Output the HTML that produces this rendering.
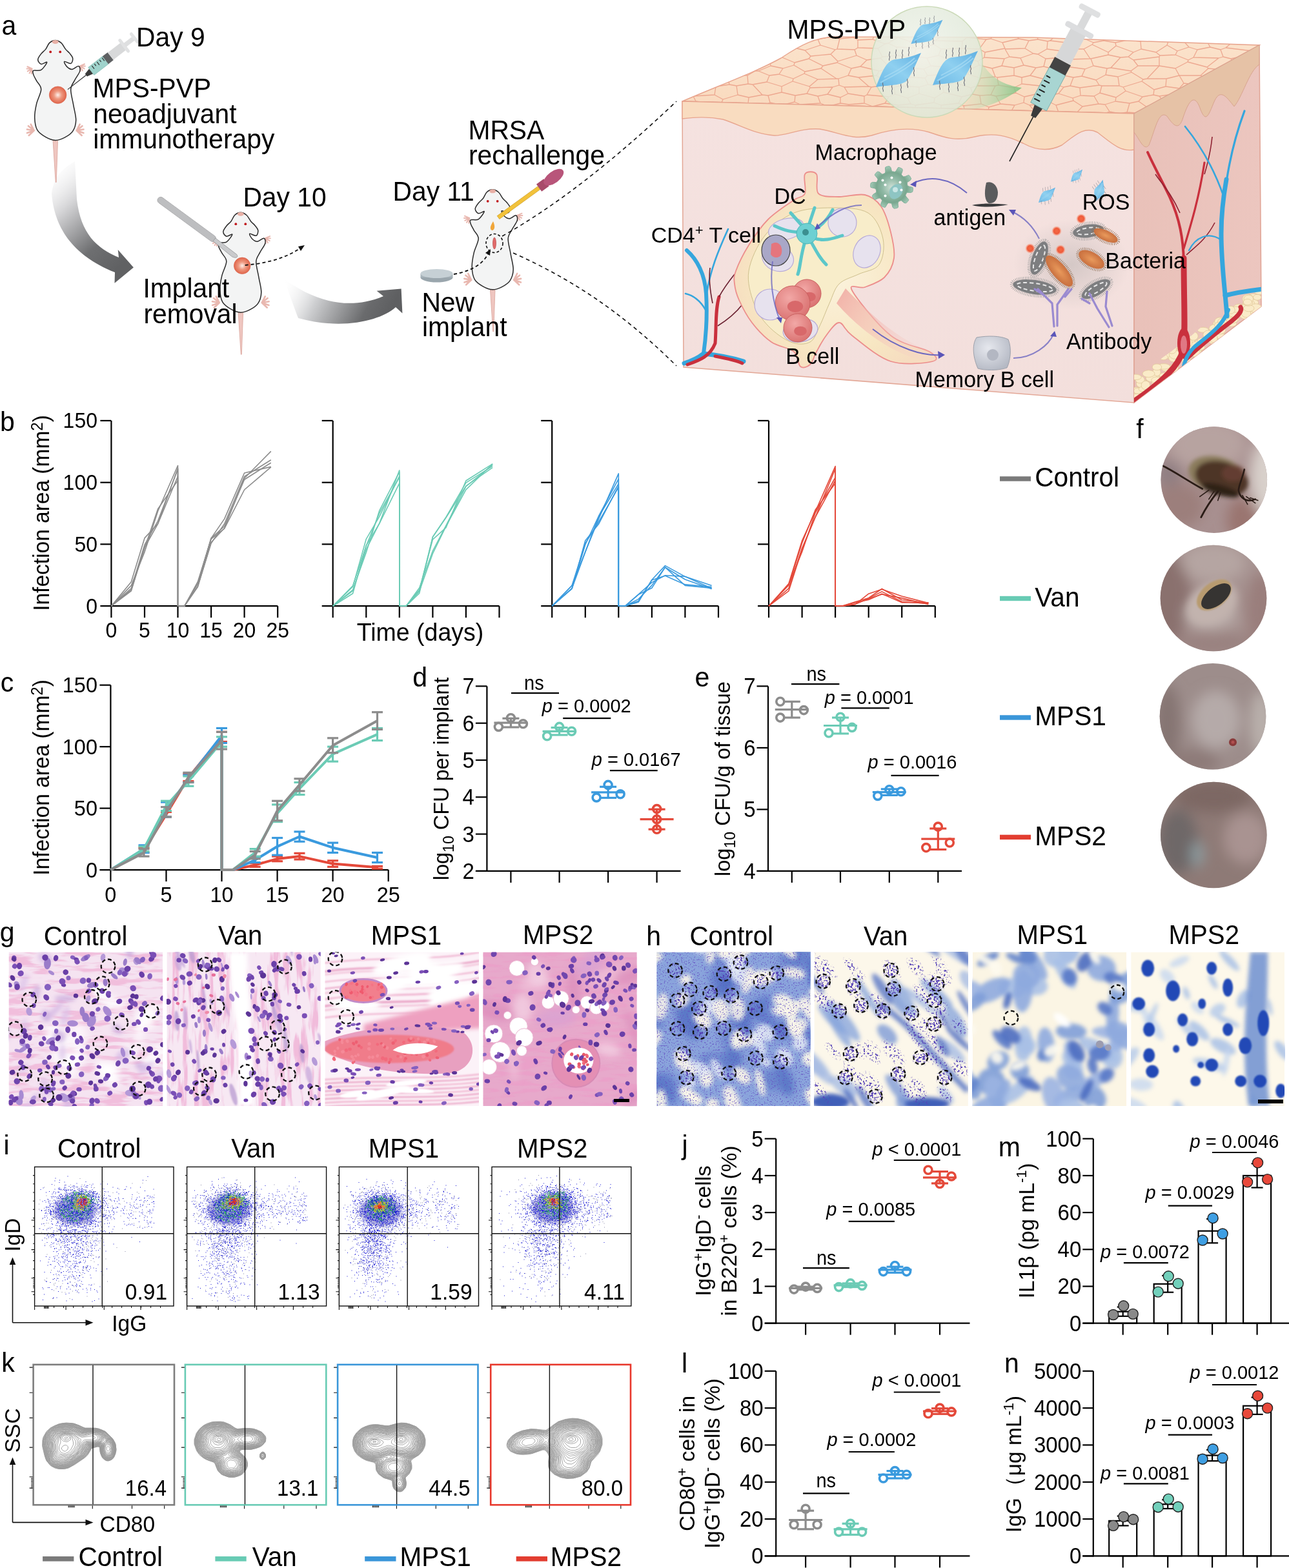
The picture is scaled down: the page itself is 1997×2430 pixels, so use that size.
<!DOCTYPE html>
<html><head><meta charset="utf-8"><title>Figure</title>
<style>html,body{margin:0;padding:0;background:#fff}svg{display:block}text{font-family:"Liberation Sans",Arial,sans-serif;fill:#000}</style>
</head><body>
<svg xmlns="http://www.w3.org/2000/svg" width="1997" height="2430" viewBox="0 0 1997 2430">
<defs><radialGradient id="implant" cx="0.5" cy="0.5" r="0.5"><stop offset="0" stop-color="#fdf0ea"/><stop offset="0.45" stop-color="#ee9a82"/><stop offset="1" stop-color="#e0654a"/></radialGradient>
<linearGradient id="arr1" x1="0" y1="0" x2="0.6" y2="1"><stop offset="0" stop-color="#fff" stop-opacity="0"/><stop offset="0.35" stop-color="#d6d6d8"/><stop offset="0.75" stop-color="#6e6f71"/><stop offset="1" stop-color="#606163"/></linearGradient>
<linearGradient id="arr2" x1="0" y1="0" x2="1" y2="0.2"><stop offset="0" stop-color="#fff" stop-opacity="0"/><stop offset="0.35" stop-color="#cfd0d2"/><stop offset="0.8" stop-color="#6a6b6d"/><stop offset="1" stop-color="#5e5f61"/></linearGradient>
<linearGradient id="skinTop" x1="0" y1="0" x2="0" y2="1"><stop offset="0" stop-color="#fbe3cc"/><stop offset="1" stop-color="#f9d9bd"/></linearGradient>
<linearGradient id="front" x1="0" y1="0" x2="0" y2="1"><stop offset="0" stop-color="#f5e2e0"/><stop offset="1" stop-color="#f3dfdc"/></linearGradient>
<linearGradient id="side" x1="0" y1="0" x2="1" y2="0"><stop offset="0" stop-color="#e9c1b9"/><stop offset="1" stop-color="#ecc6bf"/></linearGradient>
<radialGradient id="bubble" cx="0.45" cy="0.4" r="0.6"><stop offset="0" stop-color="#f1f4ec" stop-opacity="0.9"/><stop offset="1" stop-color="#dfe8d8" stop-opacity="0.85"/></radialGradient>
<linearGradient id="cone" x1="0" y1="0" x2="1" y2="0"><stop offset="0" stop-color="#d8ecd3" stop-opacity="0.2"/><stop offset="1" stop-color="#7dc27f" stop-opacity="0.9"/></linearGradient>
<radialGradient id="node" cx="0.5" cy="0.55" r="0.55"><stop offset="0" stop-color="#fbf2dc"/><stop offset="0.7" stop-color="#f7e6c2"/><stop offset="1" stop-color="#f6dcc0"/></radialGradient>
<radialGradient id="bcell" cx="0.4" cy="0.35" r="0.7"><stop offset="0" stop-color="#f2a8a6"/><stop offset="1" stop-color="#d9706f"/></radialGradient>
<radialGradient id="macro" cx="0.5" cy="0.5" r="0.5"><stop offset="0" stop-color="#cfe0d6"/><stop offset="0.45" stop-color="#8fb8a4"/><stop offset="0.72" stop-color="#79a78f"/><stop offset="1" stop-color="#a2c9b6"/></radialGradient>
<radialGradient id="mem" cx="0.4" cy="0.35" r="0.7"><stop offset="0" stop-color="#e6e8ee"/><stop offset="1" stop-color="#b5b9c4"/></radialGradient>
<radialGradient id="ros" cx="0.5" cy="0.5" r="0.5"><stop offset="0" stop-color="#f46a45"/><stop offset="0.6" stop-color="#ef5a3a"/><stop offset="1" stop-color="#f9b7a2" stop-opacity="0.4"/></radialGradient>
<radialGradient id="bact" cx="0.5" cy="0.5" r="0.5"><stop offset="0" stop-color="#e99a5c"/><stop offset="1" stop-color="#c86f3e"/></radialGradient>
<radialGradient id="haze" cx="0.5" cy="0.5" r="0.5"><stop offset="0" stop-color="#9a9a9a" stop-opacity="0.35"/><stop offset="1" stop-color="#9a9a9a" stop-opacity="0"/></radialGradient>
<linearGradient id="outflow" x1="0" y1="0" x2="1" y2="0.5"><stop offset="0" stop-color="#f0a8a0"/><stop offset="1" stop-color="#f6cfc8" stop-opacity="0.2"/></linearGradient>
<filter id="blur2" x="-20%" y="-20%" width="140%" height="140%"><feGaussianBlur stdDeviation="2"/></filter>
<filter id="blur4" x="-30%" y="-30%" width="160%" height="160%"><feGaussianBlur stdDeviation="4"/></filter>
<clipPath id="topclip"><path d="M1057,157 C1120,130 1170,112 1210,90 C1240,70 1265,56 1300,57 L1600,58 L1951,70 L1757,176 Z"/></clipPath>
<clipPath id="sideclip"><path d="M1757,624 L1757,580 C1800,560 1850,520 1900,470 C1925,448 1945,430 1954,420 L1954,475 Z"/></clipPath>
<clipPath id="sidefull"><path d="M1757,176 L1951,70 L1954,475 L1757,624 Z"/></clipPath>
<linearGradient id="sheetg" x1="0" y1="1" x2="1" y2="0"><stop offset="0" stop-color="#6ab8e6"/><stop offset="0.5" stop-color="#8fd0f0"/><stop offset="1" stop-color="#5fb0e2"/></linearGradient><filter id="b1" x="-10%" y="-10%" width="120%" height="120%"><feGaussianBlur stdDeviation="1"/></filter>
<filter id="b3" x="-30%" y="-30%" width="160%" height="160%"><feGaussianBlur stdDeviation="3"/></filter>
<filter id="b6" x="-30%" y="-30%" width="160%" height="160%"><feGaussianBlur stdDeviation="6"/></filter>
<filter id="b10" x="-50%" y="-50%" width="200%" height="200%"><feGaussianBlur stdDeviation="10"/></filter>
<clipPath id="ph0"><circle cx="1880.8" cy="743.6" r="82.3"/></clipPath>
<clipPath id="ph1"><circle cx="1880" cy="927" r="82.3"/></clipPath>
<clipPath id="ph2"><circle cx="1879" cy="1110.3" r="82.3"/></clipPath>
<clipPath id="ph3"><circle cx="1880.3" cy="1294" r="82.3"/></clipPath><filter id="spk1" x="0" y="0" width="100%" height="100%" color-interpolation-filters="sRGB"><feTurbulence type="fractalNoise" baseFrequency="0.32" numOctaves="2" seed="3" result="n"/><feColorMatrix in="n" type="matrix" values="0 0 0 0 0.34  0 0 0 0 0.26  0 0 0 0 0.72  16 0 0 0 -9.4" result="d"/><feComposite in="d" in2="SourceGraphic" operator="in"/></filter>
<filter id="spk2" x="0" y="0" width="100%" height="100%" color-interpolation-filters="sRGB"><feTurbulence type="fractalNoise" baseFrequency="0.3" numOctaves="2" seed="8" result="n"/><feColorMatrix in="n" type="matrix" values="0 0 0 0 0.32  0 0 0 0 0.24  0 0 0 0 0.7  18 0 0 0 -10.2" result="d"/><feComposite in="d" in2="SourceGraphic" operator="in"/></filter>
<filter id="fib" x="0" y="0" width="100%" height="100%" color-interpolation-filters="sRGB"><feTurbulence type="fractalNoise" baseFrequency="0.02 0.12" numOctaves="3" seed="4" result="n"/><feColorMatrix in="n" type="matrix" values="0 0 0 0 0.93  0 0 0 0 0.6  0 0 0 0 0.78  6 0 0 0 -2.9" result="d"/><feComposite in="d" in2="SourceGraphic" operator="in"/></filter>
<filter id="fibv" x="0" y="0" width="100%" height="100%" color-interpolation-filters="sRGB"><feTurbulence type="fractalNoise" baseFrequency="0.12 0.015" numOctaves="3" seed="6" result="n"/><feColorMatrix in="n" type="matrix" values="0 0 0 0 0.93  0 0 0 0 0.62  0 0 0 0 0.8  6 0 0 0 -2.9" result="d"/><feComposite in="d" in2="SourceGraphic" operator="in"/></filter>
<filter id="spk3" x="0" y="0" width="100%" height="100%" color-interpolation-filters="sRGB"><feTurbulence type="fractalNoise" baseFrequency="0.45" numOctaves="2" seed="11" result="n"/><feColorMatrix in="n" type="matrix" values="0 0 0 0 0.4  0 0 0 0 0.32  0 0 0 0 0.76  16 0 0 0 -9.8" result="d"/><feComposite in="d" in2="SourceGraphic" operator="in"/></filter>
<radialGradient id="clu"><stop offset="0" stop-color="#000"/><stop offset="0.55" stop-color="#000" stop-opacity="0.9"/><stop offset="1" stop-color="#000" stop-opacity="0"/></radialGradient>
<clipPath id="hc0"><rect x="13.5" y="1475.5" width="238.8" height="238.6"/></clipPath>
<clipPath id="hc1"><rect x="258.4" y="1475.5" width="238.4" height="238.6"/></clipPath>
<clipPath id="hc2"><rect x="503.5" y="1475.5" width="238.5" height="238.6"/></clipPath>
<clipPath id="hc3"><rect x="748.3" y="1475.5" width="238.5" height="238.6"/></clipPath>
<clipPath id="hc4"><rect x="1017.2" y="1475.5" width="238.4" height="238.5"/></clipPath>
<clipPath id="hc5"><rect x="1261.4" y="1475.5" width="238.5" height="238.5"/></clipPath>
<clipPath id="hc6"><rect x="1506.8" y="1475.5" width="238.5" height="238.5"/></clipPath>
<clipPath id="hc7"><rect x="1752.2" y="1475.5" width="237.9" height="238.5"/></clipPath></defs>
<rect width="1997" height="2430" fill="#fff"/>
<path d="M80,300 C84,350 110,395 178,422 L177.5,438.7 L206.9,414.5 L182.7,386.9 L184,399 C150,385 125,362 119,309 L116,250 C100,260 84,270 80,300 Z" fill="url(#arr1)"/>
<path d="M440,432 C480,462 535,484 594,459 L583.6,450.8 L621.6,447.4 L623.4,485.4 L613,476 C590,497 530,512 462,493 C455,475 448,455 440,432 Z" fill="url(#arr2)"/>
<g transform="translate(85.7 62.4) scale(1)"><path d="M-4,150 L4,150 L1.5,220 L0.5,220 Z" fill="#efc6c0" stroke="#d9a39a" stroke-width="0.8"/><g transform="translate(-33 140) rotate(10) scale(1.1)" stroke="#e9b8b0" stroke-width="2.4" stroke-linecap="round" fill="none"><path d="M0,0 L-10,0 M0,0 L-9,-5 M0,0 L-9,5 M0,0 L-6,-8 M0,0 L-6,8"/></g><g transform="translate(33 140) rotate(170) scale(1.1)" stroke="#e9b8b0" stroke-width="2.4" stroke-linecap="round" fill="none"><path d="M0,0 L-10,0 M0,0 L-9,-5 M0,0 L-9,5 M0,0 L-6,-8 M0,0 L-6,8"/></g><g transform="translate(-36 44) rotate(-30) scale(0.8)" stroke="#e9b8b0" stroke-width="2.4" stroke-linecap="round" fill="none"><path d="M0,0 L-10,0 M0,0 L-9,-5 M0,0 L-9,5 M0,0 L-6,-8 M0,0 L-6,8"/></g><g transform="translate(38 40) rotate(210) scale(0.8)" stroke="#e9b8b0" stroke-width="2.4" stroke-linecap="round" fill="none"><path d="M0,0 L-10,0 M0,0 L-9,-5 M0,0 L-9,5 M0,0 L-6,-8 M0,0 L-6,8"/></g><path d="M0,0 C3,0 6.3,1.7 9,4 C11.7,6.3 13.8,11.3 16,14 C18.2,16.7 20.2,17.7 22,20 C23.8,22.3 26.7,25.3 27,28 C27.3,30.7 26.2,35.2 24,36 C21.8,36.8 15,32.2 14,33 C13,33.8 16,39 18,41 C20,43 23,45.2 26,45 C29,44.8 34,39.5 36,40 C38,40.5 39,44.3 38,48 C37,51.7 32.3,57.3 30,62 C27.7,66.7 24.3,69.7 24,76 C23.7,82.3 26.7,92 28,100 C29.3,108 32.2,117.2 32,124 C31.8,130.8 30,136.5 27,141 C24,145.5 18.5,148.7 14,151 C9.5,153.3 4.8,155.2 0,155 C-4.8,154.8 -10.3,152.7 -15,150 C-19.7,147.3 -25.2,144 -28,139 C-30.8,134 -31.8,126.8 -32,120 C-32.2,113.2 -30.7,105.3 -29,98 C-27.3,90.7 -22,81.8 -22,76 C-22,70.2 -27,66.8 -29,63 C-31,59.2 -33.2,55.7 -34,53 C-34.8,50.3 -36,48.2 -34,47 C-32,45.8 -25.5,48.2 -22,46 C-18.5,43.8 -13,35.5 -13,34 C-13,32.5 -19.7,37.7 -22,37 C-24.3,36.3 -27,32.7 -27,30 C-27,27.3 -24,23.7 -22,21 C-20,18.3 -17.2,16.8 -15,14 C-12.8,11.2 -11.5,6.3 -9,4 C-6.5,1.7 -3,0 0,0Z" fill="#f3f4f4" stroke="#2a2a2a" stroke-width="1.5"/><ellipse cx="0" cy="2.5" rx="5" ry="3" fill="#e8b0a6"/><circle cx="-7.5" cy="18" r="1.9" fill="#c0171b"/><circle cx="7.5" cy="18" r="1.9" fill="#c0171b"/></g>
<g transform="translate(372.8 329.2) scale(1)"><path d="M-4,150 L4,150 L1.5,220 L0.5,220 Z" fill="#efc6c0" stroke="#d9a39a" stroke-width="0.8"/><g transform="translate(-33 140) rotate(10) scale(1.1)" stroke="#e9b8b0" stroke-width="2.4" stroke-linecap="round" fill="none"><path d="M0,0 L-10,0 M0,0 L-9,-5 M0,0 L-9,5 M0,0 L-6,-8 M0,0 L-6,8"/></g><g transform="translate(33 140) rotate(170) scale(1.1)" stroke="#e9b8b0" stroke-width="2.4" stroke-linecap="round" fill="none"><path d="M0,0 L-10,0 M0,0 L-9,-5 M0,0 L-9,5 M0,0 L-6,-8 M0,0 L-6,8"/></g><g transform="translate(-36 44) rotate(-30) scale(0.8)" stroke="#e9b8b0" stroke-width="2.4" stroke-linecap="round" fill="none"><path d="M0,0 L-10,0 M0,0 L-9,-5 M0,0 L-9,5 M0,0 L-6,-8 M0,0 L-6,8"/></g><g transform="translate(38 40) rotate(210) scale(0.8)" stroke="#e9b8b0" stroke-width="2.4" stroke-linecap="round" fill="none"><path d="M0,0 L-10,0 M0,0 L-9,-5 M0,0 L-9,5 M0,0 L-6,-8 M0,0 L-6,8"/></g><path d="M0,0 C3,0 6.3,1.7 9,4 C11.7,6.3 13.8,11.3 16,14 C18.2,16.7 20.2,17.7 22,20 C23.8,22.3 26.7,25.3 27,28 C27.3,30.7 26.2,35.2 24,36 C21.8,36.8 15,32.2 14,33 C13,33.8 16,39 18,41 C20,43 23,45.2 26,45 C29,44.8 34,39.5 36,40 C38,40.5 39,44.3 38,48 C37,51.7 32.3,57.3 30,62 C27.7,66.7 24.3,69.7 24,76 C23.7,82.3 26.7,92 28,100 C29.3,108 32.2,117.2 32,124 C31.8,130.8 30,136.5 27,141 C24,145.5 18.5,148.7 14,151 C9.5,153.3 4.8,155.2 0,155 C-4.8,154.8 -10.3,152.7 -15,150 C-19.7,147.3 -25.2,144 -28,139 C-30.8,134 -31.8,126.8 -32,120 C-32.2,113.2 -30.7,105.3 -29,98 C-27.3,90.7 -22,81.8 -22,76 C-22,70.2 -27,66.8 -29,63 C-31,59.2 -33.2,55.7 -34,53 C-34.8,50.3 -36,48.2 -34,47 C-32,45.8 -25.5,48.2 -22,46 C-18.5,43.8 -13,35.5 -13,34 C-13,32.5 -19.7,37.7 -22,37 C-24.3,36.3 -27,32.7 -27,30 C-27,27.3 -24,23.7 -22,21 C-20,18.3 -17.2,16.8 -15,14 C-12.8,11.2 -11.5,6.3 -9,4 C-6.5,1.7 -3,0 0,0Z" fill="#f3f4f4" stroke="#2a2a2a" stroke-width="1.5"/><ellipse cx="0" cy="2.5" rx="5" ry="3" fill="#e8b0a6"/><circle cx="-7.5" cy="18" r="1.9" fill="#c0171b"/><circle cx="7.5" cy="18" r="1.9" fill="#c0171b"/></g>
<g transform="translate(763.2 293.8) scale(1)"><path d="M-4,150 L4,150 L1.5,220 L0.5,220 Z" fill="#efc6c0" stroke="#d9a39a" stroke-width="0.8"/><g transform="translate(-33 140) rotate(10) scale(1.1)" stroke="#e9b8b0" stroke-width="2.4" stroke-linecap="round" fill="none"><path d="M0,0 L-10,0 M0,0 L-9,-5 M0,0 L-9,5 M0,0 L-6,-8 M0,0 L-6,8"/></g><g transform="translate(33 140) rotate(170) scale(1.1)" stroke="#e9b8b0" stroke-width="2.4" stroke-linecap="round" fill="none"><path d="M0,0 L-10,0 M0,0 L-9,-5 M0,0 L-9,5 M0,0 L-6,-8 M0,0 L-6,8"/></g><g transform="translate(-36 44) rotate(-30) scale(0.8)" stroke="#e9b8b0" stroke-width="2.4" stroke-linecap="round" fill="none"><path d="M0,0 L-10,0 M0,0 L-9,-5 M0,0 L-9,5 M0,0 L-6,-8 M0,0 L-6,8"/></g><g transform="translate(38 40) rotate(210) scale(0.8)" stroke="#e9b8b0" stroke-width="2.4" stroke-linecap="round" fill="none"><path d="M0,0 L-10,0 M0,0 L-9,-5 M0,0 L-9,5 M0,0 L-6,-8 M0,0 L-6,8"/></g><path d="M0,0 C3,0 6.3,1.7 9,4 C11.7,6.3 13.8,11.3 16,14 C18.2,16.7 20.2,17.7 22,20 C23.8,22.3 26.7,25.3 27,28 C27.3,30.7 26.2,35.2 24,36 C21.8,36.8 15,32.2 14,33 C13,33.8 16,39 18,41 C20,43 23,45.2 26,45 C29,44.8 34,39.5 36,40 C38,40.5 39,44.3 38,48 C37,51.7 32.3,57.3 30,62 C27.7,66.7 24.3,69.7 24,76 C23.7,82.3 26.7,92 28,100 C29.3,108 32.2,117.2 32,124 C31.8,130.8 30,136.5 27,141 C24,145.5 18.5,148.7 14,151 C9.5,153.3 4.8,155.2 0,155 C-4.8,154.8 -10.3,152.7 -15,150 C-19.7,147.3 -25.2,144 -28,139 C-30.8,134 -31.8,126.8 -32,120 C-32.2,113.2 -30.7,105.3 -29,98 C-27.3,90.7 -22,81.8 -22,76 C-22,70.2 -27,66.8 -29,63 C-31,59.2 -33.2,55.7 -34,53 C-34.8,50.3 -36,48.2 -34,47 C-32,45.8 -25.5,48.2 -22,46 C-18.5,43.8 -13,35.5 -13,34 C-13,32.5 -19.7,37.7 -22,37 C-24.3,36.3 -27,32.7 -27,30 C-27,27.3 -24,23.7 -22,21 C-20,18.3 -17.2,16.8 -15,14 C-12.8,11.2 -11.5,6.3 -9,4 C-6.5,1.7 -3,0 0,0Z" fill="#f3f4f4" stroke="#2a2a2a" stroke-width="1.5"/><ellipse cx="0" cy="2.5" rx="5" ry="3" fill="#e8b0a6"/><circle cx="-7.5" cy="18" r="1.9" fill="#c0171b"/><circle cx="7.5" cy="18" r="1.9" fill="#c0171b"/></g>
<circle cx="89.6" cy="147.2" r="13.3" fill="url(#implant)" stroke="#d8604a" stroke-width="0.6"/>
<circle cx="375.2" cy="411.8" r="12.8" fill="url(#implant)" stroke="#d8604a" stroke-width="0.6"/>
<g transform="translate(104.9 138.6) rotate(-37.8)"><line x1="0" y1="0" x2="38" y2="0" stroke="#333" stroke-width="1.2"/><path d="M36,-2.5 L46,-5 L46,5 L36,2.5 Z" fill="#3a3a3a"/><rect x="46" y="-7.5" width="28" height="15" fill="#9fd3cc" stroke="#7ab8b0" stroke-width="0.6"/><rect x="74" y="-7.5" width="10" height="15" fill="#5f6163"/><rect x="84" y="-7" width="26" height="14" fill="#d8d9da"/><rect x="108" y="-13" width="5" height="26" rx="2.5" fill="#e1e2e3"/><rect x="112" y="-3.5" width="18" height="7" fill="#dedfe0"/><rect x="128" y="-10" width="5" height="20" rx="2.5" fill="#e3e4e5"/><path d="M52,-6 v6 M57,-6 v4 M62,-6 v6 M67,-6 v4 M72,-6 v6" stroke="#333" stroke-width="1.2"/></g>
<g transform="translate(244.9 307.4) rotate(36.3)"><rect x="0" y="-5" width="110" height="10" rx="5" fill="#bdbec0" stroke="#a8a9ab" stroke-width="0.8"/><path d="M108,-3 L150,-2 C155,0 152,4 146,5 L108,3 Z" fill="#c9cacc" stroke="#9a9b9d" stroke-width="0.8"/></g>
<path d="M379.7,411 C410,408 440,402 466,384" fill="none" stroke="#111" stroke-width="1.8" stroke-dasharray="5 4"/>
<path d="M472,380 L462,382 L466,389 Z" fill="#111"/>
<ellipse cx="676.5" cy="430" rx="25" ry="7.5" fill="#9aa6ad"/><rect x="651.5" y="424" width="50" height="6" fill="#a7b3ba"/><ellipse cx="676.5" cy="424" rx="25" ry="7" fill="#c6d0d5"/>
<path d="M703,425 C730,420 748,410 757,392" fill="none" stroke="#111" stroke-width="1.8" stroke-dasharray="5 4"/>
<path d="M760,386 L752,392 L759,396 Z" fill="#111"/>
<ellipse cx="766" cy="377" rx="13" ry="14.5" fill="none" stroke="#111" stroke-width="1.6" stroke-dasharray="4 3"/>
<ellipse cx="766" cy="377" rx="2.5" ry="9" fill="#e06a6a" stroke="#b04040" stroke-width="0.6"/>
<g transform="translate(772 337) rotate(-36)"><rect x="0" y="-3" width="78" height="6" fill="#f2c23a" stroke="#c9961a" stroke-width="0.6"/><path d="M78,-7 L92,-7 L92,7 L78,7 Z" fill="#a84a6a"/><ellipse cx="106" cy="0" rx="18" ry="9" fill="#b8557a"/></g>
<path d="M764,343 C760,350 758,354 762,357 C766,357 768,352 764,343 Z" fill="#f0a63a"/>
<path d="M778,366 C860,320 950,250 1048,157" fill="none" stroke="#111" stroke-width="1.6" stroke-dasharray="6 5"/>
<path d="M795,392 C880,430 960,480 1048,567" fill="none" stroke="#111" stroke-width="1.6" stroke-dasharray="6 5"/>
<text transform="matrix(1 0 0 1.05 211 72)" font-size="40.8">Day 9</text>
<text transform="matrix(1 0 0 1.05 143.6 150.9)" font-size="40.8">MPS-PVP</text>
<text transform="matrix(1 0 0 1.05 144.2 190.5)" font-size="40.8">neoadjuvant</text>
<text transform="matrix(1 0 0 1.05 144.2 230.4)" font-size="40.8">immunotherapy</text>
<text transform="matrix(1 0 0 1.05 376.4 319.5)" font-size="40.8">Day 10</text>
<text transform="matrix(1 0 0 1.05 221.4 461.2)" font-size="40.8">Implant</text>
<text transform="matrix(1 0 0 1.05 222.5 501)" font-size="40.8">removal</text>
<text transform="matrix(1 0 0 1.05 725.4 216)" font-size="40.8">MRSA</text>
<text transform="matrix(1 0 0 1.05 726 255.2)" font-size="40.8">rechallenge</text>
<text transform="matrix(1 0 0 1.05 608.5 311)" font-size="40.8">Day 11</text>
<text transform="matrix(1 0 0 1.05 653.4 482.7)" font-size="40.8">New</text>
<text transform="matrix(1 0 0 1.05 654 521.3)" font-size="40.8">implant</text>
<path d="M1057,157 C1120,130 1170,112 1210,90 C1240,70 1265,56 1300,57 L1600,58 L1951,70 L1757,176 Z" fill="url(#skinTop)" stroke="#e8a58e" stroke-width="1.5"/>
<g clip-path="url(#topclip)"><path d="M1982 101L1954 109M1987 116L1958 113M1958 113L1954 109M1979 128L1987 116M1982 101L1981 95M1385 135L1370 132M1385 135L1387 146M1377 150L1387 146M1377 150L1343 147M1343 147L1350 135M1370 132L1350 135M1431 202L1403 204M1361 203L1363 202M1363 202L1396 201M1396 201L1403 204M1189 208L1202 197M1202 197L1234 203M1289 204L1259 209M1289 204L1292 205M1337 207L1320 200M1320 200L1292 205M1243 202L1234 203M1243 202L1259 209M1361 203L1337 207M1353 169L1331 180M1353 169L1374 178M1360 189L1375 182M1360 189L1332 186M1332 186L1331 180M1375 182L1374 178M1363 202L1360 189M1396 201L1396 189M1396 189L1375 182M1320 200L1320 195M1320 195L1332 186M1018 167L1037 173M1037 173L1048 187M1048 187L1013 196M1056 92L1048 104M1056 92L1022 84M1051 121L1065 111M1048 104L1065 110M1065 110L1065 111M1897 54L1871 44M1897 54L1912 45M1871 44L1860 48M1860 48L1840 48M1461 134L1462 143M1461 134L1438 131M1462 143L1448 152M1438 131L1424 135M1424 135L1424 145M1424 145L1448 152M1385 135L1395 133M1387 146L1406 152M1395 133L1424 135M1424 145L1406 152M1796 102L1777 122M1796 102L1796 102M1796 102L1821 106M1821 106L1827 117M1777 122L1807 122M1827 117L1807 122M1246 114L1267 123M1246 114L1247 111M1296 122L1267 123M1296 122L1272 106M1272 106L1247 111M1246 114L1229 122M1267 123L1254 134M1254 134L1228 126M1228 126L1229 122M1300 132L1299 122M1300 132L1308 135M1299 122L1314 117M1308 135L1346 134M1346 134L1330 120M1314 117L1330 120M1978 203L1966 202M1966 202L1958 203M1470 189L1459 199M1470 189L1454 185M1454 185L1430 192M1459 199L1431 202M1431 202L1430 192M1445 178L1454 185M1445 178L1421 177M1416 183L1421 177M1416 183L1430 192M1478 212L1459 199M1431 202L1431 202M1396 189L1416 183M1392 163L1386 174M1392 163L1411 161M1386 174L1419 175M1419 175L1418 163M1418 163L1411 161M1371 160L1392 163M1371 160L1352 165M1352 165L1353 169M1374 178L1386 174M1377 150L1371 160M1406 152L1411 161M1421 177L1419 175M1458 163L1458 170M1458 163L1447 159M1458 170L1445 178M1447 159L1418 163M1447 159L1448 152M1196 189L1202 197M1196 189L1226 183M1243 202L1249 191M1249 191L1226 183M1190 187L1188 176M1190 187L1196 189M1211 171L1188 176M1211 171L1228 177M1228 177L1226 183M1302 151L1302 160M1302 151L1314 145M1314 145L1339 149M1315 162L1302 160M1315 162L1339 160M1339 160L1339 149M1308 135L1314 145M1343 147L1339 149M1346 134L1350 135M1352 165L1339 160M1331 180L1316 176M1316 176L1315 162M1267 149L1282 146M1267 149L1250 145M1255 136L1290 135M1255 136L1250 145M1290 135L1282 146M1271 160L1267 149M1271 160L1283 165M1283 165L1302 160M1302 151L1282 146M1300 132L1290 135M1299 122L1296 122M1254 134L1255 136M1150 205L1166 204M1150 205L1149 204M1149 204L1143 189M1166 204L1183 188M1183 188L1155 187M1155 187L1143 189M1189 208L1166 204M1116 188L1123 185M1116 188L1109 200M1124 209L1109 200M1124 209L1149 204M1123 185L1143 189M1190 187L1183 188M1188 176L1181 172M1181 172L1159 174M1159 174L1155 187M1140 168L1159 174M1140 168L1123 185M1123 185L1123 185M1081 203L1069 196M1069 196L1040 205M1109 200L1081 203M1075 187L1116 188M1075 187L1068 190M1068 190L1069 196M1068 190L1048 187M1013 196L1040 205M1180 165L1181 172M1180 165L1159 160M1140 168L1140 167M1140 167L1159 160M1102 104L1091 103M1102 104L1108 114M1091 103L1065 110M1065 111L1091 123M1108 114L1091 123M1840 48L1821 56M1806 43L1821 56M1796 102L1763 102M1796 102L1796 88M1763 102L1756 93M1756 93L1796 88M1808 70L1791 81M1808 70L1824 79M1824 79L1821 85M1821 85L1797 86M1797 86L1791 81M1821 106L1840 96M1841 93L1840 96M1841 93L1821 85M1796 88L1797 86M1806 43L1775 50M1811 61L1778 60M1811 61L1819 59M1819 59L1821 56M1775 50L1778 60M1952 94L1966 93M1952 94L1936 85M1966 93L1965 75M1936 85L1940 79M1940 79L1952 73M1952 73L1965 75M1981 95L1966 93M1984 75L1965 75M1979 128L1962 132M1958 113L1946 128M1962 132L1946 128M1946 128L1946 128M1954 109L1944 106M1952 94L1942 103M1942 103L1944 106M1946 128L1921 116M1944 106L1921 116M1962 132L1970 143M1929 143L1945 129M1929 143L1951 152M1945 129L1946 128M1951 152L1970 143M1986 145L1970 143M1842 73L1855 77M1842 73L1833 63M1833 63L1864 61M1855 77L1875 73M1875 73L1869 63M1869 63L1864 61M1849 89L1841 93M1849 89L1855 77M1824 79L1842 73M1811 61L1808 70M1819 59L1833 63M1860 48L1864 61M1891 77L1899 74M1891 77L1875 73M1899 74L1912 63M1912 63L1897 55M1897 55L1869 63M1897 55L1897 54M1951 152L1950 157M1950 157L1962 162M1763 102L1752 110M1736 89L1748 88M1736 89L1721 105M1756 93L1748 88M1721 105L1752 110M1771 123L1777 122M1771 123L1753 112M1753 112L1752 110M1771 123L1769 126M1769 126L1740 135M1732 119L1753 112M1732 119L1734 133M1740 135L1734 133M1434 44L1469 48M1472 47L1469 48M1517 42L1495 55M1495 55L1472 47M1395 133L1402 119M1438 131L1433 121M1402 119L1433 121M1458 76L1454 86M1458 76L1447 69M1419 76L1447 69M1419 76L1416 87M1416 87L1436 90M1454 86L1436 90M1272 106L1275 102M1247 111L1230 101M1231 97L1230 101M1231 97L1253 91M1275 102L1253 91M1314 117L1319 106M1319 106L1297 97M1275 102L1297 97M1134 116L1137 105M1134 116L1127 118M1102 104L1120 100M1127 118L1108 114M1137 105L1120 100M1054 43L1076 48M1054 43L1024 58M1024 58L1048 63M1048 63L1072 62M1073 62L1072 62M1073 62L1076 48M1076 48L1076 48M1022 84L1047 77M1047 77L1048 63M1073 62L1108 64M1076 48L1109 50M1108 64L1109 50M1137 105L1160 104M1120 100L1125 93M1160 104L1163 91M1163 91L1142 87M1125 93L1142 87M1063 90L1086 96M1063 90L1068 81M1086 96L1099 84M1068 81L1076 78M1076 78L1098 81M1099 84L1098 81M1056 92L1063 90M1091 103L1086 96M1047 77L1068 81M1125 93L1099 84M1072 62L1076 78M1118 68L1108 64M1118 68L1120 71M1120 71L1098 81M1142 87L1136 75M1136 75L1120 71M1419 76L1416 74M1416 87L1410 88M1416 74L1389 73M1410 88L1390 86M1389 73L1390 86M1297 97L1298 95M1256 87L1287 84M1256 87L1253 91M1298 95L1287 84M1319 106L1333 103M1333 103L1343 93M1343 93L1327 86M1298 95L1327 86M1343 93L1364 90M1329 74L1324 77M1329 74L1360 75M1364 90L1367 88M1360 75L1367 88M1327 86L1324 77M1212 163L1193 159M1212 163L1231 158M1232 148L1231 158M1232 148L1211 143M1193 159L1190 148M1211 143L1190 148M1211 171L1212 163M1180 165L1193 159M1240 162L1231 158M1240 162L1243 171M1243 171L1228 177M1240 162L1271 160M1250 145L1232 148M1211 134L1228 126M1211 134L1211 143M1958 203L1930 199M1930 199L1913 212M1620 207L1640 204M1660 212L1640 204M1620 207L1604 198M1604 198L1606 192M1638 194L1640 204M1638 194L1609 191M1609 191L1606 192M1458 170L1486 178M1470 189L1478 188M1478 188L1486 178M1462 143L1490 150M1458 163L1485 160M1490 150L1485 160M1585 206L1571 200M1571 200L1543 206M1604 198L1585 206M1293 179L1279 173M1293 179L1294 186M1294 186L1279 192M1267 176L1254 190M1267 176L1279 173M1279 192L1254 190M1316 176L1293 179M1283 165L1279 173M1320 195L1294 186M1289 204L1279 192M1243 171L1267 176M1249 191L1254 190M1018 167L1039 160M1039 160L1050 150M1050 150L1029 138M1051 121L1054 131M1029 138L1054 131M1091 123L1091 130M1091 130L1074 134M1054 131L1074 134M1050 150L1074 149M1074 134L1074 149M1074 149L1074 149M1159 160L1160 151M1190 148L1181 147M1181 147L1160 151M1166 91L1163 91M1166 91L1172 78M1136 75L1154 72M1154 72L1172 78M1207 87L1192 91M1207 87L1209 81M1209 81L1187 75M1192 91L1166 91M1172 78L1187 75M1207 87L1231 97M1209 81L1226 73M1256 87L1247 78M1247 78L1226 73M1775 50L1766 44M1791 81L1768 76M1778 60L1767 64M1767 64L1768 76M1748 88L1756 81M1756 81L1768 76M1664 47L1644 48M1644 48L1621 40M1583 44L1604 46M1604 46L1621 40M1689 91L1656 92M1689 91L1679 76M1649 89L1656 92M1649 89L1651 80M1679 76L1659 76M1651 80L1659 76M1940 79L1899 74M1912 63L1931 62M1952 73L1948 68M1931 62L1948 68M1912 45L1938 49M1931 62L1938 49M1938 49L1944 47M1899 120L1910 130M1899 120L1874 124M1871 130L1874 124M1871 130L1901 140M1901 140L1910 130M1945 129L1910 130M1921 116L1905 115M1905 115L1899 120M1904 145L1929 143M1904 145L1901 140M1912 98L1900 109M1912 98L1907 91M1907 91L1895 88M1900 109L1872 106M1888 90L1870 104M1888 90L1895 88M1870 104L1872 106M1942 103L1912 98M1905 115L1900 109M1936 85L1907 91M1891 77L1895 88M1860 117L1874 124M1860 117L1872 106M1849 89L1888 90M1840 96L1870 104M1827 117L1827 117M1860 117L1827 117M1804 209L1818 196M1818 196L1844 204M1713 116L1715 106M1713 116L1698 124M1698 124L1676 118M1676 118L1681 107M1681 107L1694 102M1694 102L1715 106M1721 105L1715 106M1732 119L1713 116M1690 91L1694 102M1690 91L1689 91M1656 92L1651 103M1651 103L1681 107M1717 85L1736 89M1717 85L1690 91M1827 117L1834 129M1871 130L1865 133M1865 133L1834 129M1807 122L1806 134M1834 129L1827 137M1806 134L1827 137M1769 126L1788 139M1806 134L1788 139M1661 178L1640 174M1661 178L1659 187M1659 187L1638 194M1609 191L1619 177M1640 174L1619 177M1666 177L1677 165M1666 177L1699 180M1677 165L1702 161M1699 180L1719 173M1719 173L1712 162M1702 161L1712 162M1750 160L1728 157M1750 160L1746 174M1746 174L1734 176M1734 176L1719 173M1712 162L1728 157M1449 63L1491 64M1449 63L1448 63M1458 76L1490 75M1448 63L1447 69M1490 75L1491 64M1449 63L1469 48M1495 55L1498 58M1491 64L1498 58M1517 42L1540 51M1528 61L1498 58M1528 61L1535 60M1535 60L1540 51M1540 51L1556 46M1583 44L1572 47M1556 46L1572 47M1448 63L1439 60M1416 74L1409 64M1409 64L1439 60M1434 44L1421 47M1439 60L1421 47M1407 45L1421 47M1397 114L1396 107M1397 114L1366 123M1396 107L1379 105M1379 105L1362 110M1362 110L1358 117M1366 123L1358 117M1370 132L1366 123M1402 119L1397 114M1410 88L1402 105M1364 90L1379 105M1402 105L1396 107M1390 86L1367 88M1333 103L1362 110M1330 120L1358 117M1468 115L1465 104M1468 115L1437 117M1465 104L1442 102M1437 117L1431 107M1431 107L1442 102M1481 120L1468 115M1481 120L1499 115M1470 101L1465 104M1470 101L1506 106M1499 115L1506 106M1478 128L1461 134M1478 128L1481 120M1433 121L1437 117M1454 86L1473 93M1436 90L1442 102M1473 93L1470 101M1402 105L1431 107M1134 116L1158 117M1160 104L1170 110M1170 110L1158 117M1211 134L1188 127M1181 147L1166 131M1188 127L1166 131M1213 106L1194 102M1213 106L1207 115M1194 102L1175 110M1207 115L1192 117M1192 117L1175 110M1230 101L1213 106M1192 91L1194 102M1229 122L1207 115M1170 110L1175 110M1188 127L1192 117M1158 117L1159 130M1166 131L1159 130M1352 61L1356 52M1352 61L1371 68M1371 68L1376 67M1376 67L1391 58M1356 52L1382 49M1391 58L1391 51M1382 49L1391 51M1341 48L1325 52M1341 48L1356 52M1325 52L1322 58M1322 58L1329 62M1329 62L1352 61M1329 74L1329 62M1360 75L1371 68M1389 73L1376 67M1409 64L1391 58M1349 26L1341 48M1349 26L1382 49M1407 45L1391 51M1606 192L1600 191M1571 200L1571 193M1571 193L1600 191M1478 212L1499 202M1478 188L1487 191M1499 202L1487 191M1499 202L1528 203M1543 206L1530 202M1528 203L1530 202M1486 178L1495 174M1485 160L1493 164M1495 174L1493 164M1775 186L1791 192M1775 186L1749 193M1791 192L1773 206M1749 193L1753 202M1753 202L1770 206M1770 206L1773 206M1775 176L1775 186M1775 176L1784 172M1809 193L1791 192M1809 193L1806 176M1784 172L1806 176M1775 176L1746 174M1736 189L1749 193M1736 189L1734 176M1804 209L1773 206M1809 193L1817 195M1817 195L1818 196M1737 207L1753 202M1107 147L1120 154M1107 147L1109 134M1120 154L1143 147M1143 147L1141 133M1109 134L1130 131M1130 131L1141 133M1091 130L1109 134M1074 149L1107 147M1140 167L1118 159M1118 159L1120 154M1160 151L1143 147M1159 130L1141 133M1127 118L1130 131M1098 171L1077 174M1098 171L1106 163M1106 163L1078 157M1071 172L1077 174M1071 172L1069 163M1069 163L1078 157M1075 187L1077 174M1123 185L1098 171M1118 159L1106 163M1074 149L1078 157M1037 173L1071 172M1039 160L1069 163M1267 61L1271 70M1267 61L1288 57M1301 60L1297 76M1301 60L1288 57M1271 70L1294 77M1294 77L1297 76M1249 56L1267 61M1249 56L1225 64M1225 64L1226 73M1247 78L1271 70M1322 58L1301 60M1324 77L1297 76M1287 84L1294 77M1664 47L1670 48M1697 42L1670 48M1644 48L1627 63M1651 66L1627 63M1651 66L1673 57M1670 48L1673 57M1979 43L1964 48M1964 48L1966 58M1944 47L1964 48M1948 68L1966 58M1902 191L1891 203M1902 191L1873 183M1873 183L1863 190M1863 190L1862 200M1891 203L1875 204M1875 204L1862 200M1930 199L1926 193M1913 212L1891 203M1926 193L1916 189M1916 189L1902 191M1831 188L1863 190M1831 188L1817 195M1844 204L1862 200M1873 182L1900 172M1873 182L1873 183M1916 189L1920 177M1900 172L1920 177M1943 176L1957 187M1943 176L1964 168M1979 173L1964 168M1979 173L1977 184M1977 184L1961 188M1961 188L1957 187M1926 193L1957 187M1920 177L1929 176M1929 176L1943 176M1950 157L1931 160M1962 162L1964 168M1929 176L1931 160M1966 202L1961 188M1744 141L1729 151M1744 141L1740 135M1734 133L1707 133M1729 151L1704 144M1707 133L1704 144M1698 124L1703 132M1707 133L1703 132M1702 161L1695 149M1728 157L1729 151M1704 144L1695 149M1651 103L1635 108M1635 108L1639 115M1676 118L1663 120M1639 115L1663 120M1784 171L1804 159M1784 171L1764 157M1804 159L1796 149M1764 157L1770 150M1770 150L1787 147M1787 147L1796 149M1750 160L1764 157M1784 172L1784 171M1744 141L1770 150M1788 139L1787 147M1827 137L1831 144M1831 144L1796 149M1865 133L1857 144M1831 144L1838 146M1857 144L1838 146M1714 202L1701 207M1714 202L1714 193M1705 191L1714 193M1705 191L1677 196M1701 207L1677 202M1677 196L1677 202M1737 207L1714 202M1736 189L1714 193M1699 180L1705 191M1661 178L1666 177M1659 187L1677 196M1660 212L1677 202M1571 117L1571 105M1571 117L1545 120M1545 120L1542 119M1542 119L1537 106M1571 105L1552 102M1537 106L1552 102M1583 120L1571 117M1583 120L1583 130M1547 132L1571 136M1547 132L1545 120M1583 130L1571 136M1519 121L1542 119M1519 121L1499 115M1506 106L1517 101M1517 101L1537 106M1526 81L1525 89M1526 81L1517 76M1517 76L1490 75M1515 95L1525 89M1515 95L1489 89M1489 89L1490 75M1528 61L1517 76M1490 75L1490 75M1517 101L1515 95M1556 91L1552 102M1556 91L1525 89M1473 93L1489 89M1535 60L1553 66M1526 81L1557 75M1557 75L1553 66M1572 47L1578 60M1553 66L1578 60M1109 50L1113 48M1118 68L1143 56M1154 72L1167 61M1167 61L1143 56M1113 48L1139 51M1153 39L1139 51M1143 56L1139 51M1207 47L1195 44M1207 47L1210 59M1195 44L1176 47M1176 47L1174 60M1210 59L1183 62M1183 62L1174 60M1222 42L1207 47M1249 56L1250 50M1225 64L1210 59M1250 50L1222 42M1153 39L1176 47M1167 61L1174 60M1187 75L1183 62M1261 43L1290 48M1306 42L1290 48M1250 50L1261 43M1288 57L1290 48M1325 52L1306 42M1571 193L1557 187M1530 202L1534 192M1557 187L1534 192M1487 191L1523 187M1495 174L1519 177M1519 177L1523 187M1534 192L1523 187M1493 164L1520 161M1531 171L1519 177M1531 171L1532 166M1532 166L1520 161M1507 146L1518 148M1507 146L1504 136M1542 133L1535 147M1542 133L1514 133M1518 148L1535 147M1504 136L1514 133M1490 150L1507 146M1520 161L1518 148M1478 128L1504 136M1519 121L1514 133M1547 132L1542 133M1766 44L1741 51M1723 47L1741 51M1697 42L1714 47M1723 47L1714 47M1767 64L1747 62M1741 51L1747 62M1619 177L1602 171M1600 191L1583 180M1602 171L1583 180M1557 187L1563 179M1583 180L1563 179M1531 171L1563 179M1563 179L1563 179M1703 132L1673 136M1695 149L1674 148M1673 136L1674 148M1663 120L1658 133M1673 136L1658 133M1831 163L1829 173M1831 163L1836 161M1836 161L1865 163M1835 177L1863 178M1835 177L1829 173M1863 178L1865 163M1806 176L1829 173M1804 159L1831 163M1838 146L1836 161M1831 188L1835 177M1873 182L1863 178M1897 167L1921 159M1897 167L1879 159M1879 159L1881 152M1881 152L1903 145M1903 145L1921 159M1900 172L1897 167M1931 160L1921 159M1865 163L1879 159M1857 144L1881 152M1904 145L1903 145M1649 89L1620 91M1635 108L1617 103M1620 91L1617 103M1583 120L1596 117M1596 117L1605 105M1571 105L1586 101M1586 101L1605 105M1596 117L1623 124M1639 115L1623 124M1617 103L1605 105M1556 91L1564 88M1586 101L1581 90M1564 88L1581 90M1557 75L1557 76M1564 88L1557 76M1608 61L1594 63M1608 61L1623 64M1594 63L1588 75M1623 64L1622 76M1588 75L1601 83M1622 76L1608 84M1608 84L1601 83M1604 46L1608 61M1578 60L1594 63M1627 63L1623 64M1557 76L1588 75M1651 80L1622 76M1659 76L1651 66M1581 90L1601 83M1620 91L1608 84M1532 166L1550 161M1535 147L1543 149M1550 161L1543 149M1563 179L1572 163M1550 161L1572 163M1571 136L1574 144M1543 149L1574 144M1729 71L1728 66M1729 71L1717 81M1728 66L1710 63M1717 81L1692 69M1710 63L1694 66M1692 69L1694 66M1756 81L1729 71M1747 62L1728 66M1717 85L1717 81M1714 47L1710 63M1679 76L1692 69M1673 57L1694 66M1623 124L1623 127M1658 133L1648 135M1648 135L1623 127M1583 130L1611 133M1611 133L1623 127M1574 144L1587 150M1611 133L1613 144M1613 144L1587 150M1572 163L1586 159M1587 150L1586 159M1602 171L1595 163M1595 163L1586 159M1640 145L1630 147M1640 145L1662 152M1630 147L1628 159M1663 156L1636 163M1663 156L1662 152M1636 163L1628 159M1648 135L1640 145M1613 144L1630 147M1674 148L1662 152M1595 163L1628 159M1677 165L1663 156M1640 174L1636 163" fill="none" stroke="#eca48d" stroke-width="1.3" opacity="0.95"/></g>
<path d="M1057,157 L1757,176 L1757,624 L1059,569 Z" fill="url(#front)" stroke="#e3a796" stroke-width="1.5"/>
<path d="M1057,157 L1757,176 L1757,232 C1735,236 1720,220 1700,205 C1680,195 1665,210 1645,225 C1625,235 1605,233 1585,222 C1560,210 1540,205 1510,212 C1480,220 1460,212 1440,205 C1410,196 1380,200 1350,210 C1320,218 1300,205 1270,200 C1240,198 1220,210 1200,210 C1170,208 1150,195 1120,185 C1095,180 1075,182 1057,184 Z" fill="#f9dcc0" stroke="#e8a58e" stroke-width="1.4"/>
<path d="M1757,176 L1951,70 L1954,475 L1757,624 Z" fill="url(#side)" stroke="#e0a394" stroke-width="1.5"/>
<path d="M1757,176 L1951,70 L1951,100 C1935,110 1925,150 1912,165 C1900,150 1890,135 1880,160 C1872,180 1868,190 1860,170 C1850,140 1840,160 1832,185 C1825,205 1815,190 1808,180 C1795,170 1790,200 1780,225 C1772,235 1765,215 1757,205 Z" fill="#e6c2a6" stroke="#d9a58f" stroke-width="1"/>
<g clip-path="url(#sideclip)"><ellipse cx="1803.5" cy="582.2" rx="7.6" ry="4.5" fill="#faebc8" stroke="#e2c99a" stroke-width="0.8"/><ellipse cx="1770.1" cy="594.8" rx="9.7" ry="6.4" fill="#faebc8" stroke="#e2c99a" stroke-width="0.8"/><ellipse cx="1907.7" cy="501.4" rx="8.1" ry="4.8" fill="#faebc8" stroke="#e2c99a" stroke-width="0.8"/><ellipse cx="1791" cy="591.3" rx="6.9" ry="6.8" fill="#faebc8" stroke="#e2c99a" stroke-width="0.8"/><ellipse cx="1920.3" cy="475.8" rx="9.2" ry="4.6" fill="#faebc8" stroke="#e2c99a" stroke-width="0.8"/><ellipse cx="1818" cy="552.1" rx="8.9" ry="6.6" fill="#faebc8" stroke="#e2c99a" stroke-width="0.8"/><ellipse cx="1930.4" cy="488.6" rx="8.4" ry="6" fill="#faebc8" stroke="#e2c99a" stroke-width="0.8"/><ellipse cx="1856.7" cy="540.3" rx="7.9" ry="4.3" fill="#faebc8" stroke="#e2c99a" stroke-width="0.8"/><ellipse cx="1941.1" cy="460.1" rx="8.2" ry="4.9" fill="#faebc8" stroke="#e2c99a" stroke-width="0.8"/><ellipse cx="1936" cy="471.4" rx="9.5" ry="6.5" fill="#faebc8" stroke="#e2c99a" stroke-width="0.8"/><ellipse cx="1857.1" cy="532" rx="8.4" ry="5.3" fill="#faebc8" stroke="#e2c99a" stroke-width="0.8"/><ellipse cx="1788.8" cy="585.2" rx="9.3" ry="4.1" fill="#faebc8" stroke="#e2c99a" stroke-width="0.8"/><ellipse cx="1766.1" cy="588.3" rx="7.1" ry="5.6" fill="#faebc8" stroke="#e2c99a" stroke-width="0.8"/><ellipse cx="1849.8" cy="539.7" rx="10" ry="4.6" fill="#faebc8" stroke="#e2c99a" stroke-width="0.8"/><ellipse cx="1838.3" cy="552.9" rx="8.5" ry="4.8" fill="#faebc8" stroke="#e2c99a" stroke-width="0.8"/><ellipse cx="1827.1" cy="541.5" rx="7.3" ry="5.7" fill="#faebc8" stroke="#e2c99a" stroke-width="0.8"/><ellipse cx="1935.2" cy="484.6" rx="6.2" ry="4.7" fill="#faebc8" stroke="#e2c99a" stroke-width="0.8"/><ellipse cx="1907.7" cy="490" rx="6.9" ry="5" fill="#faebc8" stroke="#e2c99a" stroke-width="0.8"/><ellipse cx="1792" cy="576.8" rx="6.2" ry="6.1" fill="#faebc8" stroke="#e2c99a" stroke-width="0.8"/><ellipse cx="1933.5" cy="462.9" rx="8.9" ry="6.9" fill="#faebc8" stroke="#e2c99a" stroke-width="0.8"/><ellipse cx="1760.6" cy="606.3" rx="9.9" ry="6.3" fill="#faebc8" stroke="#e2c99a" stroke-width="0.8"/><ellipse cx="1837.9" cy="527.2" rx="8.5" ry="6.5" fill="#faebc8" stroke="#e2c99a" stroke-width="0.8"/><ellipse cx="1814.8" cy="570.5" rx="7.8" ry="4.4" fill="#faebc8" stroke="#e2c99a" stroke-width="0.8"/><ellipse cx="1832.2" cy="530.4" rx="7.3" ry="4" fill="#faebc8" stroke="#e2c99a" stroke-width="0.8"/><ellipse cx="1765.8" cy="607.4" rx="9.1" ry="5.1" fill="#faebc8" stroke="#e2c99a" stroke-width="0.8"/><ellipse cx="1814.2" cy="574.5" rx="9.9" ry="5.3" fill="#faebc8" stroke="#e2c99a" stroke-width="0.8"/><ellipse cx="1798" cy="588" rx="6.2" ry="4.5" fill="#faebc8" stroke="#e2c99a" stroke-width="0.8"/><ellipse cx="1890.3" cy="516.4" rx="6.2" ry="5.5" fill="#faebc8" stroke="#e2c99a" stroke-width="0.8"/><ellipse cx="1806.1" cy="546.5" rx="6.5" ry="5.6" fill="#faebc8" stroke="#e2c99a" stroke-width="0.8"/><ellipse cx="1909.4" cy="494.8" rx="10" ry="5.4" fill="#faebc8" stroke="#e2c99a" stroke-width="0.8"/><ellipse cx="1804.6" cy="569.7" rx="6.1" ry="5.3" fill="#faebc8" stroke="#e2c99a" stroke-width="0.8"/><ellipse cx="1806" cy="550.6" rx="9.3" ry="5.5" fill="#faebc8" stroke="#e2c99a" stroke-width="0.8"/><ellipse cx="1763.2" cy="605.8" rx="7" ry="4.6" fill="#faebc8" stroke="#e2c99a" stroke-width="0.8"/><ellipse cx="1802.6" cy="553.6" rx="6.6" ry="4.2" fill="#faebc8" stroke="#e2c99a" stroke-width="0.8"/><ellipse cx="1939.8" cy="468.9" rx="10" ry="5.2" fill="#faebc8" stroke="#e2c99a" stroke-width="0.8"/><ellipse cx="1934.5" cy="470.3" rx="9.2" ry="6.2" fill="#faebc8" stroke="#e2c99a" stroke-width="0.8"/><ellipse cx="1854.4" cy="544.8" rx="6.8" ry="6.6" fill="#faebc8" stroke="#e2c99a" stroke-width="0.8"/><ellipse cx="1934.3" cy="463.2" rx="7.3" ry="6" fill="#faebc8" stroke="#e2c99a" stroke-width="0.8"/><ellipse cx="1914.5" cy="484.5" rx="9.3" ry="5.6" fill="#faebc8" stroke="#e2c99a" stroke-width="0.8"/><ellipse cx="1886" cy="503" rx="7.1" ry="6.8" fill="#faebc8" stroke="#e2c99a" stroke-width="0.8"/><ellipse cx="1945.4" cy="477.7" rx="9.9" ry="6.9" fill="#faebc8" stroke="#e2c99a" stroke-width="0.8"/><ellipse cx="1888.7" cy="520.8" rx="9.6" ry="4.4" fill="#faebc8" stroke="#e2c99a" stroke-width="0.8"/><ellipse cx="1947.8" cy="460.7" rx="6.2" ry="4.5" fill="#faebc8" stroke="#e2c99a" stroke-width="0.8"/><ellipse cx="1882.1" cy="509.3" rx="9" ry="6.8" fill="#faebc8" stroke="#e2c99a" stroke-width="0.8"/><ellipse cx="1800.1" cy="588.6" rx="9.7" ry="4" fill="#faebc8" stroke="#e2c99a" stroke-width="0.8"/><ellipse cx="1929.7" cy="488.3" rx="9.2" ry="6.3" fill="#faebc8" stroke="#e2c99a" stroke-width="0.8"/><ellipse cx="1929.9" cy="476.2" rx="9.5" ry="4.6" fill="#faebc8" stroke="#e2c99a" stroke-width="0.8"/><ellipse cx="1889.3" cy="511.6" rx="9.6" ry="6.3" fill="#faebc8" stroke="#e2c99a" stroke-width="0.8"/><ellipse cx="1849.9" cy="533.4" rx="6.1" ry="4.1" fill="#faebc8" stroke="#e2c99a" stroke-width="0.8"/><ellipse cx="1874.1" cy="517.5" rx="9.5" ry="5.8" fill="#faebc8" stroke="#e2c99a" stroke-width="0.8"/><ellipse cx="1784.3" cy="586.1" rx="9.1" ry="5.6" fill="#faebc8" stroke="#e2c99a" stroke-width="0.8"/><ellipse cx="1759.1" cy="584.4" rx="9.3" ry="4.3" fill="#faebc8" stroke="#e2c99a" stroke-width="0.8"/><ellipse cx="1864" cy="528.2" rx="9.1" ry="4.9" fill="#faebc8" stroke="#e2c99a" stroke-width="0.8"/><ellipse cx="1803" cy="567.9" rx="9.9" ry="4.3" fill="#faebc8" stroke="#e2c99a" stroke-width="0.8"/><ellipse cx="1779.5" cy="579.2" rx="9.5" ry="5.5" fill="#faebc8" stroke="#e2c99a" stroke-width="0.8"/><ellipse cx="1842.5" cy="527.1" rx="9.1" ry="4.2" fill="#faebc8" stroke="#e2c99a" stroke-width="0.8"/><ellipse cx="1930.6" cy="485.4" rx="7.2" ry="6.5" fill="#faebc8" stroke="#e2c99a" stroke-width="0.8"/><ellipse cx="1840.2" cy="530.7" rx="6.7" ry="6.6" fill="#faebc8" stroke="#e2c99a" stroke-width="0.8"/><ellipse cx="1791.7" cy="589.1" rx="8" ry="5" fill="#faebc8" stroke="#e2c99a" stroke-width="0.8"/><ellipse cx="1863.7" cy="511.2" rx="8.8" ry="4" fill="#faebc8" stroke="#e2c99a" stroke-width="0.8"/><ellipse cx="1818.4" cy="554.9" rx="7.9" ry="6.1" fill="#faebc8" stroke="#e2c99a" stroke-width="0.8"/><ellipse cx="1852.4" cy="546.9" rx="7" ry="6.5" fill="#faebc8" stroke="#e2c99a" stroke-width="0.8"/><ellipse cx="1827.3" cy="540.7" rx="9.9" ry="5.9" fill="#faebc8" stroke="#e2c99a" stroke-width="0.8"/><ellipse cx="1890.3" cy="502.3" rx="7.3" ry="6.7" fill="#faebc8" stroke="#e2c99a" stroke-width="0.8"/><ellipse cx="1849" cy="520.8" rx="7.2" ry="6.6" fill="#faebc8" stroke="#e2c99a" stroke-width="0.8"/><ellipse cx="1912" cy="487.1" rx="7.8" ry="4.4" fill="#faebc8" stroke="#e2c99a" stroke-width="0.8"/><ellipse cx="1908.9" cy="496.5" rx="8.6" ry="4.4" fill="#faebc8" stroke="#e2c99a" stroke-width="0.8"/><ellipse cx="1773.3" cy="603" rx="9.2" ry="4.5" fill="#faebc8" stroke="#e2c99a" stroke-width="0.8"/><ellipse cx="1934.7" cy="477.7" rx="8.3" ry="5.1" fill="#faebc8" stroke="#e2c99a" stroke-width="0.8"/><ellipse cx="1879.3" cy="526.3" rx="7.6" ry="6.8" fill="#faebc8" stroke="#e2c99a" stroke-width="0.8"/><ellipse cx="1792.4" cy="568.9" rx="7.3" ry="4.9" fill="#faebc8" stroke="#e2c99a" stroke-width="0.8"/><ellipse cx="1761.6" cy="616.7" rx="9.8" ry="6.5" fill="#faebc8" stroke="#e2c99a" stroke-width="0.8"/><ellipse cx="1914.8" cy="479.6" rx="9.8" ry="4.5" fill="#faebc8" stroke="#e2c99a" stroke-width="0.8"/><ellipse cx="1872.1" cy="518.7" rx="8.3" ry="6.8" fill="#faebc8" stroke="#e2c99a" stroke-width="0.8"/><ellipse cx="1906.8" cy="480.3" rx="6.5" ry="6" fill="#faebc8" stroke="#e2c99a" stroke-width="0.8"/><ellipse cx="1890.1" cy="498.3" rx="8.5" ry="6.5" fill="#faebc8" stroke="#e2c99a" stroke-width="0.8"/><ellipse cx="1816.7" cy="542" rx="7.6" ry="5.8" fill="#faebc8" stroke="#e2c99a" stroke-width="0.8"/><ellipse cx="1933.7" cy="469.5" rx="7.2" ry="4.7" fill="#faebc8" stroke="#e2c99a" stroke-width="0.8"/><ellipse cx="1821.3" cy="549.8" rx="10" ry="6.7" fill="#faebc8" stroke="#e2c99a" stroke-width="0.8"/><ellipse cx="1835.8" cy="547.7" rx="9.3" ry="4.9" fill="#faebc8" stroke="#e2c99a" stroke-width="0.8"/><ellipse cx="1838.1" cy="559.7" rx="6.7" ry="5.6" fill="#faebc8" stroke="#e2c99a" stroke-width="0.8"/><ellipse cx="1893.6" cy="499.9" rx="7.5" ry="6.9" fill="#faebc8" stroke="#e2c99a" stroke-width="0.8"/><ellipse cx="1879.8" cy="524" rx="6.3" ry="6.9" fill="#faebc8" stroke="#e2c99a" stroke-width="0.8"/><ellipse cx="1951.6" cy="451.6" rx="8.4" ry="4.9" fill="#faebc8" stroke="#e2c99a" stroke-width="0.8"/><ellipse cx="1775" cy="597.1" rx="6.9" ry="6.8" fill="#faebc8" stroke="#e2c99a" stroke-width="0.8"/><ellipse cx="1932.8" cy="468.1" rx="6.6" ry="4.7" fill="#faebc8" stroke="#e2c99a" stroke-width="0.8"/><ellipse cx="1815.9" cy="541.7" rx="6.7" ry="6.4" fill="#faebc8" stroke="#e2c99a" stroke-width="0.8"/><ellipse cx="1891.1" cy="503.7" rx="9.8" ry="4.8" fill="#faebc8" stroke="#e2c99a" stroke-width="0.8"/><ellipse cx="1860.3" cy="538.3" rx="6.4" ry="4.1" fill="#faebc8" stroke="#e2c99a" stroke-width="0.8"/><ellipse cx="1819.4" cy="569.8" rx="6.2" ry="7" fill="#faebc8" stroke="#e2c99a" stroke-width="0.8"/></g>
<g clip-path="url(#sidefull)">
<path d="M1834,400 C1834,470 1837,515 1833,542 C1826,568 1800,592 1760,620" fill="none" stroke="#c9303d" stroke-linecap="round" stroke-width="9"/>
<ellipse cx="1834" cy="532" rx="10" ry="24" fill="#c9303d"/><ellipse cx="1834" cy="534" rx="5" ry="14" fill="#e07884"/>
<path d="M1834,405 C1833,370 1828,340 1812,305 C1800,280 1790,262 1778,236" fill="none" stroke="#c9303d" stroke-linecap="round" stroke-width="4"/>
<path d="M1834,385 C1846,345 1858,305 1866,252" fill="none" stroke="#c9303d" stroke-linecap="round" stroke-width="3.2"/>
<path d="M1838,395 C1852,382 1868,372 1882,345 M1828,330 C1815,300 1800,285 1790,270 M1866,270 C1872,250 1876,232 1878,212" fill="none" stroke="#8e2232" stroke-width="1.6"/>
<path d="M1838,556 C1860,535 1885,515 1905,500 C1918,490 1925,482 1922,476" fill="none" stroke="#c9303d" stroke-linecap="round" stroke-width="7"/>
<path d="M1901,490 C1898,450 1892,410 1892,362 C1892,325 1897,295 1900,278" fill="none" stroke="#35a6dd" stroke-linecap="round" stroke-width="7"/>
<path d="M1900,282 C1906,242 1916,204 1928,172" fill="none" stroke="#35a6dd" stroke-linecap="round" stroke-width="3.2"/>
<path d="M1896,305 C1882,265 1862,228 1836,196" fill="none" stroke="#35a6dd" stroke-linecap="round" stroke-width="2.6"/>
<path d="M1898,458 C1920,452 1940,450 1956,448" fill="none" stroke="#35a6dd" stroke-linecap="round" stroke-width="7"/>
<path d="M1903,480 C1895,505 1872,520 1850,538 C1838,550 1834,562 1832,580" fill="none" stroke="#35a6dd" stroke-linecap="round" stroke-width="6"/>
<path d="M1892,372 C1872,358 1852,368 1842,388" fill="none" stroke="#35a6dd" stroke-linecap="round" stroke-width="2.4"/>
</g>
<path d="M1064,388 C1080,402 1092,425 1094,455 C1096,490 1094,520 1090,548" fill="none" stroke="#35a6dd" stroke-linecap="round" stroke-width="6"/>
<path d="M1090,548 C1080,556 1070,560 1060,563 M1090,548 C1110,550 1135,555 1152,560" fill="none" stroke="#35a6dd" stroke-linecap="round" stroke-width="7"/>
<path d="M1095,455 C1100,420 1112,390 1128,355 M1062,455 C1075,458 1086,468 1093,480" fill="none" stroke="#35a6dd" stroke-linecap="round" stroke-width="2.6"/>
<path d="M1065,565 C1085,558 1100,552 1108,532 C1110,505 1108,480 1114,460 M1108,552 C1124,555 1140,558 1150,563" fill="none" stroke="#c9303d" stroke-linecap="round" stroke-width="5"/>
<path d="M1114,460 C1122,445 1130,435 1138,425 M1112,505 C1128,495 1140,485 1150,472 M1104,470 C1100,450 1098,430 1100,415" fill="none" stroke="#6a2030" stroke-width="1.6"/>
<path d="M1140,420 C1143.7,410 1151.7,393.3 1160,380 C1168.3,366.7 1178.3,351.7 1190,340 C1201.7,328.3 1220.5,316.7 1230,310 C1239.5,303.3 1244.2,306.7 1247,300 C1249.8,293.3 1244,275 1247,270 C1250,265 1261.5,265 1265,270 C1268.5,275 1262.2,294.2 1268,300 C1273.8,305.8 1288,304.7 1300,305 C1312,305.3 1329.2,299.5 1340,302 C1350.8,304.5 1358.3,310.3 1365,320 C1371.7,329.7 1376.7,346.7 1380,360 C1383.3,373.3 1386.7,388.3 1385,400 C1383.3,411.7 1377.5,422.5 1370,430 C1362.5,437.5 1348.3,441.7 1340,445 C1331.7,448.3 1313.3,437.5 1320,450 C1326.7,462.5 1360,504.2 1380,520 C1400,535.8 1429.2,538.3 1440,545 C1450.8,551.7 1455,557.5 1445,560 C1435,562.5 1400.8,566.7 1380,560 C1359.2,553.3 1333.3,530 1320,520 C1306.7,510 1306.7,500 1300,500 C1293.3,500 1285.8,512.5 1280,520 C1274.2,527.5 1269.2,537.5 1265,545 C1260.8,552.5 1259.2,561.2 1255,565 C1250.8,568.8 1244.2,571.3 1240,568 C1235.8,564.7 1237.5,551.3 1230,545 C1222.5,538.7 1205.8,537.5 1195,530 C1184.2,522.5 1173.3,510.8 1165,500 C1156.7,489.2 1149.5,475 1145,465 C1140.5,455 1138.8,447.5 1138,440 C1137.2,432.5 1136.3,430 1140,420Z" fill="url(#node)" stroke="#ec8e8c" stroke-width="1.8"/>
<path d="M1310,447 C1360,500 1410,540 1460,548 L1450,560 C1400,560 1340,520 1296,470 Z" fill="url(#outflow)" opacity="0.9"/>
<path d="M1160,420 C1162.8,402.5 1173.3,380 1185,365 C1196.7,350 1212.5,337.2 1230,330 C1247.5,322.8 1270.8,322 1290,322 C1309.2,322 1332,322 1345,330 C1358,338 1365.2,356.7 1368,370 C1370.8,383.3 1368.3,400.8 1362,410 C1355.7,419.2 1340.3,420 1330,425 C1319.7,430 1307.5,432.5 1300,440 C1292.5,447.5 1290,459.2 1285,470 C1280,480.8 1275,495 1270,505 C1265,515 1262.5,525.8 1255,530 C1247.5,534.2 1235.8,534.2 1225,530 C1214.2,525.8 1199.5,515 1190,505 C1180.5,495 1173,484.2 1168,470 C1163,455.8 1157.2,437.5 1160,420Z" fill="#f8edca" stroke="#cfc08e" stroke-width="1"/>
<ellipse cx="1205" cy="400" rx="25" ry="20" transform="rotate(20 1205 400)" fill="#e7e2ee" stroke="#b8abd8" stroke-width="1.2"/>
<ellipse cx="1218" cy="355" rx="28" ry="16" transform="rotate(-15 1218 355)" fill="#e7e2ee" stroke="#b8abd8" stroke-width="1.2"/>
<ellipse cx="1305" cy="345" rx="22" ry="22" transform="rotate(10 1305 345)" fill="#e7e2ee" stroke="#b8abd8" stroke-width="1.2"/>
<ellipse cx="1343" cy="390" rx="20" ry="26" transform="rotate(25 1343 390)" fill="#e7e2ee" stroke="#b8abd8" stroke-width="1.2"/>
<ellipse cx="1193" cy="472" rx="24" ry="24" transform="rotate(0 1193 472)" fill="#e7e2ee" stroke="#b8abd8" stroke-width="1.2"/>
<ellipse cx="1240" cy="512" rx="27" ry="18" transform="rotate(-10 1240 512)" fill="#e7e2ee" stroke="#b8abd8" stroke-width="1.2"/>
<ellipse cx="1202" cy="388" rx="22" ry="24" fill="#a9a7c7" stroke="#444" stroke-width="1.2"/>
<path d="M1195,378 C1205,372 1213,380 1211,392 C1209,402 1197,400 1194,394 Z" fill="#e5757d"/>
<g fill="none" stroke="#5cc7c9" stroke-width="5" stroke-linecap="round"><path d="M1250,358 L1225,330 M1250,358 L1262,322 M1255,360 C1275,350 1285,335 1290,325 M1258,368 C1275,375 1290,370 1305,365 M1248,372 C1240,395 1240,415 1236,425 M1255,372 C1265,390 1270,400 1280,410 M1245,360 C1225,360 1215,357 1200,350"/></g>
<circle cx="1250" cy="362" r="16" fill="#6dd0d2" stroke="#4db6b8" stroke-width="1"/><circle cx="1248" cy="360" r="5" fill="#3b8f90"/>
<circle cx="1250" cy="455" r="22" fill="url(#bcell)" stroke="#c9605f" stroke-width="1"/>
<ellipse cx="1254" cy="460" rx="9.9" ry="7.3" fill="#d8686a"/>
<circle cx="1228" cy="470" r="27" fill="url(#bcell)" stroke="#c9605f" stroke-width="1"/>
<ellipse cx="1232" cy="475" rx="12.2" ry="8.9" fill="#d8686a"/>
<circle cx="1236" cy="508" r="22" fill="url(#bcell)" stroke="#c9605f" stroke-width="1"/>
<ellipse cx="1240" cy="513" rx="9.9" ry="7.3" fill="#d8686a"/>
<path d="M1413.9,290.4 L1414.4,292.1 L1414.3,293.8 L1414.1,295.6 L1413.7,297.2 L1411.3,298.4 L1405.4,298.2 L1404.4,299.2 L1403.9,300.4 L1403.3,301.5 L1402.8,302.7 L1403.9,304.9 L1407.7,309.4 L1407.1,311.1 L1406,312.5 L1404.8,313.7 L1403.5,314.8 L1400.9,314.4 L1396.3,310.7 L1394.9,311 L1393.8,311.6 L1392.6,312.2 L1391.5,312.9 L1391.1,315.3 L1391.5,321.2 L1390,322.2 L1388.4,322.7 L1386.7,323 L1384.9,323.1 L1383.1,321.2 L1381.5,315.5 L1380.2,314.9 L1378.9,314.8 L1377.7,314.6 L1376.4,314.5 L1374.6,316.2 L1371.5,321.2 L1369.7,321.2 L1368.1,320.5 L1366.5,319.8 L1365.1,318.9 L1364.7,316.2 L1366.7,310.7 L1366.1,309.5 L1365.1,308.6 L1364.2,307.7 L1363.2,306.9 L1360.8,307.2 L1355.3,309.4 L1353.9,308.4 L1352.9,306.9 L1352.1,305.4 L1351.4,303.8 L1352.7,301.4 L1357.6,298.2 L1357.8,296.8 L1357.5,295.5 L1357.3,294.2 L1357,293 L1354.9,291.8 L1349.1,290.4 L1348.6,288.7 L1348.7,287 L1348.9,285.2 L1349.3,283.6 L1351.7,282.4 L1357.6,282.6 L1358.6,281.6 L1359.1,280.4 L1359.7,279.3 L1360.2,278.1 L1359.1,275.9 L1355.3,271.4 L1355.9,269.7 L1357,268.3 L1358.2,267.1 L1359.5,266 L1362.1,266.4 L1366.7,270.1 L1368.1,269.8 L1369.2,269.2 L1370.4,268.6 L1371.5,267.9 L1371.9,265.5 L1371.5,259.6 L1373,258.6 L1374.6,258.1 L1376.3,257.8 L1378.1,257.7 L1379.9,259.6 L1381.5,265.3 L1382.8,265.9 L1384.1,266 L1385.3,266.2 L1386.6,266.3 L1388.4,264.6 L1391.5,259.6 L1393.3,259.6 L1394.9,260.3 L1396.5,261 L1397.9,261.9 L1398.3,264.6 L1396.3,270.1 L1396.9,271.3 L1397.9,272.2 L1398.8,273.1 L1399.8,273.9 L1402.2,273.6 L1407.7,271.4 L1409.1,272.4 L1410.1,273.9 L1410.9,275.4 L1411.6,277 L1410.3,279.4 L1405.4,282.6 L1405.2,284 L1405.5,285.3 L1405.7,286.6 L1406,287.8 L1408.1,289 Z" fill="url(#macro)" stroke="#7fb09a" stroke-width="1"/>
<path d="M1378,300 C1376,290 1388,283 1395,286 C1402,292 1398,305 1388,308 C1382,310 1378,306 1378,300 Z" fill="#8ec5c3"/>
<circle cx="1387" cy="294" r="4" fill="#d8eeee" opacity="0.8"/>
<circle cx="1367.5" cy="279.4" r="2" fill="#fff"/>
<circle cx="1381.5" cy="275.4" r="2" fill="#fff"/>
<circle cx="1394.5" cy="282.4" r="2" fill="#fff"/>
<circle cx="1396.5" cy="294.4" r="2" fill="#fff"/>
<circle cx="1371.5" cy="286.4" r="2" fill="#fff"/>
<circle cx="1371.5" cy="303.4" r="2" fill="#fff"/>
<path d="M1513,523 C1530,520 1550,520 1562,526 C1568,540 1565,560 1560,570 C1545,575 1525,574 1515,571 C1508,555 1505,535 1513,523 Z" fill="url(#mem)" stroke="#9ca0aa" stroke-width="1"/>
<circle cx="1538" cy="550" r="9" fill="#b3b7c2"/>
<path d="M1528,283 C1535,280 1545,285 1546,298 C1546,310 1540,316 1532,315 C1526,312 1524,300 1528,283 Z" fill="#5a5b5d"/>
<path d="M1506,318 C1520,314 1545,316 1562,317 C1545,321 1520,322 1506,318 Z" fill="#3a3b3d"/>
<path d="M1498,299 C1470,275 1440,272 1415,284" fill="none" stroke="#6d68c0" stroke-width="2"/>
<path d="M1410,286 L1420,280 L1419,290 Z" fill="#5a55b8"/>
<path d="M1335,318 C1310,318 1290,330 1266,352" fill="none" stroke="#6d68c0" stroke-width="2" opacity="0.8"/>
<path d="M1262,356 L1266,346 L1271,354 Z" fill="#5a55b8"/>
<path d="M1197,405 C1192,440 1198,470 1208,496" fill="none" stroke="#6d68c0" stroke-width="2" opacity="0.8"/>
<path d="M1210,501 L1203,492 L1212,492 Z" fill="#5a55b8"/>
<path d="M1352,510 C1390,540 1430,552 1458,550" fill="none" stroke="#6d68c0" stroke-width="2"/>
<path d="M1464,550 L1453,544 L1454,556 Z" fill="#5a55b8"/>
<path d="M1570,555 C1600,555 1625,535 1632,518" fill="none" stroke="#6d68c0" stroke-width="2" opacity="0.8"/>
<path d="M1634,513 L1627,521 L1637,522 Z" fill="#5a55b8"/>
<path d="M1610,370 C1600,350 1585,336 1568,328" fill="none" stroke="#6d68c0" stroke-width="2" opacity="0.8"/>
<path d="M1563,325 L1574,325 L1570,334 Z" fill="#5a55b8"/>
<ellipse cx="1660" cy="410" rx="90" ry="70" fill="url(#haze)"/>
<ellipse cx="1686" cy="358" rx="26" ry="12" transform="rotate(-8 1686 358)" fill="none" stroke="#9a9a9a" stroke-width="5" stroke-dasharray="0.7 1.8"/>
<ellipse cx="1686" cy="358" rx="24" ry="10" transform="rotate(-8 1686 358)" fill="#7d7e80"/>
<ellipse cx="1686" cy="358" rx="18" ry="5" transform="rotate(-8 1686 358)" fill="none" stroke="#e8e8e8" stroke-width="2" stroke-dasharray="6 4"/>
<ellipse cx="1610" cy="400" rx="29" ry="13" transform="rotate(-70 1610 400)" fill="none" stroke="#9a9a9a" stroke-width="5" stroke-dasharray="0.7 1.8"/>
<ellipse cx="1610" cy="400" rx="27" ry="11" transform="rotate(-70 1610 400)" fill="#7d7e80"/>
<ellipse cx="1610" cy="400" rx="21" ry="6" transform="rotate(-70 1610 400)" fill="none" stroke="#e8e8e8" stroke-width="2" stroke-dasharray="6 4"/>
<ellipse cx="1603" cy="445" rx="36" ry="13" transform="rotate(8 1603 445)" fill="none" stroke="#9a9a9a" stroke-width="5" stroke-dasharray="0.7 1.8"/>
<ellipse cx="1603" cy="445" rx="34" ry="11" transform="rotate(8 1603 445)" fill="#7d7e80"/>
<ellipse cx="1603" cy="445" rx="28" ry="6" transform="rotate(8 1603 445)" fill="none" stroke="#e8e8e8" stroke-width="2" stroke-dasharray="6 4"/>
<ellipse cx="1698" cy="448" rx="27" ry="12" transform="rotate(-30 1698 448)" fill="none" stroke="#9a9a9a" stroke-width="5" stroke-dasharray="0.7 1.8"/>
<ellipse cx="1698" cy="448" rx="25" ry="10" transform="rotate(-30 1698 448)" fill="#7d7e80"/>
<ellipse cx="1698" cy="448" rx="19" ry="5" transform="rotate(-30 1698 448)" fill="none" stroke="#e8e8e8" stroke-width="2" stroke-dasharray="6 4"/>
<ellipse cx="1713" cy="365" rx="22" ry="10" transform="rotate(25 1713 365)" fill="none" stroke="#8a6a50" stroke-width="4" stroke-dasharray="0.7 1.8"/>
<ellipse cx="1713" cy="365" rx="20" ry="8" transform="rotate(25 1713 365)" fill="url(#bact)"/>
<ellipse cx="1641" cy="420" rx="32" ry="13" transform="rotate(50 1641 420)" fill="none" stroke="#8a6a50" stroke-width="4" stroke-dasharray="0.7 1.8"/>
<ellipse cx="1641" cy="420" rx="30" ry="11" transform="rotate(50 1641 420)" fill="url(#bact)"/>
<ellipse cx="1691" cy="402" rx="24" ry="13" transform="rotate(30 1691 402)" fill="none" stroke="#8a6a50" stroke-width="4" stroke-dasharray="0.7 1.8"/>
<ellipse cx="1691" cy="402" rx="22" ry="11" transform="rotate(30 1691 402)" fill="url(#bact)"/>
<circle cx="1675" cy="339" r="7.5" fill="url(#ros)"/>
<circle cx="1637" cy="358" r="7.5" fill="url(#ros)"/>
<circle cx="1596" cy="385" r="7.5" fill="url(#ros)"/>
<circle cx="1643" cy="387" r="7.5" fill="url(#ros)"/>
<path d="M1633,506 L1630,470 L1608,448 M1638,505 L1638,472 L1655,448 M1618,458 L1603,448 M1650,460 L1660,448" fill="none" stroke="#9a8ad0" stroke-width="3.2" stroke-linecap="round"/>
<path d="M1718,507 L1700,478 L1688,455 M1723,505 L1713,475 L1715,452 M1688,470 L1676,463" fill="none" stroke="#9a8ad0" stroke-width="3.2" stroke-linecap="round"/>
<g transform="translate(1622 302) rotate(-5) scale(0.4)"><path d="M-35,27 C-28,10 -20,-15 -5,-16 C8,-17 20,-20 35,-26 C28,-12 22,5 12,18 C2,25 -20,24 -35,27 Z" fill="url(#sheetg)"/><path d="M-28,20 C-15,12 5,5 28,-15 M-22,12 C-10,5 8,-2 25,-18" fill="none" stroke="#a8dcf4" stroke-width="2" opacity="0.7"/><path d="M-14,-14 c-2,-3 2,-5 0,-7 c-2,-3 2,-5 0,-7 M-4,-17 c-2,-3 2,-5 0,-7 c-2,-3 2,-5 0,-7 M6,-17 c-2,-3 2,-5 0,-7 c-2,-3 2,-5 0,-7 M16,-21 c-2,-3 2,-5 0,-7 c-2,-3 2,-5 0,-7 M-24,20 c-2,3 2,5 0,7 c-2,3 2,5 0,7 M-10,24 c-2,3 2,5 0,7 c-2,3 2,5 0,7 M4,22 c-2,3 2,5 0,7 c-2,3 2,5 0,7 M14,14 c-2,3 2,5 0,7 c-2,3 2,5 0,7 M24,-4 c-2,3 2,5 0,7 c-2,3 2,5 0,7 " fill="none" stroke="#6d6f7a" stroke-width="1.1"/></g>
<g transform="translate(1668 272) rotate(-10) scale(0.3)"><path d="M-35,27 C-28,10 -20,-15 -5,-16 C8,-17 20,-20 35,-26 C28,-12 22,5 12,18 C2,25 -20,24 -35,27 Z" fill="url(#sheetg)"/><path d="M-28,20 C-15,12 5,5 28,-15 M-22,12 C-10,5 8,-2 25,-18" fill="none" stroke="#a8dcf4" stroke-width="2" opacity="0.7"/><path d="M-14,-14 c-2,-3 2,-5 0,-7 c-2,-3 2,-5 0,-7 M-4,-17 c-2,-3 2,-5 0,-7 c-2,-3 2,-5 0,-7 M6,-17 c-2,-3 2,-5 0,-7 c-2,-3 2,-5 0,-7 M16,-21 c-2,-3 2,-5 0,-7 c-2,-3 2,-5 0,-7 M-24,20 c-2,3 2,5 0,7 c-2,3 2,5 0,7 M-10,24 c-2,3 2,5 0,7 c-2,3 2,5 0,7 M4,22 c-2,3 2,5 0,7 c-2,3 2,5 0,7 M14,14 c-2,3 2,5 0,7 c-2,3 2,5 0,7 M24,-4 c-2,3 2,5 0,7 c-2,3 2,5 0,7 " fill="none" stroke="#6d6f7a" stroke-width="1.1"/></g>
<g transform="translate(1703 295) rotate(-35) scale(0.4)"><path d="M-35,27 C-28,10 -20,-15 -5,-16 C8,-17 20,-20 35,-26 C28,-12 22,5 12,18 C2,25 -20,24 -35,27 Z" fill="url(#sheetg)"/><path d="M-28,20 C-15,12 5,5 28,-15 M-22,12 C-10,5 8,-2 25,-18" fill="none" stroke="#a8dcf4" stroke-width="2" opacity="0.7"/><path d="M-14,-14 c-2,-3 2,-5 0,-7 c-2,-3 2,-5 0,-7 M-4,-17 c-2,-3 2,-5 0,-7 c-2,-3 2,-5 0,-7 M6,-17 c-2,-3 2,-5 0,-7 c-2,-3 2,-5 0,-7 M16,-21 c-2,-3 2,-5 0,-7 c-2,-3 2,-5 0,-7 M-24,20 c-2,3 2,5 0,7 c-2,3 2,5 0,7 M-10,24 c-2,3 2,5 0,7 c-2,3 2,5 0,7 M4,22 c-2,3 2,5 0,7 c-2,3 2,5 0,7 M14,14 c-2,3 2,5 0,7 c-2,3 2,5 0,7 M24,-4 c-2,3 2,5 0,7 c-2,3 2,5 0,7 " fill="none" stroke="#6d6f7a" stroke-width="1.1"/></g>
<path d="M1518,92 C1532,118 1552,132 1583,136 C1562,152 1532,168 1488,172 C1508,150 1518,122 1518,92 Z" fill="url(#cone)"/>
<circle cx="1436" cy="96" r="86" fill="url(#bubble)" stroke="#cbdab8" stroke-width="1.5"/>
<g transform="translate(1436 49) rotate(0) scale(0.7)"><path d="M-35,27 C-28,10 -20,-15 -5,-16 C8,-17 20,-20 35,-26 C28,-12 22,5 12,18 C2,25 -20,24 -35,27 Z" fill="url(#sheetg)"/><path d="M-28,20 C-15,12 5,5 28,-15 M-22,12 C-10,5 8,-2 25,-18" fill="none" stroke="#a8dcf4" stroke-width="2" opacity="0.7"/><path d="M-14,-14 c-2,-3 2,-5 0,-7 c-2,-3 2,-5 0,-7 M-4,-17 c-2,-3 2,-5 0,-7 c-2,-3 2,-5 0,-7 M6,-17 c-2,-3 2,-5 0,-7 c-2,-3 2,-5 0,-7 M16,-21 c-2,-3 2,-5 0,-7 c-2,-3 2,-5 0,-7 M-24,20 c-2,3 2,5 0,7 c-2,3 2,5 0,7 M-10,24 c-2,3 2,5 0,7 c-2,3 2,5 0,7 M4,22 c-2,3 2,5 0,7 c-2,3 2,5 0,7 M14,14 c-2,3 2,5 0,7 c-2,3 2,5 0,7 M24,-4 c-2,3 2,5 0,7 c-2,3 2,5 0,7 " fill="none" stroke="#6d6f7a" stroke-width="1.1"/></g>
<g transform="translate(1392 108) rotate(0) scale(1)"><path d="M-35,27 C-28,10 -20,-15 -5,-16 C8,-17 20,-20 35,-26 C28,-12 22,5 12,18 C2,25 -20,24 -35,27 Z" fill="url(#sheetg)"/><path d="M-28,20 C-15,12 5,5 28,-15 M-22,12 C-10,5 8,-2 25,-18" fill="none" stroke="#a8dcf4" stroke-width="2" opacity="0.7"/><path d="M-14,-14 c-2,-3 2,-5 0,-7 c-2,-3 2,-5 0,-7 M-4,-17 c-2,-3 2,-5 0,-7 c-2,-3 2,-5 0,-7 M6,-17 c-2,-3 2,-5 0,-7 c-2,-3 2,-5 0,-7 M16,-21 c-2,-3 2,-5 0,-7 c-2,-3 2,-5 0,-7 M-24,20 c-2,3 2,5 0,7 c-2,3 2,5 0,7 M-10,24 c-2,3 2,5 0,7 c-2,3 2,5 0,7 M4,22 c-2,3 2,5 0,7 c-2,3 2,5 0,7 M14,14 c-2,3 2,5 0,7 c-2,3 2,5 0,7 M24,-4 c-2,3 2,5 0,7 c-2,3 2,5 0,7 " fill="none" stroke="#6d6f7a" stroke-width="1.1"/></g>
<g transform="translate(1480 105) rotate(0) scale(1)"><path d="M-35,27 C-28,10 -20,-15 -5,-16 C8,-17 20,-20 35,-26 C28,-12 22,5 12,18 C2,25 -20,24 -35,27 Z" fill="url(#sheetg)"/><path d="M-28,20 C-15,12 5,5 28,-15 M-22,12 C-10,5 8,-2 25,-18" fill="none" stroke="#a8dcf4" stroke-width="2" opacity="0.7"/><path d="M-14,-14 c-2,-3 2,-5 0,-7 c-2,-3 2,-5 0,-7 M-4,-17 c-2,-3 2,-5 0,-7 c-2,-3 2,-5 0,-7 M6,-17 c-2,-3 2,-5 0,-7 c-2,-3 2,-5 0,-7 M16,-21 c-2,-3 2,-5 0,-7 c-2,-3 2,-5 0,-7 M-24,20 c-2,3 2,5 0,7 c-2,3 2,5 0,7 M-10,24 c-2,3 2,5 0,7 c-2,3 2,5 0,7 M4,22 c-2,3 2,5 0,7 c-2,3 2,5 0,7 M14,14 c-2,3 2,5 0,7 c-2,3 2,5 0,7 M24,-4 c-2,3 2,5 0,7 c-2,3 2,5 0,7 " fill="none" stroke="#6d6f7a" stroke-width="1.1"/></g>
<g transform="translate(1564 250) rotate(-62)"><line x1="0" y1="0" x2="80" y2="0" stroke="#222" stroke-width="1.6"/><path d="M78,-4 L96,-7 L96,7 L78,4 Z" fill="#3a3a3a"/><rect x="96" y="-14" width="62" height="28" fill="#a8d5d2" stroke="#6fa9a6" stroke-width="0.8"/><rect x="158" y="-14" width="18" height="28" fill="#444"/><rect x="176" y="-13" width="52" height="26" fill="#d6d7d8"/><rect x="226" y="-24" width="9" height="48" rx="4" fill="#dcdddf"/><rect x="234" y="-6" width="28" height="12" fill="#d9dadb"/><rect x="260" y="-18" width="9" height="36" rx="4" fill="#dfe0e1"/><path d="M104,-12 v10 M112,-12 v7 M120,-12 v10 M128,-12 v7 M136,-12 v10 M144,-12 v7" stroke="#222" stroke-width="2"/></g>
<text transform="matrix(1 0 0 1.05 1219.6 60.3)" font-size="40.8">MPS-PVP</text>
<text transform="matrix(1 0 0 1.05 1262.6 248.1)" font-size="34">Macrophage</text>
<text transform="matrix(1 0 0 1.05 1199.4 315.9)" font-size="34">DC</text>
<text x="1008.7" y="376.2" font-size="34">CD4<tspan dy="-12" font-size="22">+</tspan><tspan dy="12"> T cell</tspan></text>
<text transform="matrix(1 0 0 1.05 1446.6 349.2)" font-size="34">antigen</text>
<text transform="matrix(1 0 0 1.05 1676.7 324.5)" font-size="34">ROS</text>
<text transform="matrix(1 0 0 1.05 1712.3 416.4)" font-size="34">Bacteria</text>
<text transform="matrix(1 0 0 1.05 1651.9 541)" font-size="34">Antibody</text>
<text transform="matrix(1 0 0 1.05 1217.2 564)" font-size="34">B cell</text>
<text transform="matrix(1 0 0 1.05 1417.6 600.2)" font-size="34">Memory B cell</text>
<g clip-path="url(#ph0)">
<rect x="1795.8" y="658.6" width="170" height="170" fill="#a89090"/>
<g filter="url(#b10)">
<ellipse cx="1870.8" cy="688.6" rx="60" ry="40" fill="#b7a3a0"/>
<ellipse cx="1965.8" cy="738.6" rx="30" ry="60" fill="#d8d0cb"/>
<ellipse cx="1825.8" cy="783.6" rx="40" ry="35" fill="#9c7f7c"/>
<ellipse cx="1925.8" cy="805.6" rx="25" ry="35" fill="#9a7470"/>
<ellipse cx="1810.8" cy="733.6" rx="20" ry="20" fill="#8f7e82"/>
</g>
<g filter="url(#b3)">
<ellipse cx="1884.8" cy="735.6" rx="44" ry="28" transform="rotate(14 1884.8 735.6)" fill="#8a7c5c"/>
<ellipse cx="1892.8" cy="741.6" rx="42" ry="26" transform="rotate(16 1892.8 741.6)" fill="#4e3628"/>
<ellipse cx="1910.8" cy="733.6" rx="18" ry="13" fill="#6a4032" opacity="0.8"/>
<ellipse cx="1890.8" cy="759.6" rx="30" ry="8" transform="rotate(16 1890.8 759.6)" fill="#2e2019"/>
</g>
<path d="M1800.8,721.6 C1820.8,731.6 1840.8,745.6 1862.8,757.6" fill="none" stroke="#2a1c16" stroke-linecap="round" stroke-width="2.8"/>
<path d="M1860.8,801.6 C1868.8,785.6 1878.8,771.6 1886.8,761.6" fill="none" stroke="#2a1c16" stroke-linecap="round" stroke-width="2.8"/>
<path d="M1927.8,727.6 C1924.8,741.6 1918.8,753.6 1918.8,759.6 C1920.8,771.6 1930.8,779.6 1944.8,773.6" fill="none" stroke="#2a1c16" stroke-linecap="round" stroke-width="2.6"/>
<path d="M1872.8,759.6 l-14,10 M1880.8,761.6 l-8,12 M1890.8,763.6 l-4,12 M1924.8,767.6 l8,14 M1930.8,769.6 l14,10 M1936.8,771.6 l12,4" fill="none" stroke="#2a1c16" stroke-linecap="round" stroke-width="1.6"/>
</g>
<g clip-path="url(#ph1)">
<rect x="1795" y="842" width="170" height="170" fill="#a69290"/>
<g filter="url(#b10)">
<ellipse cx="1805" cy="927" rx="40" ry="70" fill="#8a716e"/>
<ellipse cx="1880" cy="872" rx="50" ry="30" fill="#b5a5a2"/>
<ellipse cx="1875" cy="952" rx="40" ry="25" fill="#b9aca9"/>
<ellipse cx="1955" cy="947" rx="25" ry="60" fill="#9a7e7c"/>
<ellipse cx="1880" cy="997" rx="60" ry="20" fill="#9a8280"/>
</g>
<ellipse cx="1878" cy="935" rx="42" ry="30" transform="rotate(-30 1878 935)" fill="#c2b3ae" filter="url(#b6)"/>
<ellipse cx="1881" cy="922" rx="31" ry="19" transform="rotate(-38 1881 922)" fill="#b89b70" filter="url(#b1)"/>
<ellipse cx="1884" cy="924" rx="27" ry="14" transform="rotate(-38 1884 924)" fill="#363432"/>
</g>
<g clip-path="url(#ph2)">
<rect x="1794" y="1025.3" width="170" height="170" fill="#9d8d8b"/>
<g filter="url(#b10)">
<ellipse cx="1884" cy="1115.3" rx="38" ry="45" fill="#b5aaa9"/>
<ellipse cx="1809" cy="1120.3" rx="20" ry="60" fill="#857472"/>
<ellipse cx="1954" cy="1120.3" rx="18" ry="50" fill="#b9b0ac"/>
<ellipse cx="1849" cy="1180.3" rx="40" ry="20" fill="#8d7a78"/>
</g>
<circle cx="1910" cy="1150.3" r="6" fill="#8a3a3a"/><circle cx="1910" cy="1150.3" r="2.5" fill="#b05050"/>
</g>
<g clip-path="url(#ph3)">
<rect x="1795.3" y="1209" width="170" height="170" fill="#8e7a76"/>
<g filter="url(#b10)">
<ellipse cx="1825.3" cy="1304" rx="30" ry="50" fill="#6e6868"/>
<ellipse cx="1930.3" cy="1299" rx="35" ry="40" fill="#a99391"/>
<ellipse cx="1855.3" cy="1324" rx="10" ry="20" fill="#8c9ca0"/>
<ellipse cx="1880.3" cy="1234" rx="60" ry="25" fill="#7d6864"/>
</g>
</g>
<ellipse cx="116.1" cy="1875.2" rx="32.3" ry="23.4" fill="#2a2ab4" opacity="0.42" filter="url(#b3)"/>
<g transform="scale(0.5)"><path d="M247 3653h2m203 6h2m-135 3h2m120 5h2m-34 1h2m-134 3h2m-79 1h2m16 0h2m33 0h2m-87 2h2m56 1h2m40 0h2m-13 2h2m-123 3h2m101 0h2m51 1h2m-5 1h2m-46 1h2m71 1h2m-66 1h2m-47 1h2m6 0h2m149 0h2m-146 1h2m15 0h2m16 0h2m5 0h2m-75 2h2m8 2h2m38 0h2m7 1h2m34 0h2m-1 1h2m0 0h2m-74 1h2m61 0h2m26 0h2m-25 1h2m135 0h2m-145 2h2m66 0h2m-51 1h2m-103 1h2m85 0h2m141 0h2m-212 1h2m101 0h2m-36 1h2m10 0h2m-6 1h2m-95 1h2m17 0h2m58 0h2m193 1h2m-298 1h2m10 0h2m-52 1h2m18 1h2m145 0h2m-128 1h2m118 0h2m-116 1h2m-6 1h2m220 0h2m-213 3h2m91 0h2m11 1h2m-122 1h2m134 0h2m60 0h2m87 1h2m-2 0h2m-324 1h2m187 0h2m-216 2h2m41 1h2m150 0h2m21 0h2m-160 1h2m-2 1h2m146 0h2m-172 1h2m182 0h2m37 0h2m-237 1h2m301 0h2m-281 2h2m18 0h2m207 2h2m41 0h2m-145 1h2m-137 1h2m167 0h2m-163 1h2m13 0h2m165 0h2m-239 1h2m71 0h2m177 0h2m-183 1h2m264 0h2m-266 1h2m219 0h2m-250 1h2m156 4h2m-31 2h2m132 0h2m4 0h2m-96 1h2m-162 1h2m118 0h2m46 0h2m-199 1h2m256 0h2m-276 1h2m161 1h2m0 0h2m13 1h2m-198 1h2m58 0h2m-20 1h2m136 0h2m-140 1h2m237 0h2m-11 1h2m-227 1h2m167 0h2m-200 1h2m3 1h2m5 0h2m305 0h2m-297 1h2m0 0h2m293 0h2m-153 1h2m3 0h2m99 0h2m4 0h2m-258 1h2m162 1h2m22 0h2m-200 1h2m18 0h2m139 0h2m137 0h2m-159 1h2m6 1h2m-143 1h2m11 0h2m211 0h2m-94 1h2m19 0h2m3 0h2m-169 1h2m284 0h2m-273 3h2m9 0h2m125 0h2m12 1h2m-166 1h2m5 0h2m204 0h2m-91 1h2m38 0h2m15 0h2m108 0h2m-290 1h2m6 1h2m121 0h2m-124 1h2m11 0h2m146 1h2m-166 1h2m-1 1h2m156 0h2m-156 1h2m-46 1h2m42 0h2m126 0h2m-140 1h2m7 0h2m80 0h2m2 0h2m3 0h2m-114 1h2m8 0h2m101 0h2m78 0h2m-170 1h2m81 0h2m-71 1h2m78 0h2m127 0h2m-211 1h2m2 0h2m56 0h2m2 0h2m-58 1h2m56 0h2m16 2h2m-85 1h2m58 1h2m5 0h2m6 0h2m19 0h2m-91 1h2m58 0h2m-19 1h2m0 0h2m7 0h2m19 0h2m29 0h2m-166 1h2m4 0h2m43 0h2m0 0h2m-2 0h2m65 0h2m-80 1h2m212 0h2m13 0h2m-283 1h2m58 0h2m23 0h2m30 0h2m27 0h2m-14 1h2m-36 1h2m223 0h2m-201 1h2m13 0h2m-68 1h2m100 0h2m-52 1h2m13 0h2m-140 1h2m138 1h2m9 0h2m143 0h2m-225 2h2m20 0h2m14 0h2m25 0h2m-59 1h2m-66 1h2m67 0h2m22 0h2m206 0h2m-32 1h2m-253 1h2m7 0h2m102 0h2m-166 2h2m20 0h2m231 0h2m-203 1h2m129 0h2m-119 1h2m44 1h2m41 0h2m-73 1h2m46 0h2m-29 1h2m22 0h2m15 0h2m-91 1h2m-1 0h2m21 0h2m-12 1h2m14 0h2m100 0h2m-138 1h2m81 0h2m-33 1h2m-1 1h2m-39 1h2m-68 1h2m88 1h2m47 0h2m-79 1h2m58 0h2m-70 1h2m28 0h2m9 1h2m16 1h2m27 0h2m-74 2h2m-21 1h2m65 0h2m-94 2h2m133 0h2m-16 1h2m-38 1h2m-50 1h2m33 0h2m1 0h2m86 0h2m-118 2h2m42 0h2m24 0h2m13 0h2m-96 2h2m61 0h2m40 0h2m-63 1h2m44 0h2m-141 1h2m93 0h2m-96 1h2m109 0h2m15 0h2m-60 1h2m22 0h2m25 1h2m-54 1h2m21 0h2m47 0h2m33 0h2m-140 1h2m29 0h2m-41 1h2m103 0h2m-52 1h2m65 0h2m0 0h2m-115 1h2m8 1h2m60 0h2m-80 1h2m88 1h2m-49 2h2m50 0h2m30 0h2m-115 1h2m43 0h2m9 1h2m-70 1h2m70 0h2m27 0h2m-146 1h2m68 1h2m33 0h2m23 0h2m-86 2h2m15 0h2m37 0h2m59 0h2m-111 1h2m-41 1h2m116 0h2m-16 1h2m15 2h2m-35 1h2m23 0h2m-2 0h2m-8 1h2m-54 1h2m22 0h2m127 0h2m-115 3h2m-34 1h2m19 0h2m-22 3h2m6 0h2m41 0h2m14 0h2m-75 1h2m66 3h2m-45 1h2m149 0h2m-195 1h2m0 0h2m57 1h2m-47 4h2m25 1h2m-94 2h2m63 1h2m47 1h2m25 0h2m1 1h2m-121 2h2m110 0h2m-87 1h2m21 1h2m37 0h2m44 0h2m-35 3h2m53 4h2m-85 1h2m18 3h2m15 1h2m-114 2h2m47 1h2m28 0h2m41 1h2m-112 6h2m50 5h2m33 2h2m-28 2h2m-42 1h2m60 0h2m-3 1h2m1 1h2m-47 5h2m-12 1h2m53 0h2m-14 1h2m-98 1h2m98 1h2m-79 4h2m41 1h2m22 3h2m3 5h2m64 1h2m-74 1h2m-74 1h2m6 0h2m31 1h2m-3 1h2m-3 5h2m16 0h2m-90 1h2m17 4h2m-28 1h2m0 3h2m40 1h2m149 1h2m-118 1h2m13 2h2m-63 2h2m21 1h2m55 1h2m-86 1h2m123 0h2m-71 3h2m-57 1h2m57 1h2m-40 1h2m38 2h2m19 0h2m-78 6h2m67 3h2m-78 3h2m56 2h2m-35 3h2m45 0h2m-39 1h2m66 12h2m-109 7h2m51 0h2" stroke="#8888a8" stroke-width="2.2"/><path d="M209 3646h2m246 1h2m-288 5h2m11 6h2m256 0h2m-275 2h2m94 3h2m-68 1h2m-18 1h2m52 3h2m48 2h2m22 0h2m19 0h2m-174 1h2m41 2h2m56 0h2m20 1h2m-17 1h2m1 0h2m-73 1h2m25 0h2m1 0h2m-19 1h2m36 0h2m-2 0h2m-30 1h2m166 0h2m-158 1h2m2 0h2m22 0h2m2 0h2m-41 1h2m52 0h2m65 0h2m83 0h2m-236 1h2m16 0h2m49 0h2m-138 1h2m49 0h2m17 0h2m-2 0h2m46 0h2m151 0h2m-226 1h2m16 0h2m164 0h2m-183 1h2m44 0h2m13 0h2m8 0h2m65 1h2m-154 1h2m17 0h2m50 0h2m9 0h2m135 0h2m85 0h2m-352 1h2m54 0h2m1 0h2m10 0h2m5 0h2m18 0h2m60 0h2m98 0h2m-199 1h2m8 0h2m12 0h2m32 0h2m3 0h2m3 0h2m3 0h2m-63 1h2m3 0h2m-1 0h2m2 0h2m5 0h2m-1 0h2m1 0h2m41 0h2m-61 1h2m23 0h2m12 0h2m7 0h2m22 0h2m-50 1h2m2 0h2m31 0h2m-2 0h2m10 0h2m168 0h2m-247 1h2m21 0h2m-2 0h2m3 0h2m19 0h2m2 0h2m25 0h2m-133 1h2m12 0h2m78 0h2m-1 0h2m0 0h2m1 0h2m0 0h2m18 0h2m5 0h2m12 0h2m26 0h2m-146 1h2m77 0h2m-1 0h2m6 0h2m0 0h2m-2 0h2m17 0h2m3 0h2m32 0h2m5 0h2m-154 1h2m20 0h2m-2 0h2m70 0h2m11 0h2m70 0h2m-221 1h2m28 0h2m5 0h2m42 0h2m15 0h2m0 0h2m5 0h2m14 0h2m9 0h2m1 0h2m-117 1h2m71 0h2m5 0h2m8 0h2m23 0h2m4 0h2m0 0h2m-83 1h2m8 0h2m2 0h2m2 0h2m0 0h2m5 0h2m8 0h2m0 0h2m-1 0h2m2 0h2m8 0h2m10 0h2m16 0h2m9 0h2m-93 1h2m17 0h2m6 0h2m4 0h2m7 0h2m2 0h2m14 0h2m12 0h2m5 0h2m-124 1h2m30 0h2m32 0h2m12 0h2m5 0h2m3 0h2m7 0h2m0 0h2m13 0h2m8 0h2m66 0h2m-208 1h2m24 0h2m25 0h2m0 0h2m15 0h2m2 0h2m-1 0h2m2 0h2m1 0h2m0 0h2m0 0h2m8 0h2m13 0h2m0 0h2m19 0h2m1 0h2m-114 1h2m0 0h2m35 0h2m0 0h2m1 0h2m8 0h2m-2 0h2m-1 0h2m0 0h2m5 0h2m2 0h2m17 0h2m2 0h2m9 0h2m14 0h2m-100 1h2m21 0h2m4 0h2m2 0h2m-1 0h2m6 0h2m3 0h2m5 0h2m2 0h2m0 0h2m-1 0h2m-1 0h2m13 0h2m122 0h2m-227 1h2m17 0h2m1 0h2m14 0h2m2 0h2m-1 0h2m5 0h2m5 0h2m7 0h2m8 0h2m24 0h2m8 0h2m-96 1h2m6 0h2m9 0h2m2 0h2m-1 0h2m5 0h2m16 0h2m-1 0h2m6 0h2m3 0h2m4 0h2m5 0h2m42 0h2m-100 1h2m6 0h2m7 0h2m1 0h2m20 0h2m-1 0h2m3 0h2m3 0h2m5 0h2m3 0h2m45 0h2m120 0h2m-276 1h2m7 0h2m10 0h2m12 0h2m32 0h2m15 0h2m6 0h2m1 0h2m5 0h2m-1 0h2m0 0h2m4 0h2m156 0h2m-265 1h2m11 0h2m9 0h2m9 0h2m7 0h2m2 0h2m-1 0h2m7 0h2m0 0h2m16 0h2m2 0h2m5 0h2m4 0h2m0 0h2m13 0h2m11 0h2m21 0h2m122 0h2m-308 1h2m3 0h2m6 0h2m6 0h2m19 0h2m8 0h2m3 0h2m6 0h2m11 0h2m-1 0h2m11 0h2m3 0h2m1 0h2m-1 0h2m25 0h2m-1 0h2m-1 0h2m5 0h2m-130 1h2m18 0h2m26 0h2m2 0h2m1 0h2m6 0h2m18 0h2m-1 0h2m3 0h2m3 0h2m11 0h2m-2 0h2m-1 0h2m7 0h2m8 0h2m-1 0h2m9 0h2m123 0h2m39 0h2m-299 1h2m9 0h2m17 0h2m14 0h2m2 0h2m6 0h2m11 0h2m1 0h2m2 0h2m3 0h2m1 0h2m20 0h2m13 0h2m3 0h2m162 0h2m-266 1h2m-2 0h2m16 0h2m0 0h2m10 0h2m23 0h2m18 0h2m0 0h2m23 0h2m57 0h2m56 0h2m50 0h2m-318 1h2m18 0h2m21 0h2m3 0h2m16 0h2m8 0h2m0 0h2m8 0h2m-2 0h2m1 0h2m-1 0h2m-1 0h2m-1 0h2m0 0h2m1 0h2m0 0h2m4 0h2m0 0h2m18 0h2m4 0h2m18 0h2m4 0h2m6 0h2m116 0h2m-262 1h2m3 0h2m1 0h2m10 0h2m17 0h2m1 0h2m5 0h2m29 0h2m13 0h2m36 0h2m124 0h2m13 0h2m-287 1h2m3 0h2m9 0h2m2 0h2m1 0h2m20 0h2m4 0h2m1 0h2m24 0h2m5 0h2m0 0h2m15 0h2m43 0h2m28 0h2m-2 0h2m21 0h2m-192 1h2m11 0h2m16 0h2m-1 0h2m-1 0h2m34 0h2m4 0h2m-2 0h2m2 0h2m-2 0h2m5 0h2m5 0h2m9 0h2m20 0h2m49 0h2m38 0h2m-262 1h2m44 0h2m6 0h2m-1 0h2m-1 0h2m1 0h2m11 0h2m-1 0h2m4 0h2m3 0h2m2 0h2m2 0h2m10 0h2m8 0h2m6 0h2m3 0h2m29 0h2m34 0h2m79 0h2m-208 1h2m-2 0h2m7 0h2m6 0h2m-1 0h2m0 0h2m-2 0h2m1 0h2m7 0h2m9 0h2m-2 0h2m1 0h2m10 0h2m1 0h2m2 0h2m0 0h2m2 0h2m-2 0h2m1 0h2m11 0h2m-1 0h2m-101 1h2m5 0h2m8 0h2m15 0h2m1 0h2m-1 0h2m-2 0h2m13 0h2m1 0h2m2 0h2m5 0h2m7 0h2m2 0h2m18 0h2m-158 1h2m16 0h2m23 0h2m26 0h2m0 0h2m21 0h2m7 0h2m2 0h2m3 0h2m0 0h2m13 0h2m11 0h2m24 0h2m1 0h2m19 0h2m23 0h2m50 0h2m14 0h2m-300 1h2m31 0h2m29 0h2m5 0h2m1 0h2m1 0h2m-1 0h2m16 0h2m1 0h2m-1 0h2m6 0h2m5 0h2m7 0h2m1 0h2m-1 0h2m3 0h2m-2 0h2m6 0h2m0 0h2m70 0h2m77 0h2m14 0h2m6 0h2m-304 1h2m22 0h2m33 0h2m6 0h2m-1 0h2m-2 0h2m4 0h2m10 0h2m1 0h2m4 0h2m6 0h2m23 0h2m0 0h2m4 0h2m17 0h2m12 0h2m-144 1h2m24 0h2m19 0h2m20 0h2m5 0h2m49 0h2m-179 1h2m57 0h2m12 0h2m2 0h2m4 0h2m-1 0h2m1 0h2m-1 0h2m0 0h2m-1 0h2m4 0h2m14 0h2m10 0h2m0 0h2m4 0h2m-2 0h2m2 0h2m11 0h2m15 0h2m3 0h2m5 0h2m-1 0h2m41 0h2m6 0h2m110 0h2m-326 1h2m19 0h2m15 0h2m-2 0h2m2 0h2m2 0h2m1 0h2m17 0h2m4 0h2m11 0h2m4 0h2m7 0h2m16 0h2m-1 0h2m-2 0h2m2 0h2m3 0h2m1 0h2m4 0h2m-2 0h2m35 0h2m117 0h2m29 0h2m-337 1h2m30 0h2m34 0h2m32 0h2m0 0h2m0 0h2m1 0h2m4 0h2m11 0h2m0 0h2m12 0h2m15 0h2m111 0h2m-240 1h2m14 0h2m13 0h2m11 0h2m17 0h2m14 0h2m10 0h2m15 0h2m-1 0h2m31 0h2m149 0h2m-300 1h2m14 0h2m18 0h2m-2 0h2m7 0h2m2 0h2m-2 0h2m2 0h2m-2 0h2m3 0h2m4 0h2m1 0h2m-1 0h2m-2 0h2m-1 0h2m4 0h2m-2 0h2m-1 0h2m0 0h2m4 0h2m4 0h2m1 0h2m1 0h2m8 0h2m6 0h2m2 0h2m19 0h2m4 0h2m73 0h2m-243 1h2m13 0h2m3 0h2m11 0h2m12 0h2m6 0h2m12 0h2m0 0h2m0 0h2m2 0h2m-1 0h2m12 0h2m7 0h2m7 0h2m3 0h2m0 0h2m6 0h2m1 0h2m5 0h2m40 0h2m-175 1h2m3 0h2m15 0h2m4 0h2m30 0h2m0 0h2m6 0h2m4 0h2m2 0h2m6 0h2m12 0h2m5 0h2m13 0h2m1 0h2m4 0h2m3 0h2m0 0h2m24 0h2m-151 1h2m43 0h2m5 0h2m1 0h2m22 0h2m5 0h2m1 0h2m14 0h2m3 0h2m8 0h2m-1 0h2m5 0h2m66 0h2m106 0h2m-301 1h2m6 0h2m7 0h2m-1 0h2m-2 0h2m13 0h2m4 0h2m2 0h2m-1 0h2m2 0h2m-1 0h2m10 0h2m4 0h2m3 0h2m24 0h2m2 0h2m7 0h2m40 0h2m91 0h2m-270 1h2m36 0h2m12 0h2m9 0h2m28 0h2m1 0h2m2 0h2m22 0h2m23 0h2m1 0h2m93 0h2m30 0h2m26 0h2m-290 1h2m17 0h2m1 0h2m-1 0h2m12 0h2m6 0h2m6 0h2m0 0h2m2 0h2m1 0h2m4 0h2m5 0h2m-1 0h2m0 0h2m6 0h2m1 0h2m30 0h2m0 0h2m143 0h2m-290 1h2m37 0h2m4 0h2m2 0h2m8 0h2m10 0h2m-1 0h2m25 0h2m5 0h2m-1 0h2m8 0h2m0 0h2m9 0h2m-1 0h2m14 0h2m0 0h2m-128 1h2m2 0h2m2 0h2m6 0h2m2 0h2m0 0h2m9 0h2m4 0h2m2 0h2m2 0h2m-1 0h2m5 0h2m6 0h2m10 0h2m2 0h2m1 0h2m7 0h2m6 0h2m-1 0h2m12 0h2m25 0h2m6 0h2m5 0h2m-157 1h2m12 0h2m4 0h2m-1 0h2m4 0h2m1 0h2m-1 0h2m11 0h2m2 0h2m18 0h2m4 0h2m0 0h2m9 0h2m24 0h2m10 0h2m100 0h2m34 0h2m-290 1h2m-1 0h2m31 0h2m2 0h2m11 0h2m5 0h2m1 0h2m11 0h2m6 0h2m0 0h2m-1 0h2m4 0h2m6 0h2m7 0h2m3 0h2m4 0h2m-2 0h2m4 0h2m6 0h2m-1 0h2m21 0h2m0 0h2m0 0h2m31 0h2m63 0h2m20 0h2m-276 1h2m1 0h2m-1 0h2m17 0h2m15 0h2m0 0h2m29 0h2m5 0h2m-1 0h2m-1 0h2m1 0h2m0 0h2m13 0h2m8 0h2m-1 0h2m-1 0h2m7 0h2m2 0h2m0 0h2m10 0h2m8 0h2m1 0h2m70 0h2m-243 1h2m9 0h2m22 0h2m19 0h2m1 0h2m0 0h2m10 0h2m4 0h2m24 0h2m-2 0h2m0 0h2m6 0h2m-2 0h2m9 0h2m0 0h2m0 0h2m3 0h2m7 0h2m18 0h2m8 0h2m155 0h2m-336 1h2m20 0h2m14 0h2m7 0h2m0 0h2m6 0h2m1 0h2m2 0h2m4 0h2m-1 0h2m5 0h2m7 0h2m8 0h2m1 0h2m0 0h2m3 0h2m1 0h2m9 0h2m1 0h2m3 0h2m11 0h2m23 0h2m51 0h2m52 0h2m35 0h2m-305 1h2m45 0h2m1 0h2m8 0h2m1 0h2m14 0h2m10 0h2m3 0h2m1 0h2m3 0h2m-1 0h2m26 0h2m-2 0h2m12 0h2m7 0h2m24 0h2m-1 0h2m68 0h2m-258 1h2m23 0h2m14 0h2m22 0h2m6 0h2m1 0h2m7 0h2m-1 0h2m6 0h2m5 0h2m3 0h2m6 0h2m18 0h2m26 0h2m0 0h2m21 0h2m28 0h2m-223 1h2m27 0h2m8 0h2m1 0h2m11 0h2m3 0h2m1 0h2m8 0h2m4 0h2m-1 0h2m1 0h2m4 0h2m4 0h2m1 0h2m4 0h2m0 0h2m-2 0h2m-1 0h2m9 0h2m1 0h2m16 0h2m9 0h2m23 0h2m65 0h2m35 0h2m-231 1h2m2 0h2m21 0h2m-1 0h2m24 0h2m3 0h2m-1 0h2m0 0h2m4 0h2m12 0h2m16 0h2m-2 0h2m12 0h2m3 0h2m35 0h2m1 0h2m4 0h2m59 0h2m5 0h2m-268 1h2m9 0h2m3 0h2m31 0h2m2 0h2m3 0h2m3 0h2m-1 0h2m9 0h2m21 0h2m5 0h2m11 0h2m-2 0h2m0 0h2m9 0h2m1 0h2m7 0h2m12 0h2m3 0h2m54 0h2m-199 1h2m1 0h2m14 0h2m12 0h2m3 0h2m8 0h2m9 0h2m10 0h2m6 0h2m1 0h2m9 0h2m4 0h2m13 0h2m9 0h2m-131 1h2m0 0h2m1 0h2m20 0h2m-1 0h2m-1 0h2m5 0h2m47 0h2m4 0h2m4 0h2m2 0h2m0 0h2m5 0h2m9 0h2m173 0h2m-325 1h2m35 0h2m13 0h2m3 0h2m1 0h2m-2 0h2m3 0h2m34 0h2m0 0h2m23 0h2m1 0h2m33 0h2m-175 1h2m4 0h2m3 0h2m17 0h2m11 0h2m10 0h2m29 0h2m0 0h2m6 0h2m16 0h2m2 0h2m11 0h2m-1 0h2m2 0h2m-2 0h2m1 0h2m-1 0h2m25 0h2m36 0h2m32 0h2m56 0h2m21 0h2m-337 1h2m9 0h2m24 0h2m11 0h2m3 0h2m4 0h2m-1 0h2m1 0h2m4 0h2m8 0h2m31 0h2m13 0h2m0 0h2m0 0h2m21 0h2m-1 0h2m8 0h2m19 0h2m5 0h2m-169 1h2m33 0h2m5 0h2m8 0h2m2 0h2m1 0h2m19 0h2m3 0h2m0 0h2m15 0h2m1 0h2m11 0h2m0 0h2m19 0h2m10 0h2m16 0h2m50 0h2m-2 0h2m24 0h2m55 0h2m7 0h2m-347 1h2m61 0h2m-1 0h2m4 0h2m-2 0h2m20 0h2m8 0h2m14 0h2m7 0h2m6 0h2m2 0h2m-1 0h2m-1 0h2m1 0h2m14 0h2m56 0h2m26 0h2m-221 1h2m-1 0h2m6 0h2m15 0h2m3 0h2m14 0h2m13 0h2m17 0h2m2 0h2m0 0h2m21 0h2m6 0h2m-1 0h2m4 0h2m-2 0h2m3 0h2m12 0h2m36 0h2m-189 1h2m6 0h2m11 0h2m20 0h2m8 0h2m10 0h2m-2 0h2m3 0h2m-1 0h2m2 0h2m2 0h2m23 0h2m9 0h2m194 0h2m-307 1h2m7 0h2m-1 0h2m12 0h2m27 0h2m20 0h2m2 0h2m-1 0h2m0 0h2m10 0h2m4 0h2m3 0h2m7 0h2m5 0h2m14 0h2m10 0h2m3 0h2m39 0h2m78 0h2m-2 0h2m-275 1h2m12 0h2m0 0h2m2 0h2m18 0h2m0 0h2m1 0h2m-1 0h2m14 0h2m2 0h2m0 0h2m-2 0h2m2 0h2m-2 0h2m4 0h2m2 0h2m0 0h2m4 0h2m4 0h2m2 0h2m6 0h2m9 0h2m15 0h2m56 0h2m7 0h2m78 0h2m21 0h2m-325 1h2m28 0h2m6 0h2m8 0h2m2 0h2m9 0h2m-1 0h2m4 0h2m-1 0h2m9 0h2m-2 0h2m-2 0h2m14 0h2m-1 0h2m3 0h2m9 0h2m0 0h2m9 0h2m1 0h2m-1 0h2m10 0h2m16 0h2m33 0h2m-185 1h2m33 0h2m0 0h2m26 0h2m0 0h2m2 0h2m8 0h2m3 0h2m7 0h2m7 0h2m0 0h2m7 0h2m-1 0h2m10 0h2m152 0h2m-297 1h2m9 0h2m12 0h2m4 0h2m9 0h2m11 0h2m5 0h2m8 0h2m2 0h2m3 0h2m7 0h2m0 0h2m15 0h2m4 0h2m3 0h2m16 0h2m5 0h2m20 0h2m4 0h2m64 0h2m23 0h2m61 0h2m-332 1h2m14 0h2m26 0h2m7 0h2m-1 0h2m0 0h2m12 0h2m6 0h2m3 0h2m-1 0h2m-1 0h2m11 0h2m0 0h2m6 0h2m7 0h2m8 0h2m2 0h2m3 0h2m0 0h2m125 0h2m-259 1h2m9 0h2m55 0h2m-1 0h2m-1 0h2m6 0h2m0 0h2m8 0h2m1 0h2m7 0h2m0 0h2m1 0h2m-1 0h2m10 0h2m1 0h2m81 0h2m29 0h2m12 0h2m40 0h2m21 0h2m-294 1h2m15 0h2m7 0h2m10 0h2m22 0h2m1 0h2m6 0h2m-1 0h2m-2 0h2m0 0h2m-2 0h2m6 0h2m14 0h2m0 0h2m6 0h2m9 0h2m-139 1h2m0 0h2m30 0h2m8 0h2m2 0h2m11 0h2m9 0h2m3 0h2m-1 0h2m8 0h2m1 0h2m-1 0h2m0 0h2m5 0h2m14 0h2m1 0h2m26 0h2m10 0h2m2 0h2m-164 1h2m4 0h2m14 0h2m-1 0h2m11 0h2m-1 0h2m16 0h2m17 0h2m18 0h2m3 0h2m4 0h2m10 0h2m43 0h2m20 0h2m7 0h2m-196 1h2m21 0h2m4 0h2m0 0h2m3 0h2m2 0h2m19 0h2m8 0h2m1 0h2m7 0h2m-1 0h2m-1 0h2m7 0h2m0 0h2m3 0h2m28 0h2m36 0h2m2 0h2m69 0h2m9 0h2m-227 1h2m3 0h2m19 0h2m-1 0h2m0 0h2m4 0h2m1 0h2m5 0h2m3 0h2m1 0h2m2 0h2m0 0h2m3 0h2m2 0h2m5 0h2m5 0h2m-1 0h2m1 0h2m10 0h2m7 0h2m-157 1h2m66 0h2m11 0h2m-1 0h2m11 0h2m5 0h2m-1 0h2m1 0h2m35 0h2m37 0h2m4 0h2m7 0h2m111 0h2m-306 1h2m28 0h2m8 0h2m14 0h2m3 0h2m3 0h2m13 0h2m-1 0h2m11 0h2m27 0h2m6 0h2m33 0h2m3 0h2m19 0h2m93 0h2m-231 1h2m-2 0h2m2 0h2m8 0h2m-1 0h2m1 0h2m3 0h2m6 0h2m49 0h2m-2 0h2m21 0h2m9 0h2m-149 1h2m14 0h2m13 0h2m6 0h2m2 0h2m-2 0h2m19 0h2m0 0h2m18 0h2m4 0h2m56 0h2m19 0h2m60 0h2m-174 1h2m15 0h2m16 0h2m9 0h2m6 0h2m0 0h2m27 0h2m136 0h2m-320 1h2m24 0h2m1 0h2m7 0h2m5 0h2m35 0h2m14 0h2m7 0h2m0 0h2m34 0h2m3 0h2m8 0h2m-119 1h2m-2 0h2m3 0h2m11 0h2m6 0h2m6 0h2m9 0h2m1 0h2m12 0h2m4 0h2m3 0h2m-2 0h2m20 0h2m-1 0h2m49 0h2m2 0h2m60 0h2m50 0h2m21 0h2m-325 1h2m75 0h2m-1 0h2m-1 0h2m18 0h2m7 0h2m9 0h2m0 0h2m3 0h2m68 0h2m7 0h2m-221 1h2m56 0h2m22 0h2m6 0h2m-1 0h2m0 0h2m7 0h2m18 0h2m0 0h2m1 0h2m5 0h2m17 0h2m17 0h2m92 0h2m19 0h2m-261 1h2m18 0h2m14 0h2m7 0h2m1 0h2m-1 0h2m4 0h2m29 0h2m-1 0h2m1 0h2m0 0h2m2 0h2m15 0h2m4 0h2m1 0h2m18 0h2m27 0h2m78 0h2m7 0h2m-263 1h2m13 0h2m8 0h2m3 0h2m3 0h2m0 0h2m7 0h2m-2 0h2m-1 0h2m15 0h2m5 0h2m17 0h2m1 0h2m41 0h2m57 0h2m-165 1h2m37 0h2m2 0h2m10 0h2m11 0h2m2 0h2m4 0h2m-1 0h2m53 0h2m-136 1h2m22 0h2m3 0h2m31 0h2m1 0h2m-47 1h2m-2 0h2m9 0h2m-1 0h2m6 0h2m1 0h2m16 0h2m17 0h2m6 0h2m0 0h2m-139 1h2m41 0h2m17 0h2m9 0h2m10 0h2m8 0h2m2 0h2m3 0h2m3 0h2m29 0h2m4 0h2m1 0h2m38 0h2m111 0h2m-260 1h2m22 0h2m37 0h2m18 0h2m182 0h2m-261 1h2m10 0h2m8 0h2m0 0h2m-1 0h2m2 0h2m19 0h2m29 0h2m7 0h2m-1 0h2m3 0h2m-136 1h2m33 0h2m12 0h2m8 0h2m4 0h2m0 0h2m3 0h2m37 0h2m4 0h2m4 0h2m2 0h2m9 0h2m-121 1h2m13 0h2m15 0h2m28 0h2m8 0h2m37 0h2m5 0h2m1 0h2m9 0h2m72 0h2m82 0h2m-290 1h2m20 0h2m51 0h2m7 0h2m15 0h2m30 0h2m116 0h2m-207 1h2m18 0h2m24 0h2m8 0h2m20 0h2m0 0h2m148 0h2m6 0h2m-287 1h2m34 0h2m3 0h2m8 0h2m6 0h2m42 0h2m0 0h2m-76 1h2m15 0h2m-1 0h2m12 0h2m4 0h2m17 0h2m11 0h2m185 0h2m-289 1h2m26 0h2m0 0h2m6 0h2m6 0h2m-1 0h2m6 0h2m3 0h2m29 0h2m11 0h2m-1 0h2m52 0h2m136 0h2m-304 1h2m18 0h2m43 0h2m19 0h2m70 0h2m124 0h2m-325 1h2m23 0h2m31 0h2m42 0h2m0 0h2m5 0h2m20 0h2m13 0h2m3 0h2m4 0h2m-2 0h2m27 0h2m-197 1h2m65 0h2m4 0h2m13 0h2m11 0h2m8 0h2m8 0h2m-1 0h2m-1 0h2m22 0h2m108 0h2m21 0h2m-248 1h2m38 0h2m15 0h2m29 0h2m-2 0h2m-1 0h2m22 0h2m1 0h2m0 0h2m12 0h2m101 0h2m-210 1h2m3 0h2m29 0h2m43 0h2m9 0h2m19 0h2m99 0h2m-214 1h2m46 0h2m-69 1h2m55 0h2m9 0h2m150 0h2m20 0h2m-240 1h2m25 0h2m6 0h2m-1 0h2m29 0h2m16 0h2m-1 0h2m2 0h2m35 0h2m-122 1h2m0 0h2m11 0h2m1 0h2m2 0h2m-1 0h2m2 0h2m16 0h2m15 0h2m48 0h2m-106 1h2m39 0h2m28 0h2m14 0h2m5 0h2m9 0h2m5 0h2m155 0h2m-258 1h2m61 0h2m67 0h2m15 0h2m-168 1h2m33 0h2m30 0h2m2 0h2m34 0h2m18 0h2m-76 1h2m0 0h2m8 0h2m2 0h2m174 0h2m14 0h2m19 0h2m-311 1h2m24 0h2m61 0h2m-46 1h2m7 0h2m3 0h2m43 0h2m1 0h2m-120 1h2m113 0h2m175 0h2m-322 1h2m32 0h2m49 0h2m51 0h2m-76 1h2m1 0h2m82 0h2m13 0h2m-104 1h2m79 0h2m12 0h2m67 0h2m-218 1h2m46 0h2m-1 0h2m20 0h2m19 0h2m2 0h2m1 0h2m41 0h2m-133 1h2m53 0h2m2 0h2m-1 0h2m16 0h2m2 0h2m6 0h2m-2 0h2m0 0h2m-52 1h2m-1 0h2m7 0h2m33 0h2m21 0h2m3 0h2m-72 1h2m4 0h2m2 0h2m14 0h2m-51 1h2m19 0h2m29 0h2m33 0h2m2 0h2m3 0h2m47 0h2m9 0h2m-149 1h2m42 0h2m10 0h2m0 0h2m30 0h2m2 0h2m1 0h2m27 0h2m-95 1h2m1 0h2m11 0h2m15 0h2m4 0h2m15 0h2m20 0h2m9 0h2m19 0h2m-130 1h2m52 0h2m-2 0h2m43 0h2m2 0h2m31 0h2m18 0h2m-159 1h2m23 0h2m33 0h2m18 0h2m18 0h2m-127 1h2m21 0h2m0 0h2m19 0h2m6 0h2m-7 1h2m6 0h2m10 0h2m6 0h2m26 0h2m27 0h2m6 0h2m30 0h2m-191 1h2m40 0h2m37 0h2m22 0h2m-2 0h2m-75 1h2m6 0h2m14 0h2m-1 0h2m4 0h2m20 0h2m11 0h2m7 0h2m-78 1h2m15 0h2m49 0h2m-113 1h2m47 0h2m41 0h2m13 0h2m-87 1h2m51 0h2m12 0h2m-82 1h2m13 0h2m1 0h2m0 0h2m33 0h2m1 0h2m11 0h2m8 0h2m-56 1h2m57 0h2m30 0h2m34 0h2m-135 1h2m19 0h2m50 0h2m14 0h2m-113 1h2m9 0h2m8 0h2m28 0h2m7 0h2m23 0h2m35 0h2m8 0h2m7 0h2m-97 1h2m15 0h2m21 0h2m20 0h2m9 0h2m5 0h2m-123 1h2m38 0h2m-2 0h2m15 0h2m12 0h2m-1 0h2m26 0h2m8 0h2m-1 0h2m1 0h2m9 0h2m-116 1h2m24 0h2m16 0h2m10 0h2m32 0h2m-88 1h2m35 0h2m28 0h2m1 0h2m7 0h2m-52 1h2m-2 0h2m211 0h2m-259 1h2m6 0h2m57 0h2m0 0h2m45 0h2m-130 1h2m79 0h2m20 0h2m0 0h2m22 0h2m-70 1h2m9 0h2m101 0h2m-143 1h2m30 0h2m45 0h2m-70 1h2m10 0h2m70 0h2m32 0h2m-95 1h2m41 0h2m-79 1h2m20 0h2m23 0h2m24 0h2m-63 1h2m12 0h2m7 0h2m29 0h2m-112 1h2m39 0h2m0 0h2m31 0h2m11 0h2m19 0h2m8 0h2m-2 0h2m44 0h2m-111 1h2m42 0h2m9 0h2m47 0h2m-43 1h2m57 0h2m-132 1h2m18 0h2m102 0h2m-112 1h2m3 0h2m5 0h2m5 0h2m-1 0h2m-1 0h2m40 0h2m12 0h2m-93 1h2m77 0h2m-1 0h2m29 0h2m140 0h2m-244 1h2m35 0h2m2 0h2m34 0h2m10 0h2m39 0h2m-177 1h2m12 0h2m40 0h2m-2 0h2m5 0h2m19 0h2m-65 1h2m20 0h2m31 0h2m0 0h2m0 0h2m25 0h2m10 0h2m-25 1h2m37 0h2m-84 1h2m35 0h2m58 0h2m-134 1h2m60 0h2m11 0h2m-2 0h2m-65 1h2m59 0h2m27 0h2m0 0h2m82 0h2m-196 2h2m50 0h2m3 0h2m39 0h2m29 1h2m9 0h2m-95 1h2m2 0h2m26 0h2m18 0h2m26 0h2m35 0h2m-185 1h2m58 1h2m1 0h2m78 0h2m10 0h2m-130 1h2m75 0h2m-12 1h2m13 0h2m-92 1h2m29 0h2m15 0h2m-20 1h2m31 0h2m59 0h2m-84 1h2m-1 0h2m8 0h2m10 0h2m24 0h2m-1 0h2m-19 1h2m-65 1h2m3 0h2m108 0h2m6 0h2m-81 1h2m39 0h2m53 0h2m-143 1h2m70 0h2m27 0h2m-83 1h2m24 0h2m11 0h2m25 0h2m3 0h2m-79 2h2m18 0h2m5 0h2m62 0h2m-65 1h2m33 0h2m9 0h2m46 0h2m-62 1h2m51 0h2m-70 1h2m3 0h2m4 0h2m26 0h2m3 0h2m10 0h2m40 1h2m-164 1h2m10 0h2m-2 0h2m31 0h2m30 0h2m38 0h2m-110 1h2m55 0h2m5 0h2m-25 2h2m0 0h2m27 0h2m7 0h2m-57 1h2m15 0h2m17 0h2m12 0h2m1 0h2m-60 2h2m45 0h2m-64 1h2m92 0h2m6 0h2m-90 1h2m4 0h2m15 0h2m7 0h2m6 0h2m22 0h2m-17 1h2m-38 1h2m17 0h2m-4 1h2m22 0h2m-45 1h2m41 0h2m24 0h2m4 0h2m-106 1h2m59 0h2m-1 1h2m-49 1h2m3 0h2m4 0h2m4 0h2m10 0h2m20 0h2m1 0h2m-105 1h2m22 0h2m65 0h2m-44 1h2m77 0h2m25 0h2m9 0h2m-157 1h2m72 0h2m26 0h2m4 0h2m2 0h2m3 0h2m-91 1h2m9 0h2m11 0h2m1 0h2m53 0h2m39 0h2m-137 1h2m62 0h2m-2 0h2m-40 1h2m52 0h2m-16 1h2m51 0h2m-122 1h2m-19 1h2m22 1h2m30 0h2m-9 1h2m-1 0h2m55 1h2m-53 1h2m-85 1h2m55 0h2m44 0h2m-66 1h2m3 0h2m43 0h2m20 0h2m-37 1h2m15 0h2m12 0h2m31 0h2m-71 1h2m15 0h2m33 0h2m-100 1h2m35 0h2m60 0h2m-73 1h2m65 0h2m3 0h2m-53 1h2m36 0h2m23 0h2m-18 1h2m-18 1h2m-51 1h2m27 0h2m23 0h2m2 0h2m-16 1h2m-71 1h2m0 1h2m144 0h2m-122 1h2m18 0h2m-58 1h2m70 1h2m-2 0h2m12 0h2m36 0h2m-66 1h2m20 0h2m-61 1h2m21 0h2m38 0h2m4 0h2m38 0h2m-93 1h2m67 0h2m-1 0h2m9 0h2m-1 0h2m-2 0h2m-79 1h2m35 0h2m-19 1h2m1 0h2m39 0h2m-31 1h2m38 0h2m-103 1h2m111 0h2m7 0h2m-34 1h2m7 0h2m-36 1h2m63 0h2m-112 1h2m29 0h2m110 0h2m-56 2h2m-37 1h2m-34 1h2m45 0h2m11 1h2m-2 0h2m26 1h2m-121 1h2m4 0h2m10 1h2m7 0h2m25 0h2m39 0h2m38 0h2m-99 1h2m5 0h2m-88 1h2m73 0h2m31 0h2m-91 1h2m32 0h2m45 0h2m17 0h2m-70 1h2m71 2h2m-90 2h2m48 1h2m-60 1h2m14 0h2m96 1h2m-84 1h2m4 0h2m20 1h2m9 0h2m6 0h2m0 0h2m-2 1h2m-21 1h2m-17 2h2m7 0h2m5 0h2m-31 1h2m55 0h2m-17 2h2m38 0h2m-107 1h2m31 0h2m-43 1h2m9 0h2m48 0h2m-67 2h2m42 0h2m23 0h2m-34 2h2m-29 1h2m70 0h2m-55 2h2m46 0h2m-100 1h2m107 1h2m-111 1h2m72 1h2m-64 1h2m51 3h2m0 0h2m24 2h2m-1 1h2m16 0h2m18 1h2m6 0h2m-61 2h2m55 0h2m-50 1h2m2 0h2m7 0h2m-1 2h2m-73 1h2m58 0h2m71 0h2m-125 1h2m24 0h2m-83 2h2m15 0h2m2 0h2m113 2h2m11 0h2m-96 1h2m-55 1h2m71 0h2m9 1h2m37 0h2m-98 1h2m130 0h2m-25 1h2m9 0h2m-48 1h2m63 2h2m-62 1h2m-61 1h2m119 2h2m-34 1h2m-28 1h2m-32 1h2m-12 3h2m-69 1h2m27 10h2m8 0h2m-13 2h2m139 2h2m-84 2h2m-93 1h2m158 2h2m-89 1h2m78 2h2" stroke="#1414d4" stroke-width="2.2"/><path d="M229 3694h2m5 0h2m26 0h2m-40 1h2m6 0h2m-2 0h2m16 0h2m10 0h2m3 0h2m-33 1h2m1 0h2m-15 1h2m3 0h2m7 0h2m2 0h2m12 0h2m-32 1h2m1 0h2m25 0h2m3 0h2m-16 1h2m-22 1h2m5 0h2m31 0h2m-20 1h2m-23 1h2m-2 0h2m18 0h2m20 0h2m-47 1h2m0 0h2m14 0h2m3 0h2m6 0h2m4 0h2m-48 1h2m52 0h2m3 0h2m5 0h2m-62 2h2m4 0h2m1 0h2m-29 1h2m11 0h2m49 0h2m-52 1h2m-17 1h2m0 1h2m25 0h2m37 0h2m1 0h2m6 0h2m-77 1h2m2 0h2m11 0h2m2 0h2m-6 1h2m53 0h2m-78 1h2m17 0h2m-17 1h2m-11 1h2m1 0h2m2 0h2m1 0h2m75 0h2m-71 1h2m75 0h2m-105 1h2m1 0h2m85 0h2m0 0h2m0 0h2m-87 2h2m1 0h2m5 0h2m77 0h2m4 0h2m-105 1h2m0 1h2m18 0h2m62 0h2m-80 1h2m7 0h2m85 0h2m-93 1h2m71 0h2m0 0h2m-1 0h2m-89 1h2m12 0h2m6 0h2m-2 0h2m-10 1h2m4 1h2m3 0h2m-6 1h2m68 0h2m11 0h2m-106 1h2m8 0h2m10 0h2m-1 0h2m3 0h2m53 0h2m-1 1h2m0 0h2m10 0h2m-2 0h2m-98 4h2m12 0h2m2 0h2m-10 2h2m14 0h2m-43 1h2m88 0h2m-67 1h2m-2 0h2m-2 0h2m12 0h2m-41 1h2m7 0h2m74 0h2m9 0h2m3 0h2m-78 1h2m12 0h2m45 0h2m-70 1h2m19 0h2m46 0h2m1 0h2m-2 0h2m1 0h2m0 1h2m-63 1h2m-1 0h2m-31 1h2m-7 1h2m16 0h2m4 1h2m76 0h2m-31 1h2m-50 1h2m17 0h2m33 0h2m3 0h2m2 0h2m-80 1h2m0 0h2m7 0h2m24 0h2m-44 1h2m31 0h2m50 0h2m0 0h2m-1 0h2m10 0h2m-98 1h2m-1 0h2m-2 0h2m3 0h2m4 0h2m27 0h2m-53 1h2m75 0h2m0 0h2m3 0h2m-84 1h2m8 0h2m10 0h2m21 0h2m34 0h2m4 0h2m1 0h2m-91 1h2m20 0h2m14 0h2m4 0h2m31 0h2m-80 1h2m4 0h2m9 0h2m4 0h2m-1 0h2m71 0h2m-82 1h2m10 0h2m5 0h2m10 0h2m30 0h2m4 0h2m10 0h2m-66 1h2m-1 0h2m1 0h2m-2 0h2m54 0h2m-88 1h2m2 0h2m13 0h2m28 0h2m7 1h2m20 0h2m-59 1h2m25 0h2m24 0h2m-73 1h2m20 0h2m26 0h2m6 0h2m3 0h2m-75 1h2m26 0h2m-33 1h2m20 0h2m25 0h2m11 0h2m3 0h2m-65 1h2m16 0h2m12 0h2m43 0h2m-53 1h2m27 0h2m8 0h2m11 0h2m-77 1h2m36 0h2m0 0h2m20 0h2m3 0h2m-73 1h2m6 0h2m0 0h2m15 0h2m7 0h2m13 0h2m-51 1h2m15 0h2m28 0h2m4 0h2m-49 1h2m10 0h2m12 0h2m29 0h2m12 0h2m5 0h2m-81 1h2m12 0h2m0 0h2m-1 0h2m6 0h2m29 0h2m9 0h2m12 0h2m-65 1h2m-20 1h2m2 0h2m7 0h2m3 0h2m14 0h2m17 0h2m-56 1h2m0 0h2m3 0h2m32 0h2m19 0h2m8 0h2m-65 1h2m13 0h2m8 0h2m20 0h2m-43 1h2m31 0h2m29 0h2m-75 1h2m15 0h2m49 0h2m-2 0h2m-75 1h2m40 0h2m39 0h2m-62 1h2m1 0h2m1 0h2m39 1h2m-43 1h2m10 0h2m3 1h2m-20 2h2m8 0h2m8 0h2m-36 1h2m3 0h2m0 0h2m5 0h2m4 1h2m2 0h2m0 0h2m0 0h2m-12 1h2m0 0h2m4 0h2m-22 3h2m6 0h2m16 1h2" stroke="#20b040" stroke-width="2.2"/><path d="M240 3704h2m25 0h2m-24 1h2m5 0h2m-13 1h2m-5 1h2m2 0h2m4 0h2m8 0h2m6 0h2m-19 1h2m-1 0h2m11 0h2m3 0h2m-28 1h2m5 0h2m1 0h2m-2 0h2m9 0h2m-1 0h2m0 0h2m-14 1h2m1 0h2m2 0h2m1 0h2m-28 1h2m5 0h2m2 0h2m0 0h2m1 0h2m0 0h2m-1 0h2m4 0h2m-1 0h2m-1 0h2m0 0h2m-1 0h2m-33 1h2m9 0h2m-7 1h2m7 0h2m3 0h2m1 0h2m-1 0h2m-1 0h2m-1 0h2m-2 0h2m1 0h2m0 0h2m-38 2h2m-1 0h2m35 0h2m0 0h2m-2 0h2m0 0h2m-43 1h2m0 0h2m-3 1h2m34 0h2m0 0h2m-39 1h2m36 0h2m4 0h2m-2 0h2m-50 1h2m3 0h2m-2 1h2m35 0h2m-1 0h2m3 0h2m-9 1h2m5 0h2m-47 1h2m42 0h2m-49 1h2m1 0h2m42 0h2m-51 1h2m44 0h2m0 0h2m-1 0h2m-6 1h2m-45 1h2m0 0h2m39 0h2m-50 1h2m7 0h2m-1 0h2m-12 1h2m-1 0h2m-1 0h2m6 0h2m31 0h2m-1 0h2m1 0h2m-2 0h2m-43 1h2m39 0h2m0 0h2m0 0h2m0 0h2m-49 2h2m35 2h2m7 0h2m-51 1h2m4 0h2m-2 0h2m-8 1h2m-5 1h2m-2 0h2m0 0h2m-1 0h2m37 0h2m-1 0h2m-41 1h2m32 0h2m-1 0h2m-1 0h2m-2 0h2m-34 1h2m30 0h2m-26 1h2m0 0h2m1 0h2m14 0h2m-39 1h2m0 0h2m-2 1h2m2 0h2m4 0h2m2 0h2m21 0h2m-31 1h2m23 0h2m-2 0h2m3 0h2m-42 1h2m31 0h2m-30 1h2m0 0h2m8 0h2m20 0h2m-32 1h2m-6 1h2m0 0h2m-2 0h2m20 0h2m-19 1h2m2 0h2m3 0h2m4 0h2m-16 1h2m8 0h2m2 0h2m-11 1h2m11 0h2m-2 2h2m-17 1h2m-1 1h2m1 0h2m10 0h2m-18 1h2m3 0h2m-1 0h2m-12 1h2m2 1h2" stroke="#40c030" stroke-width="2.2"/><path d="M237 3704h2m0 0h2m9 0h2m1 0h2m3 0h2m1 1h2m-20 1h2m15 0h2m-22 1h2m6 0h2m-2 0h2m11 0h2m-13 1h2m-15 1h2m10 0h2m1 0h2m13 0h2m-32 1h2m17 1h2m-8 1h2m-1 0h2m3 0h2m10 0h2m-25 1h2m13 0h2m6 0h2m-41 3h2m42 0h2m1 2h2m-4 1h2m3 0h2m-53 1h2m43 1h2m-48 1h2m45 0h2m-2 1h2m-5 1h2m0 3h2m-1 0h2m0 0h2m-6 1h2m2 0h2m0 0h2m-49 1h2m40 1h2m-44 1h2m-1 0h2m45 0h2m-8 2h2m-42 1h2m0 0h2m36 1h2m-38 1h2m-1 0h2m20 0h2m-28 1h2m29 0h2m-29 1h2m1 0h2m25 0h2m-35 1h2m8 0h2m-8 1h2m3 0h2m-7 2h2m-12 1h2m7 0h2m-12 1h2m0 0h2m4 0h2m31 0h2m-37 1h2m3 2h2m11 0h2m-15 1h2m8 0h2m0 1h2m-15 1h2m9 0h2m5 0h2m-2 0h2m0 1h2m-5 2h2m-7 4h2" stroke="#e8d020" stroke-width="2.2"/><path d="M244 3716h2m-5 1h2m1 0h2m-7 1h2m-1 0h2m0 0h2m1 0h2m-5 1h2m0 1h2m-8 1h2m0 0h2m-1 0h2m-1 1h2m-6 1h2m0 0h2m-2 0h2m-2 1h2m4 0h2m-10 1h2m-2 0h2m2 0h2m1 1h2m-10 1h2m7 0h2m-3 2h2m0 0h2m-10 1h2m-4 1h2m-2 0h2m3 0h2m-1 0h2m1 0h2m-10 1h2m0 0h2m0 0h2m-7 1h2m4 0h2m-8 1h2m-2 1h2m1 0h2m6 1h2m1 1h2m-2 1h2m-1 0h2m-1 0h2m1 0h2m-6 2h2m-1 0h2m-1 0h2m2 0h2m-11 1h2m0 0h2m-6 1h2m7 0h2m0 0h2m-12 1h2m8 0h2m-8 1h2m-1 1h2m3 1h2" stroke="#f08a18" stroke-width="2.2"/><path d="M255 3714h2m4 0h2m-14 1h2m8 0h2m-2 0h2m0 0h2m-1 0h2m2 0h2m-2 0h2m-18 1h2m-2 0h2m-1 0h2m11 0h2m-16 1h2m5 0h2m6 0h2m-11 1h2m-10 1h2m1 0h2m3 0h2m9 0h2m-20 1h2m2 0h2m5 0h2m-9 1h2m5 0h2m0 0h2m1 0h2m-1 0h2m-6 1h2m3 0h2m-17 1h2m-2 0h2m6 0h2m-12 1h2m-1 0h2m-1 0h2m4 0h2m3 0h2m-1 0h2m-2 0h2m-16 1h2m8 0h2m6 0h2m-21 1h2m-1 0h2m-1 0h2m2 0h2m-6 1h2m-1 0h2m6 0h2m2 0h2m0 0h2m-19 1h2m7 0h2m2 1h2m-1 0h2m3 0h2m-11 1h2m-13 1h2m0 0h2m5 0h2m-1 0h2m7 0h2m-20 1h2m-1 0h2m7 0h2m0 0h2m-2 0h2m-10 1h2m4 0h2m-1 0h2m3 0h2m-17 1h2m1 0h2m10 0h2m-16 1h2m-1 0h2m0 0h2m3 0h2m-1 0h2m1 0h2m-1 0h2m0 0h2" stroke="#e02818" stroke-width="2.2"/></g>
<rect x="53.6" y="1808.4" width="215.4" height="215.6" fill="none" stroke="#111" stroke-width="1.4"/>
<line x1="158.3" y1="1808.4" x2="158.3" y2="2024" stroke="#111" stroke-width="1.4"/>
<line x1="53.6" y1="1911.8" x2="269" y2="1911.8" stroke="#111" stroke-width="1.4"/>
<path d="M53.6 1891h-5M53.6 1936.6h-5M53.6 1980.8h-5M53.6 2001.8h-5M53.6 1821.6h-2.5M53.6 1834.8h-2.5M53.6 1848h-2.5M53.6 1861.2h-2.5M53.6 1874.4h-2.5M53.6 1887.6h-2.5M53.6 1900.8h-2.5M53.6 1914h-2.5M53.6 1927.2h-2.5M53.6 1940.4h-2.5M53.6 1953.6h-2.5M53.6 1966.8h-2.5M53.6 1980h-2.5M53.6 1993.2h-2.5M53.6 2006.4h-2.5M53.6 1983.8h-2.5M53.6 1986.8h-2.5M53.6 1989.8h-2.5M53.6 1992.8h-2.5M53.6 1995.8h-2.5M53.6 2024v6M102.1 2024v6M161.3 2024v6M218 2024v6M68.6 2024v3M83.6 2024v3M98.6 2024v3M113.6 2024v3M128.6 2024v3M143.6 2024v3M158.6 2024v3M173.6 2024v3M188.6 2024v3M203.6 2024v3M218.6 2024v3M233.6 2024v3M248.6 2024v3M68.7 2024v4M70.3 2024v4M71.9 2024v4M73.5 2024v4M75.1 2024v4" stroke="#111" stroke-width="1.1" fill="none"/>
<text transform="matrix(1 0 0 1.05 259 2013.5)" font-size="33.5" text-anchor="end">0.91</text>
<ellipse cx="354.4" cy="1875.2" rx="32.4" ry="23.4" fill="#2a2ab4" opacity="0.42" filter="url(#b3)"/>
<g transform="scale(0.5)"><path d="M687 3651h2m45 6h2m8 9h2m-13 6h2m0 0h2m112 0h2m-229 1h2m121 2h2m169 1h2m-184 1h2m-20 1h2m0 1h2m-44 1h2m19 0h2m30 0h2m14 1h2m-84 1h2m22 0h2m19 0h2m0 1h2m-20 2h2m11 0h2m31 0h2m149 0h2m-140 1h2m44 0h2m-57 1h2m-6 1h2m-21 1h2m5 0h2m23 0h2m-53 1h2m37 0h2m-88 1h2m56 0h2m82 0h2m-26 1h2m-91 2h2m-18 1h2m89 0h2m-128 1h2m130 0h2m152 0h2m-288 1h2m49 1h2m-19 1h2m-25 1h2m30 1h2m16 0h2m66 0h2m-66 1h2m45 0h2m2 0h2m-91 1h2m34 0h2m102 0h2m-33 2h2m-137 1h2m11 0h2m22 0h2m2 0h2m266 0h2m-306 1h2m141 0h2m129 0h2m2 2h2m13 0h2m-256 1h2m238 1h2m-311 1h2m53 0h2m110 0h2m-141 1h2m10 1h2m25 0h2m137 1h2m-185 1h2m9 0h2m31 0h2m90 1h2m26 0h2m54 0h2m-210 1h2m0 0h2m29 0h2m90 0h2m-130 1h2m30 0h2m-22 1h2m14 0h2m165 0h2m-238 2h2m43 0h2m16 0h2m103 0h2m102 1h2m-204 1h2m0 0h2m175 0h2m-54 1h2m53 0h2m-243 1h2m39 0h2m-25 3h2m164 0h2m18 1h2m-209 1h2m214 0h2m114 0h2m-53 2h2m-226 1h2m140 0h2m-30 1h2m19 0h2m-186 1h2m26 0h2m20 0h2m112 0h2m103 0h2m-228 1h2m2 0h2m208 0h2m72 0h2m-307 1h2m125 0h2m51 0h2m-2 0h2m112 0h2m-161 1h2m4 0h2m-136 1h2m-2 0h2m-42 1h2m37 0h2m13 0h2m131 0h2m35 0h2m10 0h2m-182 1h2m109 0h2m97 0h2m-220 1h2m5 1h2m104 0h2m-131 2h2m20 0h2m100 0h2m7 0h2m1 0h2m23 0h2m24 0h2m45 0h2m17 0h2m-60 1h2m-69 3h2m22 0h2m129 1h2m-135 1h2m0 0h2m154 0h2m-304 1h2m1 0h2m5 0h2m7 1h2m102 0h2m125 0h2m-274 1h2m252 2h2m-11 1h2m57 0h2m-299 1h2m27 0h2m97 0h2m7 0h2m9 0h2m13 0h2m48 0h2m41 0h2m52 0h2m-333 1h2m148 0h2m41 1h2m-202 1h2m165 0h2m-160 1h2m34 0h2m5 0h2m2 0h2m103 0h2m105 0h2m-73 1h2m-153 1h2m-1 0h2m122 0h2m14 0h2m153 0h2m-191 1h2m28 0h2m-169 1h2m42 0h2m91 0h2m-132 1h2m119 0h2m9 0h2m6 0h2m103 0h2m-210 1h2m81 0h2m-1 1h2m1 1h2m153 0h2m-305 1h2m11 0h2m7 0h2m130 0h2m29 0h2m-45 1h2m30 1h2m-30 1h2m-110 1h2m24 0h2m280 0h2m-292 1h2m93 0h2m17 0h2m-124 1h2m136 0h2m97 0h2m-168 1h2m-90 1h2m8 0h2m3 0h2m105 0h2m-102 1h2m-1 0h2m9 0h2m71 0h2m76 0h2m-28 1h2m-180 1h2m55 0h2m65 0h2m7 0h2m27 0h2m-6 1h2m12 0h2m2 0h2m-139 1h2m15 0h2m6 0h2m7 0h2m42 0h2m18 0h2m3 0h2m170 0h2m-248 1h2m-15 1h2m127 1h2m69 0h2m-190 2h2m15 0h2m48 0h2m90 0h2m-135 1h2m8 0h2m13 0h2m-120 1h2m32 0h2m55 0h2m76 0h2m-103 1h2m26 0h2m0 0h2m-55 1h2m65 0h2m34 0h2m9 0h2m115 0h2m-207 1h2m-13 1h2m32 0h2m4 0h2m-22 2h2m-38 1h2m102 0h2m9 0h2m-55 1h2m-2 0h2m21 0h2m3 0h2m-2 0h2m-59 1h2m24 1h2m36 0h2m20 0h2m64 0h2m-118 1h2m-2 0h2m-74 1h2m54 0h2m72 0h2m-92 1h2m-44 2h2m18 0h2m59 0h2m-87 1h2m66 0h2m1 1h2m-40 1h2m8 0h2m-1 0h2m8 0h2m18 0h2m123 0h2m-195 1h2m56 0h2m23 0h2m-100 2h2m51 1h2m1 0h2m-74 1h2m33 0h2m28 0h2m8 0h2m73 0h2m-68 1h2m-82 1h2m48 2h2m10 0h2m-42 1h2m36 0h2m33 0h2m-49 1h2m23 0h2m-49 1h2m62 0h2m12 1h2m-61 1h2m23 0h2m53 0h2m-116 1h2m13 0h2m17 0h2m104 0h2m-108 1h2m78 0h2m-72 1h2m-28 1h2m90 0h2m-80 1h2m11 0h2m3 0h2m36 0h2m-45 6h2m20 1h2m32 0h2m33 0h2m42 0h2m-196 2h2m56 0h2m18 0h2m15 0h2m-10 1h2m4 0h2m8 0h2m-102 1h2m49 0h2m30 0h2m-1 0h2m-59 2h2m25 0h2m58 0h2m-142 1h2m74 0h2m93 1h2m-89 2h2m6 0h2m32 0h2m15 1h2m13 0h2m-85 1h2m21 0h2m4 0h2m77 0h2m-81 1h2m-10 1h2m30 0h2m25 0h2m-75 1h2m0 0h2m29 0h2m-14 1h2m63 0h2m-151 1h2m19 0h2m19 0h2m19 0h2m-13 1h2m119 0h2m-98 1h2m32 0h2m-104 1h2m30 0h2m-31 1h2m40 1h2m81 0h2m-50 1h2m-54 1h2m28 0h2m-5 2h2m-15 1h2m31 1h2m51 0h2m-33 4h2m-30 1h2m-29 2h2m4 0h2m12 1h2m7 0h2m-14 1h2m5 0h2m-35 1h2m71 0h2m-74 1h2m21 1h2m-83 1h2m93 1h2m40 0h2m-77 1h2m-18 1h2m-2 0h2m11 0h2m42 3h2m27 0h2m32 0h2m14 1h2m-97 1h2m7 0h2m16 0h2m3 0h2m-50 1h2m33 0h2m-102 3h2m67 2h2m6 1h2m11 3h2m63 1h2m18 0h2m-101 1h2m-17 2h2m-5 1h2m64 0h2m-58 1h2m47 0h2m-67 1h2m8 0h2m-3 1h2m0 1h2m67 0h2m-67 2h2m48 3h2m51 0h2m-113 1h2m-24 2h2m56 0h2m54 0h2m26 0h2m-71 4h2m35 0h2m-35 1h2m24 3h2m-102 3h2m23 0h2m32 3h2m-59 3h2m20 2h2m32 1h2m71 0h2m-100 2h2m75 1h2m-121 1h2m-23 4h2m80 0h2m5 2h2m13 0h2m-35 1h2m36 0h2m54 1h2m-34 4h2m-58 5h2m-4 4h2m-17 2h2m16 0h2m-10 1h2m59 2h2m-86 2h2m31 1h2m-49 1h2m124 0h2m-132 6h2m71 2h2m3 6h2m-12 8h2m-17 6h2m-69 5h2m62 2h2m-11 1h2m-22 5h2m-1 0h2m29 2h2m17 0h2m-71 4h2m18 7h2m31 1h2m32 1h2m0 8h2m-87 1h2m64 1h2" stroke="#8888a8" stroke-width="2.2"/><path d="M693 3650h2m219 0h2m-240 5h2m53 3h2m-77 4h2m135 0h2m131 1h2m-201 5h2m-1 1h2m-73 1h2m36 0h2m6 0h2m10 2h2m16 1h2m-79 1h2m18 0h2m14 1h2m6 0h2m73 0h2m44 0h2m72 1h2m-202 1h2m28 0h2m45 1h2m-114 1h2m70 0h2m10 0h2m-84 1h2m129 0h2m114 0h2m-208 1h2m15 0h2m10 0h2m-82 1h2m47 0h2m9 0h2m-29 1h2m-8 1h2m24 0h2m8 0h2m14 1h2m4 0h2m170 0h2m9 0h2m-218 1h2m-1 0h2m102 0h2m-153 1h2m36 0h2m15 0h2m19 0h2m23 0h2m-38 1h2m7 0h2m9 0h2m9 0h2m103 0h2m-229 1h2m36 0h2m-1 0h2m36 0h2m17 0h2m-1 0h2m23 0h2m-154 1h2m79 0h2m10 0h2m24 0h2m-85 1h2m69 0h2m2 0h2m19 0h2m-35 1h2m-1 0h2m-1 0h2m23 0h2m-93 1h2m52 0h2m2 0h2m13 0h2m14 0h2m42 0h2m92 0h2m-198 1h2m27 0h2m14 0h2m7 0h2m3 0h2m1 0h2m20 0h2m104 0h2m34 0h2m24 0h2m-289 1h2m39 0h2m18 0h2m10 0h2m48 0h2m4 0h2m4 0h2m24 0h2m-129 1h2m6 0h2m4 0h2m1 0h2m-1 0h2m11 0h2m15 0h2m3 0h2m-1 0h2m0 0h2m12 0h2m8 0h2m-48 1h2m51 0h2m5 0h2m-1 0h2m0 0h2m17 0h2m-81 1h2m7 0h2m1 0h2m26 0h2m16 0h2m176 0h2m-236 1h2m0 0h2m14 0h2m3 0h2m4 0h2m4 0h2m15 0h2m73 0h2m-179 1h2m35 0h2m12 0h2m0 0h2m3 0h2m5 0h2m20 0h2m6 0h2m13 0h2m75 0h2m-148 1h2m13 0h2m21 0h2m4 0h2m13 0h2m0 0h2m32 0h2m110 0h2m-230 1h2m1 0h2m5 0h2m-1 0h2m17 0h2m7 0h2m2 0h2m6 0h2m30 0h2m44 0h2m74 0h2m52 0h2m-326 1h2m60 0h2m8 0h2m17 0h2m2 0h2m0 0h2m1 0h2m20 0h2m5 0h2m-2 0h2m-1 0h2m-1 0h2m6 0h2m1 0h2m10 0h2m11 0h2m0 0h2m15 0h2m-154 1h2m34 0h2m21 0h2m2 0h2m1 0h2m8 0h2m-1 0h2m21 0h2m7 0h2m21 0h2m66 0h2m26 0h2m-255 1h2m3 0h2m38 0h2m17 0h2m7 0h2m2 0h2m0 0h2m6 0h2m1 0h2m12 0h2m5 0h2m12 0h2m2 0h2m-2 0h2m2 0h2m3 0h2m2 0h2m22 0h2m66 0h2m-227 1h2m1 0h2m32 0h2m26 0h2m9 0h2m1 0h2m3 0h2m16 0h2m-1 0h2m2 0h2m0 0h2m1 0h2m89 0h2m27 0h2m-257 1h2m66 0h2m10 0h2m-2 0h2m-2 0h2m2 0h2m2 0h2m10 0h2m25 0h2m3 0h2m144 0h2m63 0h2m-258 1h2m12 0h2m1 0h2m0 0h2m7 0h2m6 0h2m-1 0h2m7 0h2m1 0h2m57 0h2m1 0h2m138 0h2m-308 1h2m-1 0h2m11 0h2m37 0h2m13 0h2m4 0h2m0 0h2m14 0h2m-1 0h2m42 0h2m135 0h2m-219 1h2m-2 0h2m4 0h2m-2 0h2m27 0h2m-1 0h2m8 0h2m13 0h2m21 0h2m14 0h2m48 0h2m18 0h2m-214 1h2m29 0h2m2 0h2m-2 0h2m1 0h2m2 0h2m6 0h2m0 0h2m0 0h2m2 0h2m7 0h2m1 0h2m-1 0h2m5 0h2m8 0h2m13 0h2m-111 1h2m23 0h2m11 0h2m4 0h2m2 0h2m5 0h2m6 0h2m2 0h2m-1 0h2m2 0h2m3 0h2m0 0h2m18 0h2m-1 0h2m8 0h2m-162 1h2m5 0h2m14 0h2m14 0h2m44 0h2m0 0h2m2 0h2m5 0h2m-1 0h2m1 0h2m-1 0h2m1 0h2m1 0h2m0 0h2m1 0h2m-1 0h2m-1 0h2m19 0h2m-1 0h2m1 0h2m-2 0h2m-1 0h2m-1 0h2m2 0h2m-1 0h2m21 0h2m15 0h2m31 0h2m55 0h2m-215 1h2m1 0h2m19 0h2m12 0h2m-2 0h2m-1 0h2m5 0h2m8 0h2m9 0h2m-2 0h2m0 0h2m8 0h2m2 0h2m153 0h2m-251 1h2m37 0h2m-2 0h2m15 0h2m6 0h2m1 0h2m5 0h2m6 0h2m6 0h2m-2 0h2m10 0h2m3 0h2m3 0h2m11 0h2m17 0h2m148 0h2m-304 1h2m8 0h2m-2 0h2m6 0h2m14 0h2m1 0h2m-1 0h2m11 0h2m27 0h2m-1 0h2m-1 0h2m0 0h2m3 0h2m18 0h2m-1 0h2m2 0h2m3 0h2m10 0h2m23 0h2m30 0h2m0 0h2m17 0h2m79 0h2m6 0h2m-309 1h2m25 0h2m30 0h2m18 0h2m6 0h2m4 0h2m4 0h2m17 0h2m7 0h2m-119 1h2m10 0h2m19 0h2m4 0h2m1 0h2m1 0h2m-1 0h2m7 0h2m11 0h2m5 0h2m6 0h2m5 0h2m-1 0h2m6 0h2m-1 0h2m11 0h2m0 0h2m49 0h2m31 0h2m84 0h2m-249 1h2m2 0h2m3 0h2m0 0h2m12 0h2m1 0h2m0 0h2m2 0h2m-1 0h2m7 0h2m5 0h2m1 0h2m-1 0h2m-1 0h2m8 0h2m9 0h2m-114 1h2m19 0h2m9 0h2m1 0h2m5 0h2m-1 0h2m4 0h2m-2 0h2m-1 0h2m-2 0h2m4 0h2m-1 0h2m-1 0h2m5 0h2m0 0h2m-2 0h2m2 0h2m10 0h2m7 0h2m1 0h2m26 0h2m104 0h2m35 0h2m8 0h2m-284 1h2m28 0h2m-1 0h2m3 0h2m3 0h2m16 0h2m4 0h2m7 0h2m6 0h2m2 0h2m1 0h2m2 0h2m1 0h2m0 0h2m4 0h2m25 0h2m55 0h2m101 0h2m-303 1h2m25 0h2m17 0h2m13 0h2m21 0h2m-1 0h2m-2 0h2m2 0h2m-2 0h2m0 0h2m6 0h2m8 0h2m15 0h2m3 0h2m5 0h2m10 0h2m69 0h2m13 0h2m-266 1h2m35 0h2m23 0h2m10 0h2m11 0h2m1 0h2m-2 0h2m5 0h2m3 0h2m-2 0h2m10 0h2m0 0h2m-1 0h2m9 0h2m12 0h2m7 0h2m-1 0h2m6 0h2m-1 0h2m21 0h2m24 0h2m66 0h2m-289 1h2m60 0h2m13 0h2m3 0h2m1 0h2m22 0h2m9 0h2m-2 0h2m17 0h2m-1 0h2m2 0h2m0 0h2m5 0h2m1 0h2m9 0h2m4 0h2m5 0h2m49 0h2m-182 1h2m10 0h2m3 0h2m28 0h2m10 0h2m-2 0h2m1 0h2m4 0h2m5 0h2m-2 0h2m0 0h2m5 0h2m16 0h2m1 0h2m2 0h2m1 0h2m1 0h2m2 0h2m1 0h2m0 0h2m44 0h2m80 0h2m42 0h2m-322 1h2m23 0h2m3 0h2m4 0h2m1 0h2m14 0h2m0 0h2m0 0h2m0 0h2m12 0h2m-1 0h2m3 0h2m5 0h2m13 0h2m7 0h2m4 0h2m2 0h2m9 0h2m13 0h2m0 0h2m-125 1h2m11 0h2m8 0h2m4 0h2m1 0h2m19 0h2m9 0h2m18 0h2m-2 0h2m2 0h2m0 0h2m6 0h2m6 0h2m36 0h2m24 0h2m44 0h2m34 0h2m41 0h2m-277 1h2m0 0h2m13 0h2m1 0h2m1 0h2m5 0h2m18 0h2m8 0h2m7 0h2m2 0h2m-1 0h2m1 0h2m18 0h2m16 0h2m6 0h2m0 0h2m2 0h2m128 0h2m-308 1h2m3 0h2m40 0h2m7 0h2m0 0h2m2 0h2m22 0h2m-1 0h2m5 0h2m0 0h2m2 0h2m-1 0h2m-2 0h2m4 0h2m1 0h2m14 0h2m21 0h2m3 0h2m4 0h2m2 0h2m101 0h2m-223 1h2m8 0h2m10 0h2m2 0h2m11 0h2m6 0h2m2 0h2m0 0h2m-2 0h2m34 0h2m0 0h2m0 0h2m-2 0h2m-2 0h2m28 0h2m17 0h2m6 0h2m42 0h2m34 0h2m10 0h2m-274 1h2m26 0h2m35 0h2m4 0h2m6 0h2m8 0h2m0 0h2m5 0h2m-2 0h2m2 0h2m0 0h2m3 0h2m10 0h2m5 0h2m-2 0h2m0 0h2m26 0h2m51 0h2m-252 1h2m-1 0h2m15 0h2m31 0h2m11 0h2m10 0h2m-2 0h2m5 0h2m15 0h2m-1 0h2m8 0h2m1 0h2m12 0h2m1 0h2m0 0h2m0 0h2m3 0h2m2 0h2m-1 0h2m-2 0h2m4 0h2m9 0h2m0 0h2m-1 0h2m11 0h2m-176 1h2m62 0h2m4 0h2m14 0h2m1 0h2m3 0h2m13 0h2m-2 0h2m-1 0h2m1 0h2m43 0h2m7 0h2m8 0h2m106 0h2m-272 1h2m36 0h2m8 0h2m1 0h2m6 0h2m11 0h2m1 0h2m-1 0h2m5 0h2m3 0h2m1 0h2m13 0h2m4 0h2m7 0h2m11 0h2m56 0h2m117 0h2m12 0h2m-281 1h2m-1 0h2m9 0h2m1 0h2m-1 0h2m3 0h2m1 0h2m3 0h2m0 0h2m7 0h2m1 0h2m18 0h2m20 0h2m4 0h2m21 0h2m27 0h2m2 0h2m125 0h2m-279 1h2m-1 0h2m-2 0h2m-1 0h2m0 0h2m11 0h2m2 0h2m-1 0h2m6 0h2m1 0h2m-1 0h2m10 0h2m5 0h2m13 0h2m-1 0h2m15 0h2m8 0h2m-1 0h2m1 0h2m13 0h2m18 0h2m-1 0h2m17 0h2m6 0h2m-196 1h2m16 0h2m14 0h2m1 0h2m13 0h2m17 0h2m0 0h2m1 0h2m12 0h2m-1 0h2m0 0h2m0 0h2m19 0h2m19 0h2m1 0h2m6 0h2m28 0h2m15 0h2m85 0h2m3 0h2m14 0h2m13 0h2m-341 1h2m-2 0h2m67 0h2m-1 0h2m31 0h2m-2 0h2m3 0h2m9 0h2m14 0h2m1 0h2m30 0h2m2 0h2m-2 0h2m18 0h2m36 0h2m26 0h2m78 0h2m-332 1h2m0 0h2m23 0h2m16 0h2m11 0h2m21 0h2m11 0h2m6 0h2m7 0h2m4 0h2m7 0h2m14 0h2m-1 0h2m5 0h2m37 0h2m1 0h2m18 0h2m0 0h2m48 0h2m15 0h2m-284 1h2m26 0h2m29 0h2m5 0h2m8 0h2m-1 0h2m0 0h2m1 0h2m1 0h2m4 0h2m2 0h2m19 0h2m10 0h2m0 0h2m0 0h2m-1 0h2m13 0h2m10 0h2m30 0h2m28 0h2m17 0h2m63 0h2m11 0h2m-334 1h2m36 0h2m42 0h2m-1 0h2m3 0h2m7 0h2m2 0h2m8 0h2m2 0h2m6 0h2m1 0h2m5 0h2m3 0h2m3 0h2m6 0h2m-1 0h2m5 0h2m7 0h2m4 0h2m11 0h2m100 0h2m-253 1h2m22 0h2m-2 0h2m4 0h2m22 0h2m1 0h2m9 0h2m-1 0h2m3 0h2m-1 0h2m4 0h2m0 0h2m5 0h2m5 0h2m1 0h2m4 0h2m4 0h2m7 0h2m1 0h2m1 0h2m11 0h2m3 0h2m27 0h2m53 0h2m6 0h2m-234 1h2m2 0h2m7 0h2m5 0h2m1 0h2m1 0h2m2 0h2m11 0h2m1 0h2m1 0h2m15 0h2m-1 0h2m28 0h2m-1 0h2m4 0h2m7 0h2m17 0h2m8 0h2m10 0h2m7 0h2m-138 1h2m5 0h2m-2 0h2m-2 0h2m22 0h2m12 0h2m6 0h2m0 0h2m4 0h2m5 0h2m6 0h2m0 0h2m-1 0h2m2 0h2m46 0h2m9 0h2m25 0h2m-235 1h2m13 0h2m4 0h2m14 0h2m23 0h2m13 0h2m8 0h2m9 0h2m15 0h2m3 0h2m9 0h2m16 0h2m2 0h2m5 0h2m14 0h2m4 0h2m88 0h2m-253 1h2m-1 0h2m11 0h2m7 0h2m-1 0h2m11 0h2m8 0h2m11 0h2m35 0h2m0 0h2m45 0h2m59 0h2m78 0h2m-288 1h2m2 0h2m47 0h2m1 0h2m3 0h2m6 0h2m6 0h2m-1 0h2m4 0h2m1 0h2m20 0h2m-2 0h2m-1 0h2m2 0h2m0 0h2m-1 0h2m19 0h2m17 0h2m-149 1h2m36 0h2m10 0h2m-2 0h2m-1 0h2m5 0h2m3 0h2m0 0h2m10 0h2m11 0h2m2 0h2m6 0h2m0 0h2m-1 0h2m7 0h2m3 0h2m28 0h2m0 0h2m18 0h2m7 0h2m13 0h2m105 0h2m-327 1h2m24 0h2m13 0h2m22 0h2m15 0h2m0 0h2m-1 0h2m1 0h2m4 0h2m-1 0h2m3 0h2m-2 0h2m-1 0h2m10 0h2m5 0h2m0 0h2m4 0h2m4 0h2m22 0h2m75 0h2m27 0h2m-259 1h2m2 0h2m46 0h2m5 0h2m5 0h2m1 0h2m-1 0h2m24 0h2m4 0h2m2 0h2m-1 0h2m7 0h2m99 0h2m59 0h2m-263 1h2m1 0h2m17 0h2m-1 0h2m3 0h2m9 0h2m0 0h2m2 0h2m3 0h2m5 0h2m1 0h2m0 0h2m-1 0h2m-1 0h2m5 0h2m24 0h2m1 0h2m6 0h2m0 0h2m-1 0h2m3 0h2m-1 0h2m32 0h2m12 0h2m51 0h2m68 0h2m-318 1h2m75 0h2m-2 0h2m2 0h2m-2 0h2m-1 0h2m2 0h2m8 0h2m1 0h2m53 0h2m62 0h2m85 0h2m-294 1h2m26 0h2m-1 0h2m0 0h2m12 0h2m1 0h2m5 0h2m3 0h2m-1 0h2m1 0h2m9 0h2m-1 0h2m6 0h2m12 0h2m3 0h2m2 0h2m-2 0h2m8 0h2m5 0h2m6 0h2m21 0h2m81 0h2m43 0h2m16 0h2m9 0h2m-305 1h2m2 0h2m7 0h2m9 0h2m0 0h2m19 0h2m8 0h2m2 0h2m0 0h2m11 0h2m13 0h2m21 0h2m3 0h2m13 0h2m5 0h2m96 0h2m6 0h2m9 0h2m27 0h2m-296 1h2m43 0h2m9 0h2m-2 0h2m9 0h2m-1 0h2m2 0h2m4 0h2m-2 0h2m-1 0h2m13 0h2m-2 0h2m6 0h2m6 0h2m21 0h2m4 0h2m9 0h2m57 0h2m-188 1h2m21 0h2m3 0h2m3 0h2m8 0h2m1 0h2m11 0h2m-1 0h2m-2 0h2m1 0h2m2 0h2m1 0h2m9 0h2m1 0h2m8 0h2m-1 0h2m48 0h2m73 0h2m29 0h2m-282 1h2m20 0h2m3 0h2m1 0h2m2 0h2m-1 0h2m16 0h2m5 0h2m42 0h2m-1 0h2m-2 0h2m5 0h2m1 0h2m2 0h2m-1 0h2m4 0h2m92 0h2m90 0h2m-310 1h2m6 0h2m13 0h2m0 0h2m0 0h2m1 0h2m6 0h2m1 0h2m-2 0h2m7 0h2m4 0h2m3 0h2m1 0h2m22 0h2m2 0h2m3 0h2m39 0h2m3 0h2m128 0h2m-272 1h2m13 0h2m18 0h2m2 0h2m7 0h2m2 0h2m5 0h2m8 0h2m0 0h2m24 0h2m5 0h2m1 0h2m5 0h2m3 0h2m13 0h2m60 0h2m35 0h2m47 0h2m-230 1h2m-2 0h2m10 0h2m1 0h2m4 0h2m2 0h2m43 0h2m1 0h2m3 0h2m4 0h2m1 0h2m118 0h2m-254 1h2m15 0h2m2 0h2m26 0h2m-1 0h2m-1 0h2m4 0h2m8 0h2m3 0h2m-1 0h2m10 0h2m1 0h2m9 0h2m-2 0h2m-1 0h2m4 0h2m1 0h2m-1 0h2m0 0h2m-1 0h2m14 0h2m0 0h2m83 0h2m13 0h2m-273 1h2m67 0h2m8 0h2m12 0h2m5 0h2m5 0h2m7 0h2m8 0h2m15 0h2m4 0h2m11 0h2m11 0h2m2 0h2m33 0h2m-1 0h2m30 0h2m58 0h2m-287 1h2m-2 0h2m36 0h2m1 0h2m6 0h2m-1 0h2m2 0h2m12 0h2m18 0h2m6 0h2m9 0h2m0 0h2m2 0h2m0 0h2m-2 0h2m0 0h2m15 0h2m-1 0h2m13 0h2m27 0h2m55 0h2m-1 0h2m8 0h2m16 0h2m32 0h2m-282 1h2m9 0h2m17 0h2m25 0h2m0 0h2m26 0h2m1 0h2m9 0h2m-1 0h2m22 0h2m4 0h2m-1 0h2m137 0h2m-269 1h2m5 0h2m29 0h2m16 0h2m8 0h2m0 0h2m-2 0h2m2 0h2m0 0h2m1 0h2m-1 0h2m24 0h2m16 0h2m26 0h2m34 0h2m9 0h2m44 0h2m17 0h2m21 0h2m-312 1h2m16 0h2m22 0h2m16 0h2m1 0h2m7 0h2m9 0h2m0 0h2m16 0h2m0 0h2m-1 0h2m5 0h2m4 0h2m20 0h2m15 0h2m27 0h2m3 0h2m16 0h2m-235 1h2m51 0h2m4 0h2m14 0h2m12 0h2m10 0h2m2 0h2m-2 0h2m2 0h2m0 0h2m3 0h2m3 0h2m0 0h2m2 0h2m5 0h2m2 0h2m1 0h2m37 0h2m28 0h2m7 0h2m-163 1h2m2 0h2m6 0h2m4 0h2m0 0h2m2 0h2m-1 0h2m2 0h2m9 0h2m15 0h2m-1 0h2m17 0h2m-1 0h2m4 0h2m5 0h2m15 0h2m6 0h2m78 0h2m-198 1h2m7 0h2m11 0h2m2 0h2m20 0h2m7 0h2m18 0h2m16 0h2m6 0h2m169 0h2m-316 1h2m29 0h2m5 0h2m15 0h2m11 0h2m3 0h2m1 0h2m4 0h2m2 0h2m-1 0h2m-1 0h2m1 0h2m8 0h2m2 0h2m0 0h2m0 0h2m6 0h2m3 0h2m55 0h2m51 0h2m67 0h2m-282 1h2m19 0h2m4 0h2m13 0h2m0 0h2m16 0h2m4 0h2m10 0h2m-1 0h2m0 0h2m5 0h2m1 0h2m-2 0h2m-2 0h2m11 0h2m25 0h2m1 0h2m27 0h2m0 0h2m4 0h2m114 0h2m-292 1h2m17 0h2m-2 0h2m12 0h2m0 0h2m17 0h2m3 0h2m0 0h2m-1 0h2m5 0h2m2 0h2m0 0h2m1 0h2m4 0h2m10 0h2m5 0h2m3 0h2m0 0h2m9 0h2m-1 0h2m3 0h2m186 0h2m-317 1h2m3 0h2m7 0h2m15 0h2m7 0h2m0 0h2m1 0h2m9 0h2m12 0h2m28 0h2m2 0h2m2 0h2m7 0h2m8 0h2m26 0h2m40 0h2m111 0h2m-306 1h2m-1 0h2m11 0h2m10 0h2m21 0h2m7 0h2m-1 0h2m2 0h2m2 0h2m3 0h2m6 0h2m-1 0h2m2 0h2m15 0h2m71 0h2m27 0h2m8 0h2m80 0h2m-308 1h2m18 0h2m12 0h2m0 0h2m11 0h2m1 0h2m2 0h2m-2 0h2m5 0h2m3 0h2m2 0h2m10 0h2m27 0h2m0 0h2m-1 0h2m44 0h2m89 0h2m53 0h2m-286 1h2m13 0h2m0 0h2m31 0h2m7 0h2m4 0h2m-1 0h2m15 0h2m61 0h2m127 0h2m-268 1h2m5 0h2m2 0h2m1 0h2m7 0h2m17 0h2m3 0h2m7 0h2m12 0h2m40 0h2m15 0h2m-159 1h2m17 0h2m3 0h2m10 0h2m8 0h2m-2 0h2m-1 0h2m42 0h2m-71 1h2m4 0h2m27 0h2m1 0h2m3 0h2m15 0h2m14 0h2m1 0h2m8 0h2m156 0h2m-301 1h2m44 0h2m28 0h2m20 0h2m12 0h2m2 0h2m8 0h2m28 0h2m0 0h2m127 0h2m-251 1h2m11 0h2m22 0h2m0 0h2m3 0h2m0 0h2m9 0h2m12 0h2m3 0h2m4 0h2m4 0h2m4 0h2m27 0h2m166 0h2m1 0h2m-274 1h2m8 0h2m6 0h2m11 0h2m0 0h2m7 0h2m-2 0h2m-2 0h2m34 0h2m1 0h2m60 0h2m138 0h2m-283 1h2m8 0h2m1 0h2m0 0h2m6 0h2m26 0h2m2 0h2m99 0h2m115 0h2m-322 1h2m30 0h2m29 0h2m13 0h2m33 0h2m11 0h2m177 0h2m9 0h2m5 0h2m-327 1h2m47 0h2m9 0h2m44 0h2m-124 1h2m29 0h2m47 0h2m3 0h2m7 0h2m2 0h2m6 0h2m23 0h2m2 0h2m71 0h2m-138 1h2m7 0h2m3 0h2m14 0h2m3 0h2m0 0h2m6 0h2m18 0h2m5 0h2m11 0h2m43 0h2m55 0h2m57 0h2m-292 1h2m19 0h2m8 0h2m10 0h2m19 0h2m19 0h2m4 0h2m4 0h2m0 0h2m1 0h2m16 0h2m15 0h2m125 0h2m25 0h2m-224 1h2m2 0h2m77 0h2m7 0h2m71 0h2m-204 1h2m25 0h2m2 0h2m21 0h2m-2 0h2m17 0h2m0 0h2m18 0h2m11 0h2m24 0h2m130 0h2m-307 1h2m33 0h2m10 0h2m15 0h2m8 0h2m18 0h2m6 0h2m15 0h2m2 0h2m8 0h2m167 0h2m-314 1h2m64 0h2m10 0h2m40 0h2m1 0h2m2 0h2m2 0h2m-2 0h2m35 0h2m20 0h2m-66 1h2m15 0h2m130 0h2m-261 1h2m74 0h2m13 0h2m2 0h2m8 0h2m1 0h2m15 0h2m-116 1h2m18 0h2m26 0h2m2 0h2m28 0h2m-2 0h2m33 0h2m101 0h2m-236 1h2m131 0h2m6 0h2m11 0h2m3 0h2m1 0h2m-129 1h2m45 0h2m48 0h2m28 0h2m-129 1h2m5 0h2m31 0h2m26 0h2m21 0h2m3 0h2m8 0h2m41 0h2m-92 1h2m16 0h2m4 0h2m-61 1h2m7 0h2m29 0h2m1 0h2m12 0h2m1 0h2m-105 1h2m44 0h2m7 0h2m41 0h2m14 0h2m60 0h2m-22 1h2m-140 1h2m7 0h2m18 0h2m2 0h2m0 0h2m26 0h2m10 0h2m41 0h2m9 0h2m-100 1h2m77 0h2m-141 1h2m61 0h2m6 0h2m10 0h2m15 0h2m37 0h2m-78 1h2m0 0h2m121 0h2m-146 1h2m30 0h2m8 0h2m25 0h2m6 0h2m11 0h2m7 0h2m58 0h2m-201 1h2m104 0h2m30 0h2m29 0h2m-120 1h2m-11 1h2m9 0h2m-2 0h2m23 0h2m14 0h2m-101 1h2m34 0h2m38 0h2m15 0h2m32 0h2m21 0h2m-121 1h2m5 0h2m5 0h2m22 0h2m25 0h2m188 0h2m-237 1h2m3 0h2m15 0h2m16 0h2m11 0h2m27 0h2m-93 1h2m12 0h2m0 0h2m1 0h2m0 0h2m23 0h2m18 0h2m11 0h2m-53 1h2m32 0h2m44 0h2m-105 1h2m8 0h2m0 0h2m12 0h2m-1 0h2m3 0h2m18 0h2m-1 0h2m8 0h2m14 0h2m2 0h2m-1 0h2m-114 1h2m27 0h2m3 0h2m13 0h2m8 0h2m8 0h2m-65 1h2m13 0h2m9 0h2m36 0h2m7 0h2m-113 1h2m72 0h2m14 0h2m29 0h2m3 0h2m-141 1h2m42 0h2m19 0h2m55 0h2m12 0h2m0 0h2m41 0h2m-154 1h2m18 0h2m32 0h2m14 0h2m71 0h2m-174 1h2m14 0h2m13 0h2m34 0h2m40 0h2m3 0h2m-85 1h2m56 0h2m5 0h2m4 0h2m24 0h2m69 0h2m-158 1h2m18 0h2m22 0h2m25 0h2m30 0h2m-94 1h2m1 0h2m35 0h2m1 0h2m3 0h2m-75 1h2m25 0h2m17 0h2m-2 0h2m37 0h2m11 0h2m-33 1h2m15 0h2m14 0h2m10 0h2m30 0h2m-145 1h2m8 0h2m33 0h2m2 0h2m10 0h2m21 0h2m75 0h2m-147 1h2m38 0h2m7 0h2m4 0h2m32 0h2m8 0h2m-129 1h2m54 0h2m6 0h2m-10 1h2m3 0h2m110 0h2m-87 1h2m10 0h2m44 0h2m-133 1h2m11 0h2m25 0h2m17 0h2m33 0h2m1 0h2m7 0h2m0 0h2m-154 1h2m78 0h2m-1 0h2m17 0h2m30 0h2m33 0h2m12 0h2m-132 1h2m55 0h2m22 0h2m10 0h2m-63 1h2m23 0h2m6 0h2m23 0h2m2 0h2m4 0h2m-97 1h2m14 0h2m34 0h2m20 1h2m2 0h2m1 0h2m20 0h2m-110 1h2m14 0h2m19 0h2m16 0h2m59 0h2m-112 1h2m60 0h2m7 1h2m3 0h2m47 0h2m-77 1h2m27 0h2m28 0h2m-110 1h2m38 0h2m14 0h2m1 0h2m-101 1h2m63 0h2m1 0h2m8 0h2m17 0h2m20 0h2m18 0h2m113 0h2m-142 1h2m1 0h2m-93 1h2m46 0h2m29 0h2m47 0h2m-148 1h2m42 0h2m29 0h2m0 0h2m97 0h2m-170 1h2m23 0h2m5 0h2m48 0h2m-36 1h2m13 0h2m18 0h2m-2 0h2m50 0h2m-155 1h2m81 0h2m7 0h2m22 0h2m4 0h2m2 0h2m-40 1h2m9 0h2m24 0h2m3 0h2m-123 1h2m66 0h2m6 0h2m-33 1h2m1 0h2m3 0h2m23 0h2m11 0h2m0 0h2m13 0h2m19 0h2m-61 1h2m25 0h2m30 0h2m166 0h2m-242 1h2m48 0h2m42 0h2m0 0h2m-166 1h2m9 0h2m36 0h2m4 0h2m11 0h2m0 0h2m99 0h2m-1 0h2m-138 1h2m8 0h2m78 0h2m-124 1h2m70 0h2m18 0h2m-1 0h2m28 0h2m9 0h2m15 0h2m-83 1h2m21 0h2m7 0h2m61 0h2m-160 1h2m43 0h2m39 0h2m-47 1h2m9 0h2m8 0h2m23 0h2m-2 0h2m11 0h2m11 0h2m-74 1h2m63 0h2m3 0h2m9 0h2m-1 0h2m5 0h2m-82 1h2m15 0h2m1 0h2m24 0h2m0 0h2m18 0h2m-65 1h2m108 0h2m-131 1h2m12 0h2m44 0h2m2 0h2m-62 1h2m4 0h2m2 0h2m98 0h2m-124 1h2m61 0h2m-64 1h2m43 0h2m8 0h2m19 0h2m-65 1h2m9 0h2m13 0h2m33 0h2m51 0h2m-133 1h2m11 0h2m29 0h2m51 0h2m-65 2h2m28 0h2m3 0h2m53 0h2m-95 1h2m5 0h2m29 0h2m-14 1h2m-13 1h2m36 0h2m2 0h2m-22 1h2m14 0h2m27 0h2m-144 1h2m23 0h2m43 0h2m28 0h2m-1 0h2m-45 1h2m17 0h2m-37 1h2m9 0h2m9 0h2m15 0h2m91 0h2m-94 1h2m5 0h2m12 0h2m1 0h2m9 0h2m-65 1h2m6 0h2m24 0h2m27 0h2m-98 1h2m47 0h2m-30 1h2m30 0h2m23 0h2m-17 1h2m-40 1h2m29 0h2m-19 1h2m19 0h2m17 0h2m-67 1h2m10 0h2m12 0h2m101 0h2m-54 1h2m64 0h2m-124 1h2m-20 1h2m3 0h2m10 0h2m23 0h2m15 0h2m-31 1h2m1 0h2m13 0h2m-48 1h2m28 0h2m2 0h2m11 0h2m31 0h2m-129 1h2m107 0h2m-83 1h2m26 0h2m5 0h2m-51 1h2m3 0h2m21 0h2m26 0h2m21 0h2m7 0h2m-1 0h2m-26 1h2m34 0h2m-1 0h2m-12 1h2m2 0h2m24 0h2m8 0h2m-89 2h2m38 0h2m-76 1h2m18 0h2m79 0h2m49 0h2m-111 1h2m11 0h2m34 0h2m-35 1h2m43 0h2m49 0h2m-161 2h2m92 0h2m29 1h2m-79 1h2m52 0h2m7 0h2m-129 1h2m59 0h2m70 0h2m12 0h2m-98 1h2m69 0h2m0 0h2m38 0h2m-121 1h2m33 1h2m9 0h2m-67 1h2m96 0h2m-83 1h2m57 0h2m-15 1h2m-56 2h2m103 0h2m20 0h2m-105 1h2m4 0h2m2 0h2m-30 1h2m-10 1h2m9 1h2m33 0h2m25 0h2m-83 1h2m78 0h2m-97 1h2m49 1h2m3 0h2m5 0h2m23 0h2m18 0h2m23 0h2m-77 1h2m6 0h2m64 0h2m-141 1h2m29 0h2m10 0h2m54 0h2m-46 1h2m-8 1h2m21 1h2m34 0h2m6 0h2m-33 1h2m67 0h2m-100 1h2m15 0h2m-22 1h2m75 0h2m34 0h2m-134 1h2m-5 1h2m19 0h2m51 0h2m24 0h2m-83 1h2m6 0h2m-47 1h2m61 0h2m18 0h2m-80 1h2m122 0h2m29 0h2m-151 2h2m41 0h2m37 0h2m46 1h2m-60 1h2m14 0h2m19 0h2m-49 1h2m23 2h2m-85 1h2m41 0h2m2 1h2m5 0h2m16 0h2m-79 1h2m72 0h2m-67 1h2m23 0h2m56 0h2m-112 1h2m78 0h2m2 0h2m-15 1h2m10 0h2m-74 1h2m29 0h2m28 0h2m13 2h2m14 0h2m-59 1h2m30 0h2m-74 1h2m48 1h2m35 0h2m4 0h2m42 0h2m-92 1h2m103 0h2m-73 2h2m12 1h2m-90 1h2m6 0h2m13 0h2m64 0h2m41 0h2m-42 1h2m13 0h2m-128 2h2m37 0h2m89 0h2m-56 2h2m0 0h2m20 1h2m-79 1h2m81 0h2m-52 2h2m21 0h2m32 1h2m-2 1h2m-22 2h2m22 0h2m-56 1h2m26 0h2m18 1h2m-56 2h2m80 0h2m-11 1h2m-62 1h2m-14 1h2m8 1h2m58 0h2m11 0h2m-106 1h2m102 0h2m-48 1h2m60 0h2m21 0h2m-161 3h2m93 1h2m-22 1h2m-101 2h2m113 0h2m-62 1h2m18 0h2m38 0h2m-73 1h2m57 1h2m18 0h2m-118 1h2m28 0h2m63 1h2m-62 1h2m28 1h2m29 2h2m-7 3h2m-24 1h2m17 0h2m-73 1h2m61 2h2m-36 2h2m42 0h2m-44 1h2m-15 1h2m28 0h2m19 1h2m-61 1h2m98 3h2m-85 1h2m89 0h2m-104 1h2m67 1h2m10 0h2m34 0h2m-108 1h2m45 0h2m53 1h2m-43 3h2m-8 1h2m-1 0h2m4 0h2m-133 2h2m171 0h2m-46 2h2m-13 2h2m22 1h2m-21 1h2m-47 1h2m53 2h2" stroke="#1414d4" stroke-width="2.2"/><path d="M729 3693h2m-32 1h2m0 1h2m3 0h2m17 1h2m-1 1h2m10 0h2m-38 2h2m21 0h2m-14 1h2m22 1h2m-2 0h2m2 0h2m-34 1h2m26 0h2m-40 1h2m5 0h2m-20 1h2m-11 1h2m64 0h2m12 0h2m-69 1h2m5 0h2m6 0h2m32 0h2m15 0h2m-23 1h2m-57 1h2m17 0h2m49 0h2m-1 0h2m-52 1h2m-1 0h2m0 0h2m26 0h2m3 0h2m4 0h2m-70 1h2m19 0h2m39 0h2m-1 1h2m0 0h2m-2 0h2m-1 0h2m7 0h2m-67 1h2m7 0h2m7 0h2m25 0h2m-1 0h2m20 0h2m-52 1h2m30 0h2m-1 0h2m6 0h2m1 0h2m0 0h2m-1 0h2m2 0h2m-62 1h2m55 1h2m3 0h2m-2 0h2m-75 1h2m4 0h2m-2 1h2m4 0h2m57 0h2m-80 2h2m7 0h2m5 0h2m-11 2h2m-4 1h2m70 0h2m-79 1h2m79 0h2m-71 1h2m66 0h2m-78 1h2m-17 1h2m94 0h2m4 0h2m-84 1h2m73 0h2m-98 1h2m-1 0h2m103 0h2m-99 1h2m-4 1h2m11 0h2m65 0h2m-74 1h2m-1 0h2m0 0h2m79 0h2m1 2h2m-2 0h2m1 0h2m-101 2h2m-1 0h2m82 0h2m7 0h2m-102 1h2m3 0h2m69 0h2m7 0h2m0 0h2m6 0h2m-85 1h2m2 0h2m59 0h2m17 0h2m-82 2h2m58 0h2m14 0h2m-75 1h2m66 0h2m7 0h2m-89 1h2m1 0h2m4 0h2m0 0h2m-17 1h2m78 0h2m-80 2h2m11 0h2m-10 1h2m-14 1h2m40 0h2m12 0h2m18 0h2m-1 0h2m17 0h2m-98 1h2m0 0h2m6 0h2m12 0h2m28 0h2m-52 1h2m4 0h2m31 0h2m-1 0h2m22 0h2m-2 0h2m-60 1h2m7 0h2m17 0h2m32 0h2m-38 1h2m4 0h2m0 0h2m-38 1h2m3 0h2m22 0h2m14 0h2m2 0h2m11 0h2m-47 1h2m55 0h2m-29 1h2m-51 1h2m10 0h2m5 0h2m18 0h2m1 0h2m3 0h2m22 0h2m0 0h2m-80 1h2m27 0h2m26 0h2m-1 0h2m-1 0h2m0 0h2m-44 1h2m11 0h2m-6 1h2m-1 0h2m-1 0h2m28 0h2m10 0h2m19 0h2m-87 1h2m3 0h2m47 0h2m13 0h2m0 0h2m-62 1h2m8 0h2m-1 0h2m1 0h2m4 0h2m35 0h2m-77 1h2m15 0h2m0 0h2m4 0h2m49 0h2m-50 1h2m8 0h2m11 0h2m-24 1h2m26 0h2m-28 1h2m30 0h2m-1 0h2m11 0h2m-58 1h2m-1 0h2m8 0h2m7 0h2m5 0h2m2 0h2m9 0h2m14 0h2m-2 0h2m-52 1h2m10 0h2m0 0h2m28 0h2m5 0h2m-57 1h2m9 0h2m18 0h2m13 0h2m-68 1h2m25 0h2m35 0h2m1 0h2m-1 0h2m-63 1h2m32 0h2m4 0h2m-33 1h2m4 0h2m4 0h2m9 0h2m2 0h2m7 0h2m-57 1h2m5 0h2m27 0h2m2 0h2m6 0h2m-2 0h2m3 0h2m-28 1h2m6 0h2m0 0h2m-2 0h2m18 0h2m-50 1h2m28 0h2m17 0h2m-55 1h2m0 0h2m45 0h2m-42 1h2m5 0h2m35 0h2m-61 1h2m-1 0h2m56 0h2m-55 1h2m5 0h2m25 0h2m3 0h2m16 0h2m6 0h2m-58 1h2m1 0h2m12 0h2m20 0h2m14 0h2m-50 1h2m11 1h2m-15 1h2m-3 1h2m0 1h2m1 0h2m7 0h2m3 0h2m-19 1h2m10 0h2m0 2h2m1 0h2m-12 2h2m6 1h2" stroke="#20b040" stroke-width="2.2"/><path d="M715 3703h2m5 0h2m2 0h2m-17 1h2m3 0h2m-2 0h2m3 0h2m7 1h2m-6 1h2m0 0h2m-20 1h2m1 0h2m-1 0h2m1 0h2m6 0h2m-1 0h2m-18 1h2m2 0h2m9 0h2m-10 1h2m-1 0h2m1 0h2m7 0h2m-20 1h2m-4 1h2m3 0h2m5 1h2m1 0h2m1 0h2m-20 1h2m16 0h2m-1 0h2m-3 1h2m13 0h2m-44 1h2m-1 0h2m3 0h2m33 1h2m4 0h2m-2 1h2m0 0h2m-2 0h2m-5 1h2m-48 1h2m39 0h2m3 0h2m-50 1h2m2 0h2m44 0h2m-3 1h2m2 0h2m-55 1h2m0 0h2m0 0h2m0 0h2m0 1h2m34 0h2m7 0h2m-9 1h2m0 0h2m-43 1h2m-20 1h2m3 0h2m0 0h2m3 0h2m39 0h2m6 0h2m-51 1h2m0 0h2m39 0h2m3 0h2m-62 1h2m0 0h2m8 0h2m5 0h2m33 0h2m0 0h2m-56 1h2m51 0h2m-52 1h2m8 0h2m37 0h2m7 0h2m-63 1h2m2 0h2m8 0h2m0 0h2m-1 0h2m-17 1h2m-3 1h2m10 0h2m-2 0h2m45 0h2m-65 1h2m0 0h2m51 0h2m3 0h2m-60 1h2m3 0h2m11 0h2m38 0h2m-50 1h2m-1 0h2m5 0h2m11 0h2m-1 0h2m1 0h2m12 0h2m1 0h2m-33 1h2m11 0h2m2 0h2m1 0h2m8 0h2m-50 1h2m2 0h2m22 0h2m0 0h2m9 0h2m4 0h2m-50 1h2m1 0h2m0 0h2m18 0h2m7 0h2m-1 0h2m-1 0h2m-36 1h2m7 0h2m4 0h2m10 0h2m6 0h2m10 0h2m-55 1h2m10 0h2m7 0h2m30 0h2m-21 1h2m-2 0h2m-1 0h2m0 0h2m-39 1h2m8 0h2m15 0h2m4 0h2m-1 0h2m7 0h2m4 0h2m1 0h2m-51 1h2m0 0h2m2 0h2m3 0h2m11 0h2m-2 0h2m13 0h2m2 0h2m-1 0h2m-46 1h2m0 0h2m4 0h2m2 0h2m5 0h2m7 0h2m1 0h2m-30 1h2m3 0h2m21 0h2m-2 0h2m13 0h2" stroke="#40c030" stroke-width="2.2"/><path d="M726 3706h2m-7 2h2m-12 1h2m-1 0h2m0 0h2m-4 1h2m3 0h2m-6 1h2m12 0h2m1 0h2m-5 1h2m1 1h2m12 1h2m1 0h2m-47 2h2m-3 2h2m39 0h2m7 0h2m-45 1h2m32 0h2m-2 1h2m-1 2h2m-37 1h2m35 0h2m1 0h2m1 0h2m-11 1h2m-43 1h2m0 0h2m1 0h2m-19 1h2m55 0h2m-49 1h2m41 1h2m1 0h2m-48 1h2m2 0h2m-2 1h2m39 0h2m5 0h2m-55 1h2m-12 1h2m9 0h2m-12 1h2m55 0h2m-44 1h2m36 0h2m-2 0h2m5 0h2m-57 1h2m3 0h2m1 0h2m19 1h2m4 0h2m-24 1h2m-1 0h2m15 0h2m3 0h2m0 0h2m-27 1h2m-2 0h2m3 0h2m23 0h2m-31 1h2m1 0h2m7 0h2m7 0h2m6 0h2m-45 1h2m16 0h2m4 0h2m-17 1h2m14 0h2m15 0h2m-45 1h2m1 0h2m20 0h2m-2 2h2m9 0h2m-41 1h2m16 0h2m10 0h2m-1 0h2m14 0h2m-45 1h2" stroke="#e8d020" stroke-width="2.2"/><path d="M713 3714h2m20 0h2m3 0h2m-31 1h2m-2 0h2m-2 0h2m2 0h2m16 0h2m5 0h2m-32 1h2m2 0h2m0 0h2m-2 0h2m22 0h2m-32 1h2m-1 0h2m-2 0h2m1 0h2m0 0h2m1 0h2m15 0h2m-24 1h2m-1 0h2m17 0h2m0 0h2m-29 1h2m22 0h2m-2 0h2m3 0h2m-31 1h2m1 0h2m18 0h2m-1 0h2m-1 0h2m-4 1h2m-1 0h2m-1 0h2m-2 0h2m-27 1h2m3 0h2m15 0h2m5 0h2m0 0h2m-33 1h2m19 0h2m3 0h2m1 0h2m-23 1h2m-2 0h2m0 0h2m9 0h2m0 0h2m7 0h2m-11 1h2m1 0h2m-2 1h2m-2 0h2m2 0h2m-6 1h2m-1 0h2m-3 2h2m0 0h2m-8 1h2m1 0h2m5 0h2m-12 1h2m1 0h2m3 1h2m-1 0h2m-8 1h2m-5 1h2m-1 0h2m3 0h2m1 1h2" stroke="#f08a18" stroke-width="2.2"/><path d="M725 3714h2m-1 1h2m0 0h2m0 0h2m-12 1h2m1 0h2m-5 1h2m0 0h2m2 0h2m-1 0h2m-5 1h2m3 0h2m-11 1h2m0 0h2m1 0h2m-5 1h2m-1 0h2m2 0h2m-4 2h2m1 0h2m-8 1h2m0 0h2m-2 0h2m0 0h2m-8 1h2m0 0h2m-1 0h2m3 0h2m0 0h2m-18 1h2m6 0h2m3 0h2m1 0h2m-22 1h2m4 0h2m2 0h2m1 0h2m0 0h2m-2 0h2m3 0h2m-15 1h2m1 0h2m-2 0h2m4 0h2m-1 0h2m-17 1h2m-1 0h2m2 0h2m-1 0h2m2 0h2m-1 0h2m-2 0h2m-15 1h2m0 0h2m10 0h2m-1 0h2m0 0h2m-19 1h2m1 0h2m-1 0h2m2 0h2m4 0h2m-17 1h2m1 0h2m0 0h2m8 0h2m0 0h2m-1 0h2m-2 0h2m-18 1h2m5 0h2m10 0h2m-22 1h2m-2 0h2m2 0h2m4 0h2m-9 1h2m0 0h2m7 0h2m-1 0h2m-16 1h2m6 0h2m1 0h2" stroke="#e02818" stroke-width="2.2"/></g>
<rect x="289.6" y="1808.4" width="216" height="215.6" fill="none" stroke="#111" stroke-width="1.4"/>
<line x1="394.7" y1="1808.4" x2="394.7" y2="2024" stroke="#111" stroke-width="1.4"/>
<line x1="289.6" y1="1911.8" x2="505.6" y2="1911.8" stroke="#111" stroke-width="1.4"/>
<path d="M289.6 1891h-5M289.6 1936.6h-5M289.6 1980.8h-5M289.6 2001.8h-5M289.6 1821.6h-2.5M289.6 1834.8h-2.5M289.6 1848h-2.5M289.6 1861.2h-2.5M289.6 1874.4h-2.5M289.6 1887.6h-2.5M289.6 1900.8h-2.5M289.6 1914h-2.5M289.6 1927.2h-2.5M289.6 1940.4h-2.5M289.6 1953.6h-2.5M289.6 1966.8h-2.5M289.6 1980h-2.5M289.6 1993.2h-2.5M289.6 2006.4h-2.5M289.6 1983.8h-2.5M289.6 1986.8h-2.5M289.6 1989.8h-2.5M289.6 1992.8h-2.5M289.6 1995.8h-2.5M289.6 2024v6M338.2 2024v6M397.6 2024v6M454.4 2024v6M304.6 2024v3M319.6 2024v3M334.6 2024v3M349.6 2024v3M364.6 2024v3M379.6 2024v3M394.6 2024v3M409.6 2024v3M424.6 2024v3M439.6 2024v3M454.6 2024v3M469.6 2024v3M484.6 2024v3M304.7 2024v4M306.3 2024v4M307.9 2024v4M309.5 2024v4M311.1 2024v4" stroke="#111" stroke-width="1.1" fill="none"/>
<text transform="matrix(1 0 0 1.05 495.6 2013.5)" font-size="33.5" text-anchor="end">1.13</text>
<ellipse cx="590.2" cy="1877.4" rx="32.4" ry="23.4" fill="#2a2ab4" opacity="0.42" filter="url(#b3)"/>
<g transform="scale(0.5)"><path d="M1165 3667h2m20 5h2m140 4h2m-183 3h2m36 2h2m28 0h2m106 0h2m-180 1h2m-18 1h2m61 0h2m-60 2h2m57 1h2m-46 2h2m46 0h2m178 1h2m-214 1h2m121 1h2m9 0h2m-132 1h2m-50 2h2m37 0h2m36 0h2m71 0h2m-154 1h2m46 1h2m-52 1h2m74 0h2m-25 1h2m84 0h2m-49 1h2m-19 1h2m-64 1h2m73 0h2m0 0h2m162 0h2m-284 2h2m56 0h2m196 0h2m10 0h2m-212 1h2m150 0h2m-188 1h2m5 0h2m17 0h2m73 0h2m-125 1h2m144 1h2m-139 1h2m51 0h2m250 0h2m-161 1h2m-35 1h2m1 0h2m86 0h2m-112 1h2m63 0h2m-59 1h2m43 0h2m-106 1h2m0 0h2m56 0h2m17 0h2m76 0h2m98 0h2m-209 1h2m48 0h2m134 0h2m-253 1h2m83 0h2m5 0h2m-119 1h2m29 0h2m113 0h2m50 0h2m44 1h2m-130 1h2m-94 1h2m139 1h2m-149 1h2m90 0h2m100 0h2m94 0h2m-102 1h2m46 0h2m-240 1h2m247 0h2m-241 1h2m1 0h2m203 0h2m0 0h2m35 0h2m-265 1h2m-2 0h2m245 0h2m-231 1h2m97 0h2m4 0h2m54 0h2m54 0h2m-124 1h2m130 0h2m-60 1h2m3 0h2m-54 1h2m-134 2h2m6 0h2m91 0h2m-98 1h2m233 0h2m-247 1h2m133 0h2m159 1h2m-349 1h2m41 0h2m18 0h2m-1 0h2m-11 1h2m118 0h2m62 0h2m-82 1h2m12 0h2m-127 1h2m123 1h2m20 1h2m24 1h2m-170 2h2m108 0h2m-134 1h2m136 0h2m2 0h2m0 0h2m-143 2h2m175 0h2m138 0h2m-140 1h2m112 0h2m-269 1h2m-1 0h2m120 0h2m22 0h2m42 0h2m-190 2h2m-1 0h2m200 0h2m-234 1h2m128 0h2m27 0h2m101 1h2m-236 1h2m94 0h2m162 0h2m-258 1h2m199 0h2m-229 1h2m117 0h2m3 0h2m2 0h2m-119 1h2m3 1h2m4 1h2m-25 1h2m164 0h2m63 0h2m28 1h2m-127 1h2m9 0h2m133 0h2m-144 1h2m162 0h2m0 0h2m-305 1h2m8 1h2m4 0h2m98 0h2m16 0h2m17 0h2m117 0h2m-140 2h2m36 0h2m47 0h2m-3 1h2m-213 1h2m258 0h2m-284 1h2m17 0h2m5 0h2m84 0h2m8 0h2m16 1h2m160 1h2m-318 1h2m19 0h2m13 0h2m108 0h2m-2 0h2m-94 1h2m103 0h2m6 0h2m2 0h2m148 0h2m-202 1h2m2 0h2m83 0h2m-158 1h2m139 0h2m-140 1h2m150 0h2m39 0h2m61 0h2m-284 1h2m0 0h2m29 0h2m57 0h2m2 0h2m34 0h2m58 0h2m10 1h2m36 0h2m-258 1h2m52 0h2m40 0h2m-100 1h2m103 0h2m42 0h2m-118 1h2m16 0h2m8 0h2m39 0h2m0 0h2m173 0h2m-299 1h2m31 0h2m35 0h2m-1 0h2m9 0h2m77 0h2m-98 1h2m7 0h2m9 0h2m31 0h2m-66 1h2m72 0h2m18 0h2m89 0h2m-171 1h2m8 0h2m61 0h2m-75 1h2m113 0h2m-144 1h2m14 1h2m-2 0h2m57 1h2m13 0h2m-71 1h2m11 0h2m148 1h2m-141 1h2m9 0h2m31 1h2m-18 1h2m16 0h2m17 0h2m1 0h2m-46 1h2m6 0h2m31 0h2m12 0h2m172 0h2m-292 1h2m31 0h2m22 0h2m57 0h2m-94 1h2m-1 0h2m36 0h2m42 0h2m19 0h2m-112 1h2m101 0h2m-48 1h2m42 0h2m-14 1h2m52 0h2m-159 1h2m48 0h2m-1 0h2m40 0h2m187 0h2m-236 1h2m-47 1h2m53 0h2m31 0h2m-65 1h2m22 0h2m59 0h2m-118 1h2m204 0h2m-101 1h2m80 0h2m-104 1h2m55 0h2m-81 1h2m3 0h2m94 0h2m-181 1h2m102 0h2m9 0h2m-23 1h2m-57 1h2m1 0h2m2 0h2m16 0h2m32 0h2m-73 2h2m66 0h2m-88 1h2m29 1h2m41 0h2m23 0h2m-45 1h2m-58 1h2m49 0h2m6 0h2m-103 1h2m95 0h2m26 0h2m-74 1h2m19 0h2m17 0h2m1 0h2m178 0h2m-220 1h2m57 0h2m-104 1h2m25 0h2m8 0h2m2 0h2m3 0h2m119 0h2m-139 1h2m93 0h2m104 0h2m-190 1h2m20 0h2m51 0h2m-77 1h2m86 0h2m-20 1h2m-86 2h2m63 0h2m8 0h2m-92 1h2m36 0h2m46 0h2m28 0h2m-138 1h2m29 0h2m67 0h2m-76 1h2m30 0h2m3 0h2m1 0h2m-33 1h2m-2 0h2m127 0h2m-112 1h2m19 0h2m-85 1h2m41 0h2m89 0h2m-27 1h2m-23 1h2m48 2h2m-65 1h2m19 0h2m-55 1h2m32 0h2m-19 1h2m11 1h2m37 0h2m-78 1h2m12 0h2m29 0h2m9 0h2m-11 1h2m37 0h2m-81 2h2m18 0h2m73 0h2m-80 1h2m18 0h2m-78 1h2m54 0h2m33 0h2m-44 1h2m43 1h2m-65 1h2m40 0h2m94 1h2m-136 1h2m-20 2h2m34 0h2m12 0h2m0 0h2m-21 1h2m-13 1h2m8 0h2m37 0h2m-6 2h2m12 2h2m16 1h2m-90 3h2m29 0h2m-24 1h2m20 1h2m13 0h2m-16 2h2m11 0h2m-6 2h2m-23 2h2m-16 2h2m10 0h2m5 0h2m1 0h2m-80 1h2m108 2h2m-32 1h2m20 0h2m-47 1h2m16 0h2m31 0h2m-30 1h2m6 0h2m-5 2h2m11 0h2m38 1h2m-54 1h2m47 0h2m-66 1h2m24 1h2m-2 3h2m26 0h2m-54 2h2m23 1h2m-12 2h2m7 0h2m15 0h2m-96 2h2m105 0h2m1 0h2m-49 1h2m16 0h2m4 1h2m-81 1h2m18 2h2m21 0h2m21 0h2m-33 1h2m12 1h2m-24 3h2m-11 2h2m124 0h2m-149 1h2m21 0h2m38 1h2m-9 2h2m-45 1h2m13 0h2m17 0h2m25 1h2m26 1h2m-99 2h2m5 0h2m21 1h2m28 0h2m40 1h2m-110 1h2m47 0h2m-28 5h2m36 3h2m21 0h2m-33 1h2m19 0h2m25 0h2m-63 1h2m49 0h2m53 0h2m-116 1h2m25 0h2m-26 1h2m13 2h2m97 0h2m-119 2h2m11 1h2m37 1h2m-26 1h2m-37 1h2m48 2h2m-42 8h2m39 0h2m-12 2h2m9 0h2m-33 1h2m65 0h2m-6 4h2m-28 1h2m-33 1h2m-58 2h2m102 7h2m46 0h2m-111 3h2m44 2h2m2 2h2m-7 1h2m-55 2h2m37 10h2m-44 6h2m69 3h2m8 2h2m-50 1h2m0 13h2m-7 2h2m-7 4h2m3 4h2" stroke="#8888a8" stroke-width="2.2"/><path d="M1135 3655h2m74 3h2m29 1h2m-77 4h2m48 0h2m126 0h2m-236 2h2m76 0h2m65 1h2m-43 3h2m-18 2h2m139 1h2m-158 1h2m-22 1h2m24 0h2m189 0h2m-127 1h2m154 0h2m-340 2h2m95 1h2m1 0h2m-53 2h2m31 0h2m35 0h2m7 1h2m82 1h2m46 1h2m-207 1h2m51 0h2m67 0h2m-126 1h2m225 0h2m22 0h2m-266 1h2m44 0h2m32 0h2m-44 2h2m43 0h2m101 0h2m-131 1h2m35 0h2m120 0h2m-192 1h2m40 0h2m40 0h2m-1 0h2m38 0h2m-118 1h2m41 1h2m7 0h2m170 0h2m-288 1h2m59 0h2m5 0h2m17 0h2m8 0h2m188 0h2m-167 1h2m11 0h2m0 0h2m47 0h2m-190 1h2m83 0h2m128 0h2m55 0h2m15 0h2m-275 1h2m33 0h2m4 0h2m0 0h2m7 0h2m17 0h2m211 0h2m-262 1h2m4 0h2m23 0h2m37 0h2m-33 1h2m1 0h2m32 0h2m98 0h2m22 0h2m26 0h2m-218 1h2m25 0h2m9 0h2m12 0h2m-1 0h2m12 0h2m10 0h2m175 0h2m-281 1h2m38 0h2m27 0h2m-1 0h2m9 0h2m1 0h2m28 0h2m5 0h2m35 0h2m119 0h2m-244 1h2m-23 1h2m2 0h2m28 0h2m19 0h2m1 0h2m0 0h2m22 0h2m-1 0h2m106 0h2m-192 1h2m0 0h2m14 0h2m8 0h2m34 0h2m21 0h2m1 0h2m18 0h2m3 0h2m-162 1h2m51 0h2m48 0h2m25 0h2m4 0h2m113 0h2m29 0h2m-278 1h2m67 0h2m8 0h2m-2 0h2m4 0h2m4 0h2m6 0h2m15 0h2m39 0h2m-160 1h2m32 0h2m36 0h2m0 0h2m31 0h2m4 0h2m34 0h2m-127 1h2m38 0h2m-1 0h2m6 0h2m0 0h2m23 0h2m-1 0h2m-2 0h2m12 0h2m0 0h2m0 0h2m6 0h2m34 0h2m7 0h2m111 0h2m-270 1h2m1 0h2m55 0h2m14 0h2m-1 0h2m17 0h2m1 0h2m3 0h2m6 0h2m132 0h2m49 0h2m-279 1h2m8 0h2m1 0h2m13 0h2m6 0h2m3 0h2m18 0h2m3 0h2m12 0h2m19 0h2m-139 1h2m44 0h2m11 0h2m1 0h2m1 0h2m-1 0h2m18 0h2m7 0h2m0 0h2m17 0h2m8 0h2m2 0h2m0 0h2m-122 1h2m31 0h2m7 0h2m15 0h2m-1 0h2m0 0h2m21 0h2m3 0h2m15 0h2m20 0h2m1 0h2m99 0h2m-227 1h2m43 0h2m0 0h2m12 0h2m11 0h2m2 0h2m19 0h2m-1 0h2m16 0h2m35 0h2m-122 1h2m6 0h2m4 0h2m0 0h2m10 0h2m-2 0h2m1 0h2m27 0h2m2 0h2m0 0h2m181 0h2m6 0h2m13 0h2m-290 1h2m14 0h2m1 0h2m13 0h2m0 0h2m6 0h2m5 0h2m10 0h2m-1 0h2m0 0h2m32 0h2m-90 1h2m10 0h2m8 0h2m3 0h2m25 0h2m13 0h2m0 0h2m10 0h2m189 0h2m-298 1h2m8 0h2m-1 0h2m24 0h2m4 0h2m11 0h2m-1 0h2m-1 0h2m12 0h2m-2 0h2m11 0h2m0 0h2m2 0h2m23 0h2m34 0h2m37 0h2m54 0h2m11 0h2m18 0h2m-287 1h2m34 0h2m-2 0h2m12 0h2m-1 0h2m4 0h2m7 0h2m4 0h2m19 0h2m54 0h2m3 0h2m44 0h2m-201 1h2m25 0h2m3 0h2m12 0h2m-1 0h2m0 0h2m-1 0h2m-2 0h2m8 0h2m0 0h2m3 0h2m1 0h2m11 0h2m3 0h2m5 0h2m18 0h2m15 0h2m67 0h2m30 0h2m16 0h2m-263 1h2m36 0h2m3 0h2m4 0h2m-1 0h2m1 0h2m7 0h2m4 0h2m-2 0h2m16 0h2m3 0h2m6 0h2m8 0h2m7 0h2m8 0h2m8 0h2m-150 1h2m0 0h2m36 0h2m0 0h2m7 0h2m2 0h2m2 0h2m-1 0h2m1 0h2m5 0h2m2 0h2m4 0h2m11 0h2m13 0h2m0 0h2m0 0h2m0 0h2m2 0h2m17 0h2m18 0h2m22 0h2m94 0h2m-267 1h2m-1 0h2m21 0h2m4 0h2m7 0h2m0 0h2m1 0h2m6 0h2m8 0h2m-1 0h2m11 0h2m2 0h2m0 0h2m-2 0h2m8 0h2m2 0h2m-1 0h2m11 0h2m4 0h2m-137 1h2m20 0h2m8 0h2m14 0h2m8 0h2m1 0h2m4 0h2m-1 0h2m2 0h2m0 0h2m-1 0h2m-1 0h2m3 0h2m5 0h2m0 0h2m4 0h2m3 0h2m-1 0h2m0 0h2m-1 0h2m-1 0h2m6 0h2m10 0h2m0 0h2m-2 0h2m27 0h2m-2 0h2m27 0h2m4 0h2m-188 1h2m0 0h2m33 0h2m5 0h2m7 0h2m-1 0h2m0 0h2m5 0h2m-1 0h2m2 0h2m0 0h2m-2 0h2m2 0h2m0 0h2m4 0h2m0 0h2m0 0h2m7 0h2m-1 0h2m2 0h2m6 0h2m-1 0h2m11 0h2m3 0h2m10 0h2m51 0h2m29 0h2m2 0h2m36 0h2m-233 1h2m8 0h2m3 0h2m4 0h2m1 0h2m-2 0h2m5 0h2m-2 0h2m-2 0h2m3 0h2m8 0h2m0 0h2m8 0h2m1 0h2m-1 0h2m2 0h2m10 0h2m0 0h2m-1 0h2m27 0h2m117 0h2m-269 1h2m23 0h2m2 0h2m25 0h2m12 0h2m-1 0h2m39 0h2m6 0h2m8 0h2m0 0h2m140 0h2m-272 1h2m35 0h2m9 0h2m0 0h2m0 0h2m1 0h2m9 0h2m0 0h2m7 0h2m5 0h2m0 0h2m-1 0h2m2 0h2m6 0h2m3 0h2m42 0h2m24 0h2m52 0h2m50 0h2m-266 1h2m26 0h2m0 0h2m-1 0h2m-2 0h2m3 0h2m0 0h2m10 0h2m6 0h2m0 0h2m2 0h2m4 0h2m23 0h2m3 0h2m101 0h2m24 0h2m-215 1h2m14 0h2m9 0h2m-1 0h2m6 0h2m11 0h2m3 0h2m0 0h2m7 0h2m0 0h2m-2 0h2m13 0h2m1 0h2m11 0h2m60 0h2m28 0h2m63 0h2m-275 1h2m3 0h2m32 0h2m0 0h2m0 0h2m-2 0h2m4 0h2m5 0h2m7 0h2m9 0h2m22 0h2m11 0h2m9 0h2m48 0h2m-182 1h2m27 0h2m3 0h2m15 0h2m10 0h2m9 0h2m2 0h2m-1 0h2m-1 0h2m0 0h2m-2 0h2m-1 0h2m4 0h2m0 0h2m3 0h2m2 0h2m12 0h2m35 0h2m-164 1h2m22 0h2m15 0h2m7 0h2m-1 0h2m10 0h2m2 0h2m-2 0h2m22 0h2m6 0h2m-1 0h2m6 0h2m2 0h2m-1 0h2m-2 0h2m2 0h2m6 0h2m2 0h2m10 0h2m0 0h2m5 0h2m109 0h2m-259 1h2m5 0h2m8 0h2m7 0h2m4 0h2m15 0h2m-1 0h2m-1 0h2m-2 0h2m0 0h2m0 0h2m-1 0h2m0 0h2m-1 0h2m7 0h2m0 0h2m1 0h2m19 0h2m0 0h2m8 0h2m23 0h2m61 0h2m-164 1h2m7 0h2m0 0h2m2 0h2m-1 0h2m7 0h2m0 0h2m7 0h2m9 0h2m-1 0h2m2 0h2m0 0h2m4 0h2m-1 0h2m3 0h2m14 0h2m34 0h2m22 0h2m1 0h2m3 0h2m31 0h2m57 0h2m25 0h2m-268 1h2m5 0h2m3 0h2m9 0h2m1 0h2m4 0h2m-2 0h2m6 0h2m24 0h2m7 0h2m0 0h2m0 0h2m6 0h2m0 0h2m63 0h2m0 0h2m69 0h2m6 0h2m-286 1h2m54 0h2m-1 0h2m6 0h2m17 0h2m10 0h2m-1 0h2m6 0h2m14 0h2m3 0h2m8 0h2m14 0h2m5 0h2m24 0h2m27 0h2m48 0h2m9 0h2m-262 1h2m2 0h2m25 0h2m6 0h2m0 0h2m8 0h2m1 0h2m0 0h2m23 0h2m-2 0h2m1 0h2m14 0h2m1 0h2m1 0h2m1 0h2m1 0h2m-1 0h2m0 0h2m2 0h2m26 0h2m11 0h2m35 0h2m7 0h2m-184 1h2m3 0h2m-1 0h2m3 0h2m18 0h2m2 0h2m19 0h2m0 0h2m-1 0h2m-1 0h2m8 0h2m6 0h2m0 0h2m16 0h2m15 0h2m22 0h2m12 0h2m70 0h2m40 0h2m15 0h2m-290 1h2m9 0h2m-1 0h2m7 0h2m-1 0h2m1 0h2m-1 0h2m8 0h2m-2 0h2m2 0h2m-2 0h2m2 0h2m2 0h2m3 0h2m10 0h2m0 0h2m4 0h2m0 0h2m0 0h2m-1 0h2m-1 0h2m-1 0h2m0 0h2m-1 0h2m-1 0h2m2 0h2m-2 0h2m10 0h2m2 0h2m6 0h2m-1 0h2m1 0h2m22 0h2m9 0h2m29 0h2m-184 1h2m14 0h2m5 0h2m11 0h2m11 0h2m6 0h2m-1 0h2m2 0h2m12 0h2m3 0h2m0 0h2m2 0h2m-2 0h2m29 0h2m3 0h2m27 0h2m38 0h2m106 0h2m-296 1h2m14 0h2m5 0h2m14 0h2m-2 0h2m5 0h2m4 0h2m-1 0h2m-1 0h2m1 0h2m1 0h2m2 0h2m7 0h2m1 0h2m-2 0h2m1 0h2m1 0h2m-1 0h2m8 0h2m1 0h2m0 0h2m-2 0h2m29 0h2m-1 0h2m147 0h2m-330 1h2m29 0h2m4 0h2m21 0h2m-1 0h2m1 0h2m3 0h2m5 0h2m10 0h2m-2 0h2m-1 0h2m-1 0h2m0 0h2m5 0h2m-1 0h2m-1 0h2m7 0h2m4 0h2m1 0h2m4 0h2m-1 0h2m3 0h2m0 0h2m31 0h2m2 0h2m104 0h2m-262 1h2m35 0h2m29 0h2m10 0h2m2 0h2m-1 0h2m2 0h2m4 0h2m3 0h2m3 0h2m2 0h2m-1 0h2m2 0h2m6 0h2m3 0h2m6 0h2m-1 0h2m3 0h2m-1 0h2m11 0h2m5 0h2m110 0h2m30 0h2m-271 1h2m8 0h2m5 0h2m9 0h2m-1 0h2m-2 0h2m1 0h2m-1 0h2m0 0h2m6 0h2m4 0h2m-1 0h2m-1 0h2m13 0h2m-1 0h2m0 0h2m0 0h2m19 0h2m4 0h2m-1 0h2m-2 0h2m9 0h2m4 0h2m32 0h2m116 0h2m-336 1h2m67 0h2m12 0h2m5 0h2m2 0h2m5 0h2m15 0h2m3 0h2m1 0h2m2 0h2m13 0h2m6 0h2m-1 0h2m4 0h2m4 0h2m43 0h2m72 0h2m49 0h2m6 0h2m-291 1h2m9 0h2m3 0h2m2 0h2m3 0h2m3 0h2m6 0h2m-2 0h2m1 0h2m3 0h2m0 0h2m-2 0h2m8 0h2m2 0h2m8 0h2m6 0h2m3 0h2m2 0h2m116 0h2m-2 0h2m25 0h2m53 0h2m-311 1h2m5 0h2m6 0h2m6 0h2m2 0h2m10 0h2m5 0h2m0 0h2m-2 0h2m3 0h2m1 0h2m0 0h2m0 0h2m2 0h2m15 0h2m5 0h2m17 0h2m4 0h2m-1 0h2m7 0h2m0 0h2m19 0h2m61 0h2m67 0h2m-262 1h2m2 0h2m8 0h2m7 0h2m4 0h2m2 0h2m-1 0h2m1 0h2m8 0h2m4 0h2m-2 0h2m1 0h2m0 0h2m-1 0h2m11 0h2m0 0h2m5 0h2m3 0h2m7 0h2m2 0h2m0 0h2m6 0h2m22 0h2m15 0h2m9 0h2m118 0h2m-246 1h2m0 0h2m8 0h2m-2 0h2m8 0h2m2 0h2m10 0h2m-2 0h2m0 0h2m-2 0h2m12 0h2m0 0h2m8 0h2m1 0h2m12 0h2m-166 1h2m45 0h2m1 0h2m4 0h2m18 0h2m5 0h2m2 0h2m1 0h2m9 0h2m0 0h2m3 0h2m-1 0h2m9 0h2m0 0h2m13 0h2m2 0h2m-2 0h2m2 0h2m3 0h2m-1 0h2m9 0h2m26 0h2m3 0h2m20 0h2m31 0h2m31 0h2m-255 1h2m9 0h2m23 0h2m13 0h2m1 0h2m1 0h2m-2 0h2m3 0h2m15 0h2m1 0h2m2 0h2m1 0h2m4 0h2m3 0h2m2 0h2m-2 0h2m7 0h2m48 0h2m-1 0h2m55 0h2m40 0h2m-274 1h2m45 0h2m0 0h2m6 0h2m2 0h2m1 0h2m3 0h2m27 0h2m9 0h2m10 0h2m1 0h2m-2 0h2m2 0h2m32 0h2m94 0h2m-217 1h2m0 0h2m6 0h2m5 0h2m-1 0h2m0 0h2m0 0h2m0 0h2m-1 0h2m-2 0h2m1 0h2m1 0h2m0 0h2m4 0h2m13 0h2m14 0h2m5 0h2m9 0h2m33 0h2m17 0h2m45 0h2m-235 1h2m11 0h2m-1 0h2m6 0h2m4 0h2m5 0h2m12 0h2m-1 0h2m-1 0h2m0 0h2m17 0h2m2 0h2m11 0h2m3 0h2m3 0h2m-2 0h2m-1 0h2m-2 0h2m3 0h2m4 0h2m4 0h2m18 0h2m9 0h2m56 0h2m-196 1h2m4 0h2m1 0h2m5 0h2m-2 0h2m-1 0h2m8 0h2m18 0h2m-1 0h2m14 0h2m11 0h2m1 0h2m1 0h2m5 0h2m4 0h2m0 0h2m8 0h2m1 0h2m1 0h2m0 0h2m2 0h2m1 0h2m0 0h2m0 0h2m3 0h2m2 0h2m9 0h2m11 0h2m41 0h2m-189 1h2m4 0h2m11 0h2m9 0h2m7 0h2m2 0h2m1 0h2m1 0h2m-1 0h2m-2 0h2m0 0h2m-2 0h2m4 0h2m6 0h2m7 0h2m3 0h2m13 0h2m4 0h2m2 0h2m6 0h2m37 0h2m14 0h2m0 0h2m94 0h2m6 0h2m-323 1h2m9 0h2m6 0h2m22 0h2m11 0h2m0 0h2m0 0h2m3 0h2m-1 0h2m6 0h2m8 0h2m7 0h2m8 0h2m6 0h2m1 0h2m3 0h2m-2 0h2m1 0h2m2 0h2m5 0h2m-2 0h2m5 0h2m1 0h2m4 0h2m0 0h2m-1 0h2m0 0h2m2 0h2m-1 0h2m13 0h2m5 0h2m33 0h2m3 0h2m-189 1h2m1 0h2m3 0h2m6 0h2m2 0h2m1 0h2m4 0h2m-2 0h2m-1 0h2m6 0h2m1 0h2m-1 0h2m4 0h2m-2 0h2m23 0h2m2 0h2m-1 0h2m1 0h2m29 0h2m-1 0h2m0 0h2m1 0h2m9 0h2m-136 1h2m25 0h2m19 0h2m11 0h2m2 0h2m4 0h2m1 0h2m5 0h2m9 0h2m-1 0h2m0 0h2m13 0h2m11 0h2m71 0h2m5 0h2m-215 1h2m0 0h2m7 0h2m10 0h2m15 0h2m9 0h2m11 0h2m-2 0h2m5 0h2m4 0h2m2 0h2m7 0h2m-1 0h2m-2 0h2m0 0h2m-1 0h2m-2 0h2m0 0h2m0 0h2m-1 0h2m2 0h2m1 0h2m0 0h2m-1 0h2m3 0h2m7 0h2m6 0h2m7 0h2m33 0h2m6 0h2m7 0h2m41 0h2m17 0h2m9 0h2m32 0h2m-249 1h2m2 0h2m-2 0h2m3 0h2m13 0h2m-2 0h2m0 0h2m9 0h2m-1 0h2m3 0h2m-2 0h2m3 0h2m8 0h2m3 0h2m5 0h2m9 0h2m0 0h2m-2 0h2m50 0h2m23 0h2m88 0h2m-278 1h2m-1 0h2m8 0h2m16 0h2m13 0h2m1 0h2m4 0h2m11 0h2m2 0h2m2 0h2m-1 0h2m3 0h2m15 0h2m0 0h2m5 0h2m4 0h2m3 0h2m32 0h2m0 0h2m116 0h2m-291 1h2m31 0h2m9 0h2m4 0h2m16 0h2m0 0h2m1 0h2m2 0h2m-2 0h2m15 0h2m-2 0h2m7 0h2m-92 1h2m8 0h2m1 0h2m17 0h2m13 0h2m-1 0h2m-1 0h2m0 0h2m6 0h2m-1 0h2m5 0h2m-1 0h2m0 0h2m3 0h2m13 0h2m22 0h2m4 0h2m-1 0h2m11 0h2m3 0h2m-138 1h2m11 0h2m11 0h2m2 0h2m1 0h2m1 0h2m5 0h2m1 0h2m9 0h2m2 0h2m12 0h2m2 0h2m3 0h2m0 0h2m0 0h2m14 0h2m-1 0h2m6 0h2m21 0h2m-1 0h2m5 0h2m-1 0h2m23 0h2m32 0h2m-217 1h2m20 0h2m13 0h2m14 0h2m-1 0h2m7 0h2m1 0h2m26 0h2m3 0h2m0 0h2m10 0h2m3 0h2m2 0h2m20 0h2m9 0h2m9 0h2m2 0h2m10 0h2m32 0h2m-238 1h2m30 0h2m16 0h2m15 0h2m3 0h2m1 0h2m0 0h2m0 0h2m8 0h2m3 0h2m13 0h2m-1 0h2m19 0h2m2 0h2m11 0h2m36 0h2m126 0h2m-288 1h2m32 0h2m7 0h2m17 0h2m1 0h2m7 0h2m0 0h2m3 0h2m6 0h2m16 0h2m-1 0h2m25 0h2m5 0h2m-1 0h2m15 0h2m137 0h2m-282 1h2m9 0h2m9 0h2m0 0h2m0 0h2m5 0h2m-1 0h2m-2 0h2m7 0h2m21 0h2m-1 0h2m0 0h2m12 0h2m-1 0h2m12 0h2m11 0h2m3 0h2m19 0h2m19 0h2m71 0h2m-258 1h2m5 0h2m15 0h2m0 0h2m5 0h2m-2 0h2m18 0h2m6 0h2m4 0h2m6 0h2m3 0h2m0 0h2m0 0h2m37 0h2m4 0h2m11 0h2m34 0h2m40 0h2m57 0h2m15 0h2m-331 1h2m27 0h2m29 0h2m9 0h2m3 0h2m10 0h2m24 0h2m0 0h2m0 0h2m10 0h2m1 0h2m3 0h2m89 0h2m10 0h2m-200 1h2m8 0h2m-1 0h2m17 0h2m16 0h2m-1 0h2m1 0h2m2 0h2m6 0h2m-2 0h2m5 0h2m1 0h2m10 0h2m8 0h2m28 0h2m-1 0h2m2 0h2m17 0h2m96 0h2m10 0h2m-242 1h2m6 0h2m7 0h2m21 0h2m7 0h2m12 0h2m-1 0h2m-1 0h2m1 0h2m3 0h2m2 0h2m1 0h2m22 0h2m4 0h2m31 0h2m7 0h2m90 0h2m-296 1h2m37 0h2m4 0h2m5 0h2m5 0h2m10 0h2m4 0h2m-1 0h2m0 0h2m2 0h2m0 0h2m4 0h2m10 0h2m8 0h2m16 0h2m134 0h2m-214 1h2m3 0h2m-1 0h2m5 0h2m2 0h2m7 0h2m21 0h2m7 0h2m4 0h2m11 0h2m20 0h2m6 0h2m153 0h2m-307 1h2m28 0h2m4 0h2m1 0h2m0 0h2m6 0h2m6 0h2m1 0h2m-2 0h2m3 0h2m-2 0h2m4 0h2m3 0h2m1 0h2m21 0h2m1 0h2m0 0h2m37 0h2m5 0h2m-119 1h2m-1 0h2m0 0h2m-1 0h2m3 0h2m5 0h2m16 0h2m8 0h2m-1 0h2m16 0h2m-1 0h2m15 0h2m-1 0h2m27 0h2m-158 1h2m15 0h2m29 0h2m4 0h2m6 0h2m9 0h2m-1 0h2m1 0h2m-2 0h2m-1 0h2m2 0h2m-1 0h2m12 0h2m36 0h2m12 0h2m165 0h2m-341 1h2m94 0h2m-2 0h2m2 0h2m11 0h2m4 0h2m20 0h2m-1 0h2m8 0h2m7 0h2m35 0h2m109 0h2m-256 1h2m14 0h2m-2 0h2m6 0h2m2 0h2m18 0h2m13 0h2m2 0h2m9 0h2m5 0h2m3 0h2m1 0h2m10 0h2m-84 1h2m3 0h2m10 0h2m16 0h2m4 0h2m-2 0h2m5 0h2m28 0h2m2 0h2m10 0h2m58 0h2m63 0h2m31 0h2m-257 1h2m8 0h2m-1 0h2m0 0h2m3 0h2m9 0h2m18 0h2m12 0h2m-2 0h2m4 0h2m5 0h2m80 0h2m-175 1h2m5 0h2m12 0h2m9 0h2m14 0h2m-2 0h2m0 0h2m1 0h2m1 0h2m0 0h2m-2 0h2m6 0h2m2 0h2m31 0h2m-2 0h2m21 0h2m19 0h2m-154 1h2m8 0h2m-2 0h2m0 0h2m6 0h2m11 0h2m3 0h2m3 0h2m0 0h2m7 0h2m18 0h2m-82 1h2m44 0h2m3 0h2m8 0h2m4 0h2m2 0h2m24 0h2m7 0h2m0 0h2m12 0h2m30 0h2m83 0h2m27 0h2m-291 1h2m9 0h2m15 0h2m46 0h2m-2 0h2m4 0h2m1 0h2m16 0h2m14 0h2m7 0h2m1 0h2m60 0h2m98 0h2m-246 1h2m2 0h2m40 0h2m19 0h2m1 0h2m23 0h2m24 0h2m-176 1h2m40 0h2m28 0h2m1 0h2m1 0h2m-2 0h2m8 0h2m-1 0h2m8 0h2m7 0h2m5 0h2m36 0h2m149 0h2m9 0h2m-283 1h2m11 0h2m34 0h2m4 0h2m3 0h2m-1 0h2m3 0h2m1 0h2m19 0h2m8 0h2m-134 1h2m45 0h2m32 0h2m7 0h2m-2 0h2m11 0h2m-2 0h2m13 0h2m19 0h2m8 0h2m40 0h2m99 0h2m-278 1h2m1 0h2m22 0h2m-2 0h2m1 0h2m24 0h2m20 0h2m17 0h2m25 0h2m-128 1h2m33 0h2m6 0h2m20 0h2m8 0h2m7 0h2m11 0h2m-1 0h2m1 0h2m3 0h2m1 0h2m25 0h2m30 0h2m15 0h2m-170 1h2m-2 0h2m16 0h2m-1 0h2m9 0h2m40 0h2m-2 0h2m-1 0h2m2 0h2m7 0h2m-2 0h2m13 0h2m23 0h2m138 0h2m-208 1h2m6 0h2m8 0h2m-68 1h2m19 0h2m17 0h2m1 0h2m-1 0h2m0 0h2m18 0h2m12 0h2m102 0h2m-216 1h2m13 0h2m20 0h2m-2 0h2m3 0h2m13 0h2m0 0h2m34 0h2m2 0h2m27 0h2m179 0h2m-341 1h2m47 0h2m18 0h2m0 0h2m21 0h2m13 0h2m9 0h2m36 0h2m-155 1h2m27 0h2m5 0h2m4 0h2m14 0h2m5 0h2m13 0h2m16 0h2m14 0h2m27 0h2m23 0h2m23 0h2m1 0h2m-137 1h2m1 0h2m-2 0h2m14 0h2m0 0h2m7 0h2m2 0h2m45 0h2m-2 0h2m-127 1h2m14 0h2m17 0h2m2 0h2m10 0h2m-1 0h2m8 0h2m17 0h2m3 0h2m9 0h2m9 0h2m5 0h2m98 0h2m65 0h2m-255 1h2m20 0h2m23 0h2m-2 0h2m47 0h2m-83 1h2m6 0h2m14 0h2m10 0h2m5 0h2m34 0h2m128 0h2m-232 1h2m80 0h2m13 0h2m7 0h2m110 0h2m-259 1h2m78 0h2m10 1h2m19 0h2m3 0h2m5 0h2m5 0h2m14 0h2m105 0h2m-246 1h2m15 0h2m20 0h2m12 0h2m6 0h2m5 0h2m12 0h2m74 0h2m-172 1h2m51 0h2m14 0h2m3 0h2m106 0h2m116 0h2m-254 1h2m15 0h2m-1 0h2m0 0h2m12 0h2m-76 1h2m31 0h2m6 0h2m23 0h2m55 0h2m194 0h2m-328 1h2m46 0h2m10 0h2m27 0h2m240 0h2m-271 1h2m36 0h2m4 0h2m22 0h2m26 0h2m-144 1h2m41 0h2m-1 0h2m48 0h2m6 0h2m155 0h2m-236 1h2m2 0h2m20 0h2m15 0h2m0 0h2m31 0h2m-62 1h2m13 0h2m-1 0h2m6 0h2m3 0h2m9 0h2m27 0h2m-91 1h2m21 0h2m21 0h2m36 0h2m28 0h2m148 0h2m-316 1h2m43 0h2m10 0h2m12 0h2m7 0h2m5 0h2m6 0h2m-1 0h2m3 0h2m0 0h2m7 0h2m-57 1h2m11 0h2m17 0h2m7 0h2m1 0h2m19 0h2m-2 0h2m-112 1h2m48 0h2m6 0h2m3 0h2m4 0h2m35 0h2m-40 1h2m2 0h2m1 0h2m-1 0h2m29 0h2m13 0h2m40 0h2m-128 1h2m23 0h2m0 0h2m-1 0h2m12 0h2m-1 0h2m15 0h2m14 0h2m-2 0h2m10 0h2m-71 1h2m0 0h2m5 0h2m7 0h2m60 0h2m-66 1h2m5 0h2m79 0h2m-155 1h2m30 0h2m9 0h2m12 0h2m20 0h2m-1 0h2m23 0h2m2 0h2m-101 1h2m31 0h2m3 0h2m25 0h2m1 0h2m45 0h2m20 0h2m-113 1h2m7 0h2m10 0h2m21 0h2m35 0h2m17 0h2m0 0h2m-7 1h2m30 0h2m-137 1h2m13 0h2m7 0h2m-2 0h2m22 0h2m1 0h2m3 0h2m-68 1h2m1 0h2m9 0h2m27 0h2m2 0h2m17 0h2m-1 0h2m7 0h2m50 0h2m-130 1h2m3 0h2m3 0h2m2 0h2m18 0h2m-1 0h2m42 0h2m133 0h2m-194 1h2m23 0h2m1 0h2m7 0h2m3 0h2m3 0h2m1 0h2m-23 1h2m14 0h2m2 0h2m77 0h2m-165 1h2m38 0h2m0 0h2m8 0h2m2 0h2m7 0h2m23 0h2m-33 1h2m9 0h2m10 0h2m4 0h2m-1 0h2m1 0h2m5 0h2m72 0h2m-149 1h2m11 0h2m18 0h2m28 0h2m82 0h2m-156 1h2m23 0h2m-1 0h2m26 0h2m12 0h2m5 0h2m-116 1h2m48 0h2m-1 0h2m14 0h2m0 0h2m11 0h2m4 0h2m6 0h2m-65 1h2m15 0h2m2 0h2m58 0h2m-2 0h2m-2 0h2m-91 1h2m2 0h2m19 0h2m14 0h2m6 0h2m3 0h2m31 0h2m-95 1h2m35 0h2m22 0h2m25 0h2m4 0h2m-22 1h2m-38 1h2m3 0h2m4 0h2m-1 0h2m8 0h2m11 0h2m-73 1h2m49 0h2m1 0h2m53 0h2m-117 1h2m2 0h2m31 0h2m4 0h2m0 0h2m10 0h2m14 0h2m15 0h2m15 0h2m-127 1h2m26 0h2m48 0h2m21 0h2m-28 1h2m6 0h2m-29 1h2m8 0h2m10 0h2m10 0h2m176 0h2m-205 1h2m21 0h2m2 0h2m2 0h2m46 0h2m-89 1h2m0 0h2m4 0h2m12 0h2m-1 0h2m8 0h2m-24 1h2m-1 0h2m14 0h2m3 0h2m-2 0h2m8 0h2m1 0h2m-57 1h2m5 0h2m11 0h2m6 0h2m5 0h2m4 0h2m7 0h2m1 0h2m-1 0h2m3 0h2m24 0h2m-92 1h2m-1 0h2m5 0h2m12 0h2m13 0h2m91 0h2m-121 1h2m5 0h2m-1 0h2m-1 0h2m47 0h2m-82 1h2m31 0h2m64 0h2m-94 1h2m51 0h2m12 0h2m33 0h2m-56 1h2m-2 0h2m0 0h2m1 0h2m-1 0h2m20 0h2m27 0h2m-53 1h2m8 0h2m74 0h2m-154 1h2m36 0h2m14 0h2m10 0h2m8 0h2m-19 1h2m12 0h2m64 0h2m-138 1h2m26 0h2m32 0h2m10 0h2m3 0h2m13 0h2m4 0h2m-76 1h2m28 0h2m6 0h2m5 0h2m27 0h2m-97 1h2m10 0h2m-2 0h2m30 0h2m28 0h2m-47 1h2m21 0h2m1 0h2m24 0h2m6 0h2m2 0h2m-61 1h2m0 0h2m3 0h2m7 0h2m13 0h2m17 0h2m-58 1h2m16 0h2m-1 0h2m-39 1h2m0 0h2m13 0h2m-1 0h2m54 0h2m18 0h2m-93 1h2m4 0h2m-40 1h2m38 0h2m1 0h2m23 0h2m6 0h2m12 0h2m201 0h2m-271 1h2m2 0h2m23 0h2m32 0h2m15 0h2m-70 1h2m24 0h2m21 0h2m15 0h2m-108 1h2m36 0h2m13 0h2m2 0h2m22 0h2m27 0h2m3 0h2m-68 1h2m9 0h2m24 0h2m2 0h2m1 0h2m75 0h2m-136 1h2m21 0h2m39 0h2m-106 1h2m61 0h2m19 0h2m25 0h2m-95 1h2m17 0h2m28 0h2m18 0h2m20 0h2m10 0h2m-88 1h2m0 0h2m16 0h2m1 0h2m18 0h2m0 0h2m0 0h2m-23 1h2m12 0h2m15 0h2m-3 1h2m3 0h2m17 0h2m-101 1h2m25 0h2m6 0h2m38 0h2m9 0h2m8 0h2m11 0h2m-72 1h2m8 0h2m4 0h2m2 0h2m18 0h2m11 0h2m15 0h2m-37 1h2m-71 1h2m30 0h2m105 0h2m-102 1h2m9 0h2m35 0h2m1 0h2m5 0h2m0 0h2m19 0h2m-104 1h2m2 0h2m19 0h2m8 0h2m5 0h2m-92 1h2m50 0h2m6 0h2m44 0h2m-54 1h2m1 0h2m7 0h2m9 0h2m1 0h2m-1 0h2m-1 0h2m9 0h2m-39 1h2m-1 0h2m16 0h2m18 0h2m-24 1h2m-51 1h2m18 0h2m33 0h2m49 1h2m3 0h2m-114 1h2m23 1h2m52 0h2m-70 1h2m18 0h2m6 0h2m-1 0h2m5 0h2m1 0h2m3 0h2m5 0h2m-4 1h2m10 0h2m1 0h2m0 0h2m-33 1h2m20 0h2m12 0h2m16 0h2m-27 1h2m37 0h2m-88 2h2m9 0h2m1 0h2m14 0h2m15 0h2m16 0h2m-69 1h2m3 1h2m44 1h2m21 0h2m1 0h2m-63 1h2m15 0h2m37 0h2m-13 1h2m-15 1h2m14 0h2m5 0h2m-102 1h2m4 0h2m13 0h2m16 0h2m12 0h2m-31 1h2m35 0h2m-34 2h2m9 0h2m32 0h2m-2 0h2m-49 1h2m2 0h2m28 0h2m21 0h2m15 0h2m-71 1h2m6 0h2m14 0h2m61 0h2m-66 1h2m10 0h2m10 0h2m29 0h2m-88 1h2m19 0h2m-1 0h2m1 0h2m60 0h2m8 0h2m-106 1h2m-1 0h2m33 0h2m17 0h2m-45 1h2m7 0h2m7 0h2m17 0h2m21 0h2m70 0h2m-174 1h2m68 0h2m17 0h2m-58 1h2m15 0h2m93 0h2m-146 1h2m26 0h2m23 0h2m-33 1h2m0 0h2m11 0h2m31 0h2m4 0h2m24 0h2m-60 1h2m39 0h2m0 0h2m4 0h2m-55 1h2m32 0h2m11 0h2m2 0h2m82 0h2m-76 1h2m-43 1h2m9 0h2m0 0h2m-1 0h2m54 0h2m-58 1h2m39 0h2m-68 1h2m6 0h2m-1 0h2m8 0h2m39 0h2m4 0h2m-61 1h2m22 0h2m5 0h2m10 0h2m-11 1h2m-66 1h2m5 0h2m22 0h2m9 0h2m-4 1h2m93 1h2m-111 1h2m5 0h2m14 0h2m18 0h2m-58 1h2m28 0h2m20 0h2m22 0h2m11 0h2m-89 1h2m10 0h2m62 0h2m-18 1h2m31 0h2m-112 1h2m29 0h2m24 0h2m7 0h2m-42 1h2m-10 1h2m42 0h2m-39 1h2m59 0h2m-58 1h2m7 0h2m13 0h2m16 0h2m-60 1h2m-37 1h2m38 0h2m80 0h2m-76 1h2m46 2h2m-76 1h2m18 0h2m-29 1h2m23 0h2m7 1h2m52 0h2m-50 1h2m5 0h2m44 0h2m1 0h2m-97 1h2m32 1h2m12 0h2m-17 1h2m27 0h2m40 0h2m-24 1h2m-91 3h2m10 0h2m10 1h2m8 0h2m19 1h2m-80 2h2m76 0h2m-2 0h2m22 0h2m-2 0h2m48 0h2m-42 3h2m-48 1h2m3 0h2m-42 2h2m75 1h2m-3 1h2m-19 1h2m7 0h2m-35 1h2m-10 1h2m33 0h2m1 0h2m-40 1h2m60 2h2m3 0h2m-104 1h2m66 1h2m25 0h2m-45 1h2m-17 1h2m20 0h2m15 0h2m-7 1h2m11 3h2m-55 1h2m85 0h2m-83 1h2m44 2h2m40 2h2m-94 2h2m15 2h2m4 0h2m0 7h2m-53 4h2m77 2h2m-16 1h2m-33 1h2m-15 1h2m67 0h2m35 0h2m-73 1h2m-47 1h2m73 0h2m-67 1h2m-11 2h2m-21 1h2m134 2h2m-74 2h2m-24 3h2m46 0h2m-76 2h2m-32 1h2m72 3h2m17 0h2m-8 7h2m20 4h2" stroke="#1414d4" stroke-width="2.2"/><path d="M1165 3705h2m23 0h2m-1 0h2m-3 1h2m-18 1h2m2 0h2m-20 1h2m20 0h2m-3 1h2m-3 1h2m0 1h2m-21 1h2m22 0h2m-15 1h2m-1 0h2m8 0h2m-22 1h2m8 0h2m1 0h2m6 0h2m-1 0h2m15 0h2m-38 1h2m14 0h2m17 0h2m6 0h2m-64 1h2m0 0h2m17 0h2m9 0h2m9 0h2m0 0h2m-45 1h2m2 0h2m15 0h2m2 0h2m1 0h2m0 0h2m4 0h2m-52 1h2m52 0h2m3 0h2m4 0h2m8 0h2m-64 1h2m13 0h2m4 0h2m0 0h2m16 0h2m19 0h2m-66 1h2m13 0h2m8 0h2m6 0h2m11 0h2m-2 0h2m13 0h2m-70 1h2m40 0h2m0 0h2m8 0h2m-56 1h2m10 0h2m3 0h2m20 0h2m0 0h2m-44 1h2m0 0h2m1 0h2m2 0h2m15 0h2m27 0h2m5 0h2m-46 1h2m12 0h2m4 0h2m-1 0h2m33 1h2m-71 1h2m61 0h2m9 0h2m2 0h2m-85 1h2m8 0h2m2 0h2m47 0h2m10 0h2m-77 1h2m8 0h2m-12 1h2m3 0h2m10 0h2m-5 2h2m1 0h2m-10 1h2m-1 0h2m56 0h2m0 0h2m-73 1h2m5 0h2m-1 0h2m-8 1h2m11 0h2m67 0h2m-87 1h2m12 0h2m49 0h2m12 0h2m-71 1h2m63 0h2m-76 1h2m2 1h2m68 0h2m-2 0h2m-80 1h2m85 1h2m-90 1h2m4 0h2m65 0h2m0 0h2m9 0h2m-80 1h2m60 0h2m6 0h2m-1 0h2m4 0h2m-88 1h2m-1 0h2m8 0h2m59 0h2m2 1h2m8 0h2m-74 1h2m63 0h2m5 0h2m-90 1h2m14 0h2m50 0h2m2 0h2m1 0h2m-54 1h2m57 0h2m-1 0h2m-66 1h2m44 0h2m1 0h2m-1 0h2m17 0h2m2 0h2m-33 1h2m-49 1h2m6 0h2m0 0h2m0 0h2m46 0h2m0 0h2m-65 1h2m10 0h2m53 0h2m-66 1h2m9 0h2m44 0h2m1 0h2m4 0h2m0 0h2m-23 1h2m8 0h2m3 0h2m1 0h2m8 0h2m-73 1h2m5 0h2m37 0h2m-5 1h2m6 0h2m17 0h2m-7 1h2m-49 1h2m21 0h2m11 0h2m10 0h2m-55 1h2m26 0h2m9 0h2m4 0h2m-28 1h2m8 0h2m1 0h2m2 0h2m17 0h2m-83 1h2m0 0h2m29 0h2m0 0h2m1 0h2m-1 0h2m1 0h2m27 0h2m-30 1h2m13 0h2m-1 0h2m10 0h2m-64 1h2m12 0h2m3 0h2m15 0h2m-27 1h2m6 0h2m27 0h2m6 0h2m7 0h2m-75 1h2m3 0h2m10 0h2m32 0h2m4 0h2m23 0h2m-70 1h2m3 0h2m22 0h2m-30 1h2m2 0h2m6 0h2m3 0h2m35 0h2m-1 0h2m-73 1h2m22 0h2m18 0h2m-6 2h2m0 0h2m-1 0h2m13 0h2m-47 1h2m3 1h2m0 0h2m19 0h2m1 0h2m-15 2h2m-1 0h2m15 0h2m-34 1h2m-1 1h2m4 1h2m8 0h2m3 0h2m12 0h2m-18 1h2m14 0h2m-19 1h2m2 0h2m-5 1h2m-1 0h2m-1 0h2m-2 0h2m-1 0h2m1 0h2m-12 1h2m10 0h2m-5 2h2m0 1h2m3 1h2m-13 1h2m-3 4h2" stroke="#20b040" stroke-width="2.2"/><path d="M1182 3725h2m2 0h2m-7 1h2m5 0h2m3 0h2m-25 1h2m10 0h2m3 0h2m9 0h2m1 0h2m-42 1h2m-1 0h2m-2 0h2m0 0h2m25 0h2m6 0h2m-36 1h2m2 0h2m15 0h2m4 0h2m-2 0h2m-2 0h2m-31 1h2m20 0h2m14 0h2m-35 1h2m13 0h2m4 0h2m-1 0h2m-33 1h2m5 0h2m19 0h2m-1 0h2m1 0h2m1 0h2m-1 0h2m-16 1h2m1 0h2m3 0h2m2 0h2m-1 0h2m-1 0h2m1 0h2m-32 1h2m11 0h2m-2 0h2m-1 0h2m5 0h2m-24 1h2m-2 0h2m0 0h2m10 0h2m-1 0h2m-2 0h2m2 0h2m12 0h2m-49 1h2m38 0h2m-1 0h2m2 0h2m-45 1h2m-1 0h2m41 0h2m-48 1h2m-2 0h2m-2 0h2m43 0h2m1 0h2m-54 1h2m-2 0h2m-1 0h2m-1 0h2m46 0h2m-7 1h2m-39 1h2m32 0h2m3 0h2m2 0h2m-47 3h2m40 0h2m0 0h2m-9 1h2m1 0h2m-44 1h2m0 0h2m9 0h2m6 0h2m-1 0h2m0 0h2m3 0h2m-20 1h2m17 0h2m5 0h2m-27 1h2m4 0h2m7 0h2m-23 1h2m8 0h2m4 0h2m-2 0h2m2 0h2m7 0h2m1 0h2m-31 1h2m3 0h2m15 0h2m-24 1h2m10 0h2m0 0h2m3 0h2m5 0h2m-31 1h2m9 0h2m17 0h2m-31 1h2m3 0h2m4 0h2m4 0h2m-2 0h2m1 0h2m2 0h2m2 0h2m0 0h2m-21 1h2m3 0h2m4 0h2m-20 1h2m-2 0h2m1 0h2m3 1h2m14 0h2m0 0h2m-29 1h2m6 0h2m-2 0h2" stroke="#40c030" stroke-width="2.2"/><path d="M1184 3725h2m-27 1h2m29 0h2m5 1h2m1 0h2m-14 1h2m2 0h2m-32 1h2m22 0h2m-1 0h2m-1 0h2m2 0h2m-5 1h2m-2 0h2m9 0h2m-10 1h2m6 0h2m-10 1h2m-1 0h2m-30 2h2m-1 0h2m15 0h2m13 0h2m-7 2h2m-2 0h2m-46 1h2m0 2h2m40 0h2m2 0h2m-44 1h2m-8 1h2m7 1h2m37 0h2m-45 2h2m37 0h2m-2 0h2m0 0h2m-4 1h2m-34 1h2m5 0h2m-1 0h2m29 0h2m-21 1h2m5 0h2m-26 1h2m-1 0h2m22 0h2m-30 1h2m15 0h2m-2 0h2m4 0h2m-20 1h2m20 0h2m-30 1h2m3 0h2m5 0h2m7 0h2m7 0h2m-33 2h2m21 0h2m2 0h2m-26 1h2m16 0h2m8 0h2m-33 1h2m13 0h2m5 0h2m-22 1h2m0 0h2m11 0h2" stroke="#e8d020" stroke-width="2.2"/><path d="M1171 3725h2m3 0h2m1 0h2m-1 0h2m-3 1h2m-2 0h2m-2 0h2m-11 1h2m6 0h2m-7 1h2m2 0h2m-2 0h2m1 0h2m-9 1h2m1 0h2m0 0h2m-3 1h2m-1 0h2m-8 1h2m-1 0h2m-1 0h2m-1 0h2m-2 0h2m3 0h2m-2 0h2m-10 2h2m-1 0h2m0 0h2m3 0h2m-11 1h2m-1 0h2m2 0h2m1 0h2m-2 0h2m-11 1h2m-1 0h2m0 0h2m-1 0h2m1 0h2m0 0h2m-19 1h2m1 0h2m0 0h2m18 0h2m1 0h2m-33 1h2m1 0h2m1 0h2m-1 0h2m1 0h2m11 0h2m-2 0h2m0 0h2m4 0h2m-32 1h2m1 0h2m-2 0h2m17 0h2m0 0h2m-2 0h2m1 0h2m-1 0h2m-1 0h2m-2 0h2m-31 1h2m1 0h2m1 0h2m0 0h2m-2 0h2m11 0h2m-2 0h2m2 0h2m-24 1h2m0 0h2m2 0h2m12 0h2m2 0h2m0 0h2m-1 0h2m-32 1h2m0 0h2m-2 0h2m3 0h2m-2 0h2m-1 0h2m14 0h2m-1 0h2m-2 0h2m1 0h2m-1 0h2m-1 0h2m-2 0h2m-1 0h2m-28 1h2m-1 0h2m-2 0h2m1 0h2m12 0h2m-2 0h2m1 0h2m-1 0h2m-28 1h2m2 0h2m-7 1h2m-1 0h2m-1 0h2m24 0h2m-1 0h2m-27 1h2m-1 0h2m0 0h2m0 0h2m12 0h2m3 0h2m-30 1h2m3 0h2m1 0h2m-2 0h2m11 0h2m3 0h2" stroke="#f08a18" stroke-width="2.2"/><path d="M1174 3736h2m0 0h2m-8 1h2m0 0h2m5 0h2m-11 1h2m4 0h2m2 0h2m-10 1h2m3 0h2m1 0h2m-8 1h2m-2 0h2m-1 0h2m0 0h2m-9 1h2m-1 0h2m-1 0h2m4 0h2m-1 0h2m-1 0h2m-7 1h2m-1 0h2m-2 0h2m0 0h2m-8 1h2m0 0h2m0 0h2m2 0h2m-11 1h2m3 0h2m-7 1h2m-2 0h2m0 0h2m3 0h2m0 0h2m-7 1h2m-1 0h2" stroke="#e02818" stroke-width="2.2"/></g>
<rect x="525.4" y="1808.4" width="216.1" height="215.6" fill="none" stroke="#111" stroke-width="1.4"/>
<line x1="631.2" y1="1808.4" x2="631.2" y2="2024" stroke="#111" stroke-width="1.4"/>
<line x1="525.4" y1="1911.8" x2="741.5" y2="1911.8" stroke="#111" stroke-width="1.4"/>
<path d="M525.4 1891h-5M525.4 1936.6h-5M525.4 1980.8h-5M525.4 2001.8h-5M525.4 1821.6h-2.5M525.4 1834.8h-2.5M525.4 1848h-2.5M525.4 1861.2h-2.5M525.4 1874.4h-2.5M525.4 1887.6h-2.5M525.4 1900.8h-2.5M525.4 1914h-2.5M525.4 1927.2h-2.5M525.4 1940.4h-2.5M525.4 1953.6h-2.5M525.4 1966.8h-2.5M525.4 1980h-2.5M525.4 1993.2h-2.5M525.4 2006.4h-2.5M525.4 1983.8h-2.5M525.4 1986.8h-2.5M525.4 1989.8h-2.5M525.4 1992.8h-2.5M525.4 1995.8h-2.5M525.4 2024v6M574 2024v6M633.5 2024v6M690.3 2024v6M540.4 2024v3M555.4 2024v3M570.4 2024v3M585.4 2024v3M600.4 2024v3M615.4 2024v3M630.4 2024v3M645.4 2024v3M660.4 2024v3M675.4 2024v3M690.4 2024v3M705.4 2024v3M720.4 2024v3M540.5 2024v4M542.1 2024v4M543.7 2024v4M545.3 2024v4M546.9 2024v4" stroke="#111" stroke-width="1.1" fill="none"/>
<text transform="matrix(1 0 0 1.05 731.5 2013.5)" font-size="33.5" text-anchor="end">1.59</text>
<ellipse cx="857" cy="1873.1" rx="32.4" ry="23.4" fill="#2a2ab4" opacity="0.42" filter="url(#b3)"/>
<g transform="scale(0.5)"><path d="M1668 3643h2m-64 14h2m161 1h2m26 6h2m-156 4h2m23 5h2m-22 1h2m89 0h2m-102 1h2m102 1h2m14 1h2m-26 1h2m-12 1h2m112 1h2m-150 1h2m10 0h2m4 0h2m-46 1h2m35 1h2m185 1h2m-270 1h2m99 0h2m4 0h2m7 0h2m-28 1h2m-118 1h2m160 1h2m-53 1h2m63 0h2m47 0h2m-122 1h2m4 0h2m-9 1h2m36 0h2m-46 1h2m6 0h2m3 0h2m48 0h2m-160 1h2m80 0h2m2 0h2m-10 2h2m178 0h2m12 0h2m-206 1h2m135 0h2m-131 2h2m85 0h2m18 2h2m-129 1h2m95 0h2m8 0h2m-100 1h2m102 0h2m21 1h2m74 0h2m-222 1h2m12 0h2m110 0h2m44 0h2m-148 2h2m123 1h2m35 0h2m49 0h2m-225 1h2m119 0h2m44 0h2m-33 1h2m24 0h2m-185 1h2m122 0h2m119 0h2m-234 1h2m121 0h2m-115 1h2m3 0h2m99 0h2m-149 1h2m49 0h2m105 1h2m54 0h2m53 0h2m0 0h2m-261 1h2m27 0h2m97 0h2m75 0h2m-235 1h2m20 0h2m4 0h2m127 0h2m22 0h2m50 0h2m4 0h2m-183 1h2m121 0h2m87 0h2m-70 1h2m-180 1h2m42 0h2m172 1h2m0 0h2m-50 1h2m83 0h2m-236 3h2m-30 2h2m27 0h2m143 0h2m-145 1h2m166 0h2m22 0h2m-218 2h2m15 0h2m11 0h2m107 0h2m-128 1h2m114 0h2m6 0h2m-122 1h2m3 0h2m3 1h2m123 0h2m-162 1h2m25 0h2m10 1h2m105 0h2m-114 1h2m123 0h2m71 0h2m4 0h2m-229 1h2m130 0h2m10 0h2m27 0h2m78 0h2m-20 1h2m-217 1h2m-3 1h2m7 0h2m99 0h2m93 0h2m-237 1h2m31 0h2m105 0h2m30 1h2m-171 1h2m133 1h2m15 0h2m-18 1h2m8 0h2m36 0h2m-173 1h2m20 0h2m124 0h2m65 0h2m-201 1h2m2 0h2m105 0h2m23 0h2m-27 1h2m0 0h2m31 0h2m-153 1h2m10 0h2m128 0h2m4 0h2m77 0h2m-102 1h2m17 0h2m66 0h2m-106 1h2m16 0h2m-164 1h2m40 0h2m-1 0h2m105 0h2m23 0h2m-138 1h2m175 0h2m-22 1h2m-173 1h2m132 0h2m64 0h2m-193 1h2m-11 1h2m181 1h2m-174 1h2m119 0h2m7 0h2m7 1h2m-219 1h2m93 1h2m196 0h2m-213 1h2m5 0h2m112 0h2m104 0h2m-225 1h2m157 0h2m0 0h2m-43 1h2m-134 1h2m0 0h2m0 0h2m150 0h2m48 0h2m-187 1h2m91 0h2m-87 2h2m-1 0h2m63 0h2m33 0h2m-145 1h2m41 0h2m97 0h2m114 0h2m-228 1h2m13 0h2m192 0h2m11 0h2m-203 2h2m-25 1h2m1 0h2m18 0h2m-83 1h2m178 0h2m-129 1h2m5 0h2m16 0h2m64 0h2m-78 1h2m73 0h2m-2 0h2m28 0h2m-108 1h2m4 0h2m12 0h2m85 0h2m-98 1h2m82 0h2m-146 1h2m81 0h2m29 0h2m1 0h2m10 0h2m40 0h2m-167 1h2m6 0h2m54 0h2m30 0h2m38 0h2m48 0h2m32 0h2m-190 1h2m19 0h2m9 0h2m7 0h2m3 0h2m9 0h2m-76 1h2m162 0h2m-133 1h2m34 0h2m-35 1h2m16 0h2m26 0h2m13 0h2m15 0h2m-41 1h2m43 0h2m72 0h2m-180 1h2m30 0h2m1 0h2m-4 1h2m2 0h2m38 0h2m124 0h2m-199 1h2m15 0h2m12 0h2m37 0h2m91 0h2m-146 2h2m65 0h2m-28 1h2m65 0h2m-39 1h2m109 0h2m-215 1h2m22 0h2m6 1h2m49 0h2m-117 1h2m47 0h2m96 0h2m-2 0h2m-187 1h2m153 0h2m1 0h2m2 0h2m60 0h2m41 0h2m-133 1h2m89 1h2m25 1h2m-156 2h2m-6 1h2m88 2h2m96 0h2m-107 4h2m-49 1h2m37 0h2m-20 1h2m82 0h2m-142 1h2m-26 1h2m37 0h2m8 0h2m-65 1h2m6 0h2m14 0h2m20 0h2m82 0h2m19 0h2m-133 1h2m182 0h2m-203 1h2m33 0h2m4 1h2m188 0h2m-189 2h2m10 0h2m-39 1h2m44 0h2m-41 1h2m55 0h2m-100 1h2m52 1h2m24 0h2m19 0h2m55 0h2m-124 1h2m10 0h2m23 0h2m6 0h2m-34 1h2m-58 1h2m21 0h2m43 0h2m-104 1h2m68 0h2m16 1h2m3 0h2m40 0h2m-120 1h2m42 0h2m18 0h2m-1 0h2m31 0h2m-73 1h2m23 1h2m48 0h2m-23 1h2m0 0h2m46 0h2m-76 1h2m80 0h2m52 0h2m-247 2h2m83 0h2m5 0h2m49 0h2m29 0h2m-99 1h2m23 2h2m10 0h2m2 1h2m-69 1h2m74 0h2m43 1h2m-92 1h2m31 0h2m3 0h2m12 1h2m-26 1h2m53 0h2m-34 1h2m-54 1h2m14 0h2m71 0h2m4 1h2m2 0h2m25 0h2m-163 2h2m104 0h2m38 0h2m-103 1h2m3 0h2m6 3h2m5 3h2m0 0h2m30 0h2m-45 2h2m100 1h2m-72 1h2m2 0h2m-2 1h2m-36 1h2m-7 4h2m2 0h2m-41 1h2m24 0h2m47 0h2m29 1h2m-37 1h2m33 0h2m1 0h2m-158 1h2m135 4h2m-107 2h2m59 0h2m22 1h2m-18 1h2m-17 1h2m11 0h2m79 1h2m-70 1h2m16 1h2m28 1h2m-79 1h2m7 1h2m24 0h2m33 0h2m-55 2h2m136 0h2m-142 2h2m13 1h2m-2 3h2m65 0h2m-127 1h2m31 0h2m-32 1h2m44 0h2m116 0h2m-174 2h2m77 0h2m-45 6h2m26 2h2m4 4h2m8 2h2m-13 1h2m-54 4h2m42 0h2m39 0h2m-42 3h2m-43 5h2m49 0h2m17 1h2m-76 7h2m23 2h2m3 0h2m-20 1h2m52 4h2m-23 1h2m11 0h2m-21 1h2m-86 2h2m108 1h2m-20 3h2m-65 1h2m19 3h2m29 3h2m-40 3h2m-3 1h2m31 0h2m75 2h2m-106 1h2m41 0h2m1 2h2m5 0h2m-38 2h2m30 1h2m-148 1h2m136 38h2m20 12h2m-23 1h2" stroke="#8888a8" stroke-width="2.2"/><path d="M1724 3645h2m-32 5h2m9 0h2m-81 2h2m48 0h2m86 3h2m29 0h2m-135 2h2m48 1h2m48 5h2m-55 1h2m-1 1h2m98 2h2m-128 1h2m163 1h2m-146 1h2m79 0h2m-54 1h2m12 0h2m141 0h2m-277 1h2m87 0h2m16 0h2m41 0h2m40 0h2m50 0h2m-15 1h2m-102 1h2m-69 1h2m38 0h2m0 0h2m-113 1h2m77 0h2m2 1h2m0 0h2m51 0h2m106 0h2m-183 1h2m-1 0h2m24 0h2m31 0h2m0 0h2m-44 1h2m-36 1h2m41 0h2m15 0h2m18 0h2m-74 1h2m20 0h2m17 0h2m3 0h2m4 0h2m17 0h2m34 0h2m111 0h2m-195 1h2m-20 1h2m65 0h2m38 0h2m-96 1h2m62 0h2m30 0h2m-126 1h2m5 0h2m48 0h2m-2 0h2m2 0h2m62 0h2m-99 1h2m51 0h2m11 0h2m-1 0h2m-48 1h2m1 0h2m10 0h2m5 0h2m10 0h2m3 0h2m25 0h2m-136 1h2m8 0h2m11 0h2m5 0h2m33 0h2m43 0h2m-71 1h2m5 0h2m8 0h2m29 0h2m5 0h2m4 0h2m49 0h2m-154 1h2m11 0h2m7 0h2m16 0h2m12 0h2m-2 0h2m5 0h2m5 0h2m47 0h2m113 0h2m-201 1h2m4 0h2m12 0h2m-2 0h2m20 0h2m2 0h2m35 0h2m34 0h2m1 0h2m-250 1h2m56 0h2m85 0h2m18 0h2m25 0h2m-2 0h2m29 0h2m-164 1h2m45 0h2m20 0h2m6 0h2m11 0h2m27 0h2m15 0h2m18 0h2m2 0h2m-198 1h2m84 0h2m28 0h2m3 0h2m14 0h2m0 0h2m7 0h2m0 0h2m15 0h2m9 0h2m-128 1h2m56 0h2m4 0h2m-2 0h2m-1 0h2m5 0h2m0 0h2m4 0h2m4 0h2m7 0h2m1 0h2m12 0h2m12 0h2m16 0h2m14 0h2m-194 1h2m63 0h2m8 0h2m15 0h2m2 0h2m41 0h2m2 0h2m-2 0h2m27 0h2m-147 1h2m59 0h2m15 0h2m1 0h2m0 0h2m6 0h2m1 0h2m6 0h2m16 0h2m3 0h2m7 0h2m5 0h2m4 0h2m15 0h2m-107 1h2m27 0h2m1 0h2m16 0h2m3 0h2m5 0h2m21 0h2m104 0h2m-231 1h2m30 0h2m30 0h2m3 0h2m6 0h2m4 0h2m6 0h2m3 0h2m9 0h2m9 0h2m-68 1h2m3 0h2m-1 0h2m36 0h2m5 0h2m11 0h2m1 0h2m10 0h2m82 0h2m4 0h2m-233 1h2m39 0h2m15 0h2m8 0h2m1 0h2m3 0h2m4 0h2m2 0h2m1 0h2m-2 0h2m1 0h2m13 0h2m-1 0h2m5 0h2m45 0h2m46 0h2m-199 1h2m32 0h2m26 0h2m-2 0h2m-2 0h2m1 0h2m1 0h2m-1 0h2m10 0h2m0 0h2m1 0h2m7 0h2m9 0h2m40 0h2m-229 1h2m99 0h2m9 0h2m23 0h2m13 0h2m11 0h2m-1 0h2m-1 0h2m-2 0h2m8 0h2m4 0h2m2 0h2m7 0h2m0 0h2m79 0h2m-194 1h2m17 0h2m3 0h2m-1 0h2m4 0h2m13 0h2m-2 0h2m13 0h2m6 0h2m7 0h2m12 0h2m3 0h2m0 0h2m11 0h2m97 0h2m-239 1h2m18 0h2m18 0h2m6 0h2m2 0h2m1 0h2m0 0h2m26 0h2m-1 0h2m10 0h2m31 0h2m25 0h2m-144 1h2m0 0h2m6 0h2m13 0h2m4 0h2m-1 0h2m20 0h2m4 0h2m1 0h2m1 0h2m-2 0h2m0 0h2m3 0h2m4 0h2m21 0h2m2 0h2m23 0h2m16 0h2m6 0h2m80 0h2m0 0h2m-229 1h2m22 0h2m4 0h2m12 0h2m1 0h2m2 0h2m0 0h2m13 0h2m2 0h2m-1 0h2m29 0h2m34 0h2m30 0h2m32 0h2m-320 1h2m70 0h2m11 0h2m1 0h2m-1 0h2m23 0h2m4 0h2m41 0h2m-1 0h2m1 0h2m4 0h2m-1 0h2m-1 0h2m4 0h2m4 0h2m0 0h2m1 0h2m-1 0h2m2 0h2m0 0h2m2 0h2m43 0h2m-123 1h2m7 0h2m9 0h2m9 0h2m8 0h2m7 0h2m3 0h2m8 0h2m0 0h2m9 0h2m-2 0h2m7 0h2m0 0h2m1 0h2m0 0h2m4 0h2m65 0h2m37 0h2m-213 1h2m1 0h2m3 0h2m11 0h2m18 0h2m-1 0h2m-1 0h2m16 0h2m16 0h2m-1 0h2m14 0h2m38 0h2m-150 1h2m10 0h2m3 0h2m4 0h2m16 0h2m7 0h2m20 0h2m1 0h2m9 0h2m6 0h2m2 0h2m-1 0h2m9 0h2m42 0h2m37 0h2m-212 1h2m-1 0h2m23 0h2m3 0h2m2 0h2m2 0h2m4 0h2m0 0h2m-2 0h2m10 0h2m2 0h2m17 0h2m5 0h2m-2 0h2m0 0h2m-2 0h2m-2 0h2m3 0h2m9 0h2m0 0h2m-1 0h2m-1 0h2m4 0h2m7 0h2m1 0h2m21 0h2m12 0h2m51 0h2m-205 1h2m20 0h2m4 0h2m-2 0h2m8 0h2m19 0h2m5 0h2m4 0h2m-1 0h2m0 0h2m0 0h2m4 0h2m-1 0h2m21 0h2m12 0h2m-158 1h2m0 0h2m15 0h2m25 0h2m5 0h2m5 0h2m0 0h2m16 0h2m13 0h2m7 0h2m3 0h2m-2 0h2m8 0h2m-1 0h2m3 0h2m3 0h2m6 0h2m0 0h2m8 0h2m6 0h2m-2 0h2m0 0h2m94 0h2m3 0h2m-199 1h2m8 0h2m4 0h2m18 0h2m8 0h2m6 0h2m-2 0h2m-1 0h2m4 0h2m14 0h2m15 0h2m24 0h2m-151 1h2m0 0h2m19 0h2m21 0h2m10 0h2m8 0h2m-1 0h2m0 0h2m-1 0h2m2 0h2m4 0h2m2 0h2m11 0h2m6 0h2m7 0h2m31 0h2m-165 1h2m10 0h2m2 0h2m8 0h2m-1 0h2m1 0h2m14 0h2m-1 0h2m26 0h2m1 0h2m-1 0h2m-1 0h2m-1 0h2m-1 0h2m4 0h2m1 0h2m6 0h2m-1 0h2m-1 0h2m4 0h2m3 0h2m16 0h2m-111 1h2m35 0h2m-2 0h2m12 0h2m-1 0h2m11 0h2m6 0h2m5 0h2m6 0h2m3 0h2m1 0h2m101 0h2m-246 1h2m33 0h2m17 0h2m4 0h2m3 0h2m14 0h2m-2 0h2m9 0h2m-1 0h2m0 0h2m-1 0h2m-1 0h2m-1 0h2m4 0h2m-1 0h2m3 0h2m10 0h2m0 0h2m1 0h2m6 0h2m3 0h2m0 0h2m5 0h2m0 0h2m6 0h2m43 0h2m47 0h2m-204 1h2m11 0h2m1 0h2m16 0h2m19 0h2m13 0h2m-2 0h2m0 0h2m3 0h2m1 0h2m70 0h2m53 0h2m-229 1h2m13 0h2m7 0h2m19 0h2m2 0h2m1 0h2m-1 0h2m-2 0h2m1 0h2m3 0h2m2 0h2m5 0h2m3 0h2m17 0h2m8 0h2m6 0h2m40 0h2m70 0h2m-286 1h2m18 0h2m28 0h2m0 0h2m9 0h2m24 0h2m-2 0h2m3 0h2m15 0h2m-1 0h2m-2 0h2m4 0h2m0 0h2m10 0h2m-2 0h2m8 0h2m-1 0h2m-1 0h2m3 0h2m8 0h2m26 0h2m1 0h2m1 0h2m91 0h2m6 0h2m-293 1h2m71 0h2m11 0h2m7 0h2m1 0h2m3 0h2m2 0h2m3 0h2m1 0h2m14 0h2m3 0h2m15 0h2m128 0h2m-234 1h2m3 0h2m2 0h2m2 0h2m18 0h2m3 0h2m19 0h2m6 0h2m-1 0h2m10 0h2m10 0h2m15 0h2m2 0h2m0 0h2m3 0h2m1 0h2m-2 0h2m7 0h2m16 0h2m-182 1h2m42 0h2m11 0h2m7 0h2m-2 0h2m3 0h2m-1 0h2m12 0h2m5 0h2m6 0h2m5 0h2m24 0h2m25 0h2m25 0h2m35 0h2m38 0h2m-263 1h2m44 0h2m0 0h2m1 0h2m4 0h2m12 0h2m3 0h2m-1 0h2m3 0h2m1 0h2m7 0h2m-1 0h2m0 0h2m15 0h2m0 0h2m5 0h2m21 0h2m-1 0h2m12 0h2m10 0h2m19 0h2m31 0h2m-205 1h2m4 0h2m23 0h2m1 0h2m9 0h2m4 0h2m4 0h2m-1 0h2m2 0h2m7 0h2m0 0h2m5 0h2m4 0h2m-1 0h2m0 0h2m1 0h2m2 0h2m2 0h2m-2 0h2m4 0h2m0 0h2m9 0h2m13 0h2m32 0h2m5 0h2m62 0h2m-240 1h2m21 0h2m7 0h2m7 0h2m-1 0h2m3 0h2m6 0h2m1 0h2m1 0h2m-1 0h2m-1 0h2m1 0h2m3 0h2m-2 0h2m-2 0h2m2 0h2m-1 0h2m4 0h2m34 0h2m16 0h2m21 0h2m-133 1h2m-1 0h2m-2 0h2m2 0h2m16 0h2m10 0h2m-1 0h2m10 0h2m2 0h2m5 0h2m5 0h2m-1 0h2m-1 0h2m-1 0h2m69 0h2m25 0h2m20 0h2m18 0h2m-238 1h2m1 0h2m25 0h2m3 0h2m1 0h2m-1 0h2m0 0h2m-1 0h2m8 0h2m12 0h2m8 0h2m1 0h2m1 0h2m5 0h2m1 0h2m3 0h2m21 0h2m12 0h2m2 0h2m19 0h2m24 0h2m-231 1h2m52 0h2m30 0h2m44 0h2m14 0h2m-2 0h2m20 0h2m-141 1h2m23 0h2m9 0h2m9 0h2m-1 0h2m1 0h2m-2 0h2m39 0h2m-1 0h2m2 0h2m8 0h2m-2 0h2m2 0h2m12 0h2m-1 0h2m14 0h2m3 0h2m7 0h2m3 0h2m2 0h2m18 0h2m-242 1h2m34 0h2m15 0h2m16 0h2m11 0h2m24 0h2m0 0h2m8 0h2m-2 0h2m-1 0h2m11 0h2m10 0h2m16 0h2m3 0h2m3 0h2m22 0h2m12 0h2m24 0h2m-195 1h2m3 0h2m41 0h2m15 0h2m2 0h2m10 0h2m4 0h2m3 0h2m2 0h2m-1 0h2m2 0h2m2 0h2m4 0h2m11 0h2m10 0h2m6 0h2m36 0h2m55 0h2m11 0h2m-240 1h2m-2 0h2m5 0h2m4 0h2m2 0h2m26 0h2m0 0h2m2 0h2m22 0h2m3 0h2m-1 0h2m12 0h2m-1 0h2m-2 0h2m2 0h2m11 0h2m1 0h2m0 0h2m10 0h2m18 0h2m18 0h2m-154 1h2m3 0h2m21 0h2m7 0h2m7 0h2m3 0h2m2 0h2m0 0h2m11 0h2m7 0h2m-2 0h2m-1 0h2m8 0h2m-2 0h2m-1 0h2m17 0h2m38 0h2m9 0h2m-246 1h2m55 0h2m10 0h2m16 0h2m5 0h2m6 0h2m-1 0h2m2 0h2m8 0h2m3 0h2m-2 0h2m24 0h2m3 0h2m-1 0h2m7 0h2m-1 0h2m10 0h2m17 0h2m-135 1h2m31 0h2m9 0h2m1 0h2m6 0h2m20 0h2m7 0h2m19 0h2m11 0h2m26 0h2m31 0h2m8 0h2m6 0h2m-179 1h2m16 0h2m3 0h2m10 0h2m0 0h2m25 0h2m9 0h2m-1 0h2m-104 1h2m7 0h2m17 0h2m4 0h2m8 0h2m5 0h2m2 0h2m16 0h2m7 0h2m1 0h2m12 0h2m-1 0h2m0 0h2m4 0h2m-2 0h2m1 0h2m1 0h2m4 0h2m10 0h2m3 0h2m24 0h2m9 0h2m-214 1h2m43 0h2m1 0h2m8 0h2m6 0h2m15 0h2m8 0h2m0 0h2m10 0h2m16 0h2m55 0h2m19 0h2m-184 1h2m34 0h2m2 0h2m12 0h2m5 0h2m20 0h2m5 0h2m-1 0h2m1 0h2m4 0h2m0 0h2m1 0h2m2 0h2m11 0h2m5 0h2m3 0h2m6 0h2m0 0h2m2 0h2m4 0h2m12 0h2m1 0h2m37 0h2m8 0h2m13 0h2m1 0h2m25 0h2m-246 1h2m4 0h2m5 0h2m0 0h2m9 0h2m16 0h2m10 0h2m0 0h2m22 0h2m3 0h2m9 0h2m6 0h2m4 0h2m9 0h2m0 0h2m8 0h2m4 0h2m6 0h2m42 0h2m-178 1h2m31 0h2m16 0h2m4 0h2m-2 0h2m11 0h2m8 0h2m9 0h2m-2 0h2m1 0h2m-1 0h2m15 0h2m1 0h2m58 0h2m-208 1h2m7 0h2m-1 0h2m14 0h2m8 0h2m9 0h2m1 0h2m4 0h2m2 0h2m5 0h2m11 0h2m12 0h2m2 0h2m30 0h2m3 0h2m48 0h2m35 0h2m41 0h2m-270 1h2m17 0h2m0 0h2m28 0h2m23 0h2m24 0h2m0 0h2m1 0h2m6 0h2m0 0h2m9 0h2m7 0h2m4 0h2m25 0h2m1 0h2m17 0h2m34 0h2m-232 1h2m4 0h2m18 0h2m-2 0h2m10 0h2m9 0h2m23 0h2m11 0h2m4 0h2m-1 0h2m0 0h2m0 0h2m13 0h2m0 0h2m4 0h2m7 0h2m110 0h2m28 0h2m-235 1h2m0 0h2m50 0h2m20 0h2m9 0h2m14 0h2m-1 0h2m23 0h2m8 0h2m-161 1h2m12 0h2m0 0h2m5 0h2m13 0h2m22 0h2m5 0h2m4 0h2m7 0h2m9 0h2m0 0h2m2 0h2m7 0h2m-1 0h2m11 0h2m12 0h2m52 0h2m38 0h2m-277 1h2m8 0h2m20 0h2m38 0h2m-1 0h2m-2 0h2m5 0h2m-2 0h2m8 0h2m8 0h2m9 0h2m1 0h2m-1 0h2m0 0h2m7 0h2m5 0h2m1 0h2m0 0h2m0 0h2m1 0h2m5 0h2m2 0h2m7 0h2m1 0h2m12 0h2m0 0h2m3 0h2m64 0h2m12 0h2m-219 1h2m0 0h2m0 0h2m0 0h2m4 0h2m8 0h2m4 0h2m1 0h2m0 0h2m0 0h2m-1 0h2m17 0h2m3 0h2m4 0h2m14 0h2m11 0h2m5 0h2m2 0h2m5 0h2m35 0h2m26 0h2m-1 0h2m-171 1h2m7 0h2m5 0h2m6 0h2m3 0h2m11 0h2m-2 0h2m-2 0h2m1 0h2m-1 0h2m3 0h2m7 0h2m1 0h2m0 0h2m2 0h2m2 0h2m15 0h2m0 0h2m17 0h2m-2 0h2m5 0h2m-108 1h2m9 0h2m3 0h2m3 0h2m-1 0h2m1 0h2m-1 0h2m3 0h2m13 0h2m5 0h2m8 0h2m4 0h2m-1 0h2m7 0h2m-2 0h2m5 0h2m34 0h2m32 0h2m-163 1h2m-2 0h2m5 0h2m2 0h2m4 0h2m-1 0h2m9 0h2m0 0h2m10 0h2m-2 0h2m-1 0h2m4 0h2m5 0h2m19 0h2m-1 0h2m1 0h2m10 0h2m6 0h2m-1 0h2m8 0h2m3 0h2m1 0h2m13 0h2m48 0h2m13 0h2m10 0h2m-246 1h2m26 0h2m3 0h2m20 0h2m0 0h2m-1 0h2m0 0h2m10 0h2m0 0h2m2 0h2m17 0h2m7 0h2m21 0h2m17 0h2m4 0h2m2 0h2m-143 1h2m2 0h2m0 0h2m-1 0h2m23 0h2m1 0h2m2 0h2m8 0h2m-2 0h2m2 0h2m8 0h2m0 0h2m3 0h2m4 0h2m3 0h2m1 0h2m1 0h2m3 0h2m2 0h2m4 0h2m5 0h2m4 0h2m15 0h2m34 0h2m7 0h2m-195 1h2m10 0h2m12 0h2m4 0h2m3 0h2m6 0h2m0 0h2m11 0h2m6 0h2m7 0h2m0 0h2m1 0h2m0 0h2m-1 0h2m4 0h2m5 0h2m0 0h2m2 0h2m38 0h2m5 0h2m3 0h2m3 0h2m7 0h2m14 0h2m14 0h2m24 0h2m-220 1h2m8 0h2m3 0h2m13 0h2m9 0h2m1 0h2m22 0h2m11 0h2m13 0h2m4 0h2m6 0h2m1 0h2m-1 0h2m5 0h2m2 0h2m7 0h2m-1 0h2m-140 1h2m69 0h2m2 0h2m-1 0h2m20 0h2m5 0h2m1 0h2m10 0h2m20 0h2m-180 1h2m22 0h2m3 0h2m11 0h2m11 0h2m36 0h2m29 0h2m-1 0h2m-2 0h2m13 0h2m9 0h2m3 0h2m7 0h2m15 0h2m0 0h2m34 0h2m1 0h2m20 0h2m31 0h2m-2 0h2m-338 1h2m55 0h2m28 0h2m22 0h2m-1 0h2m11 0h2m0 0h2m10 0h2m1 0h2m0 0h2m5 0h2m9 0h2m-2 0h2m9 0h2m0 0h2m2 0h2m7 0h2m9 0h2m7 0h2m3 0h2m9 0h2m8 0h2m5 0h2m-1 0h2m90 0h2m-285 1h2m12 0h2m16 0h2m26 0h2m2 0h2m13 0h2m1 0h2m-2 0h2m12 0h2m8 0h2m3 0h2m6 0h2m-1 0h2m0 0h2m-1 0h2m9 0h2m0 0h2m-1 0h2m-1 0h2m12 0h2m68 0h2m3 0h2m-212 1h2m16 0h2m-1 0h2m34 0h2m36 0h2m22 0h2m1 0h2m13 0h2m13 0h2m0 0h2m12 0h2m27 0h2m3 0h2m47 0h2m-237 1h2m20 0h2m21 0h2m8 0h2m31 0h2m22 0h2m8 0h2m6 0h2m6 0h2m-2 0h2m5 0h2m4 0h2m100 0h2m-228 1h2m12 0h2m19 0h2m4 0h2m1 0h2m23 0h2m4 0h2m3 0h2m-2 0h2m4 0h2m28 0h2m2 0h2m10 0h2m82 0h2m-189 1h2m14 0h2m10 0h2m4 0h2m7 0h2m2 0h2m2 0h2m8 0h2m0 0h2m1 0h2m2 0h2m-2 0h2m-83 1h2m7 0h2m10 0h2m8 0h2m9 0h2m15 0h2m10 0h2m64 0h2m23 0h2m7 0h2m37 0h2m6 0h2m-256 1h2m4 0h2m36 0h2m9 0h2m19 0h2m7 0h2m6 0h2m6 0h2m5 0h2m3 0h2m3 0h2m-2 0h2m2 0h2m7 0h2m101 0h2m-211 1h2m5 0h2m4 0h2m-1 0h2m11 0h2m4 0h2m2 0h2m11 0h2m-1 0h2m2 0h2m4 0h2m-1 0h2m-2 0h2m1 0h2m22 0h2m30 0h2m3 0h2m12 0h2m57 0h2m-210 1h2m39 0h2m5 0h2m1 0h2m1 0h2m7 0h2m-2 0h2m7 0h2m-1 0h2m2 0h2m7 0h2m4 0h2m2 0h2m54 0h2m-186 1h2m8 0h2m44 0h2m13 0h2m1 0h2m19 0h2m-1 0h2m-2 0h2m3 0h2m3 0h2m24 0h2m1 0h2m12 0h2m109 0h2m6 0h2m-307 1h2m23 0h2m53 0h2m8 0h2m19 0h2m10 0h2m4 0h2m-1 0h2m8 0h2m2 0h2m8 0h2m11 0h2m1 0h2m16 0h2m16 0h2m14 0h2m47 0h2m23 0h2m-254 1h2m40 0h2m6 0h2m2 0h2m17 0h2m27 0h2m28 0h2m2 0h2m1 0h2m12 0h2m3 0h2m91 0h2m-265 1h2m9 0h2m52 0h2m2 0h2m-2 0h2m3 0h2m11 0h2m12 0h2m-2 0h2m-2 0h2m1 0h2m11 0h2m17 0h2m3 0h2m26 0h2m2 0h2m43 0h2m21 0h2m-203 1h2m15 0h2m-1 0h2m5 0h2m4 0h2m0 0h2m6 0h2m9 0h2m8 0h2m4 0h2m2 0h2m1 0h2m4 0h2m2 0h2m-1 0h2m12 0h2m28 0h2m19 0h2m11 0h2m-161 1h2m6 0h2m-1 0h2m14 0h2m23 0h2m-1 0h2m2 0h2m10 0h2m34 0h2m5 0h2m59 0h2m37 0h2m-203 1h2m21 0h2m0 0h2m8 0h2m-1 0h2m9 0h2m2 0h2m2 0h2m1 0h2m7 0h2m7 0h2m1 0h2m-113 1h2m-1 0h2m15 0h2m2 0h2m8 0h2m4 0h2m8 0h2m21 0h2m-1 0h2m2 0h2m16 0h2m2 0h2m10 0h2m7 0h2m-87 1h2m26 0h2m2 0h2m79 0h2m2 0h2m61 0h2m-229 1h2m83 0h2m11 0h2m11 0h2m1 0h2m-1 0h2m0 0h2m3 0h2m4 0h2m42 0h2m36 0h2m28 0h2m-321 1h2m75 0h2m68 0h2m8 0h2m3 0h2m-1 0h2m9 0h2m16 0h2m116 0h2m-184 1h2m13 0h2m21 0h2m49 0h2m0 0h2m52 0h2m27 0h2m-213 1h2m37 0h2m19 0h2m2 0h2m8 0h2m6 0h2m5 0h2m0 0h2m-1 0h2m0 0h2m23 0h2m9 0h2m50 0h2m0 0h2m-268 1h2m88 0h2m5 0h2m1 0h2m8 0h2m28 0h2m8 0h2m104 0h2m-123 1h2m-2 0h2m6 0h2m61 0h2m35 0h2m17 0h2m-164 1h2m27 0h2m31 0h2m2 0h2m32 0h2m24 0h2m21 0h2m-156 1h2m26 0h2m63 0h2m-1 0h2m5 0h2m4 0h2m1 0h2m53 0h2m-200 1h2m11 0h2m16 0h2m4 0h2m5 0h2m5 0h2m0 0h2m2 0h2m71 0h2m1 0h2m16 0h2m87 0h2m-198 1h2m7 0h2m0 0h2m22 0h2m44 0h2m9 0h2m-88 1h2m36 0h2m3 0h2m-2 0h2m31 0h2m89 0h2m-174 1h2m23 0h2m15 0h2m4 0h2m8 0h2m10 0h2m29 0h2m13 0h2m-105 1h2m10 0h2m28 0h2m31 0h2m20 0h2m-1 0h2m-113 1h2m25 0h2m24 0h2m1 0h2m1 0h2m64 0h2m5 0h2m4 0h2m-251 1h2m103 0h2m71 0h2m-74 1h2m14 0h2m12 0h2m10 0h2m19 0h2m16 0h2m-2 0h2m30 0h2m-144 1h2m24 0h2m6 0h2m38 0h2m6 0h2m62 0h2m-88 1h2m11 0h2m8 0h2m13 0h2m75 0h2m-172 1h2m82 0h2m16 0h2m57 0h2m-136 1h2m8 0h2m1 0h2m-1 0h2m6 0h2m58 0h2m-76 1h2m12 0h2m-3 1h2m1 0h2m22 0h2m16 0h2m32 0h2m7 0h2m-152 1h2m55 0h2m4 0h2m121 0h2m-184 1h2m28 0h2m34 0h2m39 0h2m-1 0h2m-2 0h2m10 0h2m15 0h2m21 0h2m-164 1h2m48 0h2m14 0h2m20 0h2m32 0h2m93 0h2m-146 1h2m108 0h2m-221 1h2m84 0h2m3 0h2m31 0h2m3 0h2m45 0h2m-65 1h2m-75 1h2m110 0h2m-12 1h2m75 0h2m-162 1h2m60 0h2m10 0h2m28 0h2m1 0h2m26 0h2m-135 1h2m26 0h2m11 0h2m5 0h2m16 0h2m8 0h2m-1 0h2m39 0h2m-192 1h2m89 0h2m12 0h2m28 0h2m6 0h2m-104 1h2m23 0h2m28 0h2m0 0h2m29 0h2m3 0h2m-124 1h2m71 0h2m51 0h2m17 0h2m2 0h2m20 0h2m-144 1h2m19 0h2m18 0h2m11 0h2m33 0h2m3 0h2m15 0h2m130 0h2m-307 1h2m65 0h2m47 0h2m14 0h2m-1 0h2m16 0h2m2 0h2m50 0h2m8 0h2m-95 1h2m0 0h2m62 0h2m-104 1h2m9 0h2m3 0h2m30 0h2m44 0h2m-2 0h2m4 0h2m3 0h2m26 0h2m-129 1h2m35 0h2m141 0h2m-195 1h2m69 0h2m81 0h2m-144 1h2m11 0h2m19 0h2m53 0h2m-108 1h2m31 0h2m13 0h2m22 0h2m1 0h2m56 0h2m-184 1h2m134 0h2m0 0h2m-91 1h2m29 0h2m6 0h2m10 0h2m1 0h2m5 0h2m12 0h2m4 0h2m40 0h2m58 0h2m-143 1h2m11 0h2m5 0h2m39 0h2m14 0h2m-98 2h2m37 0h2m12 0h2m64 0h2m-130 1h2m2 0h2m21 0h2m3 0h2m9 0h2m26 0h2m-99 1h2m35 0h2m0 0h2m25 0h2m38 0h2m5 0h2m15 0h2m-1 0h2m22 0h2m-122 1h2m13 0h2m22 0h2m-1 0h2m28 0h2m-81 1h2m29 0h2m17 0h2m-2 0h2m26 0h2m-39 1h2m13 0h2m21 0h2m24 0h2m-124 1h2m104 0h2m13 0h2m-93 1h2m154 0h2m-183 1h2m30 0h2m5 0h2m31 0h2m0 0h2m-47 1h2m7 0h2m25 0h2m15 0h2m-137 1h2m60 0h2m21 0h2m70 0h2m-78 1h2m11 0h2m14 0h2m4 0h2m15 0h2m-87 1h2m48 0h2m12 0h2m11 0h2m6 0h2m-63 1h2m3 0h2m7 0h2m37 0h2m-76 1h2m17 0h2m35 0h2m29 0h2m-33 1h2m5 0h2m67 0h2m-111 1h2m40 0h2m22 0h2m18 0h2m-79 1h2m8 0h2m10 0h2m19 0h2m7 0h2m11 0h2m-70 1h2m3 0h2m15 0h2m-62 1h2m41 0h2m-2 0h2m34 0h2m-74 1h2m29 0h2m61 0h2m-56 1h2m14 0h2m-31 1h2m16 0h2m33 0h2m30 0h2m-111 1h2m106 0h2m-44 1h2m29 0h2m142 0h2m-259 1h2m-1 0h2m0 0h2m40 0h2m-2 0h2m-17 1h2m5 0h2m13 0h2m5 0h2m32 0h2m59 0h2m-180 1h2m42 0h2m9 0h2m1 0h2m25 0h2m12 0h2m-87 2h2m40 0h2m14 0h2m1 0h2m69 0h2m8 0h2m-65 1h2m-1 0h2m11 0h2m13 0h2m1 0h2m-63 1h2m16 0h2m6 0h2m0 0h2m3 0h2m28 0h2m-113 1h2m86 0h2m16 0h2m-50 1h2m20 0h2m-123 1h2m133 0h2m31 0h2m-54 1h2m11 0h2m4 0h2m2 0h2m4 0h2m-17 1h2m37 0h2m33 0h2m-154 2h2m16 0h2m18 0h2m-2 0h2m3 0h2m37 0h2m1 0h2m-143 1h2m128 0h2m51 0h2m-123 1h2m40 0h2m52 0h2m0 0h2m-56 1h2m0 0h2m71 0h2m-78 1h2m54 0h2m55 0h2m-194 1h2m50 0h2m30 0h2m18 0h2m-40 1h2m34 1h2m18 0h2m1 0h2m-1 0h2m-46 1h2m21 0h2m-99 1h2m35 0h2m1 0h2m33 0h2m10 0h2m92 0h2m-111 1h2m-1 0h2m3 0h2m21 0h2m-71 1h2m0 0h2m43 0h2m-49 1h2m25 0h2m9 0h2m9 0h2m2 0h2m8 0h2m5 0h2m58 0h2m-131 1h2m29 0h2m12 0h2m18 0h2m25 0h2m-91 1h2m39 0h2m2 0h2m12 0h2m0 1h2m5 0h2m14 1h2m7 0h2m-165 1h2m47 0h2m42 0h2m55 0h2m4 0h2m-80 1h2m27 1h2m9 0h2m34 0h2m-9 1h2m7 0h2m-1 0h2m-94 1h2m9 0h2m63 0h2m9 0h2m-28 1h2m3 0h2m5 0h2m0 0h2m-73 1h2m44 0h2m10 0h2m13 0h2m35 0h2m-47 1h2m20 0h2m8 0h2m-36 1h2m43 0h2m-100 1h2m12 0h2m11 0h2m2 2h2m16 0h2m-46 1h2m16 0h2m4 0h2m10 0h2m-59 1h2m52 0h2m1 0h2m95 0h2m-152 1h2m9 0h2m30 0h2m40 0h2m9 1h2m-65 1h2m69 0h2m-15 1h2m-1 0h2m-67 1h2m24 0h2m-29 2h2m82 0h2m-66 1h2m-53 1h2m103 0h2m-86 1h2m60 0h2m24 0h2m-77 1h2m13 0h2m15 0h2m69 0h2m-118 1h2m37 0h2m18 0h2m-23 1h2m-31 3h2m-50 2h2m54 1h2m12 0h2m-27 1h2m11 0h2m85 0h2m-83 1h2m20 0h2m44 0h2m-54 1h2m5 0h2m-39 1h2m1 0h2m21 0h2m32 0h2m-48 1h2m15 0h2m-51 1h2m15 0h2m49 0h2m15 0h2m-82 1h2m101 0h2m-100 1h2m59 1h2m8 0h2m-87 1h2m46 0h2m8 0h2m-54 1h2m38 0h2m-123 1h2m29 0h2m82 0h2m-21 1h2m70 1h2m35 0h2m-152 3h2m66 0h2m79 1h2m-67 1h2m-31 1h2m38 0h2m-68 1h2m-45 2h2m54 3h2m21 0h2m-98 3h2m107 0h2m11 0h2m-1 0h2m-96 1h2m85 2h2m1 0h2m-79 1h2m-17 1h2m-1 0h2m42 2h2m65 0h2m20 0h2m12 1h2m-102 2h2m18 0h2m-62 2h2m76 0h2m8 1h2m-21 1h2m-35 1h2m21 1h2m-51 1h2m16 2h2m-66 3h2m6 0h2m96 3h2m6 0h2m28 2h2m-59 1h2m2 0h2m9 1h2m0 1h2m17 1h2m-37 1h2m5 0h2m-52 4h2m45 0h2m47 0h2m-58 4h2m-108 3h2m152 0h2m-7 3h2m-102 2h2m64 1h2m3 0h2m-62 3h2m56 1h2m54 0h2m-101 1h2m63 0h2m-28 4h2m-90 1h2m25 9h2m120 0h2m-26 3h2m-151 2h2m97 1h2m-31 4h2m12 5h2m11 9h2" stroke="#1414d4" stroke-width="2.2"/><path d="M1700 3693h2m27 1h2m5 0h2m0 0h2m9 0h2m-53 1h2m2 0h2m25 0h2m14 0h2m-49 1h2m44 0h2m1 0h2m-25 1h2m6 0h2m9 0h2m-35 1h2m15 0h2m2 0h2m0 0h2m6 0h2m-53 1h2m3 0h2m4 0h2m8 0h2m7 0h2m-1 0h2m15 0h2m-16 1h2m6 0h2m-46 1h2m11 0h2m42 0h2m-1 0h2m-45 1h2m16 0h2m5 0h2m18 0h2m-19 1h2m1 0h2m-49 1h2m-1 0h2m43 1h2m-5 1h2m13 0h2m-12 1h2m9 0h2m-15 1h2m-58 1h2m8 0h2m1 0h2m65 0h2m2 0h2m-84 1h2m15 0h2m40 0h2m1 0h2m13 0h2m-81 2h2m1 0h2m11 0h2m-6 1h2m39 0h2m12 0h2m3 0h2m0 1h2m8 0h2m-22 1h2m14 1h2m-77 1h2m1 0h2m-7 1h2m0 0h2m70 0h2m-71 1h2m71 1h2m-19 1h2m4 0h2m0 0h2m1 0h2m6 0h2m-84 1h2m79 0h2m-19 1h2m12 1h2m-76 1h2m68 0h2m-10 1h2m8 0h2m-90 1h2m78 0h2m-80 2h2m6 0h2m62 0h2m7 0h2m-74 1h2m73 0h2m-86 1h2m86 0h2m-9 1h2m1 0h2m-86 1h2m14 1h2m64 0h2m-67 1h2m58 0h2m1 0h2m-7 1h2m5 0h2m-69 1h2m-2 0h2m69 1h2m-66 1h2m-1 0h2m56 0h2m4 0h2m-1 0h2m-79 1h2m1 0h2m60 0h2m10 0h2m-66 1h2m-24 1h2m-1 0h2m70 0h2m9 0h2m-13 1h2m-2 0h2m-51 1h2m45 0h2m-60 1h2m72 0h2m-27 1h2m0 0h2m5 0h2m6 0h2m5 0h2m-82 1h2m2 0h2m5 0h2m1 0h2m14 0h2m18 0h2m-1 0h2m6 0h2m-60 1h2m4 0h2m0 0h2m37 0h2m19 0h2m-80 1h2m-2 0h2m66 0h2m5 0h2m-52 1h2m19 0h2m3 0h2m40 0h2m-64 1h2m14 0h2m6 0h2m-53 1h2m17 0h2m29 0h2m7 0h2m7 0h2m2 0h2m-74 1h2m18 0h2m4 0h2m31 0h2m19 0h2m0 0h2m-59 1h2m0 0h2m-1 0h2m12 0h2m5 0h2m-48 1h2m-2 0h2m11 0h2m61 0h2m3 0h2m-74 1h2m8 0h2m1 0h2m11 0h2m-2 0h2m12 0h2m1 0h2m19 0h2m-68 1h2m1 0h2m10 0h2m1 0h2m1 0h2m8 0h2m11 0h2m1 0h2m-47 1h2m53 0h2m15 0h2m-79 1h2m11 0h2m34 0h2m-27 1h2m3 0h2m3 0h2m25 0h2m-48 1h2m2 0h2m3 0h2m-2 0h2m34 0h2m-41 1h2m4 0h2m5 0h2m-1 0h2m10 0h2m11 0h2m9 0h2m-25 1h2m5 0h2m5 0h2m-30 1h2m23 0h2m21 0h2m-77 1h2m10 0h2m34 0h2m20 0h2m-37 1h2m1 0h2m-47 1h2m24 0h2m3 0h2m4 0h2m20 0h2m-26 1h2m1 1h2m5 0h2m2 1h2m-18 2h2m15 0h2m9 0h2m-39 2h2m34 0h2m-13 1h2m-1 1h2m1 0h2m3 0h2m-27 1h2m10 0h2m5 0h2m-1 0h2m-17 1h2" stroke="#20b040" stroke-width="2.2"/><path d="M1721 3703h2m-26 1h2m0 0h2m16 0h2m-2 0h2m1 0h2m4 0h2m0 0h2m-17 1h2m4 0h2m8 0h2m-31 1h2m7 0h2m5 0h2m7 0h2m-1 0h2m-29 1h2m-1 0h2m7 0h2m2 0h2m4 0h2m0 0h2m-2 0h2m5 0h2m-32 1h2m-2 1h2m6 0h2m2 0h2m5 0h2m4 0h2m-28 1h2m0 0h2m0 0h2m15 0h2m5 0h2m-27 1h2m-2 0h2m3 0h2m20 0h2m-23 1h2m3 0h2m10 0h2m1 0h2m-1 0h2m-31 1h2m1 0h2m2 0h2m-1 0h2m12 0h2m3 0h2m0 0h2m-39 1h2m2 0h2m-1 0h2m4 0h2m27 0h2m1 1h2m-1 0h2m-6 1h2m-43 1h2m39 0h2m-1 0h2m2 0h2m-49 1h2m-1 0h2m4 0h2m-6 1h2m38 0h2m-3 1h2m-2 0h2m-1 0h2m5 1h2m-49 1h2m39 0h2m-41 1h2m1 0h2m36 0h2m-38 2h2m-8 1h2m9 0h2m2 0h2m21 0h2m5 0h2m-44 1h2m1 0h2m0 0h2m1 0h2m-1 0h2m-1 0h2m23 0h2m4 0h2m-44 1h2m-2 0h2m0 0h2m8 0h2m-1 0h2m-2 0h2m25 0h2m3 0h2m-42 1h2m-1 0h2m5 0h2m23 0h2m-31 1h2m-2 0h2m-5 1h2m31 0h2m4 0h2m-51 1h2m8 0h2m-1 0h2m-1 0h2m28 0h2m3 0h2m-47 1h2m2 0h2m2 0h2m5 0h2m21 0h2m-43 1h2m0 0h2m-5 1h2m4 0h2m0 0h2m33 0h2m-28 1h2m0 0h2m18 0h2m-14 1h2m15 0h2m2 0h2m-19 1h2m16 0h2m-41 1h2m3 0h2m8 0h2m-2 0h2m22 0h2m-2 0h2m-1 0h2m-36 1h2m27 0h2m-1 0h2m4 0h2m-41 1h2m7 0h2m25 0h2m-2 0h2m-41 1h2m11 0h2m3 0h2m8 0h2m-30 1h2m-1 0h2m12 0h2m3 0h2m1 0h2m0 0h2m5 0h2m-34 1h2m-1 0h2m6 0h2m5 0h2m12 0h2m9 0h2m-39 1h2m13 0h2m1 0h2m0 0h2m3 0h2m-5 1h2m7 0h2" stroke="#40c030" stroke-width="2.2"/><path d="M1704 3704h2m13 1h2m-14 1h2m11 0h2m-6 2h2m-1 0h2m-17 1h2m-2 1h2m7 1h2m2 0h2m7 0h2m-12 2h2m2 0h2m-27 1h2m34 1h2m-45 1h2m-1 0h2m4 0h2m1 0h2m-11 2h2m7 1h2m-2 0h2m34 0h2m-46 1h2m4 0h2m36 0h2m0 0h2m4 0h2m-11 1h2m-42 1h2m0 1h2m-8 2h2m46 1h2m-42 1h2m5 0h2m-2 0h2m34 1h2m-36 1h2m-6 1h2m0 0h2m26 0h2m-40 1h2m36 0h2m-41 1h2m8 0h2m30 0h2m-45 2h2m7 0h2m-2 1h2m3 1h2m5 0h2m21 0h2m-3 1h2m-18 1h2m0 0h2m2 0h2m10 0h2m-40 1h2m31 1h2m2 1h2m-2 0h2m1 0h2m-29 1h2m5 0h2m20 0h2m-39 1h2m-1 0h2m25 0h2m6 0h2m-43 1h2m14 0h2m-2 0h2m3 0h2m-2 0h2m11 0h2m-14 1h2m1 0h2m8 0h2m-24 1h2m5 0h2m7 0h2" stroke="#e8d020" stroke-width="2.2"/><path d="M1701 3714h2m4 0h2m19 0h2m-30 1h2m3 0h2m21 0h2m-33 1h2m-2 0h2m1 0h2m4 0h2m-1 0h2m15 0h2m-24 1h2m-2 0h2m2 0h2m-1 0h2m10 0h2m-1 0h2m0 0h2m2 0h2m-2 0h2m0 0h2m-23 1h2m-2 0h2m14 0h2m-1 0h2m-20 1h2m-1 0h2m10 0h2m3 0h2m-1 0h2m0 0h2m-1 0h2m-25 1h2m19 0h2m1 0h2m-29 1h2m-1 0h2m0 0h2m12 0h2m-1 0h2m-23 1h2m2 0h2m2 0h2m12 0h2m1 0h2m-26 1h2m3 0h2m18 0h2m-25 1h2m0 0h2m0 0h2m-1 0h2m11 0h2m1 0h2m1 0h2m-5 1h2m4 0h2m-10 1h2m-1 0h2m2 0h2m-4 1h2m0 0h2m-6 1h2m0 0h2m-1 0h2m0 0h2m-9 1h2m0 0h2m1 0h2m0 0h2m-1 0h2m-11 1h2m3 0h2m1 0h2m-1 0h2m-3 1h2m0 0h2m-4 1h2m-6 1h2m-1 0h2m-2 2h2" stroke="#f08a18" stroke-width="2.2"/><path d="M1709 3715h2m-2 0h2m1 0h2m0 0h2m-7 1h2m0 0h2m-1 0h2m-5 1h2m-1 0h2m6 0h2m-11 1h2m-1 0h2m0 0h2m-2 0h2m-6 1h2m-2 0h2m-1 0h2m-1 0h2m1 0h2m2 0h2m-4 1h2m-6 1h2m2 0h2m1 0h2m-2 0h2m-5 1h2m0 0h2m-6 1h2m1 0h2m-8 1h2m2 0h2m0 0h2m-4 1h2m-6 1h2m6 0h2m-11 1h2m6 0h2m-12 1h2m3 0h2m3 0h2m-1 0h2m-9 1h2m-1 0h2m-3 2h2m5 0h2m-10 1h2m0 0h2m-7 1h2m0 0h2m4 1h2m-8 1h2m2 0h2m3 0h2" stroke="#e02818" stroke-width="2.2"/></g>
<rect x="762" y="1808.4" width="215.8" height="215.6" fill="none" stroke="#111" stroke-width="1.4"/>
<line x1="866.9" y1="1808.4" x2="866.9" y2="2024" stroke="#111" stroke-width="1.4"/>
<line x1="762" y1="1911.8" x2="977.8" y2="1911.8" stroke="#111" stroke-width="1.4"/>
<path d="M762 1891h-5M762 1936.6h-5M762 1980.8h-5M762 2001.8h-5M762 1821.6h-2.5M762 1834.8h-2.5M762 1848h-2.5M762 1861.2h-2.5M762 1874.4h-2.5M762 1887.6h-2.5M762 1900.8h-2.5M762 1914h-2.5M762 1927.2h-2.5M762 1940.4h-2.5M762 1953.6h-2.5M762 1966.8h-2.5M762 1980h-2.5M762 1993.2h-2.5M762 2006.4h-2.5M762 1983.8h-2.5M762 1986.8h-2.5M762 1989.8h-2.5M762 1992.8h-2.5M762 1995.8h-2.5M762 2024v6M810.6 2024v6M869.9 2024v6M926.7 2024v6M777 2024v3M792 2024v3M807 2024v3M822 2024v3M837 2024v3M852 2024v3M867 2024v3M882 2024v3M897 2024v3M912 2024v3M927 2024v3M942 2024v3M957 2024v3M777.1 2024v4M778.7 2024v4M780.3 2024v4M781.9 2024v4M783.5 2024v4" stroke="#111" stroke-width="1.1" fill="none"/>
<text transform="matrix(1 0 0 1.05 967.8 2013.5)" font-size="33.5" text-anchor="end">4.11</text>
<path d="M19.5,2049.7 L19.5,1958" stroke="#111" stroke-width="1.6"/><path d="M19.5,1948.6 L14.7,1960 L24.3,1960 Z" fill="#111"/>
<path d="M19.5,2049.7 L134,2049.7" stroke="#111" stroke-width="1.6"/><path d="M144.5,2049.7 L132.5,2045 L132.5,2054.4 Z" fill="#111"/>
<text transform="translate(30.5 1913.8) rotate(-90)" font-size="33.5" text-anchor="middle">IgD</text>
<text transform="matrix(1 0 0 1.05 200.3 2063.2)" font-size="33.5" text-anchor="middle">IgG</text>
<path transform="scale(0.5)" d="M205 4410l25 2l33 14l30 0l13 2l21 9l22 22l9 17l2 19l-2 11l-5 11l-5 6l-11 5l-6 0l-8 -4l-6 -6l-4 -9l-3 -9l-1 -13l-2 -3l-6 0l-17 5l-12 20l-9 9l-31 21l-20 11l-13 3l-16 0l-13 -3l-11 -6l-15 -16l-6 -17l-7 -30l2 -24l11 -20l12 -11l27 -13l22 -3zM188 4413l9 -2l24 0l24 7l10 6l10 3l33 0l28 10l25 25l6 11l3 19l-6 22l-6 8l-6 4l-11 1l-5 -2l-9 -8l-6 -14l-2 -17l-1 -2l-4 -1l-21 6l-9 16l-11 12l-32 22l-18 10l-11 3l-14 1l-13 -2l-17 -8l-5 -4l-11 -17l-9 -35l-1 -22l4 -13l9 -15l12 -11l12 -7l19 -6zM194 4412l19 -1l14 2l14 4l22 10l33 0l19 5l10 5l23 22l10 19l1 20l-7 19l-5 5l-10 5l-9 -1l-8 -6l-7 -11l-4 -25l-8 -1l-14 3l-5 3l-12 20l-7 7l-47 31l-17 5l-16 0l-22 -8l-14 -14l-6 -13l-8 -36l0 -16l9 -22l13 -14l18 -11l21 -6zM199 4413l17 -1l11 2l14 4l22 10l35 0l26 9l24 23l7 10l4 22l-3 15l-5 10l-3 4l-9 5l-8 0l-8 -4l-5 -5l-4 -8l-3 -11l-1 -14l-6 -2l-11 2l-12 5l-7 13l-11 13l-44 30l-14 5l-22 1l-17 -5l-8 -5l-8 -8l-8 -16l-8 -36l0 -16l2 -8l9 -17l15 -14l16 -8l12 -4l11 -1zM188 4415l11 -2l25 1l17 5l19 9l36 0l10 2l17 7l26 25l5 8l4 11l0 17l-4 13l-6 9l-6 4l-8 2l-8 -3l-7 -6l-6 -11l-4 -24l-8 0l-11 2l-10 5l-10 17l-11 11l-40 27l-25 7l-14 -1l-16 -6l-13 -11l-7 -12l-9 -40l0 -16l6 -17l14 -17l22 -13l11 -3zM191 4415l28 -1l17 4l21 10l41 1l12 3l13 6l25 24l7 11l3 11l0 11l-3 14l-5 8l-6 5l-7 3l-9 -1l-8 -7l-5 -8l-3 -9l-1 -16l-2 -3l-22 3l-8 5l-8 14l-11 12l-41 28l-11 5l-11 2l-13 0l-15 -4l-17 -13l-8 -15l-8 -37l0 -16l6 -17l13 -16l22 -13l14 -4zM197 4415l22 0l14 3l24 11l39 0l13 3l11 5l6 4l11 13l11 8l5 8l5 19l-5 22l-8 10l-6 3l-8 0l-5 -2l-6 -5l-5 -8l-3 -11l0 -11l-2 -6l-4 -1l-20 4l-9 5l-4 9l-10 13l-33 24l-17 10l-14 4l-16 0l-14 -4l-10 -6l-8 -9l-7 -15l-7 -34l0 -16l6 -17l8 -11l7 -6l19 -11l20 -5zM208 4415l22 3l30 12l30 -1l14 2l11 4l11 7l10 12l12 9l7 13l2 19l-2 11l-7 11l-11 7l-14 -5l-6 -8l-4 -11l-1 -17l-3 -3l-5 0l-25 6l-7 12l-14 16l-42 29l-11 4l-17 2l-19 -5l-11 -7l-11 -16l-8 -34l-1 -22l5 -14l7 -11l17 -14l19 -8l22 -3zM191 4418l14 -2l16 1l39 14l36 -1l22 7l20 20l7 4l7 9l5 19l-4 20l-11 12l-5 2l-9 -1l-8 -7l-5 -9l-3 -25l-3 -2l-14 2l-16 4l-19 26l-44 31l-22 6l-14 -1l-11 -4l-14 -10l-8 -15l-8 -37l1 -19l4 -11l11 -15l14 -10l22 -8zM197 4418l16 -1l14 2l33 13l30 -2l25 6l6 4l12 14l15 11l6 11l2 19l-4 14l-4 7l-11 6l-9 -1l-5 -4l-6 -8l-3 -9l-1 -19l-2 -3l-5 0l-24 5l-6 3l-15 23l-45 32l-14 5l-16 1l-12 -3l-10 -5l-9 -8l-8 -16l-7 -34l1 -19l4 -11l13 -16l19 -12l20 -5zM208 4418l19 2l30 12l36 -1l22 6l8 6l12 14l9 5l8 11l3 8l0 17l-3 11l-6 8l-7 4l-11 -1l-11 -12l-3 -10l0 -17l-1 -3l-4 -1l-27 5l-6 3l-13 20l-6 6l-41 29l-14 5l-16 1l-21 -7l-10 -9l-8 -19l-6 -33l0 -10l3 -12l10 -16l15 -12l17 -7l22 -3zM191 4421l25 -2l14 3l27 11l39 -1l19 6l8 6l10 13l12 7l5 6l5 14l0 11l-4 14l-6 8l-8 4l-11 -3l-6 -6l-4 -9l-2 -25l-8 -1l-23 4l-7 3l-18 25l-42 30l-19 6l-17 -1l-13 -5l-12 -11l-7 -17l-6 -33l2 -19l7 -13l10 -11l16 -10l14 -4zM199 4421l14 -1l14 2l30 12l33 -2l22 5l14 12l5 8l10 5l7 6l6 16l0 14l-2 8l-10 12l-8 2l-8 -3l-9 -12l-2 -10l0 -17l-3 -3l-6 1l-27 5l-5 3l-18 25l-42 30l-15 5l-16 0l-14 -5l-13 -11l-5 -11l-7 -33l0 -20l5 -13l11 -14l20 -12l19 -4zM191 4423l22 -2l17 3l27 11l39 -2l16 5l12 10l5 9l16 9l5 7l4 14l0 8l-3 11l-9 11l-5 2l-10 -2l-10 -14l-2 -28l-9 0l-8 3l-22 3l-5 4l-7 13l-12 13l-40 28l-13 4l-16 0l-14 -5l-14 -14l-5 -13l-5 -30l1 -19l6 -14l10 -11l18 -11l11 -3zM194 4424l8 -2l19 1l12 3l16 8l8 2l39 -2l18 6l9 8l5 10l11 5l9 8l5 13l0 14l-4 11l-7 7l-5 2l-6 0l-5 -3l-7 -9l-3 -11l1 -17l-2 -5l-3 0l-38 8l-4 3l-7 13l-10 12l-25 19l-19 11l-12 3l-11 0l-20 -7l-11 -13l-5 -16l-4 -25l2 -22l7 -13l11 -11l17 -9l11 -2zM202 4424l8 -1l19 3l19 9l9 2l33 -3l22 6l9 8l7 12l11 4l9 8l5 17l-1 9l-4 11l-6 6l-5 2l-6 0l-9 -8l-5 -12l1 -21l-1 -3l-5 -1l-16 5l-16 1l-8 3l-7 8l-4 9l-10 11l-38 27l-16 5l-11 0l-14 -4l-11 -9l-7 -11l-7 -41l1 -11l7 -17l11 -11l21 -11l15 -2zM194 4426l25 -1l35 13l39 -3l19 6l8 7l6 14l11 2l11 10l3 7l1 14l-5 14l-10 7l-9 -2l-5 -5l-5 -11l1 -25l-1 -3l-4 0l-13 5l-26 3l-6 3l-9 16l-11 12l-22 17l-19 11l-11 3l-11 0l-13 -4l-11 -8l-9 -19l-4 -28l1 -19l7 -14l12 -12l11 -6l14 -4zM199 4426l19 0l9 2l27 11l9 0l13 -3l23 1l10 4l9 7l3 6l1 8l-1 3l-17 8l-28 4l-9 4l-14 22l-37 29l-11 5l-11 2l-11 -1l-17 -8l-9 -13l-6 -30l-1 -17l5 -16l11 -14l17 -10l16 -4zM328 4465l6 0l10 5l6 11l1 14l-2 8l-3 6l-9 6l-9 -2l-6 -7l-3 -8l-1 -9l3 -19l2 -3l5 -2zM191 4429l25 -2l36 13l11 0l13 -3l22 1l17 8l5 11l-1 5l-6 6l-12 5l-33 5l-5 6l-7 14l-11 11l-32 23l-14 5l-19 -1l-14 -8l-8 -13l-6 -31l0 -16l3 -11l11 -15l14 -9l11 -4zM328 4467l6 -1l8 4l5 6l3 8l-2 19l-6 8l-8 3l-9 -5l-6 -17l4 -20l5 -5zM199 4429l11 -1l14 2l28 11l11 0l13 -3l22 1l17 9l3 9l-3 7l-5 4l-14 5l-22 2l-8 3l-12 20l-38 31l-19 7l-14 -1l-14 -7l-10 -14l-6 -36l1 -13l4 -10l8 -11l17 -11l16 -4zM328 4469l9 -1l3 2l7 8l2 6l-2 19l-4 6l-6 3l-6 0l-3 -2l-4 -4l-4 -11l1 -14l3 -8l4 -4zM194 4431l22 -1l38 13l25 -4l19 1l11 5l6 7l1 5l-2 5l-7 6l-11 4l-25 2l-8 4l-11 20l-37 30l-13 5l-16 1l-17 -8l-7 -9l-5 -19l-2 -29l4 -12l11 -14l8 -6l16 -6zM331 4470l8 1l6 6l3 8l0 11l-3 8l-4 5l-7 2l-8 -5l-5 -14l2 -14l5 -7l3 -1zM199 4432l14 -1l11 2l25 11l14 0l19 -4l14 1l14 7l3 6l0 5l-9 9l-6 2l-30 3l-7 5l-9 17l-24 22l-17 11l-12 4l-13 0l-11 -4l-11 -11l-5 -17l-2 -32l4 -11l8 -11l12 -9l18 -5zM331 4472l6 0l5 4l5 11l0 8l-3 8l-7 6l-4 0l-5 -3l-5 -8l0 -14l2 -6l6 -6zM194 4435l5 -2l17 0l15 4l19 9l10 0l16 -4l17 0l14 6l4 9l-3 5l-8 6l-35 4l-7 6l-6 14l-5 6l-28 24l-20 8l-13 0l-9 -3l-12 -13l-5 -19l-1 -27l3 -9l7 -11l16 -11l9 -2zM331 4475l3 -1l8 4l3 8l-1 12l-6 8l-7 0l-3 -2l-4 -9l0 -8l3 -9l4 -3zM205 4435l3 -1l18 3l23 11l11 0l25 -5l8 1l10 4l5 9l-4 6l-11 5l-25 1l-9 4l-12 22l-14 14l-24 16l-10 3l-11 0l-11 -4l-8 -8l-4 -7l-3 -11l-1 -28l5 -15l11 -11l13 -7l15 -2zM331 4478l7 0l5 9l-1 11l-5 5l-4 0l-5 -3l-2 -8l2 -11l3 -3zM197 4437l22 0l33 14l8 0l19 -5l11 0l8 2l5 6l0 3l-2 4l-7 4l-29 2l-7 3l-16 28l-12 11l-22 14l-11 3l-9 -1l-11 -4l-11 -15l-3 -19l0 -17l3 -10l11 -14l14 -8l6 -1zM334 4483l3 1l3 5l-1 6l-3 3l-3 0l-3 -6l1 -7l3 -2zM194 4439l22 -1l38 17l33 -5l6 3l2 4l-8 5l-24 1l-5 2l-5 5l-6 17l-8 11l-12 11l-19 12l-9 2l-11 -1l-11 -5l-7 -8l-4 -13l-1 -20l4 -17l6 -8l8 -7l11 -5zM197 4440l13 -1l17 5l24 18l-7 25l-6 8l-25 21l-14 4l-15 -3l-7 -4l-5 -7l-4 -14l0 -19l3 -11l10 -14l7 -5l9 -3zM194 4442l14 -2l16 5l17 12l4 8l-1 13l-6 12l-15 16l-10 7l-8 3l-17 -1l-7 -4l-4 -3l-6 -13l0 -22l2 -8l8 -14l13 -9zM197 4443l19 0l9 5l13 13l3 9l-2 11l-9 14l-14 13l-14 5l-18 -4l-7 -7l-3 -10l0 -14l6 -20l6 -10l11 -5zM194 4445l5 -2l11 0l11 5l11 14l3 8l0 6l-5 12l-11 13l-13 8l-11 0l-8 -3l-7 -7l-2 -7l0 -11l5 -22l3 -8l8 -6zM199 4445l6 -1l13 4l5 6l4 16l0 8l-8 16l-9 8l-8 3l-8 -1l-6 -3l-5 -9l0 -8l5 -14l-1 -16l5 -6l7 -3zM197 4448l5 -2l12 2l5 5l0 9l-11 7l-11 -2l-6 -5l-2 -5l2 -5l6 -4zM197 4480l8 -1l6 5l-1 8l-7 6l-5 0l-7 -6l0 -5l6 -7zM205 4448l11 6l-1 5l-7 5l-9 -1l-6 -6l3 -6l9 -3zM202 4454l6 0l2 3l-8 3l-3 -3l3 -3z" fill="none" stroke="#9a9a9a" stroke-width="1.7"/>
<rect x="51.6" y="2114.8" width="218.4" height="217.4" fill="none" stroke="#7e7e7e" stroke-width="2.6"/>
<line x1="144" y1="2115.8" x2="144" y2="2331.2" stroke="#111" stroke-width="1.4"/>
<path d="M50.6 2119.1h-5M50.6 2158.3h-5M50.6 2197.4h-5M50.6 2243.1h-5M50.6 2288.7h-5M50.6 2306.1h-5M50.6 2291.1h-2.5M50.6 2293.5h-2.5M50.6 2295.9h-2.5M50.6 2298.3h-2.5M50.6 2300.7h-2.5M50.6 2303.1h-2.5M50.6 2305.5h-2.5M143.3 2333.2v5M204.5 2333.2v5M254.7 2333.2v5M106.2 2333.2v3M108 2333.2v3M109.8 2333.2v3M111.6 2333.2v3M113.4 2333.2v3M115.2 2333.2v3" stroke="#111" stroke-width="1.1" fill="none"/>
<text transform="matrix(1 0 0 1.05 258 2318.2)" font-size="33" text-anchor="end">16.4</text>
<path transform="scale(0.5)" d="M659 4407l25 -1l11 2l19 8l14 10l8 3l19 -2l22 0l11 2l22 9l12 13l2 6l-1 11l-10 12l-8 5l-28 8l-27 0l-6 2l-1 5l18 18l6 15l0 11l-4 11l-12 14l-7 4l-19 6l-14 0l-25 -9l-11 -11l-9 -23l-4 -4l-25 -9l-8 -5l-11 -9l-8 -11l-8 -22l0 -14l6 -19l10 -14l13 -11l11 -6l17 -5zM813 4500l5 1l5 8l0 8l-7 7l-6 -1l-5 -6l1 -11l7 -6zM664 4407l28 1l14 5l22 14l8 3l33 -3l27 5l17 9l8 10l2 6l-1 11l-6 8l-9 7l-13 6l-14 3l-28 0l-9 3l-1 5l2 3l17 16l4 9l1 16l-8 17l-8 8l-11 6l-11 3l-20 0l-19 -7l-14 -14l-10 -24l-20 -7l-16 -9l-10 -8l-11 -17l-5 -16l0 -14l9 -24l11 -13l11 -8l19 -8l11 -2zM810 4502l6 -1l4 2l3 6l-1 8l-6 7l-6 -1l-5 -9l2 -9l3 -3zM656 4409l17 -2l19 2l19 7l22 14l14 0l8 -2l33 2l18 7l7 5l7 9l2 6l-1 11l-8 10l-11 7l-25 7l-30 0l-6 3l0 6l19 18l5 11l0 14l-4 12l-14 14l-14 6l-11 2l-19 -2l-14 -6l-14 -14l-9 -23l-4 -3l-20 -6l-12 -7l-18 -19l-8 -22l0 -14l6 -19l10 -14l11 -9l25 -11zM810 4502l8 0l5 9l-2 8l-5 4l-6 -1l-4 -5l1 -12l3 -3zM659 4410l8 -2l25 2l21 8l20 13l30 -3l22 2l24 10l10 11l2 6l-1 11l-4 6l-11 9l-25 8l-30 0l-6 1l-4 3l-1 3l2 5l11 8l7 8l6 17l-4 18l-14 15l-22 8l-19 -1l-17 -7l-11 -10l-5 -9l-3 -12l-6 -8l-22 -7l-10 -6l-9 -7l-10 -12l-8 -22l0 -14l7 -21l12 -15l10 -7l25 -9zM810 4503l6 -1l6 7l-1 8l-5 6l-6 -1l-3 -4l-1 -9l4 -6zM662 4410l19 -1l19 4l11 5l19 13l6 1l22 -3l25 1l22 8l11 9l4 10l0 8l-4 8l-11 9l-14 6l-17 3l-30 0l-5 4l-1 5l2 3l18 16l6 17l-3 16l-11 14l-6 4l-16 6l-20 0l-18 -7l-12 -12l-4 -7l-4 -15l-4 -5l-24 -8l-9 -5l-10 -8l-9 -11l-8 -22l0 -14l6 -19l8 -11l14 -12l16 -7l12 -3zM813 4502l3 0l6 9l-1 6l-5 5l-6 -1l-4 -7l2 -8l5 -4zM670 4410l14 0l19 5l27 17l14 0l8 -2l25 0l11 2l14 5l15 14l2 6l-1 11l-6 8l-10 7l-25 7l-33 0l-7 5l0 5l2 3l18 16l5 11l1 11l-2 9l-5 8l-6 7l-14 8l-22 3l-14 -3l-8 -4l-14 -13l-10 -26l-33 -13l-11 -8l-12 -17l-5 -16l0 -17l5 -14l5 -8l10 -11l12 -8l12 -5l19 -3zM813 4503l3 0l5 6l-1 8l-4 5l-6 -2l-3 -5l0 -6l3 -5l3 -1zM659 4412l25 -1l11 2l11 4l19 13l8 3l25 -3l27 2l17 6l14 13l2 6l-1 11l-15 14l-13 5l-17 3l-28 -1l-8 6l0 6l20 18l6 14l-1 14l-3 7l-8 10l-11 7l-17 4l-8 0l-17 -4l-11 -7l-8 -10l-5 -17l-4 -7l-32 -13l-11 -8l-10 -11l-8 -20l0 -19l4 -11l6 -11l13 -13l14 -8l14 -4zM810 4505l8 0l3 6l-1 6l-4 4l-3 0l-5 -4l-1 -6l3 -6zM662 4413l13 -2l20 3l16 7l14 10l8 3l22 -3l28 1l19 7l8 6l6 8l0 15l-7 8l-15 9l-17 4l-36 0l-5 3l-2 8l21 19l6 14l0 10l-3 9l-11 13l-8 5l-14 4l-14 0l-16 -5l-9 -6l-5 -6l-6 -12l-2 -12l-3 -4l-33 -13l-14 -11l-9 -13l-5 -16l0 -14l3 -12l5 -10l17 -17l19 -9l9 -1zM813 4504l3 1l4 6l-1 6l-3 3l-6 -2l-2 -4l2 -8l3 -2zM667 4413l8 -1l20 3l11 4l26 16l34 -4l22 3l14 6l12 11l2 5l0 8l-5 9l-9 7l-22 8l-39 0l-3 1l-5 6l1 8l16 12l7 10l3 8l0 8l-3 11l-10 12l-8 5l-14 4l-14 0l-19 -7l-13 -14l-6 -22l-6 -4l-30 -11l-14 -12l-8 -11l-5 -16l0 -14l2 -9l6 -12l10 -12l17 -11l22 -5zM813 4506l3 0l3 5l-3 8l-6 -2l-1 -3l1 -6l3 -2zM659 4415l19 -2l17 3l19 9l14 10l5 1l25 -4l27 2l14 5l14 13l2 5l-2 11l-6 8l-8 5l-25 7l-33 -1l-5 2l-3 4l-2 7l8 9l13 10l7 14l-2 17l-5 8l-13 10l-14 4l-14 0l-19 -7l-8 -7l-5 -8l-6 -22l-31 -11l-11 -7l-13 -15l-7 -19l0 -14l5 -16l6 -9l11 -11l12 -7l14 -4zM813 4507l3 0l2 4l-2 6l-4 0l-2 -3l3 -7zM662 4415l16 -1l14 2l22 10l11 9l8 2l22 -4l19 0l11 2l14 5l12 11l3 8l-2 9l-13 12l-23 7l-35 -1l-7 3l-2 3l-2 10l21 17l4 6l3 11l-2 14l-6 8l-11 9l-14 4l-17 0l-11 -4l-11 -8l-6 -9l-4 -20l-3 -4l-31 -10l-8 -5l-15 -16l-7 -19l0 -14l4 -14l7 -11l12 -11l13 -7l14 -4zM813 4511l3 0l0 2l-3 1l0 -3zM670 4415l25 3l17 8l11 9l10 3l22 -4l28 1l16 6l11 10l2 6l-1 11l-12 11l-22 7l-14 1l-22 -2l-8 4l-3 4l-2 5l1 5l23 19l5 14l0 5l-4 11l-3 5l-11 9l-11 4l-9 1l-11 -1l-11 -4l-11 -9l-6 -10l-2 -14l-5 -8l-26 -8l-14 -8l-7 -7l-10 -15l-3 -11l0 -14l3 -11l6 -11l9 -10l11 -7l11 -5l17 -3zM659 4418l19 -2l17 3l15 7l11 9l12 4l30 -5l20 2l19 8l8 10l1 8l-2 6l-7 8l-11 6l-19 4l-31 -2l-11 6l-3 13l21 16l4 6l4 14l-6 16l-14 11l-19 4l-11 -2l-11 -5l-11 -11l-4 -11l-1 -11l-3 -5l-31 -10l-14 -9l-11 -14l-6 -19l1 -14l5 -13l6 -9l13 -11l20 -8zM664 4418l14 -1l19 4l11 5l14 11l8 3l31 -5l19 1l18 7l9 8l3 8l-2 9l-8 8l-9 5l-17 4l-35 -2l-10 6l-4 9l0 5l24 19l5 11l0 11l-2 6l-6 8l-10 7l-11 3l-14 0l-11 -3l-10 -7l-6 -8l-4 -22l-2 -3l-4 -3l-21 -5l-16 -8l-12 -11l-6 -11l-4 -14l0 -8l8 -22l8 -10l11 -8l22 -7zM656 4421l17 -3l16 2l17 6l11 9l13 6l28 -5l22 1l16 6l9 7l3 7l-2 11l-4 5l-11 7l-17 4l-35 -2l-9 4l-4 6l-3 8l2 6l20 13l7 11l1 11l-3 10l-11 11l-14 5l-14 0l-14 -5l-8 -7l-5 -8l-2 -19l-4 -6l-22 -5l-14 -6l-15 -13l-7 -11l-3 -11l0 -14l4 -14l8 -11l8 -7l19 -9zM662 4421l27 0l14 5l19 14l6 2l8 0l21 -5l23 1l14 5l10 8l3 8l-1 6l-4 6l-8 6l-20 6l-38 -2l-6 3l-4 5l-5 11l1 6l21 13l8 14l0 11l-2 6l-13 12l-14 4l-11 0l-11 -4l-6 -4l-8 -10l-2 -7l0 -11l-3 -8l-6 -3l-23 -5l-11 -5l-10 -8l-8 -11l-5 -14l0 -14l6 -16l4 -6l14 -12l20 -7zM670 4421l14 0l11 3l11 5l16 12l8 3l28 -6l22 1l14 5l8 7l3 6l-2 11l-9 8l-20 6l-38 -2l-6 2l-4 5l-7 12l0 7l20 12l8 9l3 8l-3 15l-7 8l-7 4l-11 3l-8 0l-17 -6l-8 -9l-3 -7l0 -13l-2 -8l-4 -3l-18 -3l-20 -8l-12 -10l-7 -11l-4 -14l0 -8l5 -17l13 -15l11 -7l22 -5zM662 4423l19 -1l16 4l25 17l6 2l8 0l22 -6l16 0l17 5l9 7l3 6l-2 11l-10 8l-17 5l-16 0l-23 -3l-6 3l-10 14l-3 8l2 6l20 10l9 11l0 15l-2 5l-8 8l-12 5l-14 0l-14 -6l-9 -13l0 -19l-3 -6l-26 -5l-13 -5l-12 -9l-8 -11l-5 -13l0 -14l5 -14l16 -17l9 -5l11 -3zM670 4424l8 -1l15 3l13 6l13 11l9 4l33 -7l11 0l19 6l8 8l2 5l-1 6l-12 11l-16 4l-14 0l-22 -4l-6 2l-11 14l-6 11l1 6l25 13l7 14l-3 14l-9 8l-15 4l-17 -4l-9 -8l-4 -11l1 -20l-6 -3l-17 -2l-18 -5l-15 -11l-8 -11l-4 -14l0 -8l4 -14l5 -8l11 -10l13 -7l15 -2zM662 4426l22 -1l11 3l11 6l14 12l8 3l5 0l22 -7l11 -1l22 5l9 8l2 5l-1 6l-4 5l-10 6l-15 3l-33 -5l-6 2l-6 5l-14 22l-2 6l3 3l20 7l8 6l3 5l2 6l-2 11l-9 9l-11 4l-8 0l-11 -4l-7 -6l-4 -9l2 -24l-8 -3l-16 -1l-17 -4l-17 -11l-8 -11l-4 -11l0 -14l5 -14l10 -11l13 -8l10 -3zM670 4426l10 0l15 4l13 7l9 9l10 5l6 0l28 -8l16 1l14 6l3 3l2 9l-5 8l-13 6l-20 1l-19 -5l-9 1l-6 5l-12 20l-12 12l-8 2l-19 0l-16 -3l-15 -8l-9 -9l-7 -16l-1 -8l2 -11l4 -9l11 -12l11 -6l17 -4zM706 4517l8 -1l12 3l13 10l2 12l-5 10l-8 5l-11 2l-9 -2l-9 -6l-5 -11l1 -9l5 -10l6 -3zM664 4429l17 -1l14 4l10 5l14 13l9 5l7 -1l12 -6l11 -3l16 0l14 6l3 3l2 8l-3 6l-16 7l-16 0l-17 -5l-11 -1l-11 13l-10 16l-9 8l-14 4l-27 -2l-17 -9l-11 -13l-4 -13l0 -8l6 -17l12 -12l19 -7zM706 4522l5 -2l11 1l14 9l2 11l-5 9l-14 5l-5 0l-11 -5l-5 -9l0 -8l4 -8l4 -3zM659 4432l14 -3l11 1l18 7l26 25l-13 25l-6 8l-10 8l-13 5l-24 -1l-9 -3l-11 -7l-8 -10l-5 -14l2 -17l12 -16l16 -8zM755 4448l21 0l7 3l5 5l1 6l-4 6l-13 5l-17 -1l-12 -4l-7 -6l1 -3l7 -6l11 -5zM714 4525l11 2l7 6l1 8l-8 9l-14 0l-7 -6l-1 -11l5 -6l6 -2zM667 4432l11 -1l20 6l14 11l8 11l2 6l-5 14l-11 16l-11 8l-11 3l-22 -1l-9 -3l-10 -7l-9 -12l-3 -10l0 -9l5 -13l10 -11l7 -4l14 -4zM761 4451l12 0l7 3l3 4l0 4l-6 6l-8 2l-16 -2l-7 -6l0 -3l6 -6l9 -2zM664 4434l14 -1l16 4l9 6l14 17l1 8l-4 11l-4 8l-11 11l-15 6l-22 -1l-12 -5l-13 -14l-4 -14l4 -16l5 -8l8 -6l14 -6zM662 4437l13 -2l17 4l11 7l10 13l1 11l-3 9l-4 8l-13 11l-13 4l-14 0l-14 -5l-13 -13l-4 -11l0 -8l4 -11l2 -4l9 -8l11 -5zM662 4440l8 -2l11 0l7 2l7 3l11 10l5 12l0 5l-5 13l-14 13l-17 4l-13 -2l-9 -4l-10 -10l-4 -11l0 -8l3 -10l11 -11l9 -4zM664 4442l17 -1l8 2l6 3l11 13l0 17l-7 11l-10 7l-14 3l-12 -2l-10 -5l-6 -6l-4 -8l-1 -11l3 -8l8 -10l11 -5zM664 4445l11 -2l9 1l11 5l5 6l3 7l0 8l-3 8l-8 10l-8 4l-14 1l-15 -6l-5 -6l-4 -11l2 -11l6 -8l10 -6zM667 4447l14 -1l8 2l6 4l4 7l1 6l-5 12l-7 7l-6 3l-16 0l-7 -4l-6 -8l0 -16l7 -8l7 -4zM675 4448l6 0l8 3l6 5l2 6l-5 10l-8 5l-9 2l-10 -3l-8 -11l1 -6l6 -8l11 -3zM673 4451l8 -1l9 4l4 8l-3 6l-7 4l-6 1l-14 -5l-3 -6l3 -7l6 -4l3 0zM673 4453l8 0l5 2l4 4l-1 6l-3 3l-5 1l-11 -1l-3 -3l-1 -6l7 -6zM673 4459l2 -2l9 2l0 4l-3 2l-6 0l-3 -3l1 -3z" fill="none" stroke="#9a9a9a" stroke-width="1.7"/>
<rect x="286.9" y="2114.8" width="218.4" height="217.4" fill="none" stroke="#68cbb4" stroke-width="2.6"/>
<line x1="379.5" y1="2115.8" x2="379.5" y2="2331.2" stroke="#111" stroke-width="1.4"/>
<path d="M285.9 2119.1h-5M285.9 2158.3h-5M285.9 2197.4h-5M285.9 2243.1h-5M285.9 2288.7h-5M285.9 2306.1h-5M285.9 2291.1h-2.5M285.9 2293.5h-2.5M285.9 2295.9h-2.5M285.9 2298.3h-2.5M285.9 2300.7h-2.5M285.9 2303.1h-2.5M285.9 2305.5h-2.5M378.6 2333.2v5M439.8 2333.2v5M490 2333.2v5M341.5 2333.2v3M343.3 2333.2v3M345.1 2333.2v3M346.9 2333.2v3M348.7 2333.2v3M350.5 2333.2v3" stroke="#111" stroke-width="1.1" fill="none"/>
<text transform="matrix(1 0 0 1.05 493.3 2318.2)" font-size="33" text-anchor="end">13.1</text>
<path transform="scale(0.5)" d="M1227 4413l16 -3l16 1l31 11l17 15l7 11l4 14l0 14l-3 11l-6 11l-10 11l-17 10l-9 9l3 13l0 11l-8 16l-12 12l3 16l-2 14l-9 11l-8 3l-11 -2l-8 -7l-4 -8l-1 -15l-3 -4l-25 -8l-15 -11l-7 -11l-2 -19l-4 -6l-24 -6l-16 -8l-13 -10l-8 -11l-6 -17l0 -16l3 -11l9 -14l15 -13l21 -9l9 -2l17 -1l24 4l14 0l22 -6zM1229 4413l9 -2l16 0l16 3l17 7l11 8l11 12l4 7l4 14l-1 19l-8 17l-10 11l-25 16l-1 5l3 11l0 11l-7 15l-11 10l-2 5l3 11l0 11l-2 6l-9 11l-7 2l-12 -2l-7 -7l-4 -10l-1 -15l-8 -4l-17 -4l-17 -12l-7 -11l-2 -6l0 -13l-4 -7l-30 -8l-19 -12l-12 -14l-5 -11l-2 -11l2 -17l5 -11l17 -18l14 -8l25 -6l16 0l30 4l27 -7zM1235 4413l22 -1l11 2l19 8l18 15l7 11l4 14l-1 19l-8 17l-17 16l-11 5l-7 6l-1 5l3 11l0 11l-6 13l-12 12l-2 5l4 17l-1 6l-8 14l-11 4l-9 -2l-8 -8l-4 -11l-1 -14l-25 -8l-16 -11l-8 -14l-1 -19l-2 -3l-5 -3l-17 -3l-14 -5l-22 -17l-8 -13l-4 -16l1 -13l6 -15l16 -17l14 -8l22 -6l22 0l27 4l27 -8l6 0zM1240 4413l17 0l11 2l19 8l11 8l13 17l4 14l0 14l-3 11l-11 17l-11 9l-13 6l-7 6l0 8l3 8l0 11l-5 12l-14 15l3 17l-2 14l-9 10l-11 2l-6 -2l-8 -8l-3 -8l0 -13l-2 -4l-23 -7l-16 -10l-8 -12l-2 -6l0 -18l-3 -3l-19 -4l-17 -6l-22 -17l-10 -20l-1 -15l1 -7l6 -14l9 -11l17 -12l14 -5l19 -3l38 5l25 -7l16 -2zM1229 4415l11 -2l19 1l15 4l13 6l16 13l7 11l4 11l-1 22l-8 17l-11 11l-19 10l-6 6l-1 3l4 13l0 11l-4 10l-12 12l-3 6l3 13l0 11l-2 6l-5 7l-8 4l-12 -2l-7 -7l-3 -8l0 -13l-3 -6l-28 -8l-13 -11l-6 -11l-1 -22l-3 -3l-29 -7l-19 -10l-14 -15l-7 -20l1 -16l6 -14l9 -11l16 -11l17 -6l13 -2l47 4l24 -7zM1232 4415l22 -1l11 2l24 10l12 10l8 12l4 11l1 9l-4 19l-9 14l-11 10l-20 10l-3 4l0 5l4 11l0 11l-7 14l-10 9l-2 5l4 16l-1 11l-6 9l-9 4l-8 0l-9 -8l-4 -10l0 -14l-3 -4l-19 -4l-9 -4l-11 -9l-7 -12l0 -19l-2 -6l-21 -4l-19 -7l-11 -7l-13 -14l-7 -20l1 -16l6 -14l13 -14l13 -8l26 -7l16 0l19 4l14 0l27 -8zM1238 4415l24 1l11 3l17 9l11 10l7 10l5 20l-4 19l-8 13l-11 10l-23 12l-2 6l5 13l0 11l-5 11l-14 14l-1 3l4 11l1 13l-6 11l-11 5l-6 -1l-10 -9l-2 -6l-1 -19l-31 -10l-11 -10l-6 -10l-1 -25l-6 -3l-28 -5l-19 -11l-12 -13l-7 -20l1 -16l7 -15l11 -12l15 -9l15 -5l9 -1l16 0l19 4l14 0l13 -5l20 -4zM1227 4418l8 -2l22 0l19 5l10 5l15 13l6 9l4 11l1 9l-4 19l-7 11l-12 11l-20 10l-5 6l5 19l-1 11l-6 10l-12 12l-1 3l5 13l0 11l-5 10l-9 5l-8 -1l-9 -8l-2 -6l0 -16l-3 -5l-19 -4l-16 -9l-6 -6l-6 -14l1 -20l-5 -3l-31 -6l-19 -11l-11 -13l-5 -10l-2 -9l2 -19l5 -10l10 -12l18 -11l19 -5l22 0l27 4l25 -7zM1232 4418l11 -2l14 1l11 2l16 7l17 15l9 18l1 9l-4 19l-6 10l-13 12l-21 10l-5 6l6 19l0 6l-8 16l-12 11l6 22l-5 14l-9 5l-8 -1l-8 -7l-3 -11l1 -14l-3 -3l-20 -4l-11 -6l-11 -10l-5 -15l2 -11l0 -6l-2 -3l-30 -5l-22 -11l-14 -16l-6 -17l2 -19l4 -8l12 -14l12 -8l9 -4l14 -3l22 0l27 4l30 -8zM1235 4418l24 0l23 8l8 5l11 11l8 19l-1 20l-9 17l-13 11l-25 13l-1 3l6 16l0 11l-4 9l-15 16l0 5l6 14l0 6l-3 8l-10 7l-8 -1l-7 -6l-3 -8l0 -20l-23 -5l-14 -8l-8 -9l-3 -8l2 -19l-1 -6l-33 -6l-23 -12l-12 -14l-6 -19l1 -11l7 -17l10 -11l17 -10l25 -5l41 5l33 -9zM1246 4418l13 1l17 5l11 6l8 7l10 14l3 11l0 14l-7 17l-11 12l-31 17l0 7l6 15l-1 11l-7 11l-12 11l7 19l0 6l-3 8l-3 3l-11 3l-9 -6l-3 -8l2 -14l-1 -6l-25 -6l-11 -6l-8 -8l-5 -12l3 -22l-6 -4l-16 -1l-20 -5l-19 -12l-11 -15l-4 -21l4 -15l4 -7l11 -11l15 -9l25 -5l41 5l30 -9l14 -1zM1232 4420l22 -1l24 7l16 11l7 9l6 16l0 14l-4 11l-7 11l-13 11l-21 9l-5 4l-1 3l8 19l0 6l-7 14l-14 13l0 3l7 13l1 9l-2 6l-11 7l-6 -2l-6 -6l-2 -11l3 -11l-3 -5l-16 -3l-14 -5l-5 -3l-10 -11l-3 -11l5 -19l-1 -3l-5 -2l-25 -2l-22 -8l-16 -15l-8 -17l0 -16l4 -11l12 -15l19 -11l11 -3l19 -1l33 5l30 -9zM1235 4421l19 -1l22 6l19 14l6 8l5 14l-1 16l-8 17l-16 14l-22 9l-5 4l1 6l7 13l0 11l-5 10l-17 15l0 4l9 12l0 11l-3 5l-6 4l-8 -1l-6 -8l0 -11l3 -8l-2 -6l-28 -6l-11 -6l-7 -9l-3 -8l0 -6l6 -16l-1 -5l-27 -2l-20 -5l-19 -13l-10 -16l-2 -9l1 -16l7 -14l11 -11l16 -8l10 -3l19 -1l33 5l33 -9zM1227 4424l13 -3l14 0l14 3l11 5l8 5l9 9l5 8l4 14l0 8l-4 14l-8 11l-14 11l-26 10l-1 6l8 16l0 11l-6 11l-19 15l-22 -2l-20 -7l-9 -9l-4 -8l0 -11l9 -19l-3 -2l-36 -1l-19 -7l-14 -11l-9 -14l-2 -9l2 -19l9 -14l14 -11l12 -5l15 -3l11 0l33 5l25 -7zM1232 4585l3 -2l6 2l7 11l-2 10l-6 5l-7 -1l-4 -3l-2 -5l2 -13l3 -4zM1232 4423l22 -1l14 3l11 5l10 7l9 11l4 9l2 13l-3 14l-7 11l-7 7l-11 7l-25 9l-3 4l11 22l-2 12l-5 7l-14 10l-6 2l-16 0l-20 -6l-12 -11l-3 -8l0 -6l4 -11l16 -16l-43 2l-20 -5l-10 -5l-12 -11l-7 -13l-2 -15l5 -16l4 -6l8 -8l12 -7l22 -6l47 5l27 -9zM1235 4588l3 -1l5 4l3 8l-3 7l-5 3l-5 -2l-4 -6l1 -8l5 -5zM1238 4424l13 -1l16 3l20 11l8 9l6 11l1 19l-4 11l-8 11l-16 11l-29 10l1 6l8 11l3 8l0 6l-3 8l-5 6l-17 9l-19 0l-19 -7l-8 -8l-3 -8l0 -6l5 -12l12 -10l12 -5l1 -3l-8 -3l-30 7l-17 0l-22 -6l-10 -6l-9 -9l-5 -8l-3 -10l0 -12l2 -8l6 -10l9 -9l21 -10l20 -2l24 5l14 0l20 -7l13 -2zM1235 4595l3 -2l3 6l-1 3l-5 0l0 -7zM1229 4426l22 -2l12 2l13 5l9 6l12 14l4 12l0 11l-3 10l-7 11l-12 10l-40 14l1 4l9 8l5 10l1 9l-3 8l-14 11l-11 3l-11 0l-13 -3l-12 -8l-6 -11l0 -6l3 -8l6 -7l5 -4l23 -8l-1 -3l-4 -3l-12 -2l-22 6l-22 2l-14 -2l-11 -4l-17 -13l-4 -6l-5 -14l0 -10l9 -20l9 -8l11 -6l14 -4l22 0l24 5l11 -2l19 -7zM1235 4426l23 0l15 5l10 6l12 14l5 17l-2 12l-8 14l-14 11l-19 7l-19 3l-9 -1l-19 -7l-11 1l-24 7l-22 0l-18 -6l-14 -11l-6 -9l-4 -16l3 -14l7 -11l13 -10l22 -7l16 0l30 5l33 -10zM1216 4522l13 -1l6 2l10 7l7 11l1 6l-2 8l-13 12l-9 3l-21 -1l-14 -8l-6 -9l0 -11l5 -8l12 -8l11 -3zM1229 4429l9 -2l19 0l8 2l16 8l11 11l5 11l0 19l-7 14l-11 10l-15 7l-15 3l-17 0l-24 -7l-36 9l-16 0l-20 -6l-13 -10l-6 -8l-4 -12l0 -8l3 -11l7 -11l13 -10l22 -6l14 0l22 5l11 0l24 -8zM1216 4525l16 0l9 5l8 10l0 14l-6 7l-8 5l-8 2l-14 0l-11 -4l-10 -9l-2 -11l4 -8l6 -6l16 -5zM1235 4429l19 -1l14 4l14 8l10 11l4 11l0 14l-3 8l-11 14l-14 8l-28 5l-27 -7l-11 0l-22 7l-22 2l-11 -2l-13 -6l-9 -7l-8 -12l-2 -8l2 -18l8 -12l17 -11l11 -3l14 -1l35 6l33 -10zM1216 4527l11 0l9 3l10 11l1 9l-9 12l-11 4l-17 -1l-11 -6l-5 -7l0 -11l4 -5l4 -4l14 -5zM1229 4432l14 -3l19 2l17 8l11 12l5 14l0 8l-5 14l-7 8l-10 7l-24 7l-11 0l-22 -6l-14 -1l-19 7l-27 2l-10 -2l-15 -8l-4 -3l-9 -14l-2 -11l2 -11l7 -11l14 -11l17 -5l16 0l22 5l11 0l24 -8zM1218 4530l14 2l10 9l1 9l-5 8l-11 5l-11 0l-8 -2l-9 -7l-2 -7l2 -7l8 -7l11 -3zM1235 4432l19 -1l14 4l11 6l11 13l3 11l0 8l-3 10l-13 15l-9 5l-17 4l-13 0l-22 -6l-11 -1l-29 9l-18 1l-15 -4l-12 -7l-11 -15l-2 -8l2 -14l7 -11l12 -9l22 -6l41 6l33 -10zM1213 4536l14 -1l5 3l5 6l0 6l-2 3l-11 6l-8 0l-9 -4l-4 -8l2 -6l8 -5zM1232 4434l11 -2l14 1l19 8l10 10l5 14l-1 13l-5 9l-11 11l-20 7l-19 0l-27 -7l-9 1l-27 9l-16 0l-17 -6l-14 -13l-5 -16l1 -5l6 -14l12 -10l19 -6l19 1l25 5l30 -10zM1238 4435l13 -1l14 3l14 9l8 12l2 7l-2 15l-4 7l-8 8l-7 4l-11 4l-17 1l-35 -8l-28 9l-21 1l-17 -6l-13 -13l-3 -9l0 -10l5 -12l11 -10l17 -6l16 0l30 6l25 -9l11 -2zM1235 4437l19 -1l8 2l14 8l8 11l3 11l-3 13l-5 8l-13 9l-15 4l-11 0l-24 -7l-11 -1l-28 9l-21 1l-16 -6l-13 -14l-2 -8l1 -11l5 -9l11 -9l14 -5l16 0l30 6l33 -11zM1232 4440l8 -2l14 0l7 2l14 8l5 6l4 11l-1 11l-4 9l-14 11l-22 4l-30 -8l-14 0l-24 9l-17 1l-14 -4l-8 -6l-6 -8l-2 -7l1 -12l7 -11l11 -7l11 -3l11 0l19 5l17 1l27 -10zM1243 4440l8 0l11 3l9 5l8 10l2 7l-2 15l-5 7l-13 8l-7 2l-16 0l-22 -7l-16 -1l-23 9l-21 1l-14 -6l-8 -9l-3 -8l1 -11l4 -6l6 -6l10 -5l20 -1l16 5l17 1l24 -10l14 -3zM1240 4443l14 0l8 3l8 5l6 8l2 6l-1 11l-9 12l-8 4l-17 3l-11 -2l-19 -7l-11 -1l-27 10l-17 1l-11 -4l-9 -8l-2 -4l-2 -7l2 -9l11 -10l8 -3l14 -1l22 6l12 1l10 -3l16 -9l11 -2zM1238 4445l13 0l9 3l12 11l2 9l-1 8l-6 8l-10 6l-17 1l-30 -10l-8 -1l-30 11l-11 1l-13 -5l-10 -14l1 -8l6 -6l13 -5l17 1l16 6l11 1l6 -1l16 -11l14 -5zM1235 4448l19 0l8 5l5 6l1 14l-10 11l-9 3l-11 -1l-17 -7l-8 -6l0 -6l5 -8l9 -8l8 -3zM1153 4459l16 -1l6 2l11 7l2 3l-1 3l-7 7l-11 4l-16 -2l-6 -3l-6 -9l1 -4l5 -5l6 -2zM1232 4451l6 -2l11 0l5 2l8 8l1 6l-2 5l-12 8l-11 0l-9 -3l-7 -7l0 -6l2 -5l8 -6zM1153 4461l16 0l7 4l2 3l-1 5l-10 5l-11 0l-7 -2l-4 -3l-1 -5l3 -4l6 -3zM1238 4451l11 0l8 5l2 6l-2 5l-8 5l-6 1l-8 -1l-6 -3l-3 -4l0 -6l3 -4l9 -4zM1153 4464l8 -2l6 1l6 5l0 2l-6 5l-9 1l-8 -3l-2 -3l2 -5l3 -1zM1238 4454l8 -1l5 2l4 4l-1 6l-8 4l-12 -1l-3 -3l-1 -6l2 -3l6 -2zM1156 4467l8 0l1 3l-9 1l0 -4zM1238 4459l5 -2l5 2l1 3l-4 3l-6 0l-3 -3l2 -3z" fill="none" stroke="#9a9a9a" stroke-width="1.7"/>
<rect x="523.1" y="2114.8" width="217.4" height="217.4" fill="none" stroke="#3a96d9" stroke-width="2.6"/>
<line x1="614.6" y1="2115.8" x2="614.6" y2="2331.2" stroke="#111" stroke-width="1.4"/>
<path d="M522.1 2119.1h-5M522.1 2158.3h-5M522.1 2197.4h-5M522.1 2243.1h-5M522.1 2288.7h-5M522.1 2306.1h-5M522.1 2291.1h-2.5M522.1 2293.5h-2.5M522.1 2295.9h-2.5M522.1 2298.3h-2.5M522.1 2300.7h-2.5M522.1 2303.1h-2.5M522.1 2305.5h-2.5M614.4 2333.2v5M675.3 2333.2v5M725.3 2333.2v5M577.5 2333.2v3M579.2 2333.2v3M581.1 2333.2v3M582.9 2333.2v3M584.7 2333.2v3M586.5 2333.2v3" stroke="#111" stroke-width="1.1" fill="none"/>
<text transform="matrix(1 0 0 1.05 728.5 2318.2)" font-size="33" text-anchor="end">44.5</text>
<path transform="scale(0.5)" d="M1752 4399l22 -3l16 1l22 5l12 5l17 11l11 11l7 10l5 12l2 8l0 19l-7 20l-7 11l-20 21l-6 20l-8 12l-19 14l-22 6l-19 1l-22 -4l-20 -10l-11 -11l-5 -10l-1 -18l2 -16l-3 -9l-6 -8l-5 -3l-6 0l-35 12l-11 2l-25 0l-11 -2l-18 -8l-9 -11l-2 -9l4 -13l12 -14l13 -9l17 -7l30 -6l46 4l38 -27l22 -7zM1758 4399l11 -2l21 1l19 4l17 7l11 7l16 16l9 16l3 11l0 17l-7 22l-27 32l-6 20l-7 11l-19 14l-20 6l-24 1l-16 -3l-20 -9l-13 -12l-4 -8l-2 -6l2 -30l-6 -14l-9 -7l-3 -1l-33 12l-30 4l-17 -2l-13 -4l-8 -4l-9 -11l-2 -5l0 -9l5 -11l7 -8l15 -11l22 -9l22 -4l19 0l19 4l11 0l5 -2l16 -14l17 -11l28 -8zM1763 4399l22 -1l14 2l27 10l21 16l10 14l6 17l1 19l-7 22l-26 30l-7 22l-5 8l-8 8l-12 8l-25 7l-22 0l-11 -2l-22 -10l-8 -7l-8 -12l-2 -6l0 -14l3 -13l-1 -6l-5 -10l-8 -9l-10 0l-31 12l-33 3l-14 -2l-11 -4l-11 -7l-5 -7l-2 -11l1 -6l4 -7l13 -14l14 -8l16 -6l19 -4l22 0l25 5l7 -1l36 -27l19 -7l14 -2zM1774 4399l11 0l22 4l22 10l13 10l12 14l5 10l4 15l0 14l-7 21l-8 12l-17 17l-8 24l-5 8l-19 15l-14 5l-25 3l-19 -3l-22 -10l-8 -7l-8 -14l-1 -17l3 -13l-3 -11l-7 -11l-8 -5l-10 2l-28 11l-33 3l-14 -2l-11 -4l-11 -8l-3 -5l-2 -14l5 -12l14 -13l11 -6l12 -5l23 -5l25 0l27 5l9 -5l15 -14l19 -11l14 -5l25 -3zM1758 4402l8 -2l19 0l14 2l19 6l11 6l15 12l9 11l8 20l1 19l-6 19l-8 12l-13 12l-8 11l-9 26l-11 11l-8 5l-22 7l-19 1l-14 -2l-25 -11l-9 -9l-5 -8l-2 -17l3 -19l-6 -14l-10 -11l-9 0l-16 8l-19 6l-33 2l-11 -2l-12 -5l-12 -11l-2 -14l5 -11l11 -11l13 -8l22 -8l24 -3l41 6l6 -2l21 -19l12 -7l18 -7l9 -1zM1763 4402l25 -1l11 2l16 5l14 7l19 17l11 21l2 20l-2 11l-6 14l-26 30l-9 26l-11 12l-8 5l-22 7l-22 1l-25 -7l-10 -6l-9 -9l-7 -16l3 -22l-1 -9l-10 -18l-7 -5l-11 2l-24 11l-22 4l-19 0l-14 -3l-7 -3l-12 -11l-2 -6l2 -15l11 -13l14 -9l18 -7l26 -4l16 1l24 6l6 -1l24 -21l14 -8l16 -6l14 -2zM1777 4402l11 0l19 4l24 12l17 16l8 14l3 10l0 21l-6 16l-7 11l-14 13l-6 9l-7 22l-5 8l-15 12l-22 7l-22 1l-25 -7l-11 -7l-10 -12l-3 -8l-1 -8l3 -14l0 -11l-13 -22l-8 -4l-22 10l-19 6l-11 2l-22 0l-22 -7l-11 -13l-1 -10l5 -11l10 -10l23 -12l21 -5l16 -1l38 7l6 -2l13 -13l22 -15l25 -8l19 -1zM1758 4405l8 -2l22 0l24 6l14 7l11 8l12 13l9 22l0 19l-6 17l-10 14l-16 16l-3 5l-4 17l-4 7l-16 15l-20 7l-24 1l-25 -7l-11 -7l-7 -8l-5 -11l0 -14l3 -11l-1 -9l-11 -20l-8 -6l-9 1l-27 13l-19 4l-19 0l-18 -4l-7 -4l-9 -10l-1 -11l7 -14l11 -9l11 -6l17 -6l19 -3l19 1l27 7l6 -2l25 -23l23 -11l12 -2zM1766 4404l33 2l27 11l12 9l10 12l9 24l-1 19l-7 17l-23 25l-4 7l-4 16l-7 12l-15 11l-22 7l-22 0l-22 -7l-8 -5l-11 -13l-3 -10l3 -22l-2 -13l-10 -17l-7 -7l-11 2l-24 12l-25 5l-16 0l-17 -4l-8 -5l-7 -8l-1 -12l3 -7l13 -14l11 -6l17 -6l19 -3l17 1l29 8l6 -2l21 -21l11 -7l20 -8l16 -3zM1755 4407l11 -2l22 0l11 2l19 7l21 15l7 8l8 17l2 19l-2 11l-6 13l-9 12l-12 10l-4 6l-8 25l-8 10l-13 9l-20 6l-19 0l-25 -7l-11 -8l-7 -10l-3 -11l4 -22l-1 -6l-14 -26l-6 -5l-3 -1l-6 2l-15 9l-13 5l-23 5l-26 -2l-15 -8l-5 -6l-2 -8l1 -6l6 -10l19 -14l28 -8l24 0l27 9l7 -1l20 -20l11 -8l14 -7l14 -4zM1760 4407l33 0l25 8l22 17l8 11l6 16l0 19l-8 20l-23 24l-10 28l-6 8l-8 7l-8 4l-20 5l-16 0l-20 -5l-16 -11l-8 -16l3 -28l-4 -11l-12 -21l-6 -5l-8 1l-19 12l-16 6l-17 3l-20 -1l-10 -3l-8 -5l-7 -9l0 -11l4 -7l9 -9l13 -8l19 -6l27 -1l33 11l6 -2l21 -23l9 -6l16 -8l16 -4zM1771 4407l14 0l16 3l14 5l10 6l7 5l13 15l4 7l4 14l0 14l-5 16l-10 14l-18 18l-7 23l-5 8l-9 8l-11 6l-17 4l-16 0l-17 -4l-16 -10l-7 -9l-3 -11l4 -22l-2 -9l-16 -29l-6 -6l-5 1l-19 13l-11 5l-19 5l-28 -1l-11 -4l-8 -8l-2 -6l2 -12l8 -10l13 -8l28 -8l17 0l16 4l16 9l3 0l6 -2l11 -14l21 -18l25 -10l16 -2zM1758 4410l11 -2l21 1l14 3l14 6l11 7l12 12l7 12l3 10l0 19l-8 20l-23 23l-10 29l-3 4l-8 8l-11 6l-17 4l-16 0l-20 -6l-13 -9l-5 -7l-3 -9l3 -30l-19 -37l-6 -7l-27 20l-19 7l-11 2l-16 0l-9 -2l-14 -7l-4 -6l-1 -8l3 -8l8 -9l11 -7l25 -7l21 0l20 7l13 10l6 -4l13 -18l11 -11l19 -11l17 -5zM1766 4410l13 -1l17 2l19 7l13 8l11 11l7 11l4 14l0 14l-3 11l-6 11l-25 27l-8 25l-4 5l-8 7l-16 7l-22 2l-12 -2l-16 -7l-11 -11l-3 -10l0 -11l3 -16l-2 -7l-12 -20l-5 -12l-2 -13l7 -14l19 -22l17 -10l25 -6zM1629 4445l25 -2l14 3l13 9l3 4l1 6l-9 12l-19 12l-28 6l-19 -3l-13 -8l-3 -6l0 -8l11 -14l8 -5l16 -6zM1758 4413l8 -2l22 0l11 2l19 8l8 5l11 11l8 13l4 15l-1 14l-5 13l-6 9l-19 18l-4 6l-8 25l-7 8l-11 7l-22 5l-14 -1l-11 -3l-11 -6l-8 -8l-4 -11l0 -11l3 -16l-14 -27l-6 -17l0 -8l4 -11l10 -14l11 -11l10 -6l22 -7zM1638 4445l19 0l10 3l9 6l4 5l-1 10l-11 12l-19 9l-17 3l-16 -1l-17 -9l-2 -5l0 -8l2 -5l6 -6l19 -11l14 -3zM1766 4412l27 1l14 4l17 9l14 14l6 11l3 11l0 14l-3 11l-7 11l-25 27l-5 19l-8 12l-9 6l-13 5l-22 1l-22 -8l-10 -10l-3 -9l0 -11l3 -13l-1 -6l-11 -19l-7 -19l-1 -8l4 -14l18 -22l16 -10l25 -7zM1632 4448l22 -1l13 4l7 6l2 5l-3 10l-5 6l-19 10l-14 3l-11 0l-15 -4l-7 -6l-2 -5l2 -10l6 -7l8 -5l16 -6zM1758 4415l13 -2l19 1l15 4l13 6l11 8l7 8l5 8l4 14l0 14l-4 13l-10 14l-17 16l-4 6l-6 20l-5 8l-11 8l-22 6l-14 -1l-11 -4l-8 -4l-8 -8l-3 -8l0 -12l3 -13l-1 -6l-15 -27l-3 -11l0 -14l5 -11l8 -11l12 -11l18 -9l9 -2zM1632 4451l19 -2l11 3l8 7l2 6l-1 3l-3 5l-11 9l-13 5l-23 1l-11 -4l-6 -8l1 -8l5 -7l6 -4l16 -6zM1766 4415l27 1l14 4l11 6l16 14l5 8l4 11l1 14l-7 20l-28 29l-10 28l-9 8l-8 4l-13 3l-11 0l-21 -7l-11 -11l-2 -6l0 -11l3 -16l-3 -8l-12 -19l-4 -14l0 -11l5 -14l12 -15l16 -11l25 -7zM1632 4454l8 -2l17 2l9 8l0 6l-6 8l-11 6l-11 3l-18 -1l-10 -7l-1 -7l7 -9l8 -5l8 -2zM1758 4418l27 -2l11 2l19 8l11 8l11 14l5 17l-1 13l-4 11l-8 12l-20 18l-13 31l-10 8l-17 5l-17 -1l-11 -4l-12 -11l-2 -6l2 -19l-1 -12l-14 -23l-4 -14l1 -15l4 -10l8 -11l14 -11l21 -8zM1629 4459l20 -2l8 5l1 6l-9 9l-20 4l-8 -3l-4 -5l3 -8l9 -6zM1766 4418l27 1l24 10l12 10l6 9l4 11l1 14l-3 12l-8 13l-25 24l-5 16l-7 12l-4 4l-14 6l-16 1l-17 -6l-6 -5l-5 -8l1 -31l-15 -24l-4 -14l0 -11l5 -14l13 -15l19 -11l17 -4zM1760 4421l22 -2l17 3l10 4l20 16l4 6l5 17l-1 14l-10 19l-24 21l-8 20l-7 11l-18 8l-13 0l-8 -2l-10 -6l-4 -6l-2 -5l1 -25l-3 -8l-14 -22l-3 -11l1 -14l3 -8l10 -14l16 -11l16 -5zM1774 4421l11 0l14 3l19 10l14 17l3 8l1 14l-7 19l-11 12l-18 15l-12 25l-11 8l-17 3l-11 -3l-8 -6l-4 -10l0 -22l-5 -11l-13 -19l-3 -16l3 -14l12 -17l17 -11l26 -5zM1766 4423l19 0l11 2l15 7l17 16l4 9l2 13l-5 18l-11 13l-22 18l-11 20l-10 8l-6 2l-11 0l-9 -4l-5 -6l-5 -29l-16 -23l-4 -11l0 -15l4 -10l11 -14l15 -9l17 -5zM1763 4426l22 -1l14 3l8 4l14 11l6 8l4 11l-2 20l-6 10l-5 6l-18 13l-18 21l-11 6l-13 -1l-9 -7l-5 -17l-18 -26l-5 -14l1 -14l8 -15l19 -14l14 -4zM1760 4429l9 -2l16 0l19 6l14 10l6 8l4 11l0 14l-8 16l-40 33l-11 4l-11 -3l-6 -6l-4 -9l-18 -22l-6 -16l1 -14l8 -14l14 -11l13 -5zM1777 4429l22 4l15 10l4 4l6 12l1 17l-7 14l-8 8l-29 19l-12 4l-9 -3l-22 -23l-9 -14l-2 -16l3 -11l4 -6l12 -11l14 -6l17 -2zM1774 4432l19 2l14 7l8 7l6 11l1 14l-4 12l-11 12l-25 14l-16 2l-17 -11l-13 -15l-5 -11l-1 -11l4 -11l10 -12l16 -8l14 -2zM1760 4437l9 -2l23 2l15 8l8 10l3 7l0 14l-6 11l-16 13l-19 7l-12 -1l-13 -7l-14 -15l-4 -11l1 -14l7 -11l7 -6l11 -5zM1766 4440l19 -1l14 5l8 7l5 8l2 11l-3 11l-4 6l-16 11l-12 3l-10 0l-10 -3l-10 -7l-8 -11l-3 -10l3 -15l8 -9l17 -6zM1771 4443l11 0l14 5l8 8l4 9l0 8l-6 11l-9 7l-11 4l-13 0l-9 -3l-7 -5l-8 -11l-3 -11l2 -9l5 -6l17 -7l5 0zM1760 4448l14 -2l16 5l9 11l0 11l-3 5l-8 7l-5 2l-14 0l-9 -5l-11 -11l-3 -6l0 -6l3 -5l11 -6zM1760 4451l6 -2l13 1l9 5l3 7l-1 3l-5 6l-8 3l-8 1l-9 -2l-8 -5l-2 -6l1 -5l9 -6zM1760 4454l6 -2l11 1l6 4l0 8l-9 5l-14 -1l-6 -7l0 -3l6 -5zM1769 4456l5 1l2 5l-3 3l-10 -1l-1 -5l7 -3z" fill="none" stroke="#9a9a9a" stroke-width="1.7"/>
<rect x="760.2" y="2114.8" width="216.8" height="217.4" fill="none" stroke="#e8382c" stroke-width="2.6"/>
<line x1="851.4" y1="2115.8" x2="851.4" y2="2331.2" stroke="#111" stroke-width="1.4"/>
<path d="M759.2 2119.1h-5M759.2 2158.3h-5M759.2 2197.4h-5M759.2 2243.1h-5M759.2 2288.7h-5M759.2 2306.1h-5M759.2 2291.1h-2.5M759.2 2293.5h-2.5M759.2 2295.9h-2.5M759.2 2298.3h-2.5M759.2 2300.7h-2.5M759.2 2303.1h-2.5M759.2 2305.5h-2.5M851.3 2333.2v5M912 2333.2v5M961.8 2333.2v5M814.4 2333.2v3M816.2 2333.2v3M818 2333.2v3M819.8 2333.2v3M821.6 2333.2v3M823.4 2333.2v3" stroke="#111" stroke-width="1.1" fill="none"/>
<text transform="matrix(1 0 0 1.05 965 2318.2)" font-size="33" text-anchor="end">80.0</text>
<path d="M19.5,2359.4 L19.5,2268" stroke="#111" stroke-width="1.6"/><path d="M19.5,2258.6 L14.7,2270 L24.3,2270 Z" fill="#111"/>
<path d="M19.5,2359.4 L134,2359.4" stroke="#111" stroke-width="1.6"/><path d="M144.5,2359.4 L132.5,2354.7 L132.5,2364.1 Z" fill="#111"/>
<text transform="translate(30.5 2216.8) rotate(-90)" font-size="33.5" text-anchor="middle">SSC</text>
<text transform="matrix(1 0 0 1.05 197.3 2373.8)" font-size="33.5" text-anchor="middle">CD80</text>
<rect x="66.1" y="2412" width="48.3" height="7.6" fill="#7a7a7a"/>
<text transform="matrix(1 0 0 1.05 121.4 2427)" font-size="40.5">Control</text>
<rect x="333.4" y="2412" width="48.3" height="7.6" fill="#68cbb4"/>
<text transform="matrix(1 0 0 1.05 390.8 2427)" font-size="40.5">Van</text>
<rect x="565.2" y="2412" width="48.3" height="7.6" fill="#3a96d9"/>
<text transform="matrix(1 0 0 1.05 619.5 2427)" font-size="40.5">MPS1</text>
<rect x="799.7" y="2412" width="48.3" height="7.6" fill="#e23d30"/>
<text transform="matrix(1 0 0 1.05 852.7 2427)" font-size="40.5">MPS2</text><g clip-path="url(#hc0)"><rect x="13.5" y="1475.5" width="238.8" height="238.6" fill="#f5e3f1"/><rect x="13.5" y="1475.5" width="238.8" height="238.6" fill="#000" filter="url(#fib)" opacity="0.5"/><g filter="url(#b6)"><ellipse cx="170.7" cy="1658.1" rx="12" ry="13.6" transform="rotate(76.2 170.7 1658.1)" fill="#ffffff" opacity="0.9"/><ellipse cx="223.5" cy="1567.7" rx="17.7" ry="6.2" transform="rotate(135.6 223.5 1567.7)" fill="#ffffff" opacity="0.9"/><ellipse cx="175.1" cy="1554.4" rx="21" ry="8.4" transform="rotate(24.1 175.1 1554.4)" fill="#ffffff" opacity="0.9"/><ellipse cx="152.5" cy="1533.3" rx="13.7" ry="12" transform="rotate(50.5 152.5 1533.3)" fill="#ffffff" opacity="0.9"/><ellipse cx="166.2" cy="1663.2" rx="23.5" ry="11.8" transform="rotate(49.8 166.2 1663.2)" fill="#ffffff" opacity="0.9"/><ellipse cx="112" cy="1661.4" rx="17.2" ry="6.9" transform="rotate(112.2 112 1661.4)" fill="#fdf6fb" opacity="0.9"/><ellipse cx="215" cy="1601.7" rx="22.8" ry="6.3" transform="rotate(82.7 215 1601.7)" fill="#fdf6fb" opacity="0.9"/><ellipse cx="95.6" cy="1606.5" rx="21.9" ry="10.7" transform="rotate(46.8 95.6 1606.5)" fill="#fdf6fb" opacity="0.9"/><ellipse cx="225.5" cy="1584.5" rx="17.2" ry="12" transform="rotate(147.5 225.5 1584.5)" fill="#ffffff" opacity="0.9"/><ellipse cx="199.4" cy="1630.8" rx="12.7" ry="12.4" transform="rotate(34.4 199.4 1630.8)" fill="#ffffff" opacity="0.9"/><ellipse cx="98.8" cy="1642.2" rx="22.1" ry="13" transform="rotate(49.3 98.8 1642.2)" fill="#ffffff" opacity="0.9"/><ellipse cx="86.3" cy="1607.2" rx="20.1" ry="12.7" transform="rotate(50.7 86.3 1607.2)" fill="#ffffff" opacity="0.9"/><ellipse cx="121.1" cy="1606.1" rx="21.3" ry="13.7" transform="rotate(86.8 121.1 1606.1)" fill="#fdf6fb" opacity="0.9"/><ellipse cx="234.7" cy="1570" rx="18.3" ry="6.2" transform="rotate(121.2 234.7 1570)" fill="#ffffff" opacity="0.9"/><ellipse cx="238.8" cy="1637.5" rx="22.4" ry="11.3" transform="rotate(138.3 238.8 1637.5)" fill="#ffffff" opacity="0.9"/><ellipse cx="120.5" cy="1638.2" rx="10.9" ry="12.6" transform="rotate(29.6 120.5 1638.2)" fill="#ffffff" opacity="0.9"/></g><g filter="url(#b3)"><ellipse cx="100.6" cy="1547.4" rx="16.3" ry="4.9" transform="rotate(1 100.6 1547.4)" fill="#c6a5dc" opacity="0.7"/><ellipse cx="71.4" cy="1574.4" rx="9.3" ry="7.2" transform="rotate(68.5 71.4 1574.4)" fill="#c6a5dc" opacity="0.7"/><ellipse cx="191.2" cy="1634.6" rx="13.2" ry="8.3" transform="rotate(145.8 191.2 1634.6)" fill="#d2b3e2" opacity="0.7"/><ellipse cx="92" cy="1606.1" rx="10.4" ry="9" transform="rotate(43.8 92 1606.1)" fill="#c6a5dc" opacity="0.7"/><ellipse cx="70" cy="1484.4" rx="11.1" ry="7.8" transform="rotate(23.2 70 1484.4)" fill="#d2b3e2" opacity="0.7"/><ellipse cx="100.9" cy="1574.4" rx="16" ry="6.3" transform="rotate(105.6 100.9 1574.4)" fill="#dcc2e8" opacity="0.7"/><ellipse cx="220.8" cy="1653.4" rx="12.4" ry="6.2" transform="rotate(19.8 220.8 1653.4)" fill="#c6a5dc" opacity="0.7"/><ellipse cx="56.1" cy="1538.9" rx="11.8" ry="5.6" transform="rotate(103.8 56.1 1538.9)" fill="#c6a5dc" opacity="0.7"/><ellipse cx="255" cy="1665.8" rx="17.5" ry="7.8" transform="rotate(165.2 255 1665.8)" fill="#dcc2e8" opacity="0.7"/><ellipse cx="182" cy="1594.9" rx="8.9" ry="6.4" transform="rotate(38.3 182 1594.9)" fill="#c6a5dc" opacity="0.7"/><ellipse cx="37.8" cy="1596.4" rx="17.4" ry="5.5" transform="rotate(94.6 37.8 1596.4)" fill="#dcc2e8" opacity="0.7"/><ellipse cx="42.1" cy="1715" rx="12.8" ry="5.5" transform="rotate(152.5 42.1 1715)" fill="#dcc2e8" opacity="0.7"/><ellipse cx="35.7" cy="1655.2" rx="10.3" ry="6" transform="rotate(151.4 35.7 1655.2)" fill="#dcc2e8" opacity="0.7"/><ellipse cx="104.5" cy="1717.6" rx="15.5" ry="7.5" transform="rotate(93.9 104.5 1717.6)" fill="#d2b3e2" opacity="0.7"/><ellipse cx="83.5" cy="1567.8" rx="19.3" ry="5" transform="rotate(136.5 83.5 1567.8)" fill="#d2b3e2" opacity="0.7"/><ellipse cx="96.6" cy="1631.4" rx="12.6" ry="5.9" transform="rotate(90.7 96.6 1631.4)" fill="#dcc2e8" opacity="0.7"/><ellipse cx="7.8" cy="1593.1" rx="19.7" ry="5.4" transform="rotate(79.7 7.8 1593.1)" fill="#c6a5dc" opacity="0.7"/><ellipse cx="57.7" cy="1699.5" rx="8.2" ry="5.5" transform="rotate(179.8 57.7 1699.5)" fill="#dcc2e8" opacity="0.7"/><ellipse cx="71.3" cy="1685.1" rx="15.3" ry="8" transform="rotate(65.3 71.3 1685.1)" fill="#dcc2e8" opacity="0.7"/><ellipse cx="200.4" cy="1472.3" rx="13.4" ry="5.9" transform="rotate(85.9 200.4 1472.3)" fill="#c6a5dc" opacity="0.7"/><ellipse cx="36.5" cy="1523" rx="14.7" ry="5.9" transform="rotate(108.9 36.5 1523)" fill="#dcc2e8" opacity="0.7"/><ellipse cx="226.4" cy="1654.9" rx="15.2" ry="5.4" transform="rotate(140.9 226.4 1654.9)" fill="#dcc2e8" opacity="0.7"/></g><ellipse cx="73.5" cy="1493.4" rx="8.9" ry="5.4" transform="rotate(95.3 73.5 1493.4)" fill="#9b7cc9"/><ellipse cx="159.5" cy="1483.6" rx="5.7" ry="3.7" transform="rotate(102.7 159.5 1483.6)" fill="#b59ad8"/><ellipse cx="51.4" cy="1702.7" rx="5.6" ry="3.4" transform="rotate(129.1 51.4 1702.7)" fill="#b59ad8"/><ellipse cx="79.5" cy="1507.5" rx="5.2" ry="2.6" transform="rotate(34.5 79.5 1507.5)" fill="#a88ad2"/><ellipse cx="141.7" cy="1583.1" rx="8.8" ry="6.5" transform="rotate(120.9 141.7 1583.1)" fill="#a88ad2"/><ellipse cx="215.3" cy="1699.5" rx="5.1" ry="2.5" transform="rotate(64.8 215.3 1699.5)" fill="#b59ad8"/><ellipse cx="35.8" cy="1618.5" rx="6" ry="3.2" transform="rotate(17.6 35.8 1618.5)" fill="#b59ad8"/><ellipse cx="190.4" cy="1630.8" rx="7.4" ry="3.4" transform="rotate(77.3 190.4 1630.8)" fill="#a88ad2"/><ellipse cx="177.1" cy="1512.8" rx="6.5" ry="3" transform="rotate(39 177.1 1512.8)" fill="#9b7cc9"/><ellipse cx="112.5" cy="1586" rx="8.5" ry="4.7" transform="rotate(3.9 112.5 1586)" fill="#a88ad2"/><ellipse cx="210.8" cy="1490.3" rx="5.4" ry="4" transform="rotate(60.8 210.8 1490.3)" fill="#b59ad8"/><ellipse cx="45.1" cy="1567.8" rx="6.4" ry="4.5" transform="rotate(75.4 45.1 1567.8)" fill="#b59ad8"/><ellipse cx="33.1" cy="1696.6" rx="7.5" ry="3.6" transform="rotate(83.9 33.1 1696.6)" fill="#a88ad2"/><ellipse cx="35.5" cy="1626.2" rx="7.5" ry="3.4" transform="rotate(145.3 35.5 1626.2)" fill="#a88ad2"/><ellipse cx="201.4" cy="1693.9" rx="7.7" ry="5.1" transform="rotate(4.3 201.4 1693.9)" fill="#b59ad8"/><ellipse cx="29.2" cy="1705.6" rx="7.6" ry="5.6" transform="rotate(62.9 29.2 1705.6)" fill="#a88ad2"/><ellipse cx="193.8" cy="1491.1" rx="5.7" ry="3" transform="rotate(100.3 193.8 1491.1)" fill="#9b7cc9"/><ellipse cx="132.7" cy="1576.8" rx="7.3" ry="5.4" transform="rotate(82.5 132.7 1576.8)" fill="#9b7cc9"/><ellipse cx="213.5" cy="1488.8" rx="6.5" ry="4" transform="rotate(45 213.5 1488.8)" fill="#9b7cc9"/><ellipse cx="108.9" cy="1701.5" rx="7.6" ry="4.8" transform="rotate(11.8 108.9 1701.5)" fill="#9b7cc9"/><ellipse cx="26" cy="1525.9" rx="5.6" ry="4.1" transform="rotate(65.9 26 1525.9)" fill="#a88ad2"/><ellipse cx="27.5" cy="1628.2" rx="5.2" ry="2.4" transform="rotate(14.4 27.5 1628.2)" fill="#a88ad2"/><ellipse cx="78.4" cy="1613" rx="8.2" ry="4.4" transform="rotate(148.4 78.4 1613)" fill="#a88ad2"/><ellipse cx="191.6" cy="1505.8" rx="8.2" ry="5.8" transform="rotate(32 191.6 1505.8)" fill="#a88ad2"/><ellipse cx="163.2" cy="1522.4" rx="6" ry="3.6" transform="rotate(86.2 163.2 1522.4)" fill="#9b7cc9"/><ellipse cx="142.7" cy="1526.4" rx="8.1" ry="4.3" transform="rotate(164.3 142.7 1526.4)" fill="#9b7cc9"/><ellipse cx="136.5" cy="1548" rx="5.7" ry="3.4" transform="rotate(112.2 136.5 1548)" fill="#b59ad8"/><ellipse cx="132.5" cy="1484.3" rx="8.3" ry="3.9" transform="rotate(149 132.5 1484.3)" fill="#9b7cc9"/><ellipse cx="207.6" cy="1696" rx="7.7" ry="3.8" transform="rotate(79.1 207.6 1696)" fill="#9b7cc9"/><ellipse cx="164.5" cy="1566.4" rx="7.7" ry="3.9" transform="rotate(63.6 164.5 1566.4)" fill="#9b7cc9"/><ellipse cx="143.2" cy="1577.5" rx="5.5" ry="4.1" transform="rotate(149.9 143.2 1577.5)" fill="#a88ad2"/><ellipse cx="98.9" cy="1701" rx="8.2" ry="6.1" transform="rotate(35.5 98.9 1701)" fill="#b59ad8"/><ellipse cx="127.4" cy="1567.6" rx="7.5" ry="3.9" transform="rotate(85.8 127.4 1567.6)" fill="#9b7cc9"/><ellipse cx="166.2" cy="1567.1" rx="8.9" ry="5.1" transform="rotate(54 166.2 1567.1)" fill="#a88ad2"/><ellipse cx="207.9" cy="1586.9" rx="4" ry="3.1" transform="rotate(173.1 207.9 1586.9)" fill="#7b4fb6"/><ellipse cx="167.8" cy="1542" rx="4.7" ry="3.6" transform="rotate(58 167.8 1542)" fill="#7046ad"/><ellipse cx="142.9" cy="1571.2" rx="4.1" ry="4.1" transform="rotate(110.5 142.9 1571.2)" fill="#7046ad"/><ellipse cx="22.7" cy="1497.4" rx="3.9" ry="3.8" transform="rotate(130.8 22.7 1497.4)" fill="#7b4fb6"/><ellipse cx="220.8" cy="1487.3" rx="4.7" ry="3.9" transform="rotate(127.5 220.8 1487.3)" fill="#8560c0"/><ellipse cx="87.1" cy="1598" rx="3.9" ry="3.2" transform="rotate(96 87.1 1598)" fill="#8560c0"/><ellipse cx="51.2" cy="1541.4" rx="4.2" ry="3.5" transform="rotate(115.7 51.2 1541.4)" fill="#6a3fa8"/><ellipse cx="147.8" cy="1683.1" rx="3.8" ry="2.8" transform="rotate(70.9 147.8 1683.1)" fill="#7046ad"/><ellipse cx="46.3" cy="1608.2" rx="4.5" ry="3.3" transform="rotate(100.2 46.3 1608.2)" fill="#6a3fa8"/><ellipse cx="114.6" cy="1694.4" rx="5" ry="3.8" transform="rotate(30 114.6 1694.4)" fill="#5c3497"/><ellipse cx="232.1" cy="1513" rx="4.8" ry="3.8" transform="rotate(99.7 232.1 1513)" fill="#8560c0"/><ellipse cx="234.6" cy="1476" rx="3.8" ry="3.5" transform="rotate(71 234.6 1476)" fill="#6a3fa8"/><ellipse cx="82.2" cy="1705.2" rx="3.9" ry="3.6" transform="rotate(137.3 82.2 1705.2)" fill="#5c3497"/><ellipse cx="182.9" cy="1648.1" rx="4.9" ry="3.8" transform="rotate(112.8 182.9 1648.1)" fill="#7046ad"/><ellipse cx="205.2" cy="1687.4" rx="5" ry="4.9" transform="rotate(67.8 205.2 1687.4)" fill="#5c3497"/><ellipse cx="122.5" cy="1688.3" rx="4.2" ry="3.3" transform="rotate(3.6 122.5 1688.3)" fill="#7b4fb6"/><ellipse cx="82.5" cy="1661.8" rx="3.5" ry="2.6" transform="rotate(95.8 82.5 1661.8)" fill="#5c3497"/><ellipse cx="100.2" cy="1686.1" rx="3.9" ry="3.3" transform="rotate(140 100.2 1686.1)" fill="#6a3fa8"/><ellipse cx="235.5" cy="1683.9" rx="3.7" ry="3.5" transform="rotate(75.9 235.5 1683.9)" fill="#7046ad"/><ellipse cx="19.6" cy="1515.6" rx="4.8" ry="3.5" transform="rotate(56.3 19.6 1515.6)" fill="#5c3497"/><ellipse cx="74.4" cy="1653.5" rx="4.1" ry="3" transform="rotate(58.8 74.4 1653.5)" fill="#6a3fa8"/><ellipse cx="184.7" cy="1551.9" rx="4.7" ry="4" transform="rotate(159.8 184.7 1551.9)" fill="#6a3fa8"/><ellipse cx="188.6" cy="1572.8" rx="4.3" ry="3.6" transform="rotate(24.8 188.6 1572.8)" fill="#7b4fb6"/><ellipse cx="114.8" cy="1603.1" rx="4.2" ry="3.7" transform="rotate(89.8 114.8 1603.1)" fill="#7046ad"/><ellipse cx="112.3" cy="1639.4" rx="4.1" ry="3.6" transform="rotate(23.5 112.3 1639.4)" fill="#7b4fb6"/><ellipse cx="91.5" cy="1700.9" rx="5.1" ry="5.1" transform="rotate(7.7 91.5 1700.9)" fill="#5c3497"/><ellipse cx="210.9" cy="1698.7" rx="5" ry="4.6" transform="rotate(129.5 210.9 1698.7)" fill="#6a3fa8"/><ellipse cx="150.8" cy="1663.6" rx="4.4" ry="3.3" transform="rotate(17 150.8 1663.6)" fill="#5c3497"/><ellipse cx="230.4" cy="1655.6" rx="3.8" ry="3.6" transform="rotate(114.4 230.4 1655.6)" fill="#6a3fa8"/><ellipse cx="98.5" cy="1526.6" rx="3.8" ry="2.7" transform="rotate(13.4 98.5 1526.6)" fill="#6a3fa8"/><ellipse cx="30" cy="1497" rx="4.9" ry="4.2" transform="rotate(94.5 30 1497)" fill="#6a3fa8"/><ellipse cx="143.1" cy="1594" rx="3.9" ry="3.2" transform="rotate(156.8 143.1 1594)" fill="#7b4fb6"/><ellipse cx="105.1" cy="1595.8" rx="5.1" ry="3.9" transform="rotate(87.1 105.1 1595.8)" fill="#7046ad"/><ellipse cx="201.5" cy="1561.3" rx="4.4" ry="3.6" transform="rotate(155.9 201.5 1561.3)" fill="#5c3497"/><ellipse cx="232" cy="1626.3" rx="5.2" ry="4.8" transform="rotate(161 232 1626.3)" fill="#5c3497"/><ellipse cx="78.4" cy="1710.9" rx="4.2" ry="3.5" transform="rotate(32.5 78.4 1710.9)" fill="#7046ad"/><ellipse cx="209.7" cy="1555.9" rx="4.7" ry="3.6" transform="rotate(69.2 209.7 1555.9)" fill="#7b4fb6"/><ellipse cx="70" cy="1483.9" rx="4.8" ry="4.7" transform="rotate(40.7 70 1483.9)" fill="#6a3fa8"/><ellipse cx="52.3" cy="1558.4" rx="3.6" ry="3.3" transform="rotate(101.2 52.3 1558.4)" fill="#7046ad"/><ellipse cx="229.8" cy="1681.1" rx="5.1" ry="5" transform="rotate(106.2 229.8 1681.1)" fill="#6a3fa8"/><ellipse cx="133.4" cy="1484.5" rx="3.7" ry="3.1" transform="rotate(77.9 133.4 1484.5)" fill="#8560c0"/><ellipse cx="14.4" cy="1526.2" rx="4.8" ry="3.6" transform="rotate(35.9 14.4 1526.2)" fill="#7046ad"/><ellipse cx="81.7" cy="1620.9" rx="4.9" ry="3.8" transform="rotate(95.4 81.7 1620.9)" fill="#7046ad"/><ellipse cx="119.7" cy="1614" rx="4.9" ry="3.7" transform="rotate(89.5 119.7 1614)" fill="#8560c0"/><ellipse cx="36.9" cy="1598" rx="4.8" ry="4.8" transform="rotate(53.4 36.9 1598)" fill="#6a3fa8"/><ellipse cx="151.9" cy="1564.2" rx="3.7" ry="3.2" transform="rotate(143.8 151.9 1564.2)" fill="#8560c0"/><ellipse cx="226.3" cy="1708.9" rx="4.1" ry="3.2" transform="rotate(78.5 226.3 1708.9)" fill="#7b4fb6"/><ellipse cx="206.2" cy="1531.5" rx="4.9" ry="4.5" transform="rotate(36.2 206.2 1531.5)" fill="#7b4fb6"/><ellipse cx="164.4" cy="1671.1" rx="5.1" ry="3.8" transform="rotate(139.7 164.4 1671.1)" fill="#8560c0"/><ellipse cx="71.7" cy="1545.8" rx="5.1" ry="4.1" transform="rotate(52 71.7 1545.8)" fill="#7046ad"/><ellipse cx="185.4" cy="1507.2" rx="4.3" ry="3.5" transform="rotate(108.6 185.4 1507.2)" fill="#8560c0"/><ellipse cx="166.4" cy="1578.7" rx="5" ry="4.8" transform="rotate(168 166.4 1578.7)" fill="#8560c0"/><ellipse cx="120" cy="1649.7" rx="4.2" ry="3.3" transform="rotate(170.3 120 1649.7)" fill="#7b4fb6"/><ellipse cx="205.6" cy="1543.5" rx="3.9" ry="3.6" transform="rotate(126.9 205.6 1543.5)" fill="#5c3497"/><ellipse cx="219.7" cy="1510.4" rx="5" ry="4.1" transform="rotate(61.8 219.7 1510.4)" fill="#6a3fa8"/><ellipse cx="250.7" cy="1703.6" rx="3.6" ry="2.9" transform="rotate(129.5 250.7 1703.6)" fill="#6a3fa8"/><ellipse cx="21.9" cy="1484.1" rx="3.6" ry="3.4" transform="rotate(57.4 21.9 1484.1)" fill="#7046ad"/><ellipse cx="203" cy="1551.5" rx="4.8" ry="3.9" transform="rotate(53.6 203 1551.5)" fill="#6a3fa8"/><ellipse cx="106" cy="1515.6" rx="3.6" ry="3.5" transform="rotate(82.9 106 1515.6)" fill="#8560c0"/><ellipse cx="177.9" cy="1681.3" rx="4.2" ry="3.8" transform="rotate(135.9 177.9 1681.3)" fill="#7046ad"/><ellipse cx="32.1" cy="1508.5" rx="4.8" ry="4.4" transform="rotate(148.8 32.1 1508.5)" fill="#7b4fb6"/><ellipse cx="204.8" cy="1554.9" rx="4.1" ry="3" transform="rotate(80.2 204.8 1554.9)" fill="#7b4fb6"/><ellipse cx="39.7" cy="1605.2" rx="4.6" ry="4" transform="rotate(111.9 39.7 1605.2)" fill="#5c3497"/><ellipse cx="193.1" cy="1509.3" rx="4.5" ry="4.3" transform="rotate(34.9 193.1 1509.3)" fill="#7b4fb6"/><ellipse cx="231.6" cy="1707.4" rx="4.7" ry="4.5" transform="rotate(119.7 231.6 1707.4)" fill="#6a3fa8"/><ellipse cx="234.7" cy="1486.2" rx="4.9" ry="3.8" transform="rotate(144.2 234.7 1486.2)" fill="#6a3fa8"/><ellipse cx="166.9" cy="1666.7" rx="4.2" ry="3.5" transform="rotate(12.8 166.9 1666.7)" fill="#6a3fa8"/><ellipse cx="50.8" cy="1707.6" rx="5.1" ry="3.8" transform="rotate(175.2 50.8 1707.6)" fill="#7046ad"/><ellipse cx="76.9" cy="1688.4" rx="5" ry="3.6" transform="rotate(58.9 76.9 1688.4)" fill="#8560c0"/><ellipse cx="235.9" cy="1664.3" rx="4.2" ry="4" transform="rotate(55.4 235.9 1664.3)" fill="#7b4fb6"/><ellipse cx="96.5" cy="1520.9" rx="5.1" ry="4.8" transform="rotate(47.6 96.5 1520.9)" fill="#7b4fb6"/><ellipse cx="244.2" cy="1570.2" rx="3.9" ry="3.2" transform="rotate(129.4 244.2 1570.2)" fill="#8560c0"/><ellipse cx="197.5" cy="1501.5" rx="5.1" ry="4.6" transform="rotate(150.7 197.5 1501.5)" fill="#6a3fa8"/><ellipse cx="245.6" cy="1675.4" rx="3.5" ry="3" transform="rotate(106.1 245.6 1675.4)" fill="#7b4fb6"/><ellipse cx="225.6" cy="1595.5" rx="3.6" ry="3.6" transform="rotate(87.5 225.6 1595.5)" fill="#7b4fb6"/><ellipse cx="26.3" cy="1675.7" rx="4.8" ry="4.7" transform="rotate(1.3 26.3 1675.7)" fill="#7046ad"/><ellipse cx="117.5" cy="1543.2" rx="3.7" ry="3.4" transform="rotate(7 117.5 1543.2)" fill="#5c3497"/><ellipse cx="45.4" cy="1667.8" rx="4.5" ry="3.5" transform="rotate(125.3 45.4 1667.8)" fill="#6a3fa8"/><ellipse cx="44.6" cy="1636.1" rx="4.6" ry="3.2" transform="rotate(130.7 44.6 1636.1)" fill="#7b4fb6"/><ellipse cx="194.6" cy="1643.9" rx="5" ry="4.6" transform="rotate(166 194.6 1643.9)" fill="#8560c0"/><ellipse cx="112.6" cy="1483.7" rx="3.8" ry="3" transform="rotate(19.5 112.6 1483.7)" fill="#8560c0"/><ellipse cx="137.4" cy="1535.7" rx="4" ry="3.7" transform="rotate(153.8 137.4 1535.7)" fill="#7b4fb6"/><ellipse cx="219.4" cy="1563.9" rx="4.7" ry="4.5" transform="rotate(36.1 219.4 1563.9)" fill="#5c3497"/><ellipse cx="168.2" cy="1538.9" rx="3.8" ry="3.1" transform="rotate(2.9 168.2 1538.9)" fill="#7b4fb6"/><ellipse cx="118.2" cy="1486.8" rx="3.9" ry="3" transform="rotate(22.6 118.2 1486.8)" fill="#6a3fa8"/><ellipse cx="126" cy="1639.6" rx="4.1" ry="4" transform="rotate(154.8 126 1639.6)" fill="#6a3fa8"/><ellipse cx="86.6" cy="1484.8" rx="4.8" ry="3.7" transform="rotate(104.3 86.6 1484.8)" fill="#6a3fa8"/><ellipse cx="252" cy="1547" rx="4.3" ry="3.8" transform="rotate(123 252 1547)" fill="#6a3fa8"/><ellipse cx="64.2" cy="1617.5" rx="4.4" ry="4" transform="rotate(22.7 64.2 1617.5)" fill="#7046ad"/><ellipse cx="246.5" cy="1671.5" rx="4.9" ry="4.8" transform="rotate(172.9 246.5 1671.5)" fill="#7b4fb6"/><ellipse cx="107.5" cy="1655.4" rx="4.6" ry="4" transform="rotate(57.5 107.5 1655.4)" fill="#7046ad"/><ellipse cx="219.4" cy="1572.6" rx="3.8" ry="2.6" transform="rotate(115.1 219.4 1572.6)" fill="#5c3497"/><ellipse cx="68.8" cy="1703.6" rx="3.8" ry="3" transform="rotate(93.6 68.8 1703.6)" fill="#8560c0"/><ellipse cx="233.7" cy="1662" rx="3.7" ry="2.8" transform="rotate(69.7 233.7 1662)" fill="#7046ad"/><ellipse cx="223.9" cy="1555.2" rx="4.3" ry="3.6" transform="rotate(141.6 223.9 1555.2)" fill="#8560c0"/><ellipse cx="26.6" cy="1529.4" rx="4.9" ry="4.3" transform="rotate(92.1 26.6 1529.4)" fill="#6a3fa8"/><ellipse cx="101.7" cy="1506.6" rx="4.3" ry="4.3" transform="rotate(103.8 101.7 1506.6)" fill="#6a3fa8"/><ellipse cx="249.9" cy="1686.8" rx="5.2" ry="5.1" transform="rotate(120.1 249.9 1686.8)" fill="#8560c0"/><ellipse cx="86.4" cy="1625.4" rx="4.1" ry="3.9" transform="rotate(83.3 86.4 1625.4)" fill="#7b4fb6"/><ellipse cx="214.3" cy="1583.9" rx="4.5" ry="3.3" transform="rotate(51.3 214.3 1583.9)" fill="#7b4fb6"/><ellipse cx="241.4" cy="1632.2" rx="4.1" ry="3.5" transform="rotate(141.7 241.4 1632.2)" fill="#5c3497"/><ellipse cx="211.2" cy="1544.6" rx="3.9" ry="3.5" transform="rotate(94.9 211.2 1544.6)" fill="#5c3497"/><ellipse cx="148.4" cy="1526.7" rx="4" ry="3.7" transform="rotate(136.3 148.4 1526.7)" fill="#7b4fb6"/><ellipse cx="24.6" cy="1702.4" rx="3.9" ry="3.3" transform="rotate(165.8 24.6 1702.4)" fill="#6a3fa8"/><ellipse cx="74" cy="1529.8" rx="5.2" ry="5" transform="rotate(11 74 1529.8)" fill="#8560c0"/><ellipse cx="157.9" cy="1535.5" rx="3.9" ry="3.8" transform="rotate(111.5 157.9 1535.5)" fill="#8560c0"/><ellipse cx="119.5" cy="1490.5" rx="4.1" ry="4" transform="rotate(58.1 119.5 1490.5)" fill="#7b4fb6"/><ellipse cx="158.4" cy="1535.7" rx="4.4" ry="4.1" transform="rotate(51.6 158.4 1535.7)" fill="#6a3fa8"/><ellipse cx="126.4" cy="1613" rx="4.1" ry="3.2" transform="rotate(101.8 126.4 1613)" fill="#8560c0"/><ellipse cx="237.4" cy="1480" rx="5" ry="4.9" transform="rotate(97.6 237.4 1480)" fill="#7b4fb6"/><ellipse cx="244.6" cy="1643.7" rx="4.4" ry="3.7" transform="rotate(122.8 244.6 1643.7)" fill="#5c3497"/><ellipse cx="69.5" cy="1646.2" rx="4.3" ry="3.9" transform="rotate(169.4 69.5 1646.2)" fill="#8560c0"/><ellipse cx="69.2" cy="1571.7" rx="4" ry="2.8" transform="rotate(113.1 69.2 1571.7)" fill="#8560c0"/><ellipse cx="252.2" cy="1618.9" rx="4.2" ry="4" transform="rotate(2.8 252.2 1618.9)" fill="#5c3497"/><ellipse cx="85.8" cy="1654.9" rx="3.8" ry="3.1" transform="rotate(62 85.8 1654.9)" fill="#6a3fa8"/><ellipse cx="71.5" cy="1688" rx="3.6" ry="3.5" transform="rotate(56.8 71.5 1688)" fill="#7046ad"/><ellipse cx="63.1" cy="1591.9" rx="4.3" ry="4.3" transform="rotate(82.8 63.1 1591.9)" fill="#5c3497"/><ellipse cx="147.1" cy="1551.5" rx="5.2" ry="4.2" transform="rotate(159.4 147.1 1551.5)" fill="#5c3497"/><ellipse cx="170.2" cy="1694.1" rx="4.1" ry="3.4" transform="rotate(148.9 170.2 1694.1)" fill="#7b4fb6"/><ellipse cx="241.1" cy="1672.2" rx="4.3" ry="4" transform="rotate(131.4 241.1 1672.2)" fill="#6a3fa8"/><ellipse cx="137.5" cy="1519.3" rx="3.9" ry="3.6" transform="rotate(100.9 137.5 1519.3)" fill="#6a3fa8"/><ellipse cx="205.5" cy="1631.5" rx="4.5" ry="3.5" transform="rotate(21.6 205.5 1631.5)" fill="#7b4fb6"/><ellipse cx="21.6" cy="1486.6" rx="3.9" ry="3.4" transform="rotate(36.7 21.6 1486.6)" fill="#5c3497"/><ellipse cx="85.8" cy="1585.6" rx="4.9" ry="4.4" transform="rotate(7.4 85.8 1585.6)" fill="#8560c0"/><ellipse cx="128.5" cy="1519.9" rx="5" ry="4.8" transform="rotate(132.6 128.5 1519.9)" fill="#8560c0"/><ellipse cx="111.9" cy="1694.4" rx="3.9" ry="3" transform="rotate(134.3 111.9 1694.4)" fill="#8560c0"/><ellipse cx="150.9" cy="1631.4" rx="4.4" ry="3.8" transform="rotate(135 150.9 1631.4)" fill="#5c3497"/><ellipse cx="32.4" cy="1646.6" rx="4.1" ry="4.1" transform="rotate(123.2 32.4 1646.6)" fill="#6a3fa8"/><ellipse cx="115.4" cy="1714.1" rx="3.8" ry="3.4" transform="rotate(29.2 115.4 1714.1)" fill="#6a3fa8"/><ellipse cx="113.2" cy="1695.4" rx="4.5" ry="3.9" transform="rotate(142.3 113.2 1695.4)" fill="#7b4fb6"/><ellipse cx="150.5" cy="1706.1" rx="4.7" ry="3.9" transform="rotate(42.1 150.5 1706.1)" fill="#7b4fb6"/><ellipse cx="143" cy="1636.8" rx="5" ry="3.9" transform="rotate(47.5 143 1636.8)" fill="#5c3497"/><ellipse cx="61.7" cy="1658.8" rx="3.8" ry="3" transform="rotate(167.6 61.7 1658.8)" fill="#7b4fb6"/><ellipse cx="35.8" cy="1654.1" rx="4.1" ry="3.9" transform="rotate(118.9 35.8 1654.1)" fill="#7046ad"/><ellipse cx="72" cy="1691.4" rx="4.4" ry="3.4" transform="rotate(83.8 72 1691.4)" fill="#7b4fb6"/><ellipse cx="140.6" cy="1678.2" rx="3.7" ry="3.5" transform="rotate(104.6 140.6 1678.2)" fill="#5c3497"/><ellipse cx="91.1" cy="1651.8" rx="4.5" ry="3.2" transform="rotate(168.4 91.1 1651.8)" fill="#8560c0"/><ellipse cx="42.9" cy="1621.4" rx="4.1" ry="3.5" transform="rotate(67.8 42.9 1621.4)" fill="#8560c0"/><ellipse cx="82.8" cy="1679.2" rx="4.7" ry="3.4" transform="rotate(111.5 82.8 1679.2)" fill="#7046ad"/><ellipse cx="16.5" cy="1708.6" rx="4.5" ry="3.8" transform="rotate(80.7 16.5 1708.6)" fill="#6a3fa8"/><ellipse cx="34.6" cy="1613.8" rx="4.5" ry="4.4" transform="rotate(3.9 34.6 1613.8)" fill="#7046ad"/><ellipse cx="19.1" cy="1661.8" rx="4.4" ry="3.8" transform="rotate(157.7 19.1 1661.8)" fill="#5c3497"/><ellipse cx="142.1" cy="1713" rx="4" ry="3.4" transform="rotate(126.1 142.1 1713)" fill="#8560c0"/><ellipse cx="21.7" cy="1704.4" rx="4.4" ry="3.4" transform="rotate(62.6 21.7 1704.4)" fill="#7046ad"/><ellipse cx="96.3" cy="1676.8" rx="4.1" ry="3.8" transform="rotate(175.5 96.3 1676.8)" fill="#8560c0"/><ellipse cx="135.8" cy="1622.8" rx="3.7" ry="3.5" transform="rotate(109.4 135.8 1622.8)" fill="#8560c0"/><ellipse cx="153.4" cy="1653.5" rx="3.8" ry="2.7" transform="rotate(15 153.4 1653.5)" fill="#7046ad"/><ellipse cx="105.8" cy="1667.2" rx="4.6" ry="4.5" transform="rotate(42.6 105.8 1667.2)" fill="#5c3497"/><ellipse cx="82.6" cy="1687.4" rx="3.8" ry="2.8" transform="rotate(167.7 82.6 1687.4)" fill="#8560c0"/><ellipse cx="126.6" cy="1628.2" rx="3.5" ry="3.1" transform="rotate(57.9 126.6 1628.2)" fill="#7b4fb6"/><ellipse cx="46.2" cy="1628.2" rx="4.2" ry="3.4" transform="rotate(101.9 46.2 1628.2)" fill="#5c3497"/><ellipse cx="142.5" cy="1706" rx="4.9" ry="4.1" transform="rotate(105 142.5 1706)" fill="#7046ad"/><ellipse cx="90" cy="1608.9" rx="4.9" ry="3.7" transform="rotate(122.9 90 1608.9)" fill="#5c3497"/><ellipse cx="126.2" cy="1664.9" rx="4.5" ry="4.2" transform="rotate(115.8 126.2 1664.9)" fill="#8560c0"/><ellipse cx="109" cy="1698.4" rx="3.6" ry="3.1" transform="rotate(27.2 109 1698.4)" fill="#5c3497"/><ellipse cx="17.6" cy="1699.7" rx="4" ry="3.4" transform="rotate(141.7 17.6 1699.7)" fill="#7b4fb6"/><ellipse cx="112.2" cy="1706.2" rx="4.2" ry="3.9" transform="rotate(19.3 112.2 1706.2)" fill="#7046ad"/><ellipse cx="80.8" cy="1616.2" rx="4.3" ry="3.4" transform="rotate(151.3 80.8 1616.2)" fill="#7046ad"/><ellipse cx="80.6" cy="1624.2" rx="4.8" ry="4" transform="rotate(48.4 80.6 1624.2)" fill="#8560c0"/><ellipse cx="68.4" cy="1609.5" rx="3.7" ry="2.9" transform="rotate(60.8 68.4 1609.5)" fill="#7b4fb6"/><ellipse cx="76.2" cy="1638.7" rx="4" ry="3.3" transform="rotate(135 76.2 1638.7)" fill="#5c3497"/><ellipse cx="125.4" cy="1608.6" rx="3.7" ry="2.7" transform="rotate(63.5 125.4 1608.6)" fill="#6a3fa8"/><ellipse cx="64.5" cy="1687.2" rx="4.6" ry="4.4" transform="rotate(107.2 64.5 1687.2)" fill="#8560c0"/><ellipse cx="156" cy="1675.7" rx="4.1" ry="3.2" transform="rotate(6.4 156 1675.7)" fill="#5c3497"/><ellipse cx="148.8" cy="1687.5" rx="4.1" ry="3.9" transform="rotate(83.7 148.8 1687.5)" fill="#7046ad"/><circle cx="167.5" cy="1497.4" r="10.8" fill="none" stroke="#111" stroke-width="2.3" stroke-dasharray="6 4"/><circle cx="158.7" cy="1524.2" r="10.8" fill="none" stroke="#111" stroke-width="2.3" stroke-dasharray="6 4"/><circle cx="141.8" cy="1544.8" r="10.8" fill="none" stroke="#111" stroke-width="2.3" stroke-dasharray="6 4"/><circle cx="45.3" cy="1549" r="10.8" fill="none" stroke="#111" stroke-width="2.3" stroke-dasharray="6 4"/><circle cx="234.7" cy="1566.8" r="10.8" fill="none" stroke="#111" stroke-width="2.3" stroke-dasharray="6 4"/><circle cx="187.3" cy="1585.2" r="10.8" fill="none" stroke="#111" stroke-width="2.3" stroke-dasharray="6 4"/><circle cx="23.5" cy="1594.2" r="10.8" fill="none" stroke="#111" stroke-width="2.3" stroke-dasharray="6 4"/><circle cx="155.4" cy="1617.3" r="10.8" fill="none" stroke="#111" stroke-width="2.3" stroke-dasharray="6 4"/><circle cx="212.7" cy="1630" r="10.8" fill="none" stroke="#111" stroke-width="2.3" stroke-dasharray="6 4"/><circle cx="98.3" cy="1654" r="10.8" fill="none" stroke="#111" stroke-width="2.3" stroke-dasharray="6 4"/><circle cx="38.2" cy="1664.8" r="10.8" fill="none" stroke="#111" stroke-width="2.3" stroke-dasharray="6 4"/><circle cx="70.1" cy="1672.1" r="10.8" fill="none" stroke="#111" stroke-width="2.3" stroke-dasharray="6 4"/><circle cx="72.1" cy="1697.5" r="10.8" fill="none" stroke="#111" stroke-width="2.3" stroke-dasharray="6 4"/><circle cx="214.6" cy="1687.3" r="10.8" fill="none" stroke="#111" stroke-width="2.3" stroke-dasharray="6 4"/></g>
<g clip-path="url(#hc1)"><rect x="258.4" y="1475.5" width="238.4" height="238.6" fill="#f7e8f3"/><rect x="258.4" y="1475.5" width="238.4" height="238.6" fill="#000" filter="url(#fibv)" opacity="0.6"/><path d="M353.4,1475.5 C358.4,1555.5 373.4,1635.5 368.4,1714.1 L393.4,1714.1 C398.4,1635.5 383.4,1555.5 383.4,1475.5 Z" fill="#fff" filter="url(#b3)"/><g filter="url(#b1)"><ellipse cx="316" cy="1542.7" rx="19.8" ry="2.3" transform="rotate(80.5 316 1542.7)" fill="#c4a4d8" opacity="0.7"/><ellipse cx="297" cy="1479.8" rx="13.3" ry="4" transform="rotate(76.5 297 1479.8)" fill="#b495cf" opacity="0.7"/><ellipse cx="287.2" cy="1577.4" rx="18" ry="3.3" transform="rotate(86.2 287.2 1577.4)" fill="#c4a4d8" opacity="0.7"/><ellipse cx="424.9" cy="1566.8" rx="12.2" ry="3" transform="rotate(75.3 424.9 1566.8)" fill="#b495cf" opacity="0.7"/><ellipse cx="478.7" cy="1666.1" rx="13.8" ry="4.8" transform="rotate(79.7 478.7 1666.1)" fill="#c4a4d8" opacity="0.7"/><ellipse cx="276.1" cy="1492.5" rx="12.4" ry="4.7" transform="rotate(79.3 276.1 1492.5)" fill="#c4a4d8" opacity="0.7"/><ellipse cx="467.8" cy="1632.2" rx="14.9" ry="3.5" transform="rotate(83.7 467.8 1632.2)" fill="#b495cf" opacity="0.7"/><ellipse cx="361.6" cy="1696.2" rx="17.4" ry="4.5" transform="rotate(75 361.6 1696.2)" fill="#b495cf" opacity="0.7"/><ellipse cx="427.3" cy="1553.2" rx="16.3" ry="2.6" transform="rotate(63.9 427.3 1553.2)" fill="#c4a4d8" opacity="0.7"/><ellipse cx="429.8" cy="1583.5" rx="20.8" ry="4.5" transform="rotate(72.2 429.8 1583.5)" fill="#c4a4d8" opacity="0.7"/><ellipse cx="500" cy="1618.6" rx="19.2" ry="3.2" transform="rotate(67.1 500 1618.6)" fill="#c4a4d8" opacity="0.7"/><ellipse cx="295.2" cy="1621.6" rx="11.4" ry="2.1" transform="rotate(83 295.2 1621.6)" fill="#c4a4d8" opacity="0.7"/><ellipse cx="274.1" cy="1582" rx="15.9" ry="3.9" transform="rotate(85.5 274.1 1582)" fill="#b495cf" opacity="0.7"/><ellipse cx="442.3" cy="1614.1" rx="17.4" ry="3.5" transform="rotate(86.2 442.3 1614.1)" fill="#b495cf" opacity="0.7"/><ellipse cx="307" cy="1643.7" rx="16.7" ry="2.1" transform="rotate(85.3 307 1643.7)" fill="#b495cf" opacity="0.7"/><ellipse cx="451.1" cy="1468.8" rx="13.6" ry="2" transform="rotate(82.9 451.1 1468.8)" fill="#c4a4d8" opacity="0.7"/><ellipse cx="276.9" cy="1480.4" rx="21.8" ry="3.3" transform="rotate(64.2 276.9 1480.4)" fill="#c4a4d8" opacity="0.7"/><ellipse cx="349.1" cy="1560.2" rx="16.3" ry="2" transform="rotate(66.6 349.1 1560.2)" fill="#c4a4d8" opacity="0.7"/></g><ellipse cx="308.4" cy="1580.6" rx="5.2" ry="2.4" transform="rotate(87.3 308.4 1580.6)" fill="#a88ad2"/><ellipse cx="487.7" cy="1489.7" rx="4.8" ry="2.1" transform="rotate(83.1 487.7 1489.7)" fill="#a88ad2"/><ellipse cx="273.7" cy="1519.6" rx="5.8" ry="2.7" transform="rotate(86 273.7 1519.6)" fill="#b59ad8"/><ellipse cx="447.6" cy="1488.1" rx="7.9" ry="3.6" transform="rotate(62.6 447.6 1488.1)" fill="#b59ad8"/><ellipse cx="319.2" cy="1623.6" rx="5.5" ry="2.3" transform="rotate(84.7 319.2 1623.6)" fill="#9b7cc9"/><ellipse cx="388.8" cy="1664.6" rx="5.6" ry="3.1" transform="rotate(78.2 388.8 1664.6)" fill="#b59ad8"/><ellipse cx="489.1" cy="1486" rx="7.5" ry="3.3" transform="rotate(65.8 489.1 1486)" fill="#a88ad2"/><ellipse cx="389.2" cy="1544.5" rx="4.4" ry="1.3" transform="rotate(87.2 389.2 1544.5)" fill="#b59ad8"/><ellipse cx="418.3" cy="1524.4" rx="5" ry="2.1" transform="rotate(63.5 418.3 1524.4)" fill="#9b7cc9"/><ellipse cx="489.1" cy="1700.7" rx="5" ry="2.3" transform="rotate(70.8 489.1 1700.7)" fill="#b59ad8"/><ellipse cx="424.6" cy="1496.2" rx="5.9" ry="2.6" transform="rotate(80.8 424.6 1496.2)" fill="#9b7cc9"/><ellipse cx="470.9" cy="1533.1" rx="4.6" ry="1.8" transform="rotate(77.1 470.9 1533.1)" fill="#9b7cc9"/><ellipse cx="487.4" cy="1645" rx="7" ry="3.8" transform="rotate(67.8 487.4 1645)" fill="#b59ad8"/><ellipse cx="359.1" cy="1546" rx="6.6" ry="3.6" transform="rotate(64.6 359.1 1546)" fill="#a88ad2"/><ellipse cx="381.9" cy="1637.2" rx="6" ry="3.2" transform="rotate(86.5 381.9 1637.2)" fill="#a88ad2"/><ellipse cx="285" cy="1522.2" rx="4.3" ry="2.2" transform="rotate(88.9 285 1522.2)" fill="#b59ad8"/><ellipse cx="261.7" cy="1663.8" rx="6.9" ry="3.6" transform="rotate(81.4 261.7 1663.8)" fill="#b59ad8"/><ellipse cx="315" cy="1493.6" rx="7" ry="2.2" transform="rotate(81 315 1493.6)" fill="#a88ad2"/><ellipse cx="326" cy="1591.8" rx="7.6" ry="2.7" transform="rotate(70.7 326 1591.8)" fill="#b59ad8"/><ellipse cx="303.8" cy="1588.5" rx="4.7" ry="2.4" transform="rotate(78.4 303.8 1588.5)" fill="#9b7cc9"/><ellipse cx="325.9" cy="1707.7" rx="5.4" ry="2.5" transform="rotate(68 325.9 1707.7)" fill="#b59ad8"/><ellipse cx="261.2" cy="1688.5" rx="7.8" ry="2.7" transform="rotate(64.6 261.2 1688.5)" fill="#b59ad8"/><ellipse cx="361.5" cy="1618.1" rx="8" ry="4.3" transform="rotate(67.4 361.5 1618.1)" fill="#b59ad8"/><ellipse cx="401.2" cy="1579.5" rx="4.9" ry="1.6" transform="rotate(65.1 401.2 1579.5)" fill="#b59ad8"/><ellipse cx="343.9" cy="1496.5" rx="4.6" ry="1.4" transform="rotate(74.8 343.9 1496.5)" fill="#b59ad8"/><ellipse cx="316.5" cy="1601.1" rx="5.7" ry="2.6" transform="rotate(88 316.5 1601.1)" fill="#9b7cc9"/><ellipse cx="342.6" cy="1629.4" rx="4.9" ry="2.6" transform="rotate(64.8 342.6 1629.4)" fill="#9b7cc9"/><ellipse cx="319.7" cy="1513.5" rx="4.7" ry="1.8" transform="rotate(84.7 319.7 1513.5)" fill="#9b7cc9"/><ellipse cx="367.4" cy="1541.6" rx="5.7" ry="2.1" transform="rotate(61.8 367.4 1541.6)" fill="#a88ad2"/><ellipse cx="327.4" cy="1552.6" rx="4.7" ry="2.3" transform="rotate(65.4 327.4 1552.6)" fill="#b59ad8"/><ellipse cx="287.1" cy="1489" rx="4.6" ry="3.7" transform="rotate(39.1 287.1 1489)" fill="#8560c0"/><ellipse cx="260.5" cy="1552.4" rx="4.6" ry="4.4" transform="rotate(62.8 260.5 1552.4)" fill="#5c3497"/><ellipse cx="339.2" cy="1487.5" rx="4.1" ry="3.2" transform="rotate(39.9 339.2 1487.5)" fill="#6a3fa8"/><ellipse cx="343.6" cy="1547.6" rx="4.9" ry="3.6" transform="rotate(77.4 343.6 1547.6)" fill="#8560c0"/><ellipse cx="300.7" cy="1644.8" rx="3.8" ry="3.2" transform="rotate(56 300.7 1644.8)" fill="#7b4fb6"/><ellipse cx="327.5" cy="1500.8" rx="4" ry="3.1" transform="rotate(29.8 327.5 1500.8)" fill="#7b4fb6"/><ellipse cx="270" cy="1669.7" rx="4.4" ry="3.6" transform="rotate(131.1 270 1669.7)" fill="#6a3fa8"/><ellipse cx="316" cy="1694.1" rx="4.9" ry="4.1" transform="rotate(118.6 316 1694.1)" fill="#6a3fa8"/><ellipse cx="310.3" cy="1549.5" rx="4" ry="3.7" transform="rotate(113.8 310.3 1549.5)" fill="#7046ad"/><ellipse cx="304.8" cy="1702.9" rx="4.6" ry="3.4" transform="rotate(146.5 304.8 1702.9)" fill="#8560c0"/><ellipse cx="345.9" cy="1670.4" rx="3.8" ry="3.1" transform="rotate(10 345.9 1670.4)" fill="#8560c0"/><ellipse cx="303.4" cy="1678.4" rx="4.6" ry="4.1" transform="rotate(152.5 303.4 1678.4)" fill="#6a3fa8"/><ellipse cx="321.3" cy="1528.8" rx="4.6" ry="3.8" transform="rotate(58.8 321.3 1528.8)" fill="#5c3497"/><ellipse cx="267.2" cy="1649.7" rx="3.4" ry="3.3" transform="rotate(74.1 267.2 1649.7)" fill="#7046ad"/><ellipse cx="332.8" cy="1488" rx="4.2" ry="3.8" transform="rotate(109.5 332.8 1488)" fill="#5c3497"/><ellipse cx="272" cy="1548" rx="3.9" ry="3.4" transform="rotate(23.4 272 1548)" fill="#7b4fb6"/><ellipse cx="276" cy="1661.9" rx="4.5" ry="3.8" transform="rotate(124.6 276 1661.9)" fill="#5c3497"/><ellipse cx="303" cy="1549.8" rx="4.8" ry="3.6" transform="rotate(144.8 303 1549.8)" fill="#6a3fa8"/><ellipse cx="317.3" cy="1629.6" rx="4.4" ry="4.1" transform="rotate(165.7 317.3 1629.6)" fill="#7046ad"/><ellipse cx="282.8" cy="1514.6" rx="4.8" ry="3.7" transform="rotate(40 282.8 1514.6)" fill="#7046ad"/><ellipse cx="335.2" cy="1706" rx="4.7" ry="4" transform="rotate(177.9 335.2 1706)" fill="#5c3497"/><ellipse cx="328.6" cy="1625.6" rx="3.2" ry="2.4" transform="rotate(2.4 328.6 1625.6)" fill="#6a3fa8"/><ellipse cx="344.9" cy="1531.9" rx="3.5" ry="3.1" transform="rotate(98.4 344.9 1531.9)" fill="#8560c0"/><ellipse cx="349" cy="1681.6" rx="3.6" ry="3.5" transform="rotate(71.9 349 1681.6)" fill="#6a3fa8"/><ellipse cx="308.3" cy="1553" rx="5" ry="4" transform="rotate(111.6 308.3 1553)" fill="#6a3fa8"/><ellipse cx="324.1" cy="1500.3" rx="4.2" ry="4.2" transform="rotate(101.4 324.1 1500.3)" fill="#5c3497"/><ellipse cx="277.2" cy="1488" rx="3.8" ry="3.5" transform="rotate(8.8 277.2 1488)" fill="#7046ad"/><ellipse cx="321.1" cy="1685.9" rx="4" ry="3.5" transform="rotate(46.3 321.1 1685.9)" fill="#7b4fb6"/><ellipse cx="284.4" cy="1588.8" rx="3.6" ry="3" transform="rotate(166.3 284.4 1588.8)" fill="#8560c0"/><ellipse cx="320.2" cy="1498" rx="3.5" ry="3.4" transform="rotate(67 320.2 1498)" fill="#7b4fb6"/><ellipse cx="283.2" cy="1481.1" rx="4.4" ry="3.8" transform="rotate(30.6 283.2 1481.1)" fill="#7046ad"/><ellipse cx="330.1" cy="1672.8" rx="4.7" ry="4.3" transform="rotate(79.6 330.1 1672.8)" fill="#7046ad"/><ellipse cx="262.9" cy="1629.2" rx="3.2" ry="2.4" transform="rotate(21.7 262.9 1629.2)" fill="#7b4fb6"/><ellipse cx="301.5" cy="1678.6" rx="3.5" ry="3.3" transform="rotate(179.6 301.5 1678.6)" fill="#8560c0"/><ellipse cx="262" cy="1576.5" rx="4.5" ry="4.1" transform="rotate(145.6 262 1576.5)" fill="#7b4fb6"/><ellipse cx="293.8" cy="1523.4" rx="4.1" ry="3.7" transform="rotate(150.8 293.8 1523.4)" fill="#6a3fa8"/><ellipse cx="321.7" cy="1495.3" rx="4.2" ry="3.4" transform="rotate(8.1 321.7 1495.3)" fill="#8560c0"/><ellipse cx="321.1" cy="1664.4" rx="3.3" ry="2.3" transform="rotate(160.5 321.1 1664.4)" fill="#5c3497"/><ellipse cx="343.8" cy="1517.6" rx="4.9" ry="4" transform="rotate(84.8 343.8 1517.6)" fill="#5c3497"/><ellipse cx="290.3" cy="1686.5" rx="4.3" ry="4.2" transform="rotate(112 290.3 1686.5)" fill="#8560c0"/><ellipse cx="346.6" cy="1598.4" rx="4.1" ry="3.5" transform="rotate(138.2 346.6 1598.4)" fill="#5c3497"/><ellipse cx="271.7" cy="1700.7" rx="3.3" ry="3" transform="rotate(138.3 271.7 1700.7)" fill="#7b4fb6"/><ellipse cx="310.1" cy="1498.3" rx="4.7" ry="3.7" transform="rotate(124.6 310.1 1498.3)" fill="#5c3497"/><ellipse cx="351.1" cy="1498.4" rx="4" ry="3.6" transform="rotate(49.8 351.1 1498.4)" fill="#6a3fa8"/><ellipse cx="346.6" cy="1619.3" rx="3.3" ry="2.5" transform="rotate(82.1 346.6 1619.3)" fill="#7046ad"/><ellipse cx="345.2" cy="1502.3" rx="3.5" ry="2.7" transform="rotate(103.2 345.2 1502.3)" fill="#7b4fb6"/><ellipse cx="299.4" cy="1575.3" rx="3.5" ry="3.3" transform="rotate(155.8 299.4 1575.3)" fill="#6a3fa8"/><ellipse cx="261.3" cy="1584.7" rx="3.9" ry="3.7" transform="rotate(124.6 261.3 1584.7)" fill="#8560c0"/><ellipse cx="308.1" cy="1514" rx="4.4" ry="4.3" transform="rotate(174.1 308.1 1514)" fill="#8560c0"/><ellipse cx="314.8" cy="1550.4" rx="3.6" ry="3.4" transform="rotate(146.1 314.8 1550.4)" fill="#5c3497"/><ellipse cx="318.9" cy="1662.1" rx="4.1" ry="3.9" transform="rotate(43.6 318.9 1662.1)" fill="#6a3fa8"/><ellipse cx="314.4" cy="1632.1" rx="3.6" ry="3.5" transform="rotate(145 314.4 1632.1)" fill="#5c3497"/><ellipse cx="272.3" cy="1528" rx="3.2" ry="3.1" transform="rotate(150.1 272.3 1528)" fill="#7b4fb6"/><ellipse cx="307.2" cy="1489.1" rx="3.6" ry="2.8" transform="rotate(137.6 307.2 1489.1)" fill="#7b4fb6"/><ellipse cx="293.5" cy="1509.4" rx="4.9" ry="4.2" transform="rotate(175.1 293.5 1509.4)" fill="#7b4fb6"/><ellipse cx="322.8" cy="1580.7" rx="3.5" ry="3.1" transform="rotate(17.5 322.8 1580.7)" fill="#7b4fb6"/><ellipse cx="348" cy="1654.8" rx="4.5" ry="4.2" transform="rotate(84.4 348 1654.8)" fill="#7b4fb6"/><ellipse cx="335.8" cy="1501.8" rx="4.5" ry="4.1" transform="rotate(38 335.8 1501.8)" fill="#7046ad"/><ellipse cx="269" cy="1694.3" rx="4.8" ry="3.5" transform="rotate(32.5 269 1694.3)" fill="#7b4fb6"/><ellipse cx="277.9" cy="1697.2" rx="4.4" ry="4.1" transform="rotate(50.8 277.9 1697.2)" fill="#8560c0"/><ellipse cx="332.4" cy="1635.2" rx="3.8" ry="3.2" transform="rotate(107 332.4 1635.2)" fill="#5c3497"/><ellipse cx="276.2" cy="1582.6" rx="4.7" ry="4.3" transform="rotate(108.4 276.2 1582.6)" fill="#6a3fa8"/><ellipse cx="269.1" cy="1671.6" rx="4.3" ry="4.2" transform="rotate(167.7 269.1 1671.6)" fill="#7b4fb6"/><ellipse cx="309.4" cy="1659.1" rx="3.4" ry="2.4" transform="rotate(141.5 309.4 1659.1)" fill="#7046ad"/><ellipse cx="322.6" cy="1701.5" rx="3.7" ry="3.2" transform="rotate(109.6 322.6 1701.5)" fill="#8560c0"/><ellipse cx="339.3" cy="1569.7" rx="4.7" ry="4.5" transform="rotate(162.5 339.3 1569.7)" fill="#5c3497"/><ellipse cx="296.3" cy="1692.2" rx="3.8" ry="3.3" transform="rotate(116 296.3 1692.2)" fill="#7046ad"/><ellipse cx="314.9" cy="1561.6" rx="4.1" ry="3.5" transform="rotate(122 314.9 1561.6)" fill="#7046ad"/><ellipse cx="309.9" cy="1551.5" rx="3.5" ry="3.5" transform="rotate(31.2 309.9 1551.5)" fill="#8560c0"/><ellipse cx="290.6" cy="1630.6" rx="3.6" ry="3.5" transform="rotate(97.3 290.6 1630.6)" fill="#5c3497"/><ellipse cx="418.2" cy="1633.8" rx="3.5" ry="3.4" transform="rotate(26.3 418.2 1633.8)" fill="#7046ad"/><ellipse cx="411.5" cy="1601.5" rx="3.8" ry="3.1" transform="rotate(46.7 411.5 1601.5)" fill="#7046ad"/><ellipse cx="415.2" cy="1577.8" rx="3.4" ry="2.6" transform="rotate(113.3 415.2 1577.8)" fill="#7b4fb6"/><ellipse cx="410.6" cy="1569.2" rx="4.2" ry="3.7" transform="rotate(39 410.6 1569.2)" fill="#7b4fb6"/><ellipse cx="380.9" cy="1705.1" rx="3.5" ry="2.7" transform="rotate(177.4 380.9 1705.1)" fill="#6a3fa8"/><ellipse cx="385" cy="1571.5" rx="4.7" ry="3.4" transform="rotate(45.1 385 1571.5)" fill="#5c3497"/><ellipse cx="414.2" cy="1673.4" rx="3.4" ry="2.8" transform="rotate(98.5 414.2 1673.4)" fill="#6a3fa8"/><ellipse cx="409.5" cy="1712.4" rx="5" ry="3.8" transform="rotate(46 409.5 1712.4)" fill="#8560c0"/><ellipse cx="401.4" cy="1499.6" rx="3.5" ry="3" transform="rotate(52.9 401.4 1499.6)" fill="#7b4fb6"/><ellipse cx="389.4" cy="1622.6" rx="3.7" ry="2.6" transform="rotate(16.9 389.4 1622.6)" fill="#7046ad"/><ellipse cx="429.9" cy="1501.4" rx="4.4" ry="3.6" transform="rotate(91.6 429.9 1501.4)" fill="#7b4fb6"/><ellipse cx="391.4" cy="1525.9" rx="3.6" ry="2.8" transform="rotate(45.1 391.4 1525.9)" fill="#5c3497"/><ellipse cx="395.4" cy="1618.2" rx="4.1" ry="3" transform="rotate(167.4 395.4 1618.2)" fill="#7b4fb6"/><ellipse cx="433.6" cy="1551.8" rx="3.5" ry="2.7" transform="rotate(23.9 433.6 1551.8)" fill="#8560c0"/><ellipse cx="393" cy="1696.2" rx="4.8" ry="4" transform="rotate(126.1 393 1696.2)" fill="#6a3fa8"/><ellipse cx="419.4" cy="1641" rx="4.5" ry="4" transform="rotate(23.9 419.4 1641)" fill="#8560c0"/><ellipse cx="418.5" cy="1635.1" rx="3.5" ry="2.6" transform="rotate(69.5 418.5 1635.1)" fill="#5c3497"/><ellipse cx="425.9" cy="1541.6" rx="4.4" ry="3.9" transform="rotate(19.9 425.9 1541.6)" fill="#5c3497"/><ellipse cx="394.2" cy="1559.8" rx="3.7" ry="2.7" transform="rotate(96.7 394.2 1559.8)" fill="#5c3497"/><ellipse cx="391.1" cy="1627.2" rx="3.9" ry="3.3" transform="rotate(37.3 391.1 1627.2)" fill="#6a3fa8"/><ellipse cx="424.5" cy="1494" rx="4.9" ry="4.3" transform="rotate(98.9 424.5 1494)" fill="#6a3fa8"/><ellipse cx="398.6" cy="1563.7" rx="4.9" ry="4.2" transform="rotate(71 398.6 1563.7)" fill="#7046ad"/><ellipse cx="386.9" cy="1511.7" rx="3.9" ry="3.3" transform="rotate(21.9 386.9 1511.7)" fill="#8560c0"/><ellipse cx="404.7" cy="1507.2" rx="3.7" ry="3.1" transform="rotate(157.8 404.7 1507.2)" fill="#7046ad"/><ellipse cx="385.5" cy="1517.1" rx="4.5" ry="3.8" transform="rotate(122.6 385.5 1517.1)" fill="#7046ad"/><ellipse cx="434.7" cy="1651.6" rx="5" ry="4.6" transform="rotate(59.2 434.7 1651.6)" fill="#7b4fb6"/><ellipse cx="425.3" cy="1611" rx="3.4" ry="2.7" transform="rotate(117.9 425.3 1611)" fill="#6a3fa8"/><ellipse cx="399.6" cy="1644.5" rx="4.4" ry="3.3" transform="rotate(82.9 399.6 1644.5)" fill="#7046ad"/><ellipse cx="425.6" cy="1503.3" rx="4.2" ry="3.1" transform="rotate(138 425.6 1503.3)" fill="#6a3fa8"/><ellipse cx="398.9" cy="1671.7" rx="4.5" ry="4" transform="rotate(27.1 398.9 1671.7)" fill="#6a3fa8"/><ellipse cx="404.6" cy="1685.1" rx="4.3" ry="3.1" transform="rotate(84 404.6 1685.1)" fill="#8560c0"/><ellipse cx="406.6" cy="1574.4" rx="4.7" ry="4" transform="rotate(154.5 406.6 1574.4)" fill="#8560c0"/><ellipse cx="434.4" cy="1689.1" rx="4.6" ry="3.2" transform="rotate(30.9 434.4 1689.1)" fill="#7046ad"/><ellipse cx="408.4" cy="1546.9" rx="3.4" ry="3.4" transform="rotate(77.4 408.4 1546.9)" fill="#7b4fb6"/><ellipse cx="389.4" cy="1597.6" rx="5" ry="4.6" transform="rotate(20.9 389.4 1597.6)" fill="#7b4fb6"/><ellipse cx="421.8" cy="1556" rx="3.8" ry="3.2" transform="rotate(83.3 421.8 1556)" fill="#7046ad"/><ellipse cx="424.7" cy="1546.1" rx="4" ry="3.3" transform="rotate(100.5 424.7 1546.1)" fill="#6a3fa8"/><ellipse cx="380.4" cy="1679.3" rx="4.4" ry="3.2" transform="rotate(89.2 380.4 1679.3)" fill="#5c3497"/><ellipse cx="431.3" cy="1686.1" rx="3.9" ry="3" transform="rotate(132.3 431.3 1686.1)" fill="#7b4fb6"/><ellipse cx="417.1" cy="1573.1" rx="4.8" ry="3.6" transform="rotate(149 417.1 1573.1)" fill="#7046ad"/><ellipse cx="425.3" cy="1600.1" rx="3.9" ry="3.5" transform="rotate(74.4 425.3 1600.1)" fill="#6a3fa8"/><ellipse cx="393.7" cy="1662.4" rx="3.5" ry="3" transform="rotate(79.6 393.7 1662.4)" fill="#6a3fa8"/><ellipse cx="436.4" cy="1501.8" rx="4.2" ry="3.2" transform="rotate(22.6 436.4 1501.8)" fill="#7046ad"/><ellipse cx="432.2" cy="1629.5" rx="3.5" ry="2.9" transform="rotate(49.6 432.2 1629.5)" fill="#7046ad"/><ellipse cx="406.1" cy="1672.3" rx="4.1" ry="4" transform="rotate(38.9 406.1 1672.3)" fill="#8560c0"/><ellipse cx="385.5" cy="1638.7" rx="3.8" ry="3" transform="rotate(166.6 385.5 1638.7)" fill="#7046ad"/><ellipse cx="412.1" cy="1539.6" rx="4.2" ry="3.6" transform="rotate(74.2 412.1 1539.6)" fill="#7046ad"/><ellipse cx="407.6" cy="1511.8" rx="4.7" ry="4.6" transform="rotate(0.4 407.6 1511.8)" fill="#5c3497"/><ellipse cx="422.6" cy="1707.7" rx="4.7" ry="4.5" transform="rotate(178.3 422.6 1707.7)" fill="#7046ad"/><ellipse cx="399.8" cy="1680.2" rx="4.6" ry="4.1" transform="rotate(173.7 399.8 1680.2)" fill="#6a3fa8"/><ellipse cx="434.7" cy="1581.4" rx="4.1" ry="3.9" transform="rotate(156.4 434.7 1581.4)" fill="#7046ad"/><ellipse cx="391.1" cy="1535.7" rx="3.9" ry="3.1" transform="rotate(81.6 391.1 1535.7)" fill="#8560c0"/><ellipse cx="390.8" cy="1514.6" rx="3.9" ry="2.9" transform="rotate(71.4 390.8 1514.6)" fill="#7046ad"/><ellipse cx="433.7" cy="1575" rx="4.3" ry="4.2" transform="rotate(80 433.7 1575)" fill="#6a3fa8"/><ellipse cx="394" cy="1610.8" rx="4.7" ry="3.7" transform="rotate(86.6 394 1610.8)" fill="#7b4fb6"/><ellipse cx="468.7" cy="1629.2" rx="3.7" ry="2.8" transform="rotate(41.6 468.7 1629.2)" fill="#5c3497"/><ellipse cx="440.1" cy="1685.9" rx="4" ry="3.9" transform="rotate(100.6 440.1 1685.9)" fill="#7b4fb6"/><ellipse cx="471.2" cy="1508.8" rx="3.8" ry="3.4" transform="rotate(77.7 471.2 1508.8)" fill="#6a3fa8"/><ellipse cx="458" cy="1531.9" rx="3.1" ry="2.7" transform="rotate(14.5 458 1531.9)" fill="#6a3fa8"/><ellipse cx="495.8" cy="1687.9" rx="3.5" ry="3" transform="rotate(36.8 495.8 1687.9)" fill="#7b4fb6"/><ellipse cx="496" cy="1547.3" rx="4.3" ry="3.9" transform="rotate(6.7 496 1547.3)" fill="#7b4fb6"/><ellipse cx="463.4" cy="1482.8" rx="4.4" ry="4.3" transform="rotate(110.3 463.4 1482.8)" fill="#7b4fb6"/><ellipse cx="455.4" cy="1526.3" rx="3.2" ry="2.8" transform="rotate(39.5 455.4 1526.3)" fill="#7046ad"/><ellipse cx="480.1" cy="1682.9" rx="3.9" ry="3.9" transform="rotate(147.1 480.1 1682.9)" fill="#7b4fb6"/><ellipse cx="463" cy="1560.9" rx="3.3" ry="3.1" transform="rotate(157.7 463 1560.9)" fill="#5c3497"/><ellipse cx="466.6" cy="1684.3" rx="4.1" ry="3.6" transform="rotate(132.8 466.6 1684.3)" fill="#8560c0"/><ellipse cx="481" cy="1486.6" rx="4.2" ry="3.1" transform="rotate(87.5 481 1486.6)" fill="#6a3fa8"/><ellipse cx="482.6" cy="1527.6" rx="4" ry="3.8" transform="rotate(62 482.6 1527.6)" fill="#8560c0"/><ellipse cx="471.8" cy="1574.2" rx="4.1" ry="4" transform="rotate(2.1 471.8 1574.2)" fill="#7b4fb6"/><ellipse cx="492.1" cy="1615.5" rx="3.3" ry="3" transform="rotate(81.5 492.1 1615.5)" fill="#8560c0"/><ellipse cx="447.6" cy="1557" rx="3.9" ry="3.1" transform="rotate(10.1 447.6 1557)" fill="#7b4fb6"/><ellipse cx="460.2" cy="1649.6" rx="3.5" ry="2.9" transform="rotate(144.6 460.2 1649.6)" fill="#7b4fb6"/><ellipse cx="475.3" cy="1710.1" rx="4.3" ry="4.2" transform="rotate(139.2 475.3 1710.1)" fill="#8560c0"/><ellipse cx="496.8" cy="1478.2" rx="3.7" ry="3.4" transform="rotate(41.6 496.8 1478.2)" fill="#8560c0"/><ellipse cx="441.4" cy="1595.7" rx="3.1" ry="2.3" transform="rotate(131.6 441.4 1595.7)" fill="#7b4fb6"/><ellipse cx="440.1" cy="1695" rx="3.8" ry="3.1" transform="rotate(26.5 440.1 1695)" fill="#7b4fb6"/><ellipse cx="460.6" cy="1536.3" rx="4.3" ry="3.7" transform="rotate(168.6 460.6 1536.3)" fill="#6a3fa8"/><ellipse cx="496" cy="1712.3" rx="3.4" ry="2.9" transform="rotate(128.8 496 1712.3)" fill="#7b4fb6"/><ellipse cx="443.8" cy="1577.7" rx="3.5" ry="3.3" transform="rotate(166.5 443.8 1577.7)" fill="#7b4fb6"/><ellipse cx="438.4" cy="1696.1" rx="3.7" ry="2.8" transform="rotate(56.4 438.4 1696.1)" fill="#7b4fb6"/><ellipse cx="347.9" cy="1512.9" rx="3.2" ry="2.8" transform="rotate(105 347.9 1512.9)" fill="#f08aa8"/><ellipse cx="308" cy="1566.2" rx="2.3" ry="1.6" transform="rotate(119.8 308 1566.2)" fill="#e8709a"/><ellipse cx="272" cy="1518" rx="3.2" ry="2.5" transform="rotate(156.3 272 1518)" fill="#e8709a"/><ellipse cx="281.6" cy="1565" rx="2.5" ry="2.2" transform="rotate(130.9 281.6 1565)" fill="#f08aa8"/><ellipse cx="327.3" cy="1543" rx="3.2" ry="2.2" transform="rotate(21.1 327.3 1543)" fill="#e8709a"/><ellipse cx="320.7" cy="1569" rx="3.4" ry="2.3" transform="rotate(162.1 320.7 1569)" fill="#f08aa8"/><ellipse cx="315.3" cy="1530.7" rx="2.6" ry="1.9" transform="rotate(171.2 315.3 1530.7)" fill="#e8709a"/><ellipse cx="330.9" cy="1510.9" rx="3.2" ry="2.5" transform="rotate(178.5 330.9 1510.9)" fill="#e8709a"/><ellipse cx="285.7" cy="1552.4" rx="2.8" ry="1.9" transform="rotate(161.5 285.7 1552.4)" fill="#e8709a"/><ellipse cx="260" cy="1517.5" rx="2.7" ry="1.9" transform="rotate(99.6 260 1517.5)" fill="#e8709a"/><ellipse cx="275.4" cy="1555.1" rx="2.9" ry="2.3" transform="rotate(30.4 275.4 1555.1)" fill="#e8709a"/><ellipse cx="302.9" cy="1510.6" rx="2.4" ry="1.8" transform="rotate(136.7 302.9 1510.6)" fill="#f08aa8"/><circle cx="317.6" cy="1494.8" r="10.8" fill="none" stroke="#111" stroke-width="2.3" stroke-dasharray="6 4"/><circle cx="441" cy="1498.2" r="10.8" fill="none" stroke="#111" stroke-width="2.3" stroke-dasharray="6 4"/><circle cx="415.6" cy="1540.6" r="10.8" fill="none" stroke="#111" stroke-width="2.3" stroke-dasharray="6 4"/><circle cx="336.6" cy="1559.8" r="10.8" fill="none" stroke="#111" stroke-width="2.3" stroke-dasharray="6 4"/><circle cx="430" cy="1591.9" r="10.8" fill="none" stroke="#111" stroke-width="2.3" stroke-dasharray="6 4"/><circle cx="410.8" cy="1617.3" r="10.8" fill="none" stroke="#111" stroke-width="2.3" stroke-dasharray="6 4"/><circle cx="437" cy="1618.2" r="10.8" fill="none" stroke="#111" stroke-width="2.3" stroke-dasharray="6 4"/><circle cx="324.1" cy="1665.3" r="10.8" fill="none" stroke="#111" stroke-width="2.3" stroke-dasharray="6 4"/><circle cx="381.4" cy="1660.8" r="10.8" fill="none" stroke="#111" stroke-width="2.3" stroke-dasharray="6 4"/><circle cx="446.9" cy="1665.3" r="10.8" fill="none" stroke="#111" stroke-width="2.3" stroke-dasharray="6 4"/><circle cx="310.9" cy="1686.8" r="10.8" fill="none" stroke="#111" stroke-width="2.3" stroke-dasharray="6 4"/><circle cx="422.1" cy="1695.2" r="10.8" fill="none" stroke="#111" stroke-width="2.3" stroke-dasharray="6 4"/><circle cx="489" cy="1693.5" r="10.8" fill="none" stroke="#111" stroke-width="2.3" stroke-dasharray="6 4"/></g>
<g clip-path="url(#hc2)"><rect x="503.5" y="1475.5" width="238.5" height="238.6" fill="#fcf2f8"/><g filter="url(#b1)"><path d="M498.5,1493 C583.5,1481 663.5,1491 747,1475" fill="none" stroke="#efb5d0" stroke-width="2.5" opacity="0.9"/><path d="M498.5,1506.3 C583.5,1494.3 663.5,1504.3 747,1488.3" fill="none" stroke="#e9a3c5" stroke-width="3.2" opacity="0.9"/><path d="M498.5,1511.1 C583.5,1499.1 663.5,1509.1 747,1493.1" fill="none" stroke="#f3c6dc" stroke-width="2.9" opacity="0.9"/><path d="M498.5,1522.4 C583.5,1510.4 663.5,1520.4 747,1504.4" fill="none" stroke="#efb5d0" stroke-width="2.3" opacity="0.9"/><path d="M498.5,1532.9 C583.5,1520.9 663.5,1530.9 747,1514.9" fill="none" stroke="#e9a3c5" stroke-width="2.2" opacity="0.9"/><path d="M498.5,1539.8 C583.5,1527.8 663.5,1537.8 747,1521.8" fill="none" stroke="#f3c6dc" stroke-width="3" opacity="0.9"/><path d="M498.5,1549.1 C583.5,1537.1 663.5,1547.1 747,1531.1" fill="none" stroke="#efb5d0" stroke-width="3.2" opacity="0.9"/><path d="M498.5,1559.9 C583.5,1547.9 663.5,1557.9 747,1541.9" fill="none" stroke="#e9a3c5" stroke-width="3.9" opacity="0.9"/><path d="M498.5,1566.2 C583.5,1554.2 663.5,1564.2 747,1548.2" fill="none" stroke="#f3c6dc" stroke-width="3.3" opacity="0.9"/><path d="M498.5,1577.7 C583.5,1565.7 663.5,1575.7 747,1559.7" fill="none" stroke="#efb5d0" stroke-width="2.6" opacity="0.9"/></g><g filter="url(#b3)"><ellipse cx="551.5" cy="1557.1" rx="37.5" ry="9.9" transform="rotate(1.4 551.5 1557.1)" fill="#ffffff" opacity="1"/><ellipse cx="662.8" cy="1521.2" rx="49.3" ry="8.2" transform="rotate(-3 662.8 1521.2)" fill="#ffffff" opacity="1"/><ellipse cx="622.6" cy="1493.9" rx="46.5" ry="13.6" transform="rotate(-15 622.6 1493.9)" fill="#ffffff" opacity="1"/><ellipse cx="671.4" cy="1508.8" rx="48.5" ry="12.3" transform="rotate(-14.8 671.4 1508.8)" fill="#ffffff" opacity="1"/><ellipse cx="709.5" cy="1534.5" rx="47.1" ry="12.9" transform="rotate(-9.7 709.5 1534.5)" fill="#ffffff" opacity="1"/><ellipse cx="696" cy="1550.3" rx="32.6" ry="13.1" transform="rotate(-10.5 696 1550.3)" fill="#ffffff" opacity="1"/><ellipse cx="642.7" cy="1497.9" rx="47.5" ry="9.8" transform="rotate(0.9 642.7 1497.9)" fill="#ffffff" opacity="1"/><ellipse cx="603.7" cy="1527.6" rx="40" ry="11.7" transform="rotate(-15.3 603.7 1527.6)" fill="#ffffff" opacity="1"/></g><path d="M563.5,1587.5 L747,1540.5 L747,1593.5 L563.5,1603.5 Z" fill="#eea0c0" filter="url(#b3)"/><path d="M498.5,1615.5 C563.5,1587.5 673.5,1583.5 718.5,1600.5 C743.5,1620.5 733.5,1660.5 693.5,1663.5 C623.5,1667.5 543.5,1655.5 498.5,1625.5 Z" fill="#e8a0c0"/><ellipse cx="603.5" cy="1625.5" rx="100" ry="22" fill="#f07c8a" filter="url(#b1)"/><ellipse cx="545.5" cy="1637.6" rx="2.8" ry="2.4" transform="rotate(37 545.5 1637.6)" fill="#f58a98"/><ellipse cx="657.5" cy="1615.6" rx="3" ry="2.6" transform="rotate(109.2 657.5 1615.6)" fill="#f58a98"/><ellipse cx="677.5" cy="1639.2" rx="2.8" ry="2" transform="rotate(15.3 677.5 1639.2)" fill="#ee5f72"/><ellipse cx="547.7" cy="1617.3" rx="2.9" ry="2.1" transform="rotate(53.4 547.7 1617.3)" fill="#ee5f72"/><ellipse cx="597.7" cy="1641.5" rx="3" ry="2.7" transform="rotate(98.1 597.7 1641.5)" fill="#f26a7c"/><ellipse cx="633.3" cy="1611.1" rx="2.7" ry="2.2" transform="rotate(106.1 633.3 1611.1)" fill="#f26a7c"/><ellipse cx="627.2" cy="1634.7" rx="2.6" ry="2.3" transform="rotate(89.1 627.2 1634.7)" fill="#f58a98"/><ellipse cx="536.4" cy="1627.5" rx="2.6" ry="2.5" transform="rotate(70.9 536.4 1627.5)" fill="#f26a7c"/><ellipse cx="518.7" cy="1629.3" rx="2.4" ry="2.2" transform="rotate(68.5 518.7 1629.3)" fill="#f58a98"/><ellipse cx="667.3" cy="1624.1" rx="2.5" ry="2" transform="rotate(86.5 667.3 1624.1)" fill="#ee5f72"/><ellipse cx="531" cy="1630" rx="2.9" ry="2.6" transform="rotate(170.5 531 1630)" fill="#f58a98"/><ellipse cx="656" cy="1637.5" rx="2.9" ry="2.7" transform="rotate(45.7 656 1637.5)" fill="#f58a98"/><ellipse cx="595.9" cy="1622.2" rx="2.4" ry="2.1" transform="rotate(111.4 595.9 1622.2)" fill="#ee5f72"/><ellipse cx="612.7" cy="1613.1" rx="2.6" ry="2.1" transform="rotate(127.2 612.7 1613.1)" fill="#f26a7c"/><ellipse cx="530.1" cy="1615.6" rx="2.6" ry="2.1" transform="rotate(59.9 530.1 1615.6)" fill="#f58a98"/><ellipse cx="548.4" cy="1644.7" rx="2.4" ry="1.8" transform="rotate(50.4 548.4 1644.7)" fill="#ee5f72"/><ellipse cx="572.1" cy="1617.7" rx="2.6" ry="2.6" transform="rotate(74.7 572.1 1617.7)" fill="#f58a98"/><ellipse cx="627" cy="1642.9" rx="3" ry="2.2" transform="rotate(96.7 627 1642.9)" fill="#f26a7c"/><ellipse cx="662.5" cy="1611.1" rx="2.7" ry="2" transform="rotate(168.8 662.5 1611.1)" fill="#f58a98"/><ellipse cx="605.3" cy="1609.5" rx="2.3" ry="1.9" transform="rotate(152.5 605.3 1609.5)" fill="#f58a98"/><ellipse cx="555" cy="1634.7" rx="2.5" ry="2" transform="rotate(55.5 555 1634.7)" fill="#f58a98"/><ellipse cx="577.5" cy="1638.3" rx="2.6" ry="2.4" transform="rotate(92.9 577.5 1638.3)" fill="#f58a98"/><ellipse cx="542.1" cy="1626.1" rx="2.9" ry="2.5" transform="rotate(0.2 542.1 1626.1)" fill="#f26a7c"/><ellipse cx="572.2" cy="1638.5" rx="2.7" ry="2.4" transform="rotate(119.5 572.2 1638.5)" fill="#f58a98"/><ellipse cx="661.7" cy="1635.2" rx="2.6" ry="2.3" transform="rotate(58.3 661.7 1635.2)" fill="#ee5f72"/><ellipse cx="627.2" cy="1632.6" rx="2.8" ry="2.4" transform="rotate(4.9 627.2 1632.6)" fill="#ee5f72"/><ellipse cx="605.1" cy="1641.9" rx="2.7" ry="2.4" transform="rotate(64.2 605.1 1641.9)" fill="#f26a7c"/><ellipse cx="635.4" cy="1612.1" rx="2.9" ry="2.8" transform="rotate(173.2 635.4 1612.1)" fill="#ee5f72"/><ellipse cx="538.1" cy="1613.5" rx="2.9" ry="2.4" transform="rotate(68.8 538.1 1613.5)" fill="#f58a98"/><ellipse cx="625.5" cy="1615.3" rx="2.6" ry="2.3" transform="rotate(129.7 625.5 1615.3)" fill="#f26a7c"/><ellipse cx="517.5" cy="1640.1" rx="2.5" ry="2.1" transform="rotate(50.4 517.5 1640.1)" fill="#ee5f72"/><ellipse cx="663.5" cy="1617.2" rx="2.6" ry="2" transform="rotate(110.9 663.5 1617.2)" fill="#ee5f72"/><ellipse cx="666" cy="1642.8" rx="2.3" ry="2" transform="rotate(36 666 1642.8)" fill="#f26a7c"/><ellipse cx="584.7" cy="1636.3" rx="2.8" ry="2.3" transform="rotate(115 584.7 1636.3)" fill="#f58a98"/><ellipse cx="627.1" cy="1622.6" rx="2.7" ry="2.4" transform="rotate(92.1 627.1 1622.6)" fill="#f26a7c"/><ellipse cx="571.6" cy="1625.7" rx="2.9" ry="2.2" transform="rotate(26.7 571.6 1625.7)" fill="#f58a98"/><ellipse cx="517.5" cy="1641.6" rx="3" ry="2.3" transform="rotate(35.7 517.5 1641.6)" fill="#f26a7c"/><ellipse cx="615.6" cy="1627.6" rx="2.9" ry="2.2" transform="rotate(158 615.6 1627.6)" fill="#f26a7c"/><ellipse cx="592.9" cy="1640" rx="2.8" ry="2.8" transform="rotate(109.7 592.9 1640)" fill="#f26a7c"/><ellipse cx="609.1" cy="1616.4" rx="2.6" ry="2.5" transform="rotate(163.6 609.1 1616.4)" fill="#ee5f72"/><ellipse cx="519" cy="1634.4" rx="2.5" ry="1.8" transform="rotate(143.1 519 1634.4)" fill="#f58a98"/><ellipse cx="675.6" cy="1629" rx="2.5" ry="2.1" transform="rotate(149.3 675.6 1629)" fill="#f26a7c"/><ellipse cx="640.1" cy="1611.6" rx="2.4" ry="2.3" transform="rotate(118.4 640.1 1611.6)" fill="#f26a7c"/><ellipse cx="645.2" cy="1633.4" rx="2.8" ry="2.4" transform="rotate(41.3 645.2 1633.4)" fill="#ee5f72"/><ellipse cx="546.7" cy="1647" rx="2.2" ry="2" transform="rotate(41.7 546.7 1647)" fill="#f26a7c"/><ellipse cx="523.5" cy="1624.4" rx="2.5" ry="2.1" transform="rotate(76.9 523.5 1624.4)" fill="#f58a98"/><ellipse cx="672.7" cy="1613.7" rx="3" ry="2.1" transform="rotate(59.9 672.7 1613.7)" fill="#f58a98"/><ellipse cx="636.8" cy="1609.2" rx="2.6" ry="2.3" transform="rotate(113.1 636.8 1609.2)" fill="#f58a98"/><ellipse cx="650" cy="1615" rx="2.5" ry="2.2" transform="rotate(150.4 650 1615)" fill="#f26a7c"/><ellipse cx="584.9" cy="1618.5" rx="2.4" ry="2.1" transform="rotate(8.6 584.9 1618.5)" fill="#f26a7c"/><ellipse cx="556.2" cy="1620.7" rx="2.4" ry="2.2" transform="rotate(162.7 556.2 1620.7)" fill="#ee5f72"/><ellipse cx="632.5" cy="1620.4" rx="2.5" ry="1.8" transform="rotate(43.7 632.5 1620.4)" fill="#ee5f72"/><ellipse cx="616.4" cy="1637" rx="2.4" ry="2" transform="rotate(172.5 616.4 1637)" fill="#f26a7c"/><ellipse cx="529.6" cy="1611.8" rx="2.8" ry="2.4" transform="rotate(76.5 529.6 1611.8)" fill="#f58a98"/><ellipse cx="621.2" cy="1638.1" rx="2.3" ry="2.2" transform="rotate(75 621.2 1638.1)" fill="#f58a98"/><ellipse cx="593.8" cy="1619.5" rx="2.7" ry="2" transform="rotate(96.2 593.8 1619.5)" fill="#f58a98"/><ellipse cx="666.4" cy="1628.4" rx="2.9" ry="2.2" transform="rotate(22.2 666.4 1628.4)" fill="#f58a98"/><ellipse cx="551" cy="1636.6" rx="2.4" ry="1.8" transform="rotate(15.6 551 1636.6)" fill="#f58a98"/><ellipse cx="647.9" cy="1609.9" rx="2.2" ry="2.2" transform="rotate(66.7 647.9 1609.9)" fill="#f58a98"/><ellipse cx="547.5" cy="1642.2" rx="2.8" ry="2.5" transform="rotate(95.5 547.5 1642.2)" fill="#f58a98"/><ellipse cx="603.1" cy="1646.4" rx="2.6" ry="1.9" transform="rotate(107.2 603.1 1646.4)" fill="#ee5f72"/><ellipse cx="637.7" cy="1633.1" rx="2.8" ry="2.2" transform="rotate(66.8 637.7 1633.1)" fill="#f26a7c"/><ellipse cx="559.7" cy="1623.3" rx="2.4" ry="2.3" transform="rotate(37.4 559.7 1623.3)" fill="#f26a7c"/><ellipse cx="634.6" cy="1624.3" rx="2.5" ry="2.5" transform="rotate(160.9 634.6 1624.3)" fill="#f26a7c"/><ellipse cx="552" cy="1615" rx="2.6" ry="2.3" transform="rotate(106.5 552 1615)" fill="#ee5f72"/><ellipse cx="628.6" cy="1640.2" rx="2.4" ry="2.1" transform="rotate(10.5 628.6 1640.2)" fill="#ee5f72"/><ellipse cx="526.2" cy="1611.2" rx="2.3" ry="2.1" transform="rotate(88.7 526.2 1611.2)" fill="#ee5f72"/><ellipse cx="590.7" cy="1617" rx="2.2" ry="1.7" transform="rotate(154.5 590.7 1617)" fill="#ee5f72"/><ellipse cx="572" cy="1625.2" rx="2.4" ry="2.2" transform="rotate(69.1 572 1625.2)" fill="#f58a98"/><ellipse cx="600" cy="1624.2" rx="2.7" ry="2.3" transform="rotate(103.9 600 1624.2)" fill="#f58a98"/><path d="M608.5,1627.5 C623.5,1615.5 653.5,1613.5 678.5,1621.5 C663.5,1635.5 633.5,1637.5 608.5,1627.5 Z" fill="#fff"/><ellipse cx="708.9" cy="1598.9" rx="3.1" ry="1.8" transform="rotate(-8.8 708.9 1598.9)" fill="#6a3fa8"/><ellipse cx="687.8" cy="1595" rx="4" ry="2.1" transform="rotate(4.3 687.8 1595)" fill="#7b4fb6"/><ellipse cx="646.9" cy="1589.6" rx="4.4" ry="2.2" transform="rotate(3.7 646.9 1589.6)" fill="#5c3497"/><ellipse cx="525.3" cy="1587.1" rx="3.9" ry="2.5" transform="rotate(-2.3 525.3 1587.1)" fill="#7b4fb6"/><ellipse cx="523.4" cy="1589.2" rx="4.3" ry="2.4" transform="rotate(-19.9 523.4 1589.2)" fill="#7b4fb6"/><ellipse cx="571.8" cy="1598.6" rx="3.1" ry="1.9" transform="rotate(7.3 571.8 1598.6)" fill="#7b4fb6"/><ellipse cx="665.8" cy="1589.3" rx="4.2" ry="2.2" transform="rotate(-12.1 665.8 1589.3)" fill="#7b4fb6"/><ellipse cx="703.4" cy="1597.7" rx="4.4" ry="2.5" transform="rotate(3.9 703.4 1597.7)" fill="#8560c0"/><ellipse cx="725.8" cy="1590.5" rx="3.9" ry="2.1" transform="rotate(1.6 725.8 1590.5)" fill="#7b4fb6"/><ellipse cx="528.4" cy="1593.9" rx="3.2" ry="2" transform="rotate(2.6 528.4 1593.9)" fill="#7b4fb6"/><ellipse cx="717.4" cy="1590.8" rx="3.7" ry="2.1" transform="rotate(3.6 717.4 1590.8)" fill="#8560c0"/><ellipse cx="540.3" cy="1589.9" rx="3.1" ry="1.7" transform="rotate(2 540.3 1589.9)" fill="#5c3497"/><ellipse cx="716.5" cy="1599.3" rx="3.1" ry="1.8" transform="rotate(-4.9 716.5 1599.3)" fill="#5c3497"/><ellipse cx="590.4" cy="1596.5" rx="4.6" ry="2.4" transform="rotate(-4.5 590.4 1596.5)" fill="#7046ad"/><ellipse cx="547" cy="1587.8" rx="4" ry="2.2" transform="rotate(-9 547 1587.8)" fill="#8560c0"/><ellipse cx="554.3" cy="1594.3" rx="3.5" ry="1.8" transform="rotate(10 554.3 1594.3)" fill="#7046ad"/><ellipse cx="555" cy="1587.1" rx="3.9" ry="1.9" transform="rotate(-17.7 555 1587.1)" fill="#6a3fa8"/><ellipse cx="523.9" cy="1599.1" rx="3.9" ry="2.7" transform="rotate(6.9 523.9 1599.1)" fill="#5c3497"/><ellipse cx="673" cy="1585.7" rx="4.2" ry="2.1" transform="rotate(5.3 673 1585.7)" fill="#8560c0"/><ellipse cx="581.3" cy="1596" rx="4" ry="2.6" transform="rotate(-0.8 581.3 1596)" fill="#7b4fb6"/><ellipse cx="724.2" cy="1592.1" rx="4.5" ry="3" transform="rotate(-4.8 724.2 1592.1)" fill="#6a3fa8"/><ellipse cx="607.8" cy="1594.5" rx="3.4" ry="2" transform="rotate(-0.6 607.8 1594.5)" fill="#8560c0"/><ellipse cx="581.4" cy="1588.4" rx="3.2" ry="2.1" transform="rotate(5 581.4 1588.4)" fill="#7b4fb6"/><ellipse cx="667.1" cy="1593.9" rx="3.1" ry="2.1" transform="rotate(-5.8 667.1 1593.9)" fill="#7046ad"/><ellipse cx="662.8" cy="1587" rx="4.3" ry="2.3" transform="rotate(1.3 662.8 1587)" fill="#7b4fb6"/><ellipse cx="629.3" cy="1594.6" rx="3.4" ry="2" transform="rotate(-17.4 629.3 1594.6)" fill="#7046ad"/><ellipse cx="575.4" cy="1657.9" rx="3.3" ry="1.9" transform="rotate(-14.2 575.4 1657.9)" fill="#8560c0"/><ellipse cx="586.8" cy="1666.3" rx="4.3" ry="2.5" transform="rotate(-9 586.8 1666.3)" fill="#7b4fb6"/><ellipse cx="541.5" cy="1659.4" rx="4.2" ry="2.8" transform="rotate(10.6 541.5 1659.4)" fill="#6a3fa8"/><ellipse cx="689.6" cy="1664.6" rx="3.6" ry="2.1" transform="rotate(-10.2 689.6 1664.6)" fill="#8560c0"/><ellipse cx="640.9" cy="1655" rx="3.8" ry="2" transform="rotate(-9.6 640.9 1655)" fill="#8560c0"/><ellipse cx="515.7" cy="1659.5" rx="3.8" ry="2.3" transform="rotate(-11.3 515.7 1659.5)" fill="#8560c0"/><ellipse cx="622.4" cy="1658" rx="3.1" ry="1.8" transform="rotate(-5.9 622.4 1658)" fill="#6a3fa8"/><ellipse cx="668.6" cy="1663.9" rx="3" ry="1.6" transform="rotate(-6.5 668.6 1663.9)" fill="#5c3497"/><ellipse cx="642.6" cy="1660.3" rx="4" ry="2.1" transform="rotate(-10.2 642.6 1660.3)" fill="#8560c0"/><ellipse cx="675.6" cy="1662.6" rx="3.5" ry="2.4" transform="rotate(-10.9 675.6 1662.6)" fill="#6a3fa8"/><ellipse cx="519.3" cy="1658.9" rx="4.2" ry="2.9" transform="rotate(-10.9 519.3 1658.9)" fill="#5c3497"/><ellipse cx="643.7" cy="1654.7" rx="4.5" ry="2.5" transform="rotate(-11.9 643.7 1654.7)" fill="#8560c0"/><ellipse cx="547.5" cy="1664.3" rx="4.6" ry="2.5" transform="rotate(10.8 547.5 1664.3)" fill="#7b4fb6"/><ellipse cx="586.1" cy="1655.1" rx="3.3" ry="1.9" transform="rotate(-8.8 586.1 1655.1)" fill="#7046ad"/><ellipse cx="554.5" cy="1657.7" rx="4.6" ry="2.3" transform="rotate(-1.5 554.5 1657.7)" fill="#7b4fb6"/><ellipse cx="673.8" cy="1660.6" rx="4.7" ry="2.5" transform="rotate(-7.3 673.8 1660.6)" fill="#7046ad"/><ellipse cx="624.5" cy="1660.5" rx="3.6" ry="2" transform="rotate(0.1 624.5 1660.5)" fill="#5c3497"/><ellipse cx="693.7" cy="1664.8" rx="3.7" ry="2.6" transform="rotate(14 693.7 1664.8)" fill="#7b4fb6"/><ellipse cx="584" cy="1655.8" rx="4.5" ry="3.1" transform="rotate(13.9 584 1655.8)" fill="#7046ad"/><ellipse cx="617.9" cy="1660.7" rx="3.1" ry="1.8" transform="rotate(12.7 617.9 1660.7)" fill="#5c3497"/><ellipse cx="537.6" cy="1656.1" rx="3.1" ry="1.8" transform="rotate(1 537.6 1656.1)" fill="#5c3497"/><ellipse cx="704.1" cy="1662.6" rx="4.1" ry="2.6" transform="rotate(0.2 704.1 1662.6)" fill="#5c3497"/><ellipse cx="563" cy="1535.5" rx="36" ry="18" fill="#f27f8d" stroke="#c18ac8" stroke-width="3"/><ellipse cx="536.7" cy="1525.5" rx="2.7" ry="2.1" transform="rotate(116.5 536.7 1525.5)" fill="#f05a6e"/><ellipse cx="569.3" cy="1529" rx="2.4" ry="1.8" transform="rotate(119.3 569.3 1529)" fill="#f05a6e"/><ellipse cx="576.7" cy="1526.4" rx="2.4" ry="1.8" transform="rotate(53.3 576.7 1526.4)" fill="#f47486"/><ellipse cx="586.1" cy="1529.6" rx="2.7" ry="2.4" transform="rotate(169.5 586.1 1529.6)" fill="#f47486"/><ellipse cx="576.9" cy="1545.5" rx="2.7" ry="1.9" transform="rotate(133.3 576.9 1545.5)" fill="#f47486"/><ellipse cx="553.4" cy="1538.9" rx="2.3" ry="2.1" transform="rotate(69.3 553.4 1538.9)" fill="#f05a6e"/><ellipse cx="590.8" cy="1524.9" rx="2.5" ry="2.3" transform="rotate(83.2 590.8 1524.9)" fill="#f47486"/><ellipse cx="552.9" cy="1525.5" rx="2.5" ry="2.4" transform="rotate(138.1 552.9 1525.5)" fill="#f05a6e"/><ellipse cx="551.3" cy="1539.2" rx="2.8" ry="2.7" transform="rotate(29.5 551.3 1539.2)" fill="#f47486"/><ellipse cx="591.4" cy="1529.9" rx="2.8" ry="2.5" transform="rotate(157 591.4 1529.9)" fill="#f05a6e"/><ellipse cx="537" cy="1545.5" rx="2.9" ry="2.2" transform="rotate(1.1 537 1545.5)" fill="#f05a6e"/><ellipse cx="585.8" cy="1533.1" rx="2.8" ry="2.6" transform="rotate(4.8 585.8 1533.1)" fill="#f47486"/><ellipse cx="586.8" cy="1525.7" rx="2.3" ry="1.9" transform="rotate(116.6 586.8 1525.7)" fill="#f05a6e"/><ellipse cx="543.9" cy="1538.1" rx="2.8" ry="2.8" transform="rotate(71.9 543.9 1538.1)" fill="#f05a6e"/><ellipse cx="549.9" cy="1537" rx="2.7" ry="2.7" transform="rotate(78.9 549.9 1537)" fill="#f47486"/><ellipse cx="550.6" cy="1540.5" rx="2.7" ry="2" transform="rotate(53.9 550.6 1540.5)" fill="#f47486"/><ellipse cx="542.5" cy="1535" rx="2.5" ry="1.9" transform="rotate(118.7 542.5 1535)" fill="#f47486"/><ellipse cx="553.3" cy="1543.1" rx="2.3" ry="1.6" transform="rotate(127.3 553.3 1543.1)" fill="#f47486"/><ellipse cx="567" cy="1541.2" rx="2.9" ry="2.5" transform="rotate(116.6 567 1541.2)" fill="#f47486"/><ellipse cx="564" cy="1535.2" rx="3" ry="2.4" transform="rotate(76.4 564 1535.2)" fill="#f47486"/><ellipse cx="561.5" cy="1538.5" rx="2.2" ry="2" transform="rotate(68.3 561.5 1538.5)" fill="#f05a6e"/><ellipse cx="559.5" cy="1536.7" rx="2.7" ry="2.3" transform="rotate(4.4 559.5 1536.7)" fill="#f05a6e"/><ellipse cx="552.5" cy="1540.8" rx="2.5" ry="2.4" transform="rotate(102.5 552.5 1540.8)" fill="#f47486"/><ellipse cx="574.1" cy="1546.7" rx="2.2" ry="1.6" transform="rotate(16 574.1 1546.7)" fill="#f47486"/><ellipse cx="544.9" cy="1523.7" rx="3" ry="2.2" transform="rotate(158.7 544.9 1523.7)" fill="#f47486"/><ellipse cx="561.5" cy="1529.1" rx="2.4" ry="2" transform="rotate(55.3 561.5 1529.1)" fill="#f05a6e"/><ellipse cx="561.3" cy="1533.1" rx="2.3" ry="2.2" transform="rotate(101.3 561.3 1533.1)" fill="#f05a6e"/><ellipse cx="538" cy="1544.9" rx="2.5" ry="2" transform="rotate(46 538 1544.9)" fill="#f47486"/><ellipse cx="589.7" cy="1539.7" rx="2.4" ry="2" transform="rotate(68.5 589.7 1539.7)" fill="#f47486"/><ellipse cx="573.8" cy="1545.9" rx="2.2" ry="2.1" transform="rotate(152.9 573.8 1545.9)" fill="#f05a6e"/><g filter="url(#b1)"><path d="M498.5,1673.5 C583.5,1666.5 663.5,1674.5 747,1664.5" fill="none" stroke="#efb0cc" stroke-width="2.5" opacity="0.9"/><path d="M498.5,1679.5 C583.5,1672.5 663.5,1680.5 747,1670.5" fill="none" stroke="#e9a0c2" stroke-width="2.5" opacity="0.9"/><path d="M498.5,1685.5 C583.5,1678.5 663.5,1686.5 747,1676.5" fill="none" stroke="#efb0cc" stroke-width="2.5" opacity="0.9"/><path d="M498.5,1691.5 C583.5,1684.5 663.5,1692.5 747,1682.5" fill="none" stroke="#e9a0c2" stroke-width="2.5" opacity="0.9"/><path d="M498.5,1697.5 C583.5,1690.5 663.5,1698.5 747,1688.5" fill="none" stroke="#efb0cc" stroke-width="2.5" opacity="0.9"/><path d="M498.5,1703.5 C583.5,1696.5 663.5,1704.5 747,1694.5" fill="none" stroke="#e9a0c2" stroke-width="2.5" opacity="0.9"/><path d="M498.5,1709.5 C583.5,1702.5 663.5,1710.5 747,1700.5" fill="none" stroke="#efb0cc" stroke-width="2.5" opacity="0.9"/><path d="M498.5,1715.5 C583.5,1708.5 663.5,1716.5 747,1706.5" fill="none" stroke="#e9a0c2" stroke-width="2.5" opacity="0.9"/></g><g filter="url(#b1)"><ellipse cx="593" cy="1694.5" rx="42.5" ry="6.2" transform="rotate(-12.4 593 1694.5)" fill="#ffffff" opacity="1"/><ellipse cx="636.5" cy="1689.8" rx="36.1" ry="4.2" transform="rotate(3.3 636.5 1689.8)" fill="#ffffff" opacity="1"/><ellipse cx="629.5" cy="1678.3" rx="32" ry="4.3" transform="rotate(-6.3 629.5 1678.3)" fill="#ffffff" opacity="1"/><ellipse cx="554.2" cy="1695" rx="27.7" ry="5" transform="rotate(-7.8 554.2 1695)" fill="#ffffff" opacity="1"/></g><ellipse cx="613.1" cy="1507.9" rx="4" ry="2.4" transform="rotate(-13.2 613.1 1507.9)" fill="#5c3497"/><ellipse cx="737.9" cy="1507.4" rx="2.9" ry="2.2" transform="rotate(-20.2 737.9 1507.4)" fill="#7046ad"/><ellipse cx="680.7" cy="1559.5" rx="3.1" ry="2" transform="rotate(1.1 680.7 1559.5)" fill="#6a3fa8"/><ellipse cx="707.5" cy="1521.9" rx="3.6" ry="2.7" transform="rotate(-20.3 707.5 1521.9)" fill="#8560c0"/><ellipse cx="725.7" cy="1557.9" rx="3.1" ry="2.2" transform="rotate(-5.6 725.7 1557.9)" fill="#8560c0"/><ellipse cx="520.7" cy="1481.4" rx="3.1" ry="1.8" transform="rotate(-10.5 520.7 1481.4)" fill="#5c3497"/><ellipse cx="679.4" cy="1530.5" rx="4.1" ry="2.7" transform="rotate(-21.2 679.4 1530.5)" fill="#8560c0"/><ellipse cx="730.9" cy="1539.7" rx="4.2" ry="3.3" transform="rotate(-22.4 730.9 1539.7)" fill="#8560c0"/><ellipse cx="647.4" cy="1522" rx="3.9" ry="2.2" transform="rotate(-6.7 647.4 1522)" fill="#6a3fa8"/><ellipse cx="592.5" cy="1487.5" rx="3.8" ry="2.1" transform="rotate(-14.9 592.5 1487.5)" fill="#5c3497"/><ellipse cx="510" cy="1504.8" rx="3.1" ry="2.2" transform="rotate(-3.8 510 1504.8)" fill="#5c3497"/><ellipse cx="601.4" cy="1547.5" rx="3.7" ry="2.5" transform="rotate(-1.6 601.4 1547.5)" fill="#5c3497"/><ellipse cx="735.2" cy="1521.4" rx="4.1" ry="2.9" transform="rotate(-10.7 735.2 1521.4)" fill="#5c3497"/><ellipse cx="659.8" cy="1505.6" rx="4.1" ry="2.6" transform="rotate(-6.3 659.8 1505.6)" fill="#6a3fa8"/><ellipse cx="708.5" cy="1554.7" rx="3.7" ry="2.7" transform="rotate(-7.4 708.5 1554.7)" fill="#7b4fb6"/><ellipse cx="606.7" cy="1561.3" rx="3" ry="1.8" transform="rotate(-15.6 606.7 1561.3)" fill="#5c3497"/><ellipse cx="559.5" cy="1568.4" rx="3.5" ry="2.7" transform="rotate(-18.5 559.5 1568.4)" fill="#7046ad"/><ellipse cx="712.2" cy="1559.7" rx="3" ry="2.2" transform="rotate(-7.9 712.2 1559.7)" fill="#8560c0"/><ellipse cx="546.3" cy="1507.7" rx="3.8" ry="2.3" transform="rotate(-9 546.3 1507.7)" fill="#7b4fb6"/><ellipse cx="630.1" cy="1492.9" rx="4" ry="2.7" transform="rotate(-4.3 630.1 1492.9)" fill="#5c3497"/><ellipse cx="653.2" cy="1506" rx="3.8" ry="2.5" transform="rotate(-11.3 653.2 1506)" fill="#7b4fb6"/><ellipse cx="549.9" cy="1519.9" rx="3.4" ry="2.6" transform="rotate(-15.8 549.9 1519.9)" fill="#7046ad"/><ellipse cx="715.7" cy="1477.9" rx="3" ry="1.9" transform="rotate(-6.9 715.7 1477.9)" fill="#7046ad"/><ellipse cx="602.8" cy="1515" rx="4" ry="2.4" transform="rotate(-1.4 602.8 1515)" fill="#5c3497"/><ellipse cx="592.5" cy="1541.6" rx="3.9" ry="2.6" transform="rotate(-17.8 592.5 1541.6)" fill="#7b4fb6"/><ellipse cx="562.4" cy="1484.7" rx="3.4" ry="2.4" transform="rotate(-13.4 562.4 1484.7)" fill="#7b4fb6"/><ellipse cx="731.7" cy="1565.2" rx="3.9" ry="2.9" transform="rotate(-2.3 731.7 1565.2)" fill="#7046ad"/><ellipse cx="516.1" cy="1477.4" rx="2.9" ry="1.8" transform="rotate(-3.2 516.1 1477.4)" fill="#6a3fa8"/><ellipse cx="511" cy="1684.7" rx="3.6" ry="2.8" transform="rotate(-12.6 511 1684.7)" fill="#8560c0"/><ellipse cx="524.1" cy="1690.6" rx="3.9" ry="3" transform="rotate(-1.4 524.1 1690.6)" fill="#8560c0"/><ellipse cx="546.4" cy="1670" rx="2.9" ry="1.8" transform="rotate(-15.5 546.4 1670)" fill="#6a3fa8"/><ellipse cx="651.4" cy="1681.4" rx="3.9" ry="2.7" transform="rotate(3 651.4 1681.4)" fill="#8560c0"/><ellipse cx="564.7" cy="1693.6" rx="4" ry="2.2" transform="rotate(-2.3 564.7 1693.6)" fill="#8560c0"/><ellipse cx="741.4" cy="1680" rx="3.5" ry="2.5" transform="rotate(-2.2 741.4 1680)" fill="#7046ad"/><ellipse cx="651.6" cy="1707.6" rx="3" ry="2.2" transform="rotate(7.4 651.6 1707.6)" fill="#6a3fa8"/><ellipse cx="729.7" cy="1687.6" rx="3.3" ry="2.6" transform="rotate(8.2 729.7 1687.6)" fill="#8560c0"/><ellipse cx="687.9" cy="1709.5" rx="4.1" ry="2.8" transform="rotate(-18.3 687.9 1709.5)" fill="#8560c0"/><ellipse cx="608.1" cy="1676.7" rx="3.8" ry="2.7" transform="rotate(8.1 608.1 1676.7)" fill="#6a3fa8"/><ellipse cx="667.9" cy="1678.3" rx="3.3" ry="2.2" transform="rotate(8.2 667.9 1678.3)" fill="#6a3fa8"/><ellipse cx="654.4" cy="1681.9" rx="3.2" ry="2.2" transform="rotate(-17.4 654.4 1681.9)" fill="#8560c0"/><ellipse cx="612.8" cy="1709.1" rx="4.1" ry="2.8" transform="rotate(-10.1 612.8 1709.1)" fill="#6a3fa8"/><ellipse cx="643.9" cy="1688.2" rx="3.7" ry="2.9" transform="rotate(2.6 643.9 1688.2)" fill="#8560c0"/><ellipse cx="536.3" cy="1674.6" rx="3.8" ry="3" transform="rotate(5.1 536.3 1674.6)" fill="#7b4fb6"/><ellipse cx="569.9" cy="1678" rx="4.2" ry="3.2" transform="rotate(-6.5 569.9 1678)" fill="#8560c0"/><ellipse cx="698.1" cy="1697" rx="3.9" ry="2.7" transform="rotate(8.3 698.1 1697)" fill="#5c3497"/><ellipse cx="606.1" cy="1701.5" rx="4.1" ry="2.3" transform="rotate(-12.4 606.1 1701.5)" fill="#5c3497"/><circle cx="519.5" cy="1485.7" r="10.8" fill="none" stroke="#111" stroke-width="2.3" stroke-dasharray="6 4"/><circle cx="519.5" cy="1545.9" r="10.8" fill="none" stroke="#111" stroke-width="2.3" stroke-dasharray="6 4"/><circle cx="537.2" cy="1575.9" r="10.8" fill="none" stroke="#111" stroke-width="2.3" stroke-dasharray="6 4"/></g>
<g clip-path="url(#hc3)"><rect x="748.3" y="1475.5" width="238.5" height="238.6" fill="#e7a9cb"/><rect x="748.3" y="1475.5" width="238.5" height="238.6" fill="#000" filter="url(#fib)" opacity="0.5"/><g filter="url(#b6)"><ellipse cx="982.1" cy="1597.7" rx="34.5" ry="6.7" transform="rotate(67.8 982.1 1597.7)" fill="#dc8fbb" opacity="0.8"/><ellipse cx="945.6" cy="1510.6" rx="32.4" ry="10.9" transform="rotate(162.4 945.6 1510.6)" fill="#efbfd8" opacity="0.8"/><ellipse cx="861.6" cy="1576.8" rx="30.8" ry="14.9" transform="rotate(174.4 861.6 1576.8)" fill="#d9a2d2" opacity="0.8"/><ellipse cx="978.5" cy="1511.5" rx="27.2" ry="12.3" transform="rotate(169.7 978.5 1511.5)" fill="#dc8fbb" opacity="0.8"/><ellipse cx="910.4" cy="1500" rx="25" ry="10.4" transform="rotate(172.5 910.4 1500)" fill="#d9a2d2" opacity="0.8"/><ellipse cx="828.8" cy="1523.4" rx="25.4" ry="11.8" transform="rotate(169 828.8 1523.4)" fill="#efbfd8" opacity="0.8"/><ellipse cx="888.8" cy="1534.8" rx="33.6" ry="10.4" transform="rotate(85.7 888.8 1534.8)" fill="#dc8fbb" opacity="0.8"/><ellipse cx="794.4" cy="1644.6" rx="30.4" ry="7.7" transform="rotate(82.8 794.4 1644.6)" fill="#efbfd8" opacity="0.8"/><ellipse cx="831.8" cy="1509.7" rx="19.4" ry="14.7" transform="rotate(68.8 831.8 1509.7)" fill="#f3cfe2" opacity="0.8"/><ellipse cx="929.5" cy="1476.4" rx="33.3" ry="10.8" transform="rotate(147.6 929.5 1476.4)" fill="#d9a2d2" opacity="0.8"/><ellipse cx="809.6" cy="1562.8" rx="22" ry="14.8" transform="rotate(89.9 809.6 1562.8)" fill="#f3cfe2" opacity="0.8"/><ellipse cx="985.4" cy="1699.1" rx="22.9" ry="8.8" transform="rotate(145.3 985.4 1699.1)" fill="#dc8fbb" opacity="0.8"/><ellipse cx="766.1" cy="1566.9" rx="32.5" ry="14.3" transform="rotate(14.2 766.1 1566.9)" fill="#dc8fbb" opacity="0.8"/><ellipse cx="941.9" cy="1626.3" rx="19.8" ry="10.6" transform="rotate(12.9 941.9 1626.3)" fill="#f3cfe2" opacity="0.8"/></g><circle cx="800.7" cy="1500.5" r="12" fill="#fff" stroke="#e9b3cf" stroke-width="1"/><circle cx="849.3" cy="1553.5" r="10" fill="#fff" stroke="#e9b3cf" stroke-width="1"/><circle cx="869.3" cy="1547.5" r="12" fill="#fff" stroke="#e9b3cf" stroke-width="1"/><circle cx="909.3" cy="1553.5" r="10" fill="#fff" stroke="#e9b3cf" stroke-width="1"/><circle cx="923.8" cy="1562" r="10" fill="#fff" stroke="#e9b3cf" stroke-width="1"/><circle cx="936.3" cy="1559.1" r="8" fill="#fff" stroke="#e9b3cf" stroke-width="1"/><circle cx="892.3" cy="1564.8" r="6" fill="#fff" stroke="#e9b3cf" stroke-width="1"/><circle cx="764.9" cy="1602" r="14" fill="#fff" stroke="#e9b3cf" stroke-width="1"/><circle cx="774.9" cy="1630.5" r="16" fill="#fff" stroke="#e9b3cf" stroke-width="1"/><circle cx="803.3" cy="1590.5" r="14" fill="#fff" stroke="#e9b3cf" stroke-width="1"/><circle cx="812.1" cy="1607.8" r="14" fill="#fff" stroke="#e9b3cf" stroke-width="1"/><circle cx="786.3" cy="1573.5" r="6" fill="#fff" stroke="#e9b3cf" stroke-width="1"/><circle cx="757.7" cy="1653.5" r="12" fill="#fff" stroke="#e9b3cf" stroke-width="1"/><circle cx="808.3" cy="1628.5" r="8" fill="#fff" stroke="#e9b3cf" stroke-width="1"/><circle cx="828.3" cy="1490.5" r="6" fill="#fff" stroke="#e9b3cf" stroke-width="1"/><circle cx="892.3" cy="1647.8" r="37" fill="#e48fb4" stroke="#d88bb5" stroke-width="2"/><ellipse cx="904.3" cy="1650.1" rx="5.4" ry="1.7" transform="rotate(56.1 904.3 1650.1)" fill="#7b4fb6"/><ellipse cx="893.7" cy="1638.7" rx="5.3" ry="2" transform="rotate(63.5 893.7 1638.7)" fill="#5c3497"/><ellipse cx="870.9" cy="1632.1" rx="4.1" ry="1.5" transform="rotate(48.4 870.9 1632.1)" fill="#7046ad"/><ellipse cx="902.6" cy="1647.7" rx="5" ry="1.9" transform="rotate(73 902.6 1647.7)" fill="#8560c0"/><ellipse cx="898.4" cy="1624.2" rx="4.3" ry="1.7" transform="rotate(67.7 898.4 1624.2)" fill="#7b4fb6"/><ellipse cx="894.3" cy="1641.3" rx="5.5" ry="1.8" transform="rotate(53.5 894.3 1641.3)" fill="#6a3fa8"/><ellipse cx="882.9" cy="1643.4" rx="5.8" ry="2.5" transform="rotate(63.9 882.9 1643.4)" fill="#8560c0"/><ellipse cx="868" cy="1635.7" rx="5" ry="2.2" transform="rotate(55.9 868 1635.7)" fill="#7046ad"/><ellipse cx="896.4" cy="1669.3" rx="4.7" ry="1.9" transform="rotate(60.8 896.4 1669.3)" fill="#5c3497"/><ellipse cx="900.6" cy="1647.6" rx="4.2" ry="1.8" transform="rotate(74.1 900.6 1647.6)" fill="#8560c0"/><ellipse cx="896.3" cy="1643.5" rx="23" ry="20" fill="#fff"/><ellipse cx="905.7" cy="1641.4" rx="2.7" ry="2.5" transform="rotate(142.1 905.7 1641.4)" fill="#e85a6a"/><ellipse cx="884.3" cy="1655.4" rx="2.4" ry="2.4" transform="rotate(41.8 884.3 1655.4)" fill="#f06a7a"/><ellipse cx="897.2" cy="1652.8" rx="3" ry="2.7" transform="rotate(70.5 897.2 1652.8)" fill="#f06a7a"/><ellipse cx="903.3" cy="1642.2" rx="2.9" ry="2.7" transform="rotate(68.3 903.3 1642.2)" fill="#e85a6a"/><ellipse cx="904.3" cy="1634.6" rx="2.9" ry="2.7" transform="rotate(116.5 904.3 1634.6)" fill="#e85a6a"/><ellipse cx="904.3" cy="1648" rx="2.9" ry="2.4" transform="rotate(57.6 904.3 1648)" fill="#f06a7a"/><ellipse cx="892.5" cy="1639.7" rx="2.6" ry="2.4" transform="rotate(113.9 892.5 1639.7)" fill="#f06a7a"/><ellipse cx="904.3" cy="1656.1" rx="2.7" ry="2" transform="rotate(112.6 904.3 1656.1)" fill="#e85a6a"/><ellipse cx="882.4" cy="1649.1" rx="3" ry="2.5" transform="rotate(3.5 882.4 1649.1)" fill="#e85a6a"/><ellipse cx="909.5" cy="1637" rx="2.9" ry="2.3" transform="rotate(70.8 909.5 1637)" fill="#e85a6a"/><ellipse cx="885.7" cy="1633.9" rx="2.8" ry="2.6" transform="rotate(112.1 885.7 1633.9)" fill="#e85a6a"/><ellipse cx="889.2" cy="1654.4" rx="2.3" ry="2" transform="rotate(160.2 889.2 1654.4)" fill="#f06a7a"/><ellipse cx="897.3" cy="1649" rx="2.8" ry="2.6" transform="rotate(40.3 897.3 1649)" fill="#e85a6a"/><ellipse cx="907.9" cy="1645" rx="2.9" ry="2.7" transform="rotate(132.1 907.9 1645)" fill="#e85a6a"/><ellipse cx="909.1" cy="1635.5" rx="2.9" ry="2.3" transform="rotate(40.3 909.1 1635.5)" fill="#f06a7a"/><ellipse cx="895.3" cy="1636.3" rx="2.8" ry="2.2" transform="rotate(85.2 895.3 1636.3)" fill="#e85a6a"/><ellipse cx="904.6" cy="1641.8" rx="2.9" ry="2.5" transform="rotate(138.9 904.6 1641.8)" fill="#e85a6a"/><ellipse cx="910.3" cy="1650" rx="2.5" ry="2.1" transform="rotate(169.3 910.3 1650)" fill="#e85a6a"/><ellipse cx="968.8" cy="1535.3" rx="3.7" ry="2.7" transform="rotate(35 968.8 1535.3)" fill="#7b4fb6"/><ellipse cx="916.5" cy="1551.8" rx="4.7" ry="3.4" transform="rotate(166.8 916.5 1551.8)" fill="#5c3497"/><ellipse cx="827.3" cy="1483.8" rx="3.5" ry="3.1" transform="rotate(45.1 827.3 1483.8)" fill="#6a3fa8"/><ellipse cx="985.7" cy="1575" rx="4.4" ry="3.5" transform="rotate(84.4 985.7 1575)" fill="#7b4fb6"/><ellipse cx="962.3" cy="1484.2" rx="3.9" ry="3.1" transform="rotate(131.1 962.3 1484.2)" fill="#8560c0"/><ellipse cx="749.1" cy="1498.9" rx="3.6" ry="2.7" transform="rotate(138.2 749.1 1498.9)" fill="#5c3497"/><ellipse cx="925.4" cy="1696.8" rx="3.9" ry="3" transform="rotate(161.1 925.4 1696.8)" fill="#7b4fb6"/><ellipse cx="962.6" cy="1703.6" rx="4.5" ry="4.1" transform="rotate(102 962.6 1703.6)" fill="#7b4fb6"/><ellipse cx="948.5" cy="1553.3" rx="4.6" ry="4" transform="rotate(151.1 948.5 1553.3)" fill="#6a3fa8"/><ellipse cx="909.6" cy="1534.9" rx="3.3" ry="2.5" transform="rotate(35.2 909.6 1534.9)" fill="#5c3497"/><ellipse cx="964.2" cy="1602.7" rx="4.5" ry="4.2" transform="rotate(155.9 964.2 1602.7)" fill="#6a3fa8"/><ellipse cx="882" cy="1656.6" rx="4.9" ry="3.8" transform="rotate(126.2 882 1656.6)" fill="#5c3497"/><ellipse cx="975.6" cy="1533.1" rx="3.3" ry="2.6" transform="rotate(94 975.6 1533.1)" fill="#8560c0"/><ellipse cx="797.5" cy="1710.5" rx="4" ry="3.2" transform="rotate(13.2 797.5 1710.5)" fill="#7046ad"/><ellipse cx="850.9" cy="1709.1" rx="4" ry="3.5" transform="rotate(0.4 850.9 1709.1)" fill="#6a3fa8"/><ellipse cx="913.4" cy="1509.5" rx="4.1" ry="3.7" transform="rotate(64.4 913.4 1509.5)" fill="#7046ad"/><ellipse cx="920" cy="1543.7" rx="4.3" ry="3.7" transform="rotate(58.4 920 1543.7)" fill="#7046ad"/><ellipse cx="924.7" cy="1508.4" rx="3.8" ry="3.4" transform="rotate(90.2 924.7 1508.4)" fill="#8560c0"/><ellipse cx="770.7" cy="1637.3" rx="4.8" ry="3.4" transform="rotate(0.8 770.7 1637.3)" fill="#7b4fb6"/><ellipse cx="975.9" cy="1620.9" rx="3.7" ry="2.6" transform="rotate(78.7 975.9 1620.9)" fill="#7046ad"/><ellipse cx="851.3" cy="1596.3" rx="4.1" ry="2.8" transform="rotate(26.1 851.3 1596.3)" fill="#6a3fa8"/><ellipse cx="943.8" cy="1511.5" rx="4.4" ry="3" transform="rotate(117.6 943.8 1511.5)" fill="#6a3fa8"/><ellipse cx="852" cy="1595.5" rx="4.5" ry="3.4" transform="rotate(164.5 852 1595.5)" fill="#6a3fa8"/><ellipse cx="924" cy="1618.5" rx="4.4" ry="4.1" transform="rotate(4.5 924 1618.5)" fill="#5c3497"/><ellipse cx="985.5" cy="1587" rx="4.8" ry="3.2" transform="rotate(100.4 985.5 1587)" fill="#5c3497"/><ellipse cx="884" cy="1699.7" rx="3.8" ry="2.7" transform="rotate(114.2 884 1699.7)" fill="#6a3fa8"/><ellipse cx="787.1" cy="1693.3" rx="3.6" ry="2.4" transform="rotate(40.9 787.1 1693.3)" fill="#6a3fa8"/><ellipse cx="966.4" cy="1500.5" rx="4.1" ry="3.4" transform="rotate(89.5 966.4 1500.5)" fill="#5c3497"/><ellipse cx="762.7" cy="1599.4" rx="3.4" ry="2.3" transform="rotate(46.9 762.7 1599.4)" fill="#7046ad"/><ellipse cx="765.1" cy="1478.5" rx="4.8" ry="4.3" transform="rotate(134 765.1 1478.5)" fill="#7046ad"/><ellipse cx="937.2" cy="1541.9" rx="4.2" ry="3.7" transform="rotate(131.6 937.2 1541.9)" fill="#7046ad"/><ellipse cx="938.5" cy="1600" rx="4.4" ry="2.9" transform="rotate(67.8 938.5 1600)" fill="#6a3fa8"/><ellipse cx="825.1" cy="1561.2" rx="4.9" ry="4.5" transform="rotate(105.2 825.1 1561.2)" fill="#7046ad"/><ellipse cx="795.5" cy="1631.1" rx="5" ry="3.4" transform="rotate(69.5 795.5 1631.1)" fill="#7b4fb6"/><ellipse cx="829.8" cy="1644.8" rx="4.7" ry="3.1" transform="rotate(67 829.8 1644.8)" fill="#6a3fa8"/><ellipse cx="977.4" cy="1657.3" rx="4.3" ry="4.1" transform="rotate(71.2 977.4 1657.3)" fill="#6a3fa8"/><ellipse cx="939.4" cy="1535" rx="3.7" ry="3.4" transform="rotate(112.4 939.4 1535)" fill="#5c3497"/><ellipse cx="786.3" cy="1550.5" rx="4.9" ry="3.8" transform="rotate(7.9 786.3 1550.5)" fill="#7046ad"/><ellipse cx="804" cy="1616.2" rx="4.8" ry="3.7" transform="rotate(143 804 1616.2)" fill="#5c3497"/><ellipse cx="822.4" cy="1539.4" rx="4.2" ry="3.4" transform="rotate(155.4 822.4 1539.4)" fill="#6a3fa8"/><ellipse cx="856.3" cy="1629.6" rx="4" ry="3.4" transform="rotate(17.4 856.3 1629.6)" fill="#8560c0"/><ellipse cx="961.5" cy="1690.8" rx="3.9" ry="2.5" transform="rotate(82.6 961.5 1690.8)" fill="#7046ad"/><ellipse cx="909.4" cy="1523.2" rx="3.5" ry="2.7" transform="rotate(107.9 909.4 1523.2)" fill="#7b4fb6"/><ellipse cx="914.9" cy="1615.7" rx="4.4" ry="3.4" transform="rotate(89.7 914.9 1615.7)" fill="#7046ad"/><ellipse cx="773.8" cy="1713.3" rx="3.5" ry="3.1" transform="rotate(135.3 773.8 1713.3)" fill="#6a3fa8"/><ellipse cx="874.6" cy="1607" rx="3.8" ry="2.6" transform="rotate(113.2 874.6 1607)" fill="#5c3497"/><ellipse cx="894.9" cy="1554.4" rx="4.9" ry="4.5" transform="rotate(83.2 894.9 1554.4)" fill="#7046ad"/><ellipse cx="799.5" cy="1647.5" rx="3.5" ry="2.6" transform="rotate(172.3 799.5 1647.5)" fill="#6a3fa8"/><ellipse cx="784.9" cy="1689" rx="4.2" ry="3" transform="rotate(105.1 784.9 1689)" fill="#8560c0"/><ellipse cx="933.8" cy="1565.5" rx="3.8" ry="2.6" transform="rotate(23 933.8 1565.5)" fill="#7046ad"/><ellipse cx="871.6" cy="1570" rx="3.3" ry="2.3" transform="rotate(8.7 871.6 1570)" fill="#6a3fa8"/><ellipse cx="750.5" cy="1634.2" rx="3.4" ry="2.6" transform="rotate(168.2 750.5 1634.2)" fill="#8560c0"/><ellipse cx="769.9" cy="1569.1" rx="3.6" ry="3.2" transform="rotate(15.2 769.9 1569.1)" fill="#7b4fb6"/><ellipse cx="929.2" cy="1695.5" rx="4.6" ry="3.3" transform="rotate(178 929.2 1695.5)" fill="#8560c0"/><ellipse cx="909.7" cy="1565.7" rx="3.4" ry="2.7" transform="rotate(23.5 909.7 1565.7)" fill="#5c3497"/><ellipse cx="903.9" cy="1654.4" rx="4.3" ry="3.4" transform="rotate(150.6 903.9 1654.4)" fill="#7b4fb6"/><ellipse cx="952.8" cy="1484.3" rx="4.5" ry="4" transform="rotate(77.1 952.8 1484.3)" fill="#7046ad"/><ellipse cx="933" cy="1482.2" rx="4.8" ry="3.9" transform="rotate(105.4 933 1482.2)" fill="#5c3497"/><ellipse cx="906.8" cy="1587.3" rx="3.7" ry="2.7" transform="rotate(2.6 906.8 1587.3)" fill="#6a3fa8"/><ellipse cx="952.3" cy="1707.6" rx="4.4" ry="3.3" transform="rotate(72.2 952.3 1707.6)" fill="#7b4fb6"/><ellipse cx="941.9" cy="1589.4" rx="3.9" ry="3.5" transform="rotate(19.5 941.9 1589.4)" fill="#5c3497"/><ellipse cx="842.8" cy="1686.2" rx="5" ry="3.6" transform="rotate(140.5 842.8 1686.2)" fill="#6a3fa8"/><ellipse cx="773.3" cy="1632.9" rx="3.4" ry="2.4" transform="rotate(20.1 773.3 1632.9)" fill="#8560c0"/><ellipse cx="871.5" cy="1557.1" rx="5" ry="4.4" transform="rotate(51.2 871.5 1557.1)" fill="#5c3497"/><ellipse cx="982.6" cy="1627.2" rx="3.5" ry="2.6" transform="rotate(172.5 982.6 1627.2)" fill="#7046ad"/><ellipse cx="757" cy="1612" rx="3.6" ry="3.1" transform="rotate(0.8 757 1612)" fill="#7046ad"/><ellipse cx="925" cy="1603.7" rx="4.3" ry="3.5" transform="rotate(150.1 925 1603.7)" fill="#8560c0"/><ellipse cx="766" cy="1556.7" rx="3.6" ry="2.8" transform="rotate(108.8 766 1556.7)" fill="#5c3497"/><ellipse cx="845.1" cy="1663" rx="3.2" ry="2.3" transform="rotate(16.3 845.1 1663)" fill="#6a3fa8"/><ellipse cx="892.3" cy="1639.1" rx="3.8" ry="3.3" transform="rotate(65 892.3 1639.1)" fill="#7b4fb6"/><ellipse cx="888.3" cy="1485.1" rx="3.8" ry="2.5" transform="rotate(119.5 888.3 1485.1)" fill="#8560c0"/><ellipse cx="952.5" cy="1685.3" rx="4.2" ry="2.9" transform="rotate(54.3 952.5 1685.3)" fill="#5c3497"/><ellipse cx="900.6" cy="1639.3" rx="4.5" ry="3" transform="rotate(130.4 900.6 1639.3)" fill="#6a3fa8"/><ellipse cx="768" cy="1597.2" rx="4" ry="3.6" transform="rotate(16 768 1597.2)" fill="#7b4fb6"/><ellipse cx="925" cy="1555.3" rx="4.4" ry="3.1" transform="rotate(135.1 925 1555.3)" fill="#8560c0"/><ellipse cx="913.3" cy="1658.8" rx="4.3" ry="3.5" transform="rotate(120.7 913.3 1658.8)" fill="#5c3497"/><ellipse cx="777" cy="1634.7" rx="3.5" ry="2.7" transform="rotate(20.7 777 1634.7)" fill="#5c3497"/><ellipse cx="800.1" cy="1648.3" rx="4.3" ry="3.5" transform="rotate(122.9 800.1 1648.3)" fill="#8560c0"/><ellipse cx="841.3" cy="1589.1" rx="4" ry="3.5" transform="rotate(146.4 841.3 1589.1)" fill="#6a3fa8"/><ellipse cx="750.8" cy="1553" rx="5" ry="3.6" transform="rotate(64.9 750.8 1553)" fill="#7b4fb6"/><ellipse cx="788.2" cy="1676.3" rx="3.5" ry="2.7" transform="rotate(38.2 788.2 1676.3)" fill="#7b4fb6"/><ellipse cx="880.6" cy="1561.5" rx="4.9" ry="3.9" transform="rotate(129.1 880.6 1561.5)" fill="#6a3fa8"/><ellipse cx="754.8" cy="1675.5" rx="4.3" ry="3.2" transform="rotate(2.2 754.8 1675.5)" fill="#6a3fa8"/><ellipse cx="785.1" cy="1644.8" rx="4" ry="3.7" transform="rotate(127.9 785.1 1644.8)" fill="#8560c0"/><ellipse cx="972.2" cy="1678.8" rx="3.4" ry="3.1" transform="rotate(33.1 972.2 1678.8)" fill="#7046ad"/><ellipse cx="782.3" cy="1548.4" rx="4.7" ry="3.6" transform="rotate(97.3 782.3 1548.4)" fill="#5c3497"/><ellipse cx="867.8" cy="1626.1" rx="4" ry="2.7" transform="rotate(103 867.8 1626.1)" fill="#6a3fa8"/><ellipse cx="757" cy="1522.4" rx="4.9" ry="4.6" transform="rotate(92.1 757 1522.4)" fill="#7046ad"/><ellipse cx="834.7" cy="1580.1" rx="3.8" ry="3" transform="rotate(25.4 834.7 1580.1)" fill="#8560c0"/><ellipse cx="979.6" cy="1526.6" rx="3.4" ry="2.8" transform="rotate(64.7 979.6 1526.6)" fill="#5c3497"/><ellipse cx="928.1" cy="1519.4" rx="4.2" ry="2.9" transform="rotate(43.3 928.1 1519.4)" fill="#6a3fa8"/><ellipse cx="977.8" cy="1530.2" rx="4.3" ry="3.3" transform="rotate(173.5 977.8 1530.2)" fill="#7046ad"/><ellipse cx="835.1" cy="1616.6" rx="4.8" ry="3.3" transform="rotate(157.9 835.1 1616.6)" fill="#5c3497"/><ellipse cx="813.5" cy="1507.5" rx="4.3" ry="3.8" transform="rotate(161 813.5 1507.5)" fill="#8560c0"/><ellipse cx="867.3" cy="1524.6" rx="3.2" ry="2.5" transform="rotate(108.2 867.3 1524.6)" fill="#6a3fa8"/><ellipse cx="915.6" cy="1640.9" rx="3.6" ry="3.4" transform="rotate(142 915.6 1640.9)" fill="#7b4fb6"/><ellipse cx="904.3" cy="1670" rx="4.9" ry="3.7" transform="rotate(78 904.3 1670)" fill="#8560c0"/><ellipse cx="846.8" cy="1712.5" rx="3.5" ry="2.8" transform="rotate(146.3 846.8 1712.5)" fill="#7046ad"/><ellipse cx="904.9" cy="1572.8" rx="4.6" ry="3.4" transform="rotate(93.6 904.9 1572.8)" fill="#8560c0"/><ellipse cx="789" cy="1522.1" rx="4.8" ry="3.3" transform="rotate(177.3 789 1522.1)" fill="#8560c0"/><ellipse cx="831.9" cy="1709" rx="4.5" ry="3.6" transform="rotate(22.2 831.9 1709)" fill="#8560c0"/><ellipse cx="885.6" cy="1652.7" rx="4.5" ry="3.4" transform="rotate(12.9 885.6 1652.7)" fill="#7046ad"/><ellipse cx="978.7" cy="1696.7" rx="3.8" ry="3.4" transform="rotate(53.2 978.7 1696.7)" fill="#6a3fa8"/><ellipse cx="984.3" cy="1504.7" rx="4.3" ry="3.7" transform="rotate(148.4 984.3 1504.7)" fill="#7b4fb6"/><ellipse cx="973.1" cy="1495.7" rx="4.5" ry="3.9" transform="rotate(50 973.1 1495.7)" fill="#7046ad"/><ellipse cx="953.7" cy="1564.8" rx="4.4" ry="3.3" transform="rotate(82.1 953.7 1564.8)" fill="#8560c0"/><ellipse cx="983.1" cy="1528.9" rx="4.7" ry="3.2" transform="rotate(116.4 983.1 1528.9)" fill="#8560c0"/><ellipse cx="832.9" cy="1668.3" rx="4.6" ry="4.3" transform="rotate(128.6 832.9 1668.3)" fill="#7046ad"/><ellipse cx="936.1" cy="1570.3" rx="4.7" ry="4.2" transform="rotate(47.7 936.1 1570.3)" fill="#6a3fa8"/><ellipse cx="983.5" cy="1591.2" rx="4.7" ry="3.1" transform="rotate(59.1 983.5 1591.2)" fill="#8560c0"/><ellipse cx="865" cy="1538.6" rx="3.9" ry="3.5" transform="rotate(61.1 865 1538.6)" fill="#5c3497"/><ellipse cx="885" cy="1497.4" rx="4.3" ry="3.4" transform="rotate(165.4 885 1497.4)" fill="#6a3fa8"/><ellipse cx="888.7" cy="1487.7" rx="4.8" ry="4.5" transform="rotate(15.2 888.7 1487.7)" fill="#7b4fb6"/><ellipse cx="912.3" cy="1492.9" rx="3.9" ry="3" transform="rotate(11.8 912.3 1492.9)" fill="#8560c0"/><ellipse cx="913.2" cy="1519.4" rx="3.7" ry="2.5" transform="rotate(121.9 913.2 1519.4)" fill="#6a3fa8"/><ellipse cx="984.8" cy="1527.6" rx="3.6" ry="2.6" transform="rotate(2.7 984.8 1527.6)" fill="#5c3497"/><ellipse cx="846.6" cy="1544.6" rx="3.3" ry="2.6" transform="rotate(116.8 846.6 1544.6)" fill="#7046ad"/><ellipse cx="954.5" cy="1522.8" rx="4.5" ry="3" transform="rotate(18.3 954.5 1522.8)" fill="#6a3fa8"/><ellipse cx="841.2" cy="1497.5" rx="3.2" ry="2.8" transform="rotate(138.1 841.2 1497.5)" fill="#7b4fb6"/><ellipse cx="873.4" cy="1510.5" rx="4.4" ry="3.1" transform="rotate(58.5 873.4 1510.5)" fill="#7046ad"/><ellipse cx="940.1" cy="1517.1" rx="3.9" ry="2.8" transform="rotate(57.4 940.1 1517.1)" fill="#7046ad"/><ellipse cx="897.4" cy="1522.3" rx="3.5" ry="3.3" transform="rotate(57.4 897.4 1522.3)" fill="#5c3497"/><ellipse cx="949.7" cy="1529.8" rx="3.5" ry="2.3" transform="rotate(135.6 949.7 1529.8)" fill="#5c3497"/><ellipse cx="852.5" cy="1542.6" rx="3.6" ry="2.7" transform="rotate(22.2 852.5 1542.6)" fill="#8560c0"/><ellipse cx="856.2" cy="1527" rx="4.5" ry="3" transform="rotate(99.1 856.2 1527)" fill="#6a3fa8"/><ellipse cx="918.9" cy="1518.3" rx="3.4" ry="3.2" transform="rotate(157.3 918.9 1518.3)" fill="#7046ad"/><ellipse cx="849.3" cy="1500.7" rx="3.5" ry="2.8" transform="rotate(170.4 849.3 1500.7)" fill="#5c3497"/><ellipse cx="935.6" cy="1554.4" rx="4.7" ry="3.3" transform="rotate(136.9 935.6 1554.4)" fill="#8560c0"/><ellipse cx="924.7" cy="1487.6" rx="4.2" ry="3.6" transform="rotate(160.7 924.7 1487.6)" fill="#7b4fb6"/><ellipse cx="979.3" cy="1558.7" rx="3.2" ry="2.5" transform="rotate(30.9 979.3 1558.7)" fill="#7b4fb6"/><ellipse cx="852.9" cy="1525.7" rx="4" ry="3.4" transform="rotate(75.6 852.9 1525.7)" fill="#5c3497"/><ellipse cx="961.2" cy="1547.6" rx="5" ry="3.3" transform="rotate(60.6 961.2 1547.6)" fill="#5c3497"/><ellipse cx="978.1" cy="1548" rx="3.6" ry="3.3" transform="rotate(144.6 978.1 1548)" fill="#7046ad"/><ellipse cx="850.2" cy="1536.9" rx="3.2" ry="2.6" transform="rotate(104.4 850.2 1536.9)" fill="#7046ad"/><ellipse cx="951.9" cy="1500.7" rx="4.1" ry="3.1" transform="rotate(67.7 951.9 1500.7)" fill="#5c3497"/><ellipse cx="939.8" cy="1532.6" rx="3.5" ry="2.3" transform="rotate(157.8 939.8 1532.6)" fill="#7b4fb6"/><ellipse cx="933.8" cy="1483.6" rx="4.3" ry="3.1" transform="rotate(153.8 933.8 1483.6)" fill="#7046ad"/><ellipse cx="887.2" cy="1543" rx="3.3" ry="2.4" transform="rotate(68.3 887.2 1543)" fill="#5c3497"/><ellipse cx="904.1" cy="1512.3" rx="4.8" ry="3.5" transform="rotate(155.6 904.1 1512.3)" fill="#8560c0"/><ellipse cx="923" cy="1528.6" rx="4" ry="3.3" transform="rotate(151.7 923 1528.6)" fill="#7b4fb6"/><ellipse cx="865.7" cy="1515.2" rx="3.7" ry="3" transform="rotate(62.2 865.7 1515.2)" fill="#7046ad"/><ellipse cx="886.4" cy="1504.3" rx="4.3" ry="2.9" transform="rotate(61.5 886.4 1504.3)" fill="#6a3fa8"/><ellipse cx="834.1" cy="1509.1" rx="3.5" ry="2.9" transform="rotate(178.2 834.1 1509.1)" fill="#6a3fa8"/><ellipse cx="943.7" cy="1494.6" rx="4.9" ry="4.5" transform="rotate(22.1 943.7 1494.6)" fill="#7b4fb6"/><ellipse cx="935" cy="1548.3" rx="3.2" ry="2.2" transform="rotate(112.6 935 1548.3)" fill="#7b4fb6"/><ellipse cx="923.2" cy="1483.8" rx="3.4" ry="2.3" transform="rotate(76.7 923.2 1483.8)" fill="#7b4fb6"/><ellipse cx="875.6" cy="1512.4" rx="4.9" ry="3.9" transform="rotate(72.8 875.6 1512.4)" fill="#7046ad"/><ellipse cx="928.9" cy="1553.1" rx="4" ry="3.6" transform="rotate(133.6 928.9 1553.1)" fill="#6a3fa8"/><ellipse cx="936.1" cy="1526.2" rx="4.3" ry="3.4" transform="rotate(116.6 936.1 1526.2)" fill="#7046ad"/><ellipse cx="849.1" cy="1539.4" rx="3.7" ry="3.2" transform="rotate(107.2 849.1 1539.4)" fill="#7b4fb6"/></g>
<rect x="951" y="1703" width="24" height="5" fill="#000"/>
<g clip-path="url(#hc4)"><rect x="1017.2" y="1475.5" width="238.4" height="238.5" fill="#8aa4dc"/><g filter="url(#b6)"><ellipse cx="1215.2" cy="1674.4" rx="25.3" ry="12.9" transform="rotate(69 1215.2 1674.4)" fill="#4f6ec2" opacity="0.8"/><ellipse cx="1112.7" cy="1477.2" rx="16" ry="20" transform="rotate(117.4 1112.7 1477.2)" fill="#5b78c8" opacity="0.8"/><ellipse cx="1067.8" cy="1577.9" rx="34.5" ry="19" transform="rotate(70.6 1067.8 1577.9)" fill="#4f6ec2" opacity="0.8"/><ellipse cx="1134.6" cy="1640.4" rx="16.2" ry="15.6" transform="rotate(48.9 1134.6 1640.4)" fill="#4f6ec2" opacity="0.8"/><ellipse cx="1234.5" cy="1482.1" rx="28.6" ry="18.7" transform="rotate(161.2 1234.5 1482.1)" fill="#6783cc" opacity="0.8"/><ellipse cx="1232.6" cy="1470.3" rx="29.1" ry="10" transform="rotate(90.6 1232.6 1470.3)" fill="#5b78c8" opacity="0.8"/><ellipse cx="1120" cy="1518" rx="21.5" ry="18.1" transform="rotate(26.8 1120 1518)" fill="#5b78c8" opacity="0.8"/><ellipse cx="1187.7" cy="1581.4" rx="31" ry="12.4" transform="rotate(57.6 1187.7 1581.4)" fill="#5b78c8" opacity="0.8"/><ellipse cx="1213.9" cy="1596.6" rx="25.1" ry="12.4" transform="rotate(168 1213.9 1596.6)" fill="#4f6ec2" opacity="0.8"/><ellipse cx="1029.4" cy="1683.9" rx="22.4" ry="19.5" transform="rotate(71.9 1029.4 1683.9)" fill="#5b78c8" opacity="0.8"/><ellipse cx="1249.2" cy="1609.3" rx="19.8" ry="17.4" transform="rotate(123.2 1249.2 1609.3)" fill="#5b78c8" opacity="0.8"/><ellipse cx="1127.1" cy="1522.9" rx="27.8" ry="11.1" transform="rotate(124.6 1127.1 1522.9)" fill="#4f6ec2" opacity="0.8"/><ellipse cx="1171.4" cy="1562.8" rx="31" ry="11.9" transform="rotate(143.6 1171.4 1562.8)" fill="#5b78c8" opacity="0.8"/><ellipse cx="1105.5" cy="1649.9" rx="27.3" ry="19.4" transform="rotate(178.5 1105.5 1649.9)" fill="#6783cc" opacity="0.8"/><ellipse cx="1194.2" cy="1674.6" rx="18.1" ry="17.1" transform="rotate(72.2 1194.2 1674.6)" fill="#6783cc" opacity="0.8"/><ellipse cx="1150.2" cy="1589.4" rx="34.2" ry="13.2" transform="rotate(72.4 1150.2 1589.4)" fill="#4f6ec2" opacity="0.8"/><ellipse cx="1007.4" cy="1574.1" rx="27.6" ry="19.3" transform="rotate(58.9 1007.4 1574.1)" fill="#6783cc" opacity="0.8"/><ellipse cx="1262.7" cy="1514" rx="31.5" ry="11.6" transform="rotate(72.9 1262.7 1514)" fill="#4f6ec2" opacity="0.8"/><ellipse cx="1026.2" cy="1687.3" rx="31.6" ry="11.4" transform="rotate(46.5 1026.2 1687.3)" fill="#5b78c8" opacity="0.8"/><ellipse cx="1134.3" cy="1608.5" rx="17.1" ry="18.6" transform="rotate(50.2 1134.3 1608.5)" fill="#6783cc" opacity="0.8"/></g><g filter="url(#b3)"><ellipse cx="1122.7" cy="1480.3" rx="9" ry="7.6" transform="rotate(167.1 1122.7 1480.3)" fill="#dfe5f3" opacity="0.9"/><ellipse cx="1237.1" cy="1589.7" rx="14.9" ry="11.3" transform="rotate(154.6 1237.1 1589.7)" fill="#f3efe9" opacity="0.9"/><ellipse cx="1094.4" cy="1670.7" rx="14.2" ry="10.8" transform="rotate(90.2 1094.4 1670.7)" fill="#fdf8ea" opacity="0.9"/><ellipse cx="1185.7" cy="1645.8" rx="9.1" ry="6.3" transform="rotate(26.8 1185.7 1645.8)" fill="#dfe5f3" opacity="0.9"/><ellipse cx="1062.4" cy="1518" rx="9.6" ry="7.7" transform="rotate(159.5 1062.4 1518)" fill="#fbf5e8" opacity="0.9"/><ellipse cx="1097.5" cy="1560.2" rx="14.4" ry="11.4" transform="rotate(141.3 1097.5 1560.2)" fill="#dfe5f3" opacity="0.9"/><ellipse cx="1250.3" cy="1562.6" rx="18.2" ry="8.7" transform="rotate(41.5 1250.3 1562.6)" fill="#fbf5e8" opacity="0.9"/><ellipse cx="1232.3" cy="1596.1" rx="18.4" ry="10.3" transform="rotate(56.9 1232.3 1596.1)" fill="#fdf8ea" opacity="0.9"/><ellipse cx="1134.9" cy="1478.5" rx="9.6" ry="10.2" transform="rotate(150 1134.9 1478.5)" fill="#f3efe9" opacity="0.9"/><ellipse cx="1012.4" cy="1609.5" rx="15.4" ry="10.8" transform="rotate(131.3 1012.4 1609.5)" fill="#f3efe9" opacity="0.9"/><ellipse cx="1142.8" cy="1611" rx="15.4" ry="10.9" transform="rotate(99.5 1142.8 1611)" fill="#fdf8ea" opacity="0.9"/><ellipse cx="1180.9" cy="1514.9" rx="21.9" ry="12" transform="rotate(172 1180.9 1514.9)" fill="#fbf5e8" opacity="0.9"/><ellipse cx="1083.2" cy="1580.1" rx="12.4" ry="6.4" transform="rotate(44.4 1083.2 1580.1)" fill="#fdf8ea" opacity="0.9"/><ellipse cx="1229.8" cy="1507.8" rx="18" ry="8" transform="rotate(11.8 1229.8 1507.8)" fill="#fbf5e8" opacity="0.9"/><ellipse cx="1056.9" cy="1640.7" rx="15.5" ry="10.4" transform="rotate(49.4 1056.9 1640.7)" fill="#fbf5e8" opacity="0.9"/><ellipse cx="1133.4" cy="1704" rx="11.6" ry="11.9" transform="rotate(45.2 1133.4 1704)" fill="#f3efe9" opacity="0.9"/><ellipse cx="1057.2" cy="1549.2" rx="10.2" ry="13.5" transform="rotate(31.7 1057.2 1549.2)" fill="#f3efe9" opacity="0.9"/><ellipse cx="1007.2" cy="1481.1" rx="11.8" ry="9.3" transform="rotate(108.3 1007.2 1481.1)" fill="#f3efe9" opacity="0.9"/><ellipse cx="1260.7" cy="1695.7" rx="12.1" ry="10.9" transform="rotate(18.3 1260.7 1695.7)" fill="#fdf8ea" opacity="0.9"/><ellipse cx="1227.9" cy="1567.9" rx="19.2" ry="8.6" transform="rotate(112.6 1227.9 1567.9)" fill="#fdf8ea" opacity="0.9"/><ellipse cx="1138.2" cy="1492.5" rx="18.9" ry="12.6" transform="rotate(69.8 1138.2 1492.5)" fill="#dfe5f3" opacity="0.9"/><ellipse cx="1252" cy="1562.3" rx="20.4" ry="9.3" transform="rotate(67.2 1252 1562.3)" fill="#f3efe9" opacity="0.9"/><ellipse cx="1100.6" cy="1481" rx="12.6" ry="7.8" transform="rotate(97.5 1100.6 1481)" fill="#f3efe9" opacity="0.9"/><ellipse cx="1121.5" cy="1472" rx="11" ry="13.3" transform="rotate(24 1121.5 1472)" fill="#fbf5e8" opacity="0.9"/><ellipse cx="1103.7" cy="1711.3" rx="10.5" ry="9.3" transform="rotate(3.4 1103.7 1711.3)" fill="#fbf5e8" opacity="0.9"/><ellipse cx="1024.7" cy="1705.9" rx="17.9" ry="8.1" transform="rotate(86.4 1024.7 1705.9)" fill="#fdf8ea" opacity="0.9"/><ellipse cx="1071.5" cy="1696.2" rx="21.3" ry="6.6" transform="rotate(33.1 1071.5 1696.2)" fill="#fdf8ea" opacity="0.9"/><ellipse cx="1111.7" cy="1657.1" rx="18.3" ry="7.5" transform="rotate(59.8 1111.7 1657.1)" fill="#dfe5f3" opacity="0.9"/><ellipse cx="1117.1" cy="1565.4" rx="17.9" ry="12.3" transform="rotate(79.4 1117.1 1565.4)" fill="#fbf5e8" opacity="0.9"/><ellipse cx="1024.6" cy="1560.3" rx="21.3" ry="10" transform="rotate(100.3 1024.6 1560.3)" fill="#f3efe9" opacity="0.9"/><ellipse cx="1163.8" cy="1612.1" rx="19.5" ry="8.1" transform="rotate(159.6 1163.8 1612.1)" fill="#fbf5e8" opacity="0.9"/><ellipse cx="1136.4" cy="1713.6" rx="10.8" ry="12.3" transform="rotate(85.1 1136.4 1713.6)" fill="#f3efe9" opacity="0.9"/><ellipse cx="1129.6" cy="1693.3" rx="10.7" ry="10.1" transform="rotate(61.7 1129.6 1693.3)" fill="#f3efe9" opacity="0.9"/><ellipse cx="1218.4" cy="1568.4" rx="19.2" ry="6.1" transform="rotate(179.9 1218.4 1568.4)" fill="#fbf5e8" opacity="0.9"/><ellipse cx="1254" cy="1640.9" rx="11.6" ry="11.3" transform="rotate(67.2 1254 1640.9)" fill="#fdf8ea" opacity="0.9"/><ellipse cx="1016.2" cy="1483.7" rx="11.1" ry="7.5" transform="rotate(150.9 1016.2 1483.7)" fill="#fbf5e8" opacity="0.9"/><ellipse cx="1070.3" cy="1678.9" rx="9.1" ry="6.5" transform="rotate(167.7 1070.3 1678.9)" fill="#dfe5f3" opacity="0.9"/><ellipse cx="1218.4" cy="1469.5" rx="21.1" ry="7.8" transform="rotate(47.6 1218.4 1469.5)" fill="#fbf5e8" opacity="0.9"/><ellipse cx="1158.2" cy="1518.4" rx="21.7" ry="8.9" transform="rotate(103 1158.2 1518.4)" fill="#f3efe9" opacity="0.9"/><ellipse cx="1080" cy="1655.4" rx="21.9" ry="10.8" transform="rotate(15.1 1080 1655.4)" fill="#dfe5f3" opacity="0.9"/><ellipse cx="1216" cy="1637.9" rx="15.4" ry="11.2" transform="rotate(54.7 1216 1637.9)" fill="#dfe5f3" opacity="0.9"/><ellipse cx="1140.4" cy="1483.2" rx="16.6" ry="7.5" transform="rotate(45.7 1140.4 1483.2)" fill="#f3efe9" opacity="0.9"/><ellipse cx="1239.7" cy="1617.5" rx="12.2" ry="11.6" transform="rotate(161.6 1239.7 1617.5)" fill="#dfe5f3" opacity="0.9"/><ellipse cx="1213.6" cy="1551.5" rx="16.6" ry="10.7" transform="rotate(15.9 1213.6 1551.5)" fill="#fdf8ea" opacity="0.9"/><ellipse cx="1186.2" cy="1600.2" rx="15.8" ry="11.9" transform="rotate(38.3 1186.2 1600.2)" fill="#dfe5f3" opacity="0.9"/><ellipse cx="1262.4" cy="1543" rx="12.3" ry="6.6" transform="rotate(56.2 1262.4 1543)" fill="#fbf5e8" opacity="0.9"/><ellipse cx="1152" cy="1475.6" rx="12.8" ry="8.1" transform="rotate(142.5 1152 1475.6)" fill="#fbf5e8" opacity="0.9"/><ellipse cx="1255.8" cy="1702.2" rx="14.7" ry="6.5" transform="rotate(62.8 1255.8 1702.2)" fill="#fbf5e8" opacity="0.9"/><ellipse cx="1142.7" cy="1563.8" rx="18.5" ry="11.9" transform="rotate(84.4 1142.7 1563.8)" fill="#f3efe9" opacity="0.9"/><ellipse cx="1068.8" cy="1701" rx="20.5" ry="7" transform="rotate(38.1 1068.8 1701)" fill="#fdf8ea" opacity="0.9"/><ellipse cx="1177.8" cy="1677.7" rx="21.5" ry="6.2" transform="rotate(76.1 1177.8 1677.7)" fill="#fdf8ea" opacity="0.9"/><ellipse cx="1149.5" cy="1666.7" rx="16.2" ry="10.1" transform="rotate(43.1 1149.5 1666.7)" fill="#fbf5e8" opacity="0.9"/><ellipse cx="1175.2" cy="1616" rx="21.3" ry="7.5" transform="rotate(63.6 1175.2 1616)" fill="#dfe5f3" opacity="0.9"/><ellipse cx="1091.3" cy="1582.6" rx="11.2" ry="11.7" transform="rotate(148.1 1091.3 1582.6)" fill="#fbf5e8" opacity="0.9"/><ellipse cx="1008.8" cy="1700.8" rx="10.2" ry="8.5" transform="rotate(76.3 1008.8 1700.8)" fill="#f3efe9" opacity="0.9"/><ellipse cx="1062.8" cy="1654" rx="19.9" ry="7.8" transform="rotate(29.7 1062.8 1654)" fill="#f3efe9" opacity="0.9"/><ellipse cx="1141.3" cy="1503.9" rx="21.2" ry="12.8" transform="rotate(74.1 1141.3 1503.9)" fill="#dfe5f3" opacity="0.9"/><ellipse cx="1210.5" cy="1566.8" rx="15" ry="6.8" transform="rotate(6.7 1210.5 1566.8)" fill="#fdf8ea" opacity="0.9"/><ellipse cx="1180.4" cy="1515.5" rx="21.4" ry="10.5" transform="rotate(161 1180.4 1515.5)" fill="#fdf8ea" opacity="0.9"/><ellipse cx="1084.1" cy="1468.3" rx="11.9" ry="9.7" transform="rotate(27.3 1084.1 1468.3)" fill="#dfe5f3" opacity="0.9"/></g><rect x="1017.2" y="1475.5" width="238.4" height="238.5" fill="#000" filter="url(#spk3)" opacity="0.7"/><g filter="url(#spk2)"><circle cx="1046.1" cy="1503.9" r="13" fill="url(#clu)"/><circle cx="1147.5" cy="1491.2" r="13" fill="url(#clu)"/><circle cx="1121.5" cy="1509.5" r="13" fill="url(#clu)"/><circle cx="1203.3" cy="1508.1" r="13" fill="url(#clu)"/><circle cx="1178.8" cy="1521.4" r="13" fill="url(#clu)"/><circle cx="1068.7" cy="1533.5" r="13" fill="url(#clu)"/><circle cx="1100.3" cy="1538.6" r="13" fill="url(#clu)"/><circle cx="1133.3" cy="1542.8" r="13" fill="url(#clu)"/><circle cx="1049.5" cy="1550.4" r="13" fill="url(#clu)"/><circle cx="1082.8" cy="1563.1" r="13" fill="url(#clu)"/><circle cx="1170" cy="1562.6" r="13" fill="url(#clu)"/><circle cx="1049.5" cy="1594.2" r="13" fill="url(#clu)"/><circle cx="1084.8" cy="1599.3" r="13" fill="url(#clu)"/><circle cx="1120.9" cy="1593.6" r="13" fill="url(#clu)"/><circle cx="1153.4" cy="1603.2" r="13" fill="url(#clu)"/><circle cx="1208.4" cy="1599.3" r="13" fill="url(#clu)"/><circle cx="1058.8" cy="1632.9" r="13" fill="url(#clu)"/><circle cx="1170.9" cy="1639.9" r="13" fill="url(#clu)"/><circle cx="1209" cy="1645.6" r="13" fill="url(#clu)"/><circle cx="1063.6" cy="1669.8" r="13" fill="url(#clu)"/><circle cx="1129.1" cy="1663.3" r="13" fill="url(#clu)"/></g><circle cx="1046.1" cy="1503.9" r="10.8" fill="none" stroke="#111" stroke-width="2.3" stroke-dasharray="6 4"/><circle cx="1147.5" cy="1491.2" r="10.8" fill="none" stroke="#111" stroke-width="2.3" stroke-dasharray="6 4"/><circle cx="1121.5" cy="1509.5" r="10.8" fill="none" stroke="#111" stroke-width="2.3" stroke-dasharray="6 4"/><circle cx="1203.3" cy="1508.1" r="10.8" fill="none" stroke="#111" stroke-width="2.3" stroke-dasharray="6 4"/><circle cx="1178.8" cy="1521.4" r="10.8" fill="none" stroke="#111" stroke-width="2.3" stroke-dasharray="6 4"/><circle cx="1068.7" cy="1533.5" r="10.8" fill="none" stroke="#111" stroke-width="2.3" stroke-dasharray="6 4"/><circle cx="1100.3" cy="1538.6" r="10.8" fill="none" stroke="#111" stroke-width="2.3" stroke-dasharray="6 4"/><circle cx="1133.3" cy="1542.8" r="10.8" fill="none" stroke="#111" stroke-width="2.3" stroke-dasharray="6 4"/><circle cx="1049.5" cy="1550.4" r="10.8" fill="none" stroke="#111" stroke-width="2.3" stroke-dasharray="6 4"/><circle cx="1082.8" cy="1563.1" r="10.8" fill="none" stroke="#111" stroke-width="2.3" stroke-dasharray="6 4"/><circle cx="1170" cy="1562.6" r="10.8" fill="none" stroke="#111" stroke-width="2.3" stroke-dasharray="6 4"/><circle cx="1049.5" cy="1594.2" r="10.8" fill="none" stroke="#111" stroke-width="2.3" stroke-dasharray="6 4"/><circle cx="1084.8" cy="1599.3" r="10.8" fill="none" stroke="#111" stroke-width="2.3" stroke-dasharray="6 4"/><circle cx="1120.9" cy="1593.6" r="10.8" fill="none" stroke="#111" stroke-width="2.3" stroke-dasharray="6 4"/><circle cx="1153.4" cy="1603.2" r="10.8" fill="none" stroke="#111" stroke-width="2.3" stroke-dasharray="6 4"/><circle cx="1208.4" cy="1599.3" r="10.8" fill="none" stroke="#111" stroke-width="2.3" stroke-dasharray="6 4"/><circle cx="1058.8" cy="1632.9" r="10.8" fill="none" stroke="#111" stroke-width="2.3" stroke-dasharray="6 4"/><circle cx="1170.9" cy="1639.9" r="10.8" fill="none" stroke="#111" stroke-width="2.3" stroke-dasharray="6 4"/><circle cx="1209" cy="1645.6" r="10.8" fill="none" stroke="#111" stroke-width="2.3" stroke-dasharray="6 4"/><circle cx="1063.6" cy="1669.8" r="10.8" fill="none" stroke="#111" stroke-width="2.3" stroke-dasharray="6 4"/><circle cx="1129.1" cy="1663.3" r="10.8" fill="none" stroke="#111" stroke-width="2.3" stroke-dasharray="6 4"/></g>
<g clip-path="url(#hc5)"><rect x="1261.4" y="1475.5" width="238.5" height="238.5" fill="#fcf7ea"/><g filter="url(#b3)"><ellipse cx="1390.5" cy="1554.2" rx="24.2" ry="7.2" transform="rotate(53.2 1390.5 1554.2)" fill="#7d9ad6" opacity="0.8"/><ellipse cx="1425.7" cy="1550.8" rx="32" ry="5.7" transform="rotate(39.2 1425.7 1550.8)" fill="#a6bce4" opacity="0.8"/><ellipse cx="1471.2" cy="1467.8" rx="39.5" ry="10" transform="rotate(39.2 1471.2 1467.8)" fill="#a6bce4" opacity="0.8"/><ellipse cx="1305" cy="1685.2" rx="25.8" ry="8.8" transform="rotate(40.9 1305 1685.2)" fill="#a6bce4" opacity="0.8"/><ellipse cx="1299.6" cy="1594" rx="34" ry="8.2" transform="rotate(58.8 1299.6 1594)" fill="#8aa6dc" opacity="0.8"/><ellipse cx="1287.5" cy="1579.2" rx="29.7" ry="6.9" transform="rotate(48 1287.5 1579.2)" fill="#8aa6dc" opacity="0.8"/><ellipse cx="1480.7" cy="1582.9" rx="28.5" ry="10.8" transform="rotate(59.5 1480.7 1582.9)" fill="#8aa6dc" opacity="0.8"/><ellipse cx="1344.9" cy="1546.2" rx="37" ry="5.4" transform="rotate(58.8 1344.9 1546.2)" fill="#8aa6dc" opacity="0.8"/><ellipse cx="1465.4" cy="1696.8" rx="16.5" ry="6.4" transform="rotate(48.5 1465.4 1696.8)" fill="#a6bce4" opacity="0.8"/><ellipse cx="1252.8" cy="1644.5" rx="35" ry="10.8" transform="rotate(41.6 1252.8 1644.5)" fill="#a6bce4" opacity="0.8"/><ellipse cx="1316.5" cy="1683" rx="17.3" ry="6.6" transform="rotate(48 1316.5 1683)" fill="#a6bce4" opacity="0.8"/><ellipse cx="1391.7" cy="1690.1" rx="30.8" ry="8.9" transform="rotate(52.2 1391.7 1690.1)" fill="#7d9ad6" opacity="0.8"/><ellipse cx="1305.9" cy="1581.7" rx="39.7" ry="10.5" transform="rotate(50.8 1305.9 1581.7)" fill="#8aa6dc" opacity="0.8"/><ellipse cx="1476" cy="1628.6" rx="24.9" ry="8.2" transform="rotate(42.8 1476 1628.6)" fill="#a6bce4" opacity="0.8"/><ellipse cx="1399.5" cy="1546.6" rx="34.5" ry="10" transform="rotate(58 1399.5 1546.6)" fill="#8aa6dc" opacity="0.8"/><ellipse cx="1266.7" cy="1652.7" rx="35.2" ry="10.2" transform="rotate(49.8 1266.7 1652.7)" fill="#a6bce4" opacity="0.8"/><ellipse cx="1374.4" cy="1602.7" rx="18.9" ry="10.7" transform="rotate(44.3 1374.4 1602.7)" fill="#7d9ad6" opacity="0.8"/><ellipse cx="1498.9" cy="1519.3" rx="17.1" ry="9.4" transform="rotate(57.6 1498.9 1519.3)" fill="#a6bce4" opacity="0.8"/><ellipse cx="1303" cy="1712" rx="25" ry="6.1" transform="rotate(40.7 1303 1712)" fill="#a6bce4" opacity="0.8"/><ellipse cx="1450.9" cy="1539.3" rx="32.3" ry="7.8" transform="rotate(41 1450.9 1539.3)" fill="#8aa6dc" opacity="0.8"/><ellipse cx="1403.2" cy="1715.5" rx="19.6" ry="10.8" transform="rotate(51.8 1403.2 1715.5)" fill="#7d9ad6" opacity="0.8"/><ellipse cx="1296.3" cy="1723" rx="28.7" ry="10.2" transform="rotate(55 1296.3 1723)" fill="#8aa6dc" opacity="0.8"/></g><g filter="url(#b3)"><ellipse cx="1367.4" cy="1532.6" rx="28.1" ry="7.5" transform="rotate(57.4 1367.4 1532.6)" fill="#5a78c6" opacity="0.8"/><ellipse cx="1262.2" cy="1522.1" rx="23.3" ry="4.3" transform="rotate(52.2 1262.2 1522.1)" fill="#5a78c6" opacity="0.8"/><ellipse cx="1496.3" cy="1557" rx="25.4" ry="4.8" transform="rotate(59.5 1496.3 1557)" fill="#5a78c6" opacity="0.8"/><ellipse cx="1462.1" cy="1579.4" rx="20.2" ry="4.3" transform="rotate(58.4 1462.1 1579.4)" fill="#5a78c6" opacity="0.8"/><ellipse cx="1485" cy="1609.9" rx="26.5" ry="4.9" transform="rotate(44 1485 1609.9)" fill="#4d6cc0" opacity="0.8"/><ellipse cx="1439.9" cy="1468.6" rx="20.8" ry="5" transform="rotate(39 1439.9 1468.6)" fill="#5a78c6" opacity="0.8"/><ellipse cx="1318.5" cy="1702.9" rx="19.5" ry="4.5" transform="rotate(56.5 1318.5 1702.9)" fill="#4d6cc0" opacity="0.8"/><ellipse cx="1340.5" cy="1704.2" rx="25.5" ry="6.2" transform="rotate(59.5 1340.5 1704.2)" fill="#5a78c6" opacity="0.8"/><ellipse cx="1460.5" cy="1621.7" rx="18.8" ry="6.1" transform="rotate(59.5 1460.5 1621.7)" fill="#5a78c6" opacity="0.8"/><ellipse cx="1494.1" cy="1481.4" rx="22.9" ry="7.7" transform="rotate(48.3 1494.1 1481.4)" fill="#5a78c6" opacity="0.8"/></g><path d="M1361.4,1555.5 C1411.4,1585.5 1451.4,1645.5 1499.4,1690.5" fill="none" stroke="#5070c4" stroke-width="9" filter="url(#b3)" opacity="0.8"/><ellipse cx="1286.4" cy="1707.5" rx="30" ry="12" fill="#3f5fb8" filter="url(#b3)"/><ellipse cx="1436.4" cy="1710.5" rx="35" ry="10" fill="#3f5fb8" filter="url(#b3)"/><g filter="url(#spk1)"><ellipse cx="1441.2" cy="1530.3" rx="28.1" ry="9" transform="rotate(50 1441.2 1530.3)" fill="url(#clu)"/><ellipse cx="1323.9" cy="1534.1" rx="17.1" ry="12" transform="rotate(50 1323.9 1534.1)" fill="url(#clu)"/><ellipse cx="1462.4" cy="1513.1" rx="18" ry="10.4" transform="rotate(50 1462.4 1513.1)" fill="url(#clu)"/><ellipse cx="1333.2" cy="1627.7" rx="16.8" ry="11.5" transform="rotate(50 1333.2 1627.7)" fill="url(#clu)"/><ellipse cx="1381.5" cy="1503.5" rx="21.7" ry="10.2" transform="rotate(50 1381.5 1503.5)" fill="url(#clu)"/><ellipse cx="1277.5" cy="1553.2" rx="24.6" ry="13.3" transform="rotate(50 1277.5 1553.2)" fill="url(#clu)"/><ellipse cx="1488.6" cy="1651.2" rx="21.1" ry="8.9" transform="rotate(50 1488.6 1651.2)" fill="url(#clu)"/><ellipse cx="1424.3" cy="1612.2" rx="27.9" ry="9.5" transform="rotate(50 1424.3 1612.2)" fill="url(#clu)"/><ellipse cx="1418.1" cy="1497.8" rx="19.6" ry="10.6" transform="rotate(50 1418.1 1497.8)" fill="url(#clu)"/><ellipse cx="1453.5" cy="1558.4" rx="24.3" ry="13.9" transform="rotate(50 1453.5 1558.4)" fill="url(#clu)"/><ellipse cx="1487.1" cy="1589.4" rx="18.1" ry="11.7" transform="rotate(50 1487.1 1589.4)" fill="url(#clu)"/><ellipse cx="1450.7" cy="1617.1" rx="26.2" ry="9.3" transform="rotate(50 1450.7 1617.1)" fill="url(#clu)"/><ellipse cx="1329.6" cy="1512.8" rx="15.9" ry="10.8" transform="rotate(50 1329.6 1512.8)" fill="url(#clu)"/><ellipse cx="1445.8" cy="1564.8" rx="29.3" ry="10.1" transform="rotate(50 1445.8 1564.8)" fill="url(#clu)"/><ellipse cx="1352.2" cy="1678.8" rx="24.9" ry="11.2" transform="rotate(50 1352.2 1678.8)" fill="url(#clu)"/><ellipse cx="1317.7" cy="1496.4" rx="17.5" ry="9" transform="rotate(50 1317.7 1496.4)" fill="url(#clu)"/><ellipse cx="1361.3" cy="1554.4" rx="23.2" ry="9.6" transform="rotate(50 1361.3 1554.4)" fill="url(#clu)"/><ellipse cx="1424.2" cy="1701.2" rx="27.3" ry="11.5" transform="rotate(50 1424.2 1701.2)" fill="url(#clu)"/><ellipse cx="1323.1" cy="1664.2" rx="27.5" ry="8.6" transform="rotate(50 1323.1 1664.2)" fill="url(#clu)"/><ellipse cx="1463.3" cy="1695" rx="18" ry="9.1" transform="rotate(50 1463.3 1695)" fill="url(#clu)"/><ellipse cx="1434.6" cy="1590.1" rx="16.1" ry="11.7" transform="rotate(50 1434.6 1590.1)" fill="url(#clu)"/><ellipse cx="1459.2" cy="1649.4" rx="15.8" ry="8.3" transform="rotate(50 1459.2 1649.4)" fill="url(#clu)"/><ellipse cx="1384.9" cy="1632.4" rx="28.8" ry="12.3" transform="rotate(50 1384.9 1632.4)" fill="url(#clu)"/><ellipse cx="1423.1" cy="1684.2" rx="21.1" ry="9" transform="rotate(50 1423.1 1684.2)" fill="url(#clu)"/><ellipse cx="1288.8" cy="1560.7" rx="28" ry="11.3" transform="rotate(50 1288.8 1560.7)" fill="url(#clu)"/><ellipse cx="1271.8" cy="1691.8" rx="27.4" ry="8.3" transform="rotate(50 1271.8 1691.8)" fill="url(#clu)"/><ellipse cx="1448.9" cy="1519" rx="15.8" ry="10.4" transform="rotate(50 1448.9 1519)" fill="url(#clu)"/><ellipse cx="1429.7" cy="1539.7" rx="21.5" ry="13" transform="rotate(50 1429.7 1539.7)" fill="url(#clu)"/><ellipse cx="1290.4" cy="1628.2" rx="19.7" ry="8.4" transform="rotate(50 1290.4 1628.2)" fill="url(#clu)"/><ellipse cx="1443.5" cy="1636.3" rx="21.9" ry="10.8" transform="rotate(50 1443.5 1636.3)" fill="url(#clu)"/><ellipse cx="1354" cy="1637.7" rx="15.1" ry="8.7" transform="rotate(50 1354 1637.7)" fill="url(#clu)"/><ellipse cx="1281.7" cy="1501.4" rx="23.3" ry="10.5" transform="rotate(50 1281.7 1501.4)" fill="url(#clu)"/><ellipse cx="1418.1" cy="1600.1" rx="26.7" ry="12.2" transform="rotate(50 1418.1 1600.1)" fill="url(#clu)"/><ellipse cx="1269.7" cy="1496.3" rx="25" ry="13.1" transform="rotate(50 1269.7 1496.3)" fill="url(#clu)"/><ellipse cx="1458.2" cy="1497.3" rx="24" ry="8.9" transform="rotate(50 1458.2 1497.3)" fill="url(#clu)"/><ellipse cx="1333.2" cy="1678.4" rx="24.3" ry="13" transform="rotate(50 1333.2 1678.4)" fill="url(#clu)"/><ellipse cx="1405.7" cy="1691" rx="19.1" ry="10.9" transform="rotate(50 1405.7 1691)" fill="url(#clu)"/><ellipse cx="1484.4" cy="1657.7" rx="15.8" ry="9.3" transform="rotate(50 1484.4 1657.7)" fill="url(#clu)"/><ellipse cx="1350" cy="1627.7" rx="19.4" ry="13" transform="rotate(50 1350 1627.7)" fill="url(#clu)"/><ellipse cx="1454.2" cy="1575.1" rx="18.8" ry="9.4" transform="rotate(50 1454.2 1575.1)" fill="url(#clu)"/><circle cx="1275.3" cy="1520.8" r="15" fill="url(#clu)"/><circle cx="1321.9" cy="1527.9" r="15" fill="url(#clu)"/><circle cx="1380.3" cy="1503.9" r="15" fill="url(#clu)"/><circle cx="1384" cy="1532.7" r="15" fill="url(#clu)"/><circle cx="1451.7" cy="1525" r="15" fill="url(#clu)"/><circle cx="1334" cy="1558.1" r="15" fill="url(#clu)"/><circle cx="1367.9" cy="1566.8" r="15" fill="url(#clu)"/><circle cx="1300.2" cy="1566.8" r="15" fill="url(#clu)"/><circle cx="1412.2" cy="1570.2" r="15" fill="url(#clu)"/><circle cx="1447.5" cy="1550.4" r="15" fill="url(#clu)"/><circle cx="1446.9" cy="1587.1" r="15" fill="url(#clu)"/><circle cx="1317.6" cy="1633.1" r="15" fill="url(#clu)"/><circle cx="1426.3" cy="1638.8" r="15" fill="url(#clu)"/><circle cx="1309.7" cy="1669.8" r="15" fill="url(#clu)"/><circle cx="1391.6" cy="1664.8" r="15" fill="url(#clu)"/><circle cx="1463.6" cy="1669.8" r="15" fill="url(#clu)"/><circle cx="1355.8" cy="1699.2" r="15" fill="url(#clu)"/></g><g filter="url(#spk2)"><circle cx="1275.3" cy="1520.8" r="12" fill="url(#clu)"/><circle cx="1321.9" cy="1527.9" r="12" fill="url(#clu)"/><circle cx="1380.3" cy="1503.9" r="12" fill="url(#clu)"/><circle cx="1384" cy="1532.7" r="12" fill="url(#clu)"/><circle cx="1451.7" cy="1525" r="12" fill="url(#clu)"/><circle cx="1334" cy="1558.1" r="12" fill="url(#clu)"/><circle cx="1367.9" cy="1566.8" r="12" fill="url(#clu)"/><circle cx="1300.2" cy="1566.8" r="12" fill="url(#clu)"/><circle cx="1412.2" cy="1570.2" r="12" fill="url(#clu)"/><circle cx="1447.5" cy="1550.4" r="12" fill="url(#clu)"/><circle cx="1446.9" cy="1587.1" r="12" fill="url(#clu)"/><circle cx="1317.6" cy="1633.1" r="12" fill="url(#clu)"/><circle cx="1426.3" cy="1638.8" r="12" fill="url(#clu)"/><circle cx="1309.7" cy="1669.8" r="12" fill="url(#clu)"/><circle cx="1391.6" cy="1664.8" r="12" fill="url(#clu)"/><circle cx="1463.6" cy="1669.8" r="12" fill="url(#clu)"/><circle cx="1355.8" cy="1699.2" r="12" fill="url(#clu)"/></g><circle cx="1275.3" cy="1520.8" r="10.8" fill="none" stroke="#111" stroke-width="2.3" stroke-dasharray="6 4"/><circle cx="1321.9" cy="1527.9" r="10.8" fill="none" stroke="#111" stroke-width="2.3" stroke-dasharray="6 4"/><circle cx="1380.3" cy="1503.9" r="10.8" fill="none" stroke="#111" stroke-width="2.3" stroke-dasharray="6 4"/><circle cx="1384" cy="1532.7" r="10.8" fill="none" stroke="#111" stroke-width="2.3" stroke-dasharray="6 4"/><circle cx="1451.7" cy="1525" r="10.8" fill="none" stroke="#111" stroke-width="2.3" stroke-dasharray="6 4"/><circle cx="1334" cy="1558.1" r="10.8" fill="none" stroke="#111" stroke-width="2.3" stroke-dasharray="6 4"/><circle cx="1367.9" cy="1566.8" r="10.8" fill="none" stroke="#111" stroke-width="2.3" stroke-dasharray="6 4"/><circle cx="1300.2" cy="1566.8" r="10.8" fill="none" stroke="#111" stroke-width="2.3" stroke-dasharray="6 4"/><circle cx="1412.2" cy="1570.2" r="10.8" fill="none" stroke="#111" stroke-width="2.3" stroke-dasharray="6 4"/><circle cx="1447.5" cy="1550.4" r="10.8" fill="none" stroke="#111" stroke-width="2.3" stroke-dasharray="6 4"/><circle cx="1446.9" cy="1587.1" r="10.8" fill="none" stroke="#111" stroke-width="2.3" stroke-dasharray="6 4"/><circle cx="1317.6" cy="1633.1" r="10.8" fill="none" stroke="#111" stroke-width="2.3" stroke-dasharray="6 4"/><circle cx="1426.3" cy="1638.8" r="10.8" fill="none" stroke="#111" stroke-width="2.3" stroke-dasharray="6 4"/><circle cx="1309.7" cy="1669.8" r="10.8" fill="none" stroke="#111" stroke-width="2.3" stroke-dasharray="6 4"/><circle cx="1391.6" cy="1664.8" r="10.8" fill="none" stroke="#111" stroke-width="2.3" stroke-dasharray="6 4"/><circle cx="1463.6" cy="1669.8" r="10.8" fill="none" stroke="#111" stroke-width="2.3" stroke-dasharray="6 4"/><circle cx="1355.8" cy="1699.2" r="10.8" fill="none" stroke="#111" stroke-width="2.3" stroke-dasharray="6 4"/></g>
<g clip-path="url(#hc6)"><rect x="1506.8" y="1475.5" width="238.5" height="238.5" fill="#fbf5e4"/><g filter="url(#b3)"><ellipse cx="1658.4" cy="1697.4" rx="29.5" ry="11.9" transform="rotate(157.2 1658.4 1697.4)" fill="#8eaade" opacity="0.9"/><ellipse cx="1498.2" cy="1677.8" rx="29.9" ry="15.1" transform="rotate(54.5 1498.2 1677.8)" fill="#7f9fd8" opacity="0.9"/><ellipse cx="1568.8" cy="1531.4" rx="22.9" ry="15.6" transform="rotate(179.2 1568.8 1531.4)" fill="#a9c0e6" opacity="0.9"/><ellipse cx="1701.7" cy="1626.3" rx="33.8" ry="11.8" transform="rotate(28.8 1701.7 1626.3)" fill="#a9c0e6" opacity="0.9"/><ellipse cx="1655.1" cy="1476.9" rx="14.7" ry="15.7" transform="rotate(165.1 1655.1 1476.9)" fill="#9bb4e2" opacity="0.9"/><ellipse cx="1659.5" cy="1598.4" rx="23.9" ry="12.2" transform="rotate(2.1 1659.5 1598.4)" fill="#7f9fd8" opacity="0.9"/><ellipse cx="1546.5" cy="1644.4" rx="18" ry="13.8" transform="rotate(149.4 1546.5 1644.4)" fill="#7f9fd8" opacity="0.9"/><ellipse cx="1536.7" cy="1534.7" rx="31.6" ry="15.6" transform="rotate(152.5 1536.7 1534.7)" fill="#8eaade" opacity="0.9"/><ellipse cx="1662.2" cy="1657.2" rx="15.8" ry="16" transform="rotate(156.8 1662.2 1657.2)" fill="#a9c0e6" opacity="0.9"/><ellipse cx="1590.2" cy="1620.1" rx="15.2" ry="14" transform="rotate(58.1 1590.2 1620.1)" fill="#a9c0e6" opacity="0.9"/><ellipse cx="1535.6" cy="1676.5" rx="21.6" ry="21.7" transform="rotate(108.9 1535.6 1676.5)" fill="#7f9fd8" opacity="0.9"/><ellipse cx="1661.7" cy="1640.4" rx="17" ry="14.7" transform="rotate(43.1 1661.7 1640.4)" fill="#a9c0e6" opacity="0.9"/><ellipse cx="1600.8" cy="1490.5" rx="33.4" ry="11.8" transform="rotate(54.1 1600.8 1490.5)" fill="#8eaade" opacity="0.9"/><ellipse cx="1722.7" cy="1636.7" rx="16.6" ry="20" transform="rotate(170.1 1722.7 1636.7)" fill="#a9c0e6" opacity="0.9"/><ellipse cx="1730.5" cy="1612.8" rx="16.9" ry="11.5" transform="rotate(99.4 1730.5 1612.8)" fill="#9bb4e2" opacity="0.9"/><ellipse cx="1543.5" cy="1694" rx="26.8" ry="16.4" transform="rotate(67.7 1543.5 1694)" fill="#9bb4e2" opacity="0.9"/><ellipse cx="1603" cy="1527.4" rx="14.8" ry="20.4" transform="rotate(98.6 1603 1527.4)" fill="#a9c0e6" opacity="0.9"/><ellipse cx="1580.1" cy="1659.7" rx="14.5" ry="13.8" transform="rotate(5.5 1580.1 1659.7)" fill="#7f9fd8" opacity="0.9"/><ellipse cx="1528.6" cy="1715.5" rx="27.2" ry="14.6" transform="rotate(157.1 1528.6 1715.5)" fill="#8eaade" opacity="0.9"/><ellipse cx="1585.8" cy="1618.1" rx="27.7" ry="13.6" transform="rotate(93.4 1585.8 1618.1)" fill="#a9c0e6" opacity="0.9"/><ellipse cx="1694.6" cy="1700.5" rx="17" ry="21.1" transform="rotate(135.5 1694.6 1700.5)" fill="#7f9fd8" opacity="0.9"/><ellipse cx="1706.3" cy="1500.9" rx="22.4" ry="19.6" transform="rotate(2.6 1706.3 1500.9)" fill="#8eaade" opacity="0.9"/><ellipse cx="1659.3" cy="1670.5" rx="24.3" ry="18.4" transform="rotate(35.7 1659.3 1670.5)" fill="#8eaade" opacity="0.9"/><ellipse cx="1590.7" cy="1511.9" rx="20.9" ry="21.3" transform="rotate(103.2 1590.7 1511.9)" fill="#8eaade" opacity="0.9"/><ellipse cx="1584.7" cy="1535.7" rx="33" ry="14.8" transform="rotate(92.8 1584.7 1535.7)" fill="#8eaade" opacity="0.9"/><ellipse cx="1631.5" cy="1697.3" rx="28.9" ry="16.5" transform="rotate(76.8 1631.5 1697.3)" fill="#9bb4e2" opacity="0.9"/><ellipse cx="1723.8" cy="1571.9" rx="32.5" ry="9.9" transform="rotate(93.5 1723.8 1571.9)" fill="#8eaade" opacity="0.9"/><ellipse cx="1742.6" cy="1530.4" rx="30.1" ry="17.8" transform="rotate(129.1 1742.6 1530.4)" fill="#7f9fd8" opacity="0.9"/><ellipse cx="1659.6" cy="1716.6" rx="20.7" ry="14.2" transform="rotate(9.1 1659.6 1716.6)" fill="#a9c0e6" opacity="0.9"/><ellipse cx="1551.8" cy="1702.1" rx="30.8" ry="10.5" transform="rotate(108.7 1551.8 1702.1)" fill="#8eaade" opacity="0.9"/><ellipse cx="1620.7" cy="1619.2" rx="27.2" ry="13" transform="rotate(83.9 1620.7 1619.2)" fill="#8eaade" opacity="0.9"/><ellipse cx="1659.2" cy="1629.7" rx="17.7" ry="9.8" transform="rotate(74.1 1659.2 1629.7)" fill="#9bb4e2" opacity="0.9"/><ellipse cx="1694.3" cy="1676.2" rx="28.6" ry="10.5" transform="rotate(144.4 1694.3 1676.2)" fill="#9bb4e2" opacity="0.9"/><ellipse cx="1723.7" cy="1600.8" rx="32.3" ry="9.6" transform="rotate(5.5 1723.7 1600.8)" fill="#9bb4e2" opacity="0.9"/><ellipse cx="1502" cy="1530.8" rx="19" ry="11.4" transform="rotate(7 1502 1530.8)" fill="#9bb4e2" opacity="0.9"/><ellipse cx="1649.4" cy="1508.4" rx="27.6" ry="9.3" transform="rotate(55.9 1649.4 1508.4)" fill="#a9c0e6" opacity="0.9"/><ellipse cx="1739.4" cy="1604.7" rx="30.2" ry="17.6" transform="rotate(34.4 1739.4 1604.7)" fill="#8eaade" opacity="0.9"/><ellipse cx="1645.3" cy="1475.8" rx="30" ry="21.5" transform="rotate(153.7 1645.3 1475.8)" fill="#a9c0e6" opacity="0.9"/><ellipse cx="1509.9" cy="1553" rx="20.4" ry="10.5" transform="rotate(143.5 1509.9 1553)" fill="#7f9fd8" opacity="0.9"/><ellipse cx="1577.9" cy="1688.5" rx="29.9" ry="10.7" transform="rotate(138 1577.9 1688.5)" fill="#a9c0e6" opacity="0.9"/></g><g filter="url(#b3)"><ellipse cx="1725" cy="1516.5" rx="14.9" ry="9.5" transform="rotate(17.3 1725 1516.5)" fill="#5577c6" opacity="0.9"/><ellipse cx="1667.7" cy="1628.9" rx="17.9" ry="10.6" transform="rotate(58.9 1667.7 1628.9)" fill="#4a6cc0" opacity="0.9"/><ellipse cx="1683.4" cy="1689.7" rx="18.7" ry="6.1" transform="rotate(117.1 1683.4 1689.7)" fill="#4a6cc0" opacity="0.9"/><ellipse cx="1552.3" cy="1611.2" rx="19.3" ry="7.7" transform="rotate(45.5 1552.3 1611.2)" fill="#5577c6" opacity="0.9"/><ellipse cx="1614.8" cy="1635.4" rx="9.2" ry="7.7" transform="rotate(119.2 1614.8 1635.4)" fill="#6485cc" opacity="0.9"/><ellipse cx="1711.5" cy="1562.9" rx="12.5" ry="8.8" transform="rotate(38.7 1711.5 1562.9)" fill="#5577c6" opacity="0.9"/><ellipse cx="1560.8" cy="1550.8" rx="13.5" ry="5.6" transform="rotate(104.2 1560.8 1550.8)" fill="#4a6cc0" opacity="0.9"/><ellipse cx="1574.3" cy="1485.5" rx="17.2" ry="5.9" transform="rotate(24 1574.3 1485.5)" fill="#6485cc" opacity="0.9"/><ellipse cx="1530.6" cy="1486.5" rx="18.9" ry="6.9" transform="rotate(149.9 1530.6 1486.5)" fill="#6485cc" opacity="0.9"/><ellipse cx="1657.1" cy="1513.9" rx="13.2" ry="11.2" transform="rotate(67.6 1657.1 1513.9)" fill="#5577c6" opacity="0.9"/><ellipse cx="1680.6" cy="1490.5" rx="16.7" ry="10.4" transform="rotate(121.4 1680.6 1490.5)" fill="#4a6cc0" opacity="0.9"/><ellipse cx="1592.6" cy="1482.1" rx="14.2" ry="10.3" transform="rotate(34.4 1592.6 1482.1)" fill="#6485cc" opacity="0.9"/><ellipse cx="1565.6" cy="1604.1" rx="17" ry="11.3" transform="rotate(33.2 1565.6 1604.1)" fill="#4a6cc0" opacity="0.9"/><ellipse cx="1703.5" cy="1632.1" rx="16.7" ry="12" transform="rotate(169.1 1703.5 1632.1)" fill="#5577c6" opacity="0.9"/><ellipse cx="1714.7" cy="1666.4" rx="12.7" ry="9.5" transform="rotate(136.7 1714.7 1666.4)" fill="#5577c6" opacity="0.9"/><ellipse cx="1692.7" cy="1652" rx="13.3" ry="7.6" transform="rotate(75.6 1692.7 1652)" fill="#5577c6" opacity="0.9"/><ellipse cx="1505.4" cy="1683.8" rx="14.5" ry="7.7" transform="rotate(129.9 1505.4 1683.8)" fill="#6485cc" opacity="0.9"/><ellipse cx="1595.4" cy="1680.2" rx="19" ry="7.7" transform="rotate(24.8 1595.4 1680.2)" fill="#4a6cc0" opacity="0.9"/></g><g filter="url(#b3)"><ellipse cx="1693.4" cy="1722.2" rx="9.5" ry="10.3" transform="rotate(165.7 1693.4 1722.2)" fill="#fdf9ee" opacity="0.9"/><ellipse cx="1528.7" cy="1489.2" rx="17.9" ry="6.7" transform="rotate(31.8 1528.7 1489.2)" fill="#fdf9ee" opacity="0.9"/><ellipse cx="1645.4" cy="1580.9" rx="15.5" ry="7.1" transform="rotate(39.1 1645.4 1580.9)" fill="#ffffff" opacity="0.9"/><ellipse cx="1695.6" cy="1483" rx="12.7" ry="6.2" transform="rotate(56.5 1695.6 1483)" fill="#fdf9ee" opacity="0.9"/><ellipse cx="1577.5" cy="1651.6" rx="12.6" ry="6.3" transform="rotate(160 1577.5 1651.6)" fill="#fdf9ee" opacity="0.9"/><ellipse cx="1733.7" cy="1529.2" rx="11.9" ry="7.4" transform="rotate(22.5 1733.7 1529.2)" fill="#fdf9ee" opacity="0.9"/><ellipse cx="1505.3" cy="1595.6" rx="9.2" ry="7.1" transform="rotate(87.2 1505.3 1595.6)" fill="#fdf9ee" opacity="0.9"/><ellipse cx="1544.3" cy="1638.7" rx="10.7" ry="9.2" transform="rotate(50.9 1544.3 1638.7)" fill="#fdf9ee" opacity="0.9"/><ellipse cx="1630.2" cy="1628" rx="13.4" ry="8.4" transform="rotate(157.2 1630.2 1628)" fill="#fdf9ee" opacity="0.9"/><ellipse cx="1543.2" cy="1500.7" rx="9.1" ry="11.9" transform="rotate(169.5 1543.2 1500.7)" fill="#fdf9ee" opacity="0.9"/></g><circle cx="1703.8" cy="1618.5" r="6" fill="#9c9cb0"/><circle cx="1716.8" cy="1623.5" r="5" fill="#a0a0b4"/><circle cx="1730.5" cy="1537.3" r="10.8" fill="none" stroke="#111" stroke-width="2.3" stroke-dasharray="6 4"/><circle cx="1566.4" cy="1577.4" r="10.8" fill="none" stroke="#111" stroke-width="2.3" stroke-dasharray="6 4"/></g>
<g clip-path="url(#hc7)"><rect x="1752.2" y="1475.5" width="237.9" height="238.5" fill="#fdf8ea"/><g filter="url(#b3)"><ellipse cx="1826.5" cy="1720.7" rx="15.7" ry="8.5" transform="rotate(70.4 1826.5 1720.7)" fill="#a4bde6" opacity="0.8"/><ellipse cx="1855.1" cy="1561.9" rx="11.9" ry="6.4" transform="rotate(43.4 1855.1 1561.9)" fill="#c7d7ef" opacity="0.8"/><ellipse cx="1808.5" cy="1513.3" rx="13.5" ry="8.7" transform="rotate(46.1 1808.5 1513.3)" fill="#c7d7ef" opacity="0.8"/><ellipse cx="1894.6" cy="1621.7" rx="21.6" ry="9.4" transform="rotate(27 1894.6 1621.7)" fill="#a4bde6" opacity="0.8"/><ellipse cx="1838" cy="1539.1" rx="10.3" ry="4.3" transform="rotate(70.8 1838 1539.1)" fill="#a4bde6" opacity="0.8"/><ellipse cx="1901.3" cy="1582.4" rx="20.9" ry="4.6" transform="rotate(24.1 1901.3 1582.4)" fill="#a4bde6" opacity="0.8"/><ellipse cx="1827.1" cy="1490.3" rx="16.6" ry="6.2" transform="rotate(156.1 1827.1 1490.3)" fill="#c7d7ef" opacity="0.8"/><ellipse cx="1755.6" cy="1712.7" rx="23" ry="9.9" transform="rotate(21.4 1755.6 1712.7)" fill="#c7d7ef" opacity="0.8"/><ellipse cx="1838.9" cy="1595.3" rx="23.5" ry="5.2" transform="rotate(49.7 1838.9 1595.3)" fill="#b3c9ea" opacity="0.8"/><ellipse cx="1858" cy="1597.3" rx="20.2" ry="7.9" transform="rotate(43.5 1858 1597.3)" fill="#a4bde6" opacity="0.8"/><ellipse cx="1904.8" cy="1488.8" rx="21" ry="6.2" transform="rotate(46.2 1904.8 1488.8)" fill="#a4bde6" opacity="0.8"/><ellipse cx="1758.9" cy="1561.7" rx="17.3" ry="6.4" transform="rotate(12.6 1758.9 1561.7)" fill="#b3c9ea" opacity="0.8"/><ellipse cx="1926.8" cy="1547.9" rx="15.1" ry="9.2" transform="rotate(118.6 1926.8 1547.9)" fill="#a4bde6" opacity="0.8"/><ellipse cx="1879.3" cy="1521.4" rx="12.7" ry="4.3" transform="rotate(61.3 1879.3 1521.4)" fill="#a4bde6" opacity="0.8"/><ellipse cx="1786.1" cy="1589" rx="27.4" ry="8.2" transform="rotate(55.2 1786.1 1589)" fill="#c7d7ef" opacity="0.8"/><ellipse cx="1943.9" cy="1717.4" rx="21.1" ry="4.8" transform="rotate(80.9 1943.9 1717.4)" fill="#b3c9ea" opacity="0.8"/><ellipse cx="1782.9" cy="1577.7" rx="26" ry="4.4" transform="rotate(113.8 1782.9 1577.7)" fill="#b3c9ea" opacity="0.8"/><ellipse cx="1986.8" cy="1628.2" rx="18" ry="7.6" transform="rotate(53 1986.8 1628.2)" fill="#a4bde6" opacity="0.8"/><ellipse cx="1767.7" cy="1680.7" rx="18.4" ry="9.5" transform="rotate(2.3 1767.7 1680.7)" fill="#c7d7ef" opacity="0.8"/><ellipse cx="1875" cy="1649.9" rx="27.8" ry="7.5" transform="rotate(16.6 1875 1649.9)" fill="#b3c9ea" opacity="0.8"/><ellipse cx="1886.3" cy="1565.3" rx="13.3" ry="8.7" transform="rotate(145.5 1886.3 1565.3)" fill="#b3c9ea" opacity="0.8"/><ellipse cx="1899.6" cy="1645.8" rx="22.4" ry="4.8" transform="rotate(100.8 1899.6 1645.8)" fill="#c7d7ef" opacity="0.8"/><ellipse cx="1967.2" cy="1561.1" rx="13" ry="3.2" transform="rotate(78.4 1967.2 1561.1)" fill="#a4bde6" opacity="0.8"/><ellipse cx="1747.3" cy="1640.9" rx="23" ry="9.5" transform="rotate(133.7 1747.3 1640.9)" fill="#b3c9ea" opacity="0.8"/></g><path d="M1937.2,1475.5 C1930.2,1555.5 1922.2,1625.5 1934.2,1714 L1967.2,1714 C1957.2,1625.5 1964.2,1555.5 1964.2,1475.5 Z" fill="#6e90d0" filter="url(#b3)" opacity="0.85"/><g filter="url(#b1)"><ellipse cx="1778.2" cy="1500.5" rx="10" ry="13" fill="#2149b6"/><ellipse cx="1764.2" cy="1555.5" rx="10" ry="10" fill="#2149b6"/><ellipse cx="1780.2" cy="1595.5" rx="9" ry="11" fill="#2149b6"/><ellipse cx="1780.2" cy="1635.5" rx="9" ry="11" fill="#2149b6"/><ellipse cx="1785.2" cy="1660.5" rx="10" ry="10" fill="#2149b6"/><ellipse cx="1817.2" cy="1535.5" rx="11" ry="16" fill="#2149b6"/><ellipse cx="1832.2" cy="1580.5" rx="8" ry="10" fill="#2149b6"/><ellipse cx="1847.2" cy="1610.5" rx="9" ry="11" fill="#2149b6"/><ellipse cx="1877.2" cy="1650.5" rx="10" ry="10" fill="#2149b6"/><ellipse cx="1902.2" cy="1595.5" rx="8" ry="10" fill="#2149b6"/><ellipse cx="1902.2" cy="1530.5" rx="8" ry="14" fill="#2149b6"/><ellipse cx="1929.2" cy="1620.5" rx="10" ry="13" fill="#2149b6"/><ellipse cx="1957.2" cy="1585.5" rx="9" ry="20" fill="#2149b6"/><ellipse cx="1877.2" cy="1500.5" rx="8" ry="10" fill="#2149b6"/><ellipse cx="1822.2" cy="1625.5" rx="5" ry="6" fill="#2149b6"/><ellipse cx="1860.2" cy="1650.5" rx="5" ry="5" fill="#2149b6"/><ellipse cx="1952.2" cy="1675.5" rx="10" ry="10" fill="#2149b6"/><ellipse cx="1984.2" cy="1690.5" rx="8" ry="11" fill="#2149b6"/><ellipse cx="1852.2" cy="1675.5" rx="8" ry="8" fill="#2149b6"/><ellipse cx="1922.2" cy="1675.5" rx="9" ry="9" fill="#2149b6"/><ellipse cx="1862.2" cy="1555.5" rx="6" ry="8" fill="#2149b6"/></g></g>
<rect x="1949" y="1704" width="39" height="6" fill="#000"/><line x1="172.4" y1="939.2" x2="172.4" y2="651.9" stroke="#000" stroke-width="2.2"/>
<line x1="155.4" y1="939.2" x2="430.2" y2="939.2" stroke="#000" stroke-width="2.2"/>
<line x1="155.4" y1="843.4" x2="172.4" y2="843.4" stroke="#000" stroke-width="2.2"/>
<line x1="155.4" y1="747.7" x2="172.4" y2="747.7" stroke="#000" stroke-width="2.2"/>
<line x1="155.4" y1="651.9" x2="172.4" y2="651.9" stroke="#000" stroke-width="2.2"/>
<line x1="172.4" y1="939.2" x2="172.4" y2="957.2" stroke="#000" stroke-width="2.2"/>
<line x1="224" y1="939.2" x2="224" y2="957.2" stroke="#000" stroke-width="2.2"/>
<line x1="275.5" y1="939.2" x2="275.5" y2="957.2" stroke="#000" stroke-width="2.2"/>
<line x1="327.1" y1="939.2" x2="327.1" y2="957.2" stroke="#000" stroke-width="2.2"/>
<line x1="378.6" y1="939.2" x2="378.6" y2="957.2" stroke="#000" stroke-width="2.2"/>
<line x1="430.2" y1="939.2" x2="430.2" y2="957.2" stroke="#000" stroke-width="2.2"/>
<polyline points="172.4,939.2 203.3,911.8 224,844.4 244.6,807.3 275.5,727.3 275.5,939.2 285.8,939.2 306.4,904.3 327.1,834.2 347.7,815.5 378.6,743.2 419.8,717.2" fill="none" stroke="#8c8c8c" stroke-width="1.6" stroke-linejoin="round"/>
<polyline points="172.4,939.2 203.3,901.8 224,833.9 244.6,811.6 275.5,725.7 275.5,939.2 285.8,939.2 306.4,908.5 327.1,842 347.7,811.8 378.6,738.5 419.8,712.8" fill="none" stroke="#8c8c8c" stroke-width="1.6" stroke-linejoin="round"/>
<polyline points="172.4,939.2 203.3,907.4 224,855.4 244.6,792.2 275.5,721.5 275.5,939.2 285.8,939.2 306.4,901.5 327.1,835.4 347.7,819.1 378.6,759 419.8,723.9" fill="none" stroke="#8c8c8c" stroke-width="1.6" stroke-linejoin="round"/>
<polyline points="172.4,939.2 203.3,914.2 224,849.6 244.6,788.7 275.5,744.5 275.5,939.2 285.8,939.2 306.4,909.5 327.1,840.5 347.7,818.5 378.6,741.2 419.8,699.4" fill="none" stroke="#8c8c8c" stroke-width="1.6" stroke-linejoin="round"/>
<polyline points="172.4,939.2 203.3,915.8 224,848.5 244.6,811.8 275.5,738.2 275.5,939.2 285.8,939.2 306.4,904.4 327.1,834.1 347.7,804.1 378.6,733 419.8,723.4" fill="none" stroke="#8c8c8c" stroke-width="1.6" stroke-linejoin="round"/>
<line x1="515.7" y1="939.2" x2="515.7" y2="651.9" stroke="#000" stroke-width="2.2"/>
<line x1="498.7" y1="939.2" x2="773.5" y2="939.2" stroke="#000" stroke-width="2.2"/>
<line x1="498.7" y1="843.4" x2="515.7" y2="843.4" stroke="#000" stroke-width="2.2"/>
<line x1="498.7" y1="747.7" x2="515.7" y2="747.7" stroke="#000" stroke-width="2.2"/>
<line x1="498.7" y1="651.9" x2="515.7" y2="651.9" stroke="#000" stroke-width="2.2"/>
<line x1="515.7" y1="939.2" x2="515.7" y2="957.2" stroke="#000" stroke-width="2.2"/>
<line x1="567.3" y1="939.2" x2="567.3" y2="957.2" stroke="#000" stroke-width="2.2"/>
<line x1="618.8" y1="939.2" x2="618.8" y2="957.2" stroke="#000" stroke-width="2.2"/>
<line x1="670.4" y1="939.2" x2="670.4" y2="957.2" stroke="#000" stroke-width="2.2"/>
<line x1="721.9" y1="939.2" x2="721.9" y2="957.2" stroke="#000" stroke-width="2.2"/>
<line x1="773.5" y1="939.2" x2="773.5" y2="957.2" stroke="#000" stroke-width="2.2"/>
<polyline points="515.7,939.2 546.6,909.3 567.2,835.7 587.9,800.3 618.8,737.8 618.8,939.2 629.1,939.2 649.7,911 670.4,853.8 691,814.4 721.9,753.8 763.1,720.3" fill="none" stroke="#6bcbb5" stroke-width="1.6" stroke-linejoin="round"/>
<polyline points="515.7,939.2 546.6,914.2 567.2,856.5 587.9,791.1 618.8,731.4 618.8,939.2 629.1,939.2 649.7,919.4 670.4,832.4 691,802.2 721.9,753.1 763.1,724.7" fill="none" stroke="#6bcbb5" stroke-width="1.6" stroke-linejoin="round"/>
<polyline points="515.7,939.2 546.6,919.8 567.2,845.6 587.9,811.2 618.8,748.8 618.8,939.2 629.1,939.2 649.7,916.3 670.4,857.9 691,815.7 721.9,758.8 763.1,719" fill="none" stroke="#6bcbb5" stroke-width="1.6" stroke-linejoin="round"/>
<polyline points="515.7,939.2 546.6,907.8 567.2,846.3 587.9,795 618.8,739.6 618.8,939.2 629.1,939.2 649.7,915.8 670.4,832 691,801.4 721.9,748.1 763.1,722.4" fill="none" stroke="#6bcbb5" stroke-width="1.6" stroke-linejoin="round"/>
<polyline points="515.7,939.2 546.6,915.6 567.2,851.6 587.9,810.9 618.8,728.9 618.8,939.2 629.1,939.2 649.7,913.9 670.4,836.1 691,817.7 721.9,745 763.1,718.9" fill="none" stroke="#6bcbb5" stroke-width="1.6" stroke-linejoin="round"/>
<line x1="855.2" y1="939.2" x2="855.2" y2="651.9" stroke="#000" stroke-width="2.2"/>
<line x1="838.2" y1="939.2" x2="1113" y2="939.2" stroke="#000" stroke-width="2.2"/>
<line x1="838.2" y1="843.4" x2="855.2" y2="843.4" stroke="#000" stroke-width="2.2"/>
<line x1="838.2" y1="747.7" x2="855.2" y2="747.7" stroke="#000" stroke-width="2.2"/>
<line x1="838.2" y1="651.9" x2="855.2" y2="651.9" stroke="#000" stroke-width="2.2"/>
<line x1="855.2" y1="939.2" x2="855.2" y2="957.2" stroke="#000" stroke-width="2.2"/>
<line x1="906.8" y1="939.2" x2="906.8" y2="957.2" stroke="#000" stroke-width="2.2"/>
<line x1="958.3" y1="939.2" x2="958.3" y2="957.2" stroke="#000" stroke-width="2.2"/>
<line x1="1009.9" y1="939.2" x2="1009.9" y2="957.2" stroke="#000" stroke-width="2.2"/>
<line x1="1061.4" y1="939.2" x2="1061.4" y2="957.2" stroke="#000" stroke-width="2.2"/>
<line x1="1113" y1="939.2" x2="1113" y2="957.2" stroke="#000" stroke-width="2.2"/>
<polyline points="855.2,939.2 886.1,907.5 906.8,842.2 927.4,809 958.3,755 958.3,939.2 968.6,939.2 989.2,928.4 1009.9,907.1 1030.5,879.3 1061.4,898 1102.6,912.7" fill="none" stroke="#3a9ade" stroke-width="1.6" stroke-linejoin="round"/>
<polyline points="855.2,939.2 886.1,907.4 906.8,855.1 927.4,801 958.3,749.7 958.3,939.2 968.6,939.2 989.2,921.3 1009.9,911.3 1030.5,879.1 1061.4,907.4 1102.6,911.4" fill="none" stroke="#3a9ade" stroke-width="1.6" stroke-linejoin="round"/>
<polyline points="855.2,939.2 886.1,912.3 906.8,837.8 927.4,812.3 958.3,753.2 958.3,939.2 968.6,939.2 989.2,921.2 1009.9,902.6 1030.5,891.7 1061.4,893.4 1102.6,907.5" fill="none" stroke="#3a9ade" stroke-width="1.6" stroke-linejoin="round"/>
<polyline points="855.2,939.2 886.1,911.9 906.8,855.4 927.4,804.4 958.3,733.9 958.3,939.2 968.6,939.2 989.2,931.3 1009.9,899 1030.5,892.3 1061.4,905.9 1102.6,909.5" fill="none" stroke="#3a9ade" stroke-width="1.6" stroke-linejoin="round"/>
<polyline points="855.2,939.2 886.1,912 906.8,843.9 927.4,800 958.3,742.1 958.3,939.2 968.6,939.2 989.2,933 1009.9,898.5 1030.5,876.6 1061.4,893.6 1102.6,911.8" fill="none" stroke="#3a9ade" stroke-width="1.6" stroke-linejoin="round"/>
<line x1="1191" y1="939.2" x2="1191" y2="651.9" stroke="#000" stroke-width="2.2"/>
<line x1="1174" y1="939.2" x2="1448.8" y2="939.2" stroke="#000" stroke-width="2.2"/>
<line x1="1174" y1="843.4" x2="1191" y2="843.4" stroke="#000" stroke-width="2.2"/>
<line x1="1174" y1="747.7" x2="1191" y2="747.7" stroke="#000" stroke-width="2.2"/>
<line x1="1174" y1="651.9" x2="1191" y2="651.9" stroke="#000" stroke-width="2.2"/>
<line x1="1191" y1="939.2" x2="1191" y2="957.2" stroke="#000" stroke-width="2.2"/>
<line x1="1242.6" y1="939.2" x2="1242.6" y2="957.2" stroke="#000" stroke-width="2.2"/>
<line x1="1294.1" y1="939.2" x2="1294.1" y2="957.2" stroke="#000" stroke-width="2.2"/>
<line x1="1345.7" y1="939.2" x2="1345.7" y2="957.2" stroke="#000" stroke-width="2.2"/>
<line x1="1397.2" y1="939.2" x2="1397.2" y2="957.2" stroke="#000" stroke-width="2.2"/>
<line x1="1448.8" y1="939.2" x2="1448.8" y2="957.2" stroke="#000" stroke-width="2.2"/>
<polyline points="1191,939.2 1221.9,906.9 1242.5,841.7 1263.2,790 1294.1,748.9 1294.1,939.2 1304.4,939.2 1325,936 1345.7,927.9 1366.3,920.9 1397.2,926.9 1438.4,936.8" fill="none" stroke="#e4493a" stroke-width="1.6" stroke-linejoin="round"/>
<polyline points="1191,939.2 1221.9,915.9 1242.5,851.4 1263.2,801.2 1294.1,726.4 1294.1,939.2 1304.4,939.2 1325,933.8 1345.7,929.5 1366.3,920.2 1397.2,933.7 1438.4,933.9" fill="none" stroke="#e4493a" stroke-width="1.6" stroke-linejoin="round"/>
<polyline points="1191,939.2 1221.9,904.6 1242.5,838.2 1263.2,792.8 1294.1,722.6 1294.1,939.2 1304.4,939.2 1325,932.7 1345.7,926.7 1366.3,912.5 1397.2,929.8 1438.4,934.4" fill="none" stroke="#e4493a" stroke-width="1.6" stroke-linejoin="round"/>
<polyline points="1191,939.2 1221.9,911.8 1242.5,849.7 1263.2,801.3 1294.1,744.5 1294.1,939.2 1304.4,939.2 1325,936.6 1345.7,920.2 1366.3,913.2 1397.2,924 1438.4,934.6" fill="none" stroke="#e4493a" stroke-width="1.6" stroke-linejoin="round"/>
<polyline points="1191,939.2 1221.9,905.7 1242.5,855.4 1263.2,794.6 1294.1,740 1294.1,939.2 1304.4,939.2 1325,936.3 1345.7,927.3 1366.3,916.9 1397.2,932.5 1438.4,935.5" fill="none" stroke="#e4493a" stroke-width="1.6" stroke-linejoin="round"/>
<text transform="matrix(1 0 0 1.05 151 950.7)" font-size="32" text-anchor="end">0</text>
<text transform="matrix(1 0 0 1.05 151 854.9)" font-size="32" text-anchor="end">50</text>
<text transform="matrix(1 0 0 1.05 151 759.2)" font-size="32" text-anchor="end">100</text>
<text transform="matrix(1 0 0 1.05 151 663.4)" font-size="32" text-anchor="end">150</text>
<text transform="matrix(1 0 0 1.05 172.4 987.8)" font-size="32" text-anchor="middle">0</text>
<text transform="matrix(1 0 0 1.05 224 987.8)" font-size="32" text-anchor="middle">5</text>
<text transform="matrix(1 0 0 1.05 275.5 987.8)" font-size="32" text-anchor="middle">10</text>
<text transform="matrix(1 0 0 1.05 327.1 987.8)" font-size="32" text-anchor="middle">15</text>
<text transform="matrix(1 0 0 1.05 378.6 987.8)" font-size="32" text-anchor="middle">20</text>
<text transform="matrix(1 0 0 1.05 430.2 987.8)" font-size="32" text-anchor="middle">25</text>
<text transform="translate(76 795) rotate(-90) scale(1 1.05)" font-size="33.5" text-anchor="middle">Infection area (mm<tspan dy="-10" font-size="24">2</tspan><tspan dy="10">)</tspan></text>
<text transform="matrix(1 0 0 1.05 651 992.5)" font-size="37.5" text-anchor="middle">Time (days)</text>
<rect x="1549" y="738.3" width="48" height="7.4" fill="#7a7a7a"/>
<text transform="matrix(1 0 0 1.05 1603.3 754.2)" font-size="40.6">Control</text>
<rect x="1549" y="923.8" width="48" height="7.4" fill="#68cbb4"/>
<text transform="matrix(1 0 0 1.05 1603.3 939.7)" font-size="40.6">Van</text>
<rect x="1549" y="1108.3" width="48" height="7.4" fill="#3a96d9"/>
<text transform="matrix(1 0 0 1.05 1603.3 1124.2)" font-size="40.6">MPS1</text>
<rect x="1549" y="1293.7" width="48" height="7.4" fill="#e23d30"/>
<text transform="matrix(1 0 0 1.05 1603.3 1309.6)" font-size="40.6">MPS2</text>
<line x1="171.4" y1="1348.1" x2="171.4" y2="1061.7" stroke="#000" stroke-width="2.2"/>
<line x1="154.4" y1="1348.1" x2="601.7" y2="1348.1" stroke="#000" stroke-width="2.2"/>
<line x1="154.4" y1="1252.6" x2="171.4" y2="1252.6" stroke="#000" stroke-width="2.2"/>
<line x1="154.4" y1="1157.2" x2="171.4" y2="1157.2" stroke="#000" stroke-width="2.2"/>
<line x1="154.4" y1="1061.7" x2="171.4" y2="1061.7" stroke="#000" stroke-width="2.2"/>
<line x1="171.4" y1="1348.1" x2="171.4" y2="1366.1" stroke="#000" stroke-width="2.2"/>
<line x1="257.5" y1="1348.1" x2="257.5" y2="1366.1" stroke="#000" stroke-width="2.2"/>
<line x1="343.5" y1="1348.1" x2="343.5" y2="1366.1" stroke="#000" stroke-width="2.2"/>
<line x1="429.6" y1="1348.1" x2="429.6" y2="1366.1" stroke="#000" stroke-width="2.2"/>
<line x1="515.6" y1="1348.1" x2="515.6" y2="1366.1" stroke="#000" stroke-width="2.2"/>
<line x1="601.7" y1="1348.1" x2="601.7" y2="1366.1" stroke="#000" stroke-width="2.2"/>
<polyline points="171.4,1348.1 223,1317.6 257.5,1262.2 291.9,1204.9 343.5,1141.9 343.5,1348.1 360.7,1348.1 395.2,1340.5 429.6,1330.9 464,1327.1 515.6,1338.6 584.5,1344.3" fill="none" stroke="#e4493a" stroke-width="4" stroke-linejoin="round"/>
<line x1="223" y1="1321.4" x2="223" y2="1313.7" stroke="#e4493a" stroke-width="3.2"/>
<line x1="214.5" y1="1313.7" x2="231.5" y2="1313.7" stroke="#e4493a" stroke-width="3.2"/>
<line x1="214.5" y1="1321.4" x2="231.5" y2="1321.4" stroke="#e4493a" stroke-width="3.2"/>
<line x1="257.5" y1="1266" x2="257.5" y2="1258.4" stroke="#e4493a" stroke-width="3.2"/>
<line x1="249" y1="1258.4" x2="266" y2="1258.4" stroke="#e4493a" stroke-width="3.2"/>
<line x1="249" y1="1266" x2="266" y2="1266" stroke="#e4493a" stroke-width="3.2"/>
<line x1="291.9" y1="1210.6" x2="291.9" y2="1199.2" stroke="#e4493a" stroke-width="3.2"/>
<line x1="283.4" y1="1199.2" x2="300.4" y2="1199.2" stroke="#e4493a" stroke-width="3.2"/>
<line x1="283.4" y1="1210.6" x2="300.4" y2="1210.6" stroke="#e4493a" stroke-width="3.2"/>
<line x1="343.5" y1="1149.5" x2="343.5" y2="1134.3" stroke="#e4493a" stroke-width="3.2"/>
<line x1="335" y1="1134.3" x2="352" y2="1134.3" stroke="#e4493a" stroke-width="3.2"/>
<line x1="335" y1="1149.5" x2="352" y2="1149.5" stroke="#e4493a" stroke-width="3.2"/>
<line x1="395.2" y1="1343.3" x2="395.2" y2="1337.6" stroke="#e4493a" stroke-width="3.2"/>
<line x1="386.7" y1="1337.6" x2="403.7" y2="1337.6" stroke="#e4493a" stroke-width="3.2"/>
<line x1="386.7" y1="1343.3" x2="403.7" y2="1343.3" stroke="#e4493a" stroke-width="3.2"/>
<line x1="429.6" y1="1334.7" x2="429.6" y2="1327.1" stroke="#e4493a" stroke-width="3.2"/>
<line x1="421.1" y1="1327.1" x2="438.1" y2="1327.1" stroke="#e4493a" stroke-width="3.2"/>
<line x1="421.1" y1="1334.7" x2="438.1" y2="1334.7" stroke="#e4493a" stroke-width="3.2"/>
<line x1="464" y1="1331.9" x2="464" y2="1322.3" stroke="#e4493a" stroke-width="3.2"/>
<line x1="455.5" y1="1322.3" x2="472.5" y2="1322.3" stroke="#e4493a" stroke-width="3.2"/>
<line x1="455.5" y1="1331.9" x2="472.5" y2="1331.9" stroke="#e4493a" stroke-width="3.2"/>
<line x1="515.6" y1="1343.3" x2="515.6" y2="1333.8" stroke="#e4493a" stroke-width="3.2"/>
<line x1="507.1" y1="1333.8" x2="524.1" y2="1333.8" stroke="#e4493a" stroke-width="3.2"/>
<line x1="507.1" y1="1343.3" x2="524.1" y2="1343.3" stroke="#e4493a" stroke-width="3.2"/>
<line x1="584.5" y1="1346.2" x2="584.5" y2="1342.4" stroke="#e4493a" stroke-width="3.2"/>
<line x1="576" y1="1342.4" x2="593" y2="1342.4" stroke="#e4493a" stroke-width="3.2"/>
<line x1="576" y1="1346.2" x2="593" y2="1346.2" stroke="#e4493a" stroke-width="3.2"/>
<polyline points="171.4,1348.1 223,1315.6 257.5,1254.5 291.9,1206.8 343.5,1140 343.5,1348.1 360.7,1348.1 395.2,1332.8 429.6,1311.8 464,1296.5 515.6,1313.7 584.5,1329" fill="none" stroke="#3a9ade" stroke-width="4" stroke-linejoin="round"/>
<line x1="223" y1="1321.4" x2="223" y2="1309.9" stroke="#3a9ade" stroke-width="3.2"/>
<line x1="214.5" y1="1309.9" x2="231.5" y2="1309.9" stroke="#3a9ade" stroke-width="3.2"/>
<line x1="214.5" y1="1321.4" x2="231.5" y2="1321.4" stroke="#3a9ade" stroke-width="3.2"/>
<line x1="257.5" y1="1266" x2="257.5" y2="1243.1" stroke="#3a9ade" stroke-width="3.2"/>
<line x1="249" y1="1243.1" x2="266" y2="1243.1" stroke="#3a9ade" stroke-width="3.2"/>
<line x1="249" y1="1266" x2="266" y2="1266" stroke="#3a9ade" stroke-width="3.2"/>
<line x1="291.9" y1="1212.5" x2="291.9" y2="1201.1" stroke="#3a9ade" stroke-width="3.2"/>
<line x1="283.4" y1="1201.1" x2="300.4" y2="1201.1" stroke="#3a9ade" stroke-width="3.2"/>
<line x1="283.4" y1="1212.5" x2="300.4" y2="1212.5" stroke="#3a9ade" stroke-width="3.2"/>
<line x1="343.5" y1="1151.4" x2="343.5" y2="1128.5" stroke="#3a9ade" stroke-width="3.2"/>
<line x1="335" y1="1128.5" x2="352" y2="1128.5" stroke="#3a9ade" stroke-width="3.2"/>
<line x1="335" y1="1151.4" x2="352" y2="1151.4" stroke="#3a9ade" stroke-width="3.2"/>
<line x1="395.2" y1="1336.6" x2="395.2" y2="1329" stroke="#3a9ade" stroke-width="3.2"/>
<line x1="386.7" y1="1329" x2="403.7" y2="1329" stroke="#3a9ade" stroke-width="3.2"/>
<line x1="386.7" y1="1336.6" x2="403.7" y2="1336.6" stroke="#3a9ade" stroke-width="3.2"/>
<line x1="429.6" y1="1325.2" x2="429.6" y2="1298.5" stroke="#3a9ade" stroke-width="3.2"/>
<line x1="421.1" y1="1298.5" x2="438.1" y2="1298.5" stroke="#3a9ade" stroke-width="3.2"/>
<line x1="421.1" y1="1325.2" x2="438.1" y2="1325.2" stroke="#3a9ade" stroke-width="3.2"/>
<line x1="464" y1="1304.2" x2="464" y2="1288.9" stroke="#3a9ade" stroke-width="3.2"/>
<line x1="455.5" y1="1288.9" x2="472.5" y2="1288.9" stroke="#3a9ade" stroke-width="3.2"/>
<line x1="455.5" y1="1304.2" x2="472.5" y2="1304.2" stroke="#3a9ade" stroke-width="3.2"/>
<line x1="515.6" y1="1321.4" x2="515.6" y2="1306.1" stroke="#3a9ade" stroke-width="3.2"/>
<line x1="507.1" y1="1306.1" x2="524.1" y2="1306.1" stroke="#3a9ade" stroke-width="3.2"/>
<line x1="507.1" y1="1321.4" x2="524.1" y2="1321.4" stroke="#3a9ade" stroke-width="3.2"/>
<line x1="584.5" y1="1336.6" x2="584.5" y2="1321.4" stroke="#3a9ade" stroke-width="3.2"/>
<line x1="576" y1="1321.4" x2="593" y2="1321.4" stroke="#3a9ade" stroke-width="3.2"/>
<line x1="576" y1="1336.6" x2="593" y2="1336.6" stroke="#3a9ade" stroke-width="3.2"/>
<polyline points="171.4,1348.1 223,1315.6 257.5,1248.8 291.9,1210.6 343.5,1149.5 343.5,1348.1 360.7,1348.1 395.2,1321.4 429.6,1260.3 464,1222.1 515.6,1168.6 584.5,1138.1" fill="none" stroke="#6bcbb5" stroke-width="4" stroke-linejoin="round"/>
<line x1="223" y1="1319.5" x2="223" y2="1311.8" stroke="#6bcbb5" stroke-width="3.2"/>
<line x1="214.5" y1="1311.8" x2="231.5" y2="1311.8" stroke="#6bcbb5" stroke-width="3.2"/>
<line x1="214.5" y1="1319.5" x2="231.5" y2="1319.5" stroke="#6bcbb5" stroke-width="3.2"/>
<line x1="257.5" y1="1256.5" x2="257.5" y2="1241.2" stroke="#6bcbb5" stroke-width="3.2"/>
<line x1="249" y1="1241.2" x2="266" y2="1241.2" stroke="#6bcbb5" stroke-width="3.2"/>
<line x1="249" y1="1256.5" x2="266" y2="1256.5" stroke="#6bcbb5" stroke-width="3.2"/>
<line x1="291.9" y1="1218.3" x2="291.9" y2="1203" stroke="#6bcbb5" stroke-width="3.2"/>
<line x1="283.4" y1="1203" x2="300.4" y2="1203" stroke="#6bcbb5" stroke-width="3.2"/>
<line x1="283.4" y1="1218.3" x2="300.4" y2="1218.3" stroke="#6bcbb5" stroke-width="3.2"/>
<line x1="343.5" y1="1157.2" x2="343.5" y2="1141.9" stroke="#6bcbb5" stroke-width="3.2"/>
<line x1="335" y1="1141.9" x2="352" y2="1141.9" stroke="#6bcbb5" stroke-width="3.2"/>
<line x1="335" y1="1157.2" x2="352" y2="1157.2" stroke="#6bcbb5" stroke-width="3.2"/>
<line x1="395.2" y1="1327.1" x2="395.2" y2="1315.6" stroke="#6bcbb5" stroke-width="3.2"/>
<line x1="386.7" y1="1315.6" x2="403.7" y2="1315.6" stroke="#6bcbb5" stroke-width="3.2"/>
<line x1="386.7" y1="1327.1" x2="403.7" y2="1327.1" stroke="#6bcbb5" stroke-width="3.2"/>
<line x1="429.6" y1="1273.6" x2="429.6" y2="1246.9" stroke="#6bcbb5" stroke-width="3.2"/>
<line x1="421.1" y1="1246.9" x2="438.1" y2="1246.9" stroke="#6bcbb5" stroke-width="3.2"/>
<line x1="421.1" y1="1273.6" x2="438.1" y2="1273.6" stroke="#6bcbb5" stroke-width="3.2"/>
<line x1="464" y1="1231.6" x2="464" y2="1212.5" stroke="#6bcbb5" stroke-width="3.2"/>
<line x1="455.5" y1="1212.5" x2="472.5" y2="1212.5" stroke="#6bcbb5" stroke-width="3.2"/>
<line x1="455.5" y1="1231.6" x2="472.5" y2="1231.6" stroke="#6bcbb5" stroke-width="3.2"/>
<line x1="515.6" y1="1180.1" x2="515.6" y2="1157.2" stroke="#6bcbb5" stroke-width="3.2"/>
<line x1="507.1" y1="1157.2" x2="524.1" y2="1157.2" stroke="#6bcbb5" stroke-width="3.2"/>
<line x1="507.1" y1="1180.1" x2="524.1" y2="1180.1" stroke="#6bcbb5" stroke-width="3.2"/>
<line x1="584.5" y1="1147.6" x2="584.5" y2="1128.5" stroke="#6bcbb5" stroke-width="3.2"/>
<line x1="576" y1="1128.5" x2="593" y2="1128.5" stroke="#6bcbb5" stroke-width="3.2"/>
<line x1="576" y1="1147.6" x2="593" y2="1147.6" stroke="#6bcbb5" stroke-width="3.2"/>
<polyline points="171.4,1348.1 223,1321.4 257.5,1258.4 291.9,1204.9 343.5,1147.6 343.5,1348.1 360.7,1348.1 395.2,1325.2 429.6,1256.5 464,1216.4 515.6,1155.3 584.5,1117.1" fill="none" stroke="#8c8c8c" stroke-width="4" stroke-linejoin="round"/>
<line x1="223" y1="1327.1" x2="223" y2="1315.6" stroke="#8c8c8c" stroke-width="3.2"/>
<line x1="214.5" y1="1315.6" x2="231.5" y2="1315.6" stroke="#8c8c8c" stroke-width="3.2"/>
<line x1="214.5" y1="1327.1" x2="231.5" y2="1327.1" stroke="#8c8c8c" stroke-width="3.2"/>
<line x1="257.5" y1="1266" x2="257.5" y2="1250.7" stroke="#8c8c8c" stroke-width="3.2"/>
<line x1="249" y1="1250.7" x2="266" y2="1250.7" stroke="#8c8c8c" stroke-width="3.2"/>
<line x1="249" y1="1266" x2="266" y2="1266" stroke="#8c8c8c" stroke-width="3.2"/>
<line x1="291.9" y1="1212.5" x2="291.9" y2="1197.3" stroke="#8c8c8c" stroke-width="3.2"/>
<line x1="283.4" y1="1197.3" x2="300.4" y2="1197.3" stroke="#8c8c8c" stroke-width="3.2"/>
<line x1="283.4" y1="1212.5" x2="300.4" y2="1212.5" stroke="#8c8c8c" stroke-width="3.2"/>
<line x1="343.5" y1="1161" x2="343.5" y2="1134.3" stroke="#8c8c8c" stroke-width="3.2"/>
<line x1="335" y1="1134.3" x2="352" y2="1134.3" stroke="#8c8c8c" stroke-width="3.2"/>
<line x1="335" y1="1161" x2="352" y2="1161" stroke="#8c8c8c" stroke-width="3.2"/>
<line x1="395.2" y1="1330.9" x2="395.2" y2="1319.5" stroke="#8c8c8c" stroke-width="3.2"/>
<line x1="386.7" y1="1319.5" x2="403.7" y2="1319.5" stroke="#8c8c8c" stroke-width="3.2"/>
<line x1="386.7" y1="1330.9" x2="403.7" y2="1330.9" stroke="#8c8c8c" stroke-width="3.2"/>
<line x1="429.6" y1="1271.7" x2="429.6" y2="1241.2" stroke="#8c8c8c" stroke-width="3.2"/>
<line x1="421.1" y1="1241.2" x2="438.1" y2="1241.2" stroke="#8c8c8c" stroke-width="3.2"/>
<line x1="421.1" y1="1271.7" x2="438.1" y2="1271.7" stroke="#8c8c8c" stroke-width="3.2"/>
<line x1="464" y1="1225.9" x2="464" y2="1206.8" stroke="#8c8c8c" stroke-width="3.2"/>
<line x1="455.5" y1="1206.8" x2="472.5" y2="1206.8" stroke="#8c8c8c" stroke-width="3.2"/>
<line x1="455.5" y1="1225.9" x2="472.5" y2="1225.9" stroke="#8c8c8c" stroke-width="3.2"/>
<line x1="515.6" y1="1166.7" x2="515.6" y2="1143.8" stroke="#8c8c8c" stroke-width="3.2"/>
<line x1="507.1" y1="1143.8" x2="524.1" y2="1143.8" stroke="#8c8c8c" stroke-width="3.2"/>
<line x1="507.1" y1="1166.7" x2="524.1" y2="1166.7" stroke="#8c8c8c" stroke-width="3.2"/>
<line x1="584.5" y1="1130.4" x2="584.5" y2="1103.7" stroke="#8c8c8c" stroke-width="3.2"/>
<line x1="576" y1="1103.7" x2="593" y2="1103.7" stroke="#8c8c8c" stroke-width="3.2"/>
<line x1="576" y1="1130.4" x2="593" y2="1130.4" stroke="#8c8c8c" stroke-width="3.2"/>
<text transform="matrix(1 0 0 1.05 151 1359.6)" font-size="32.5" text-anchor="end">0</text>
<text transform="matrix(1 0 0 1.05 151 1264.1)" font-size="32.5" text-anchor="end">50</text>
<text transform="matrix(1 0 0 1.05 151 1168.7)" font-size="32.5" text-anchor="end">100</text>
<text transform="matrix(1 0 0 1.05 151 1073.2)" font-size="32.5" text-anchor="end">150</text>
<text transform="matrix(1 0 0 1.05 171.4 1398)" font-size="32.5" text-anchor="middle">0</text>
<text transform="matrix(1 0 0 1.05 257.5 1398)" font-size="32.5" text-anchor="middle">5</text>
<text transform="matrix(1 0 0 1.05 343.5 1398)" font-size="32.5" text-anchor="middle">10</text>
<text transform="matrix(1 0 0 1.05 429.6 1398)" font-size="32.5" text-anchor="middle">15</text>
<text transform="matrix(1 0 0 1.05 515.6 1398)" font-size="32.5" text-anchor="middle">20</text>
<text transform="matrix(1 0 0 1.05 601.7 1398)" font-size="32.5" text-anchor="middle">25</text>
<text transform="translate(76 1205) rotate(-90) scale(1 1.05)" font-size="33.5" text-anchor="middle">Infection area (mm<tspan dy="-10" font-size="24">2</tspan><tspan dy="10">)</tspan></text>
<line x1="754.4" y1="1350.9" x2="754.4" y2="1063.4" stroke="#000" stroke-width="2.2"/>
<line x1="736.9" y1="1349.9" x2="1054.6" y2="1349.9" stroke="#000" stroke-width="2.2"/>
<line x1="736.9" y1="1349.9" x2="754.4" y2="1349.9" stroke="#000" stroke-width="2.2"/>
<text transform="matrix(1 0 0 1.05 734.9 1361.8)" font-size="33" text-anchor="end">2</text>
<line x1="736.9" y1="1292.6" x2="754.4" y2="1292.6" stroke="#000" stroke-width="2.2"/>
<text transform="matrix(1 0 0 1.05 734.9 1304.5)" font-size="33" text-anchor="end">3</text>
<line x1="736.9" y1="1235.3" x2="754.4" y2="1235.3" stroke="#000" stroke-width="2.2"/>
<text transform="matrix(1 0 0 1.05 734.9 1247.2)" font-size="33" text-anchor="end">4</text>
<line x1="736.9" y1="1178" x2="754.4" y2="1178" stroke="#000" stroke-width="2.2"/>
<text transform="matrix(1 0 0 1.05 734.9 1189.9)" font-size="33" text-anchor="end">5</text>
<line x1="736.9" y1="1120.7" x2="754.4" y2="1120.7" stroke="#000" stroke-width="2.2"/>
<text transform="matrix(1 0 0 1.05 734.9 1132.6)" font-size="33" text-anchor="end">6</text>
<line x1="736.9" y1="1063.4" x2="754.4" y2="1063.4" stroke="#000" stroke-width="2.2"/>
<text transform="matrix(1 0 0 1.05 734.9 1075.3)" font-size="33" text-anchor="end">7</text>
<line x1="791.4" y1="1349.9" x2="791.4" y2="1367.9" stroke="#000" stroke-width="2.2"/>
<line x1="866.6" y1="1349.9" x2="866.6" y2="1367.9" stroke="#000" stroke-width="2.2"/>
<line x1="942.1" y1="1349.9" x2="942.1" y2="1367.9" stroke="#000" stroke-width="2.2"/>
<line x1="1017.6" y1="1349.9" x2="1017.6" y2="1367.9" stroke="#000" stroke-width="2.2"/>
<line x1="765.4" y1="1120.1" x2="817.4" y2="1120.1" stroke="#8c8c8c" stroke-width="3.2"/>
<line x1="791.4" y1="1127" x2="791.4" y2="1113.3" stroke="#8c8c8c" stroke-width="3.2"/>
<line x1="778.4" y1="1113.3" x2="804.4" y2="1113.3" stroke="#8c8c8c" stroke-width="3.2"/>
<line x1="778.4" y1="1127" x2="804.4" y2="1127" stroke="#8c8c8c" stroke-width="3.2"/>
<circle cx="772.4" cy="1126.4" r="6" fill="none" stroke="#8c8c8c" stroke-width="3.6"/>
<circle cx="791.4" cy="1112.7" r="6" fill="none" stroke="#8c8c8c" stroke-width="3.6"/>
<circle cx="810.4" cy="1121.8" r="6" fill="none" stroke="#8c8c8c" stroke-width="3.6"/>
<line x1="840.6" y1="1133.3" x2="892.6" y2="1133.3" stroke="#6bcbb5" stroke-width="3.2"/>
<line x1="866.6" y1="1139" x2="866.6" y2="1127.6" stroke="#6bcbb5" stroke-width="3.2"/>
<line x1="853.6" y1="1127.6" x2="879.6" y2="1127.6" stroke="#6bcbb5" stroke-width="3.2"/>
<line x1="853.6" y1="1139" x2="879.6" y2="1139" stroke="#6bcbb5" stroke-width="3.2"/>
<circle cx="847.6" cy="1140.8" r="6" fill="none" stroke="#6bcbb5" stroke-width="3.6"/>
<circle cx="866.6" cy="1126.4" r="6" fill="none" stroke="#6bcbb5" stroke-width="3.6"/>
<circle cx="885.6" cy="1133.3" r="6" fill="none" stroke="#6bcbb5" stroke-width="3.6"/>
<line x1="916.1" y1="1227.9" x2="968.1" y2="1227.9" stroke="#3a9ade" stroke-width="3.2"/>
<line x1="942.1" y1="1236.4" x2="942.1" y2="1219.3" stroke="#3a9ade" stroke-width="3.2"/>
<line x1="929.1" y1="1219.3" x2="955.1" y2="1219.3" stroke="#3a9ade" stroke-width="3.2"/>
<line x1="929.1" y1="1236.4" x2="955.1" y2="1236.4" stroke="#3a9ade" stroke-width="3.2"/>
<circle cx="924.1" cy="1235.9" r="6" fill="none" stroke="#3a9ade" stroke-width="3.6"/>
<circle cx="942.1" cy="1216.4" r="6" fill="none" stroke="#3a9ade" stroke-width="3.6"/>
<circle cx="961.1" cy="1230.7" r="6" fill="none" stroke="#3a9ade" stroke-width="3.6"/>
<line x1="991.6" y1="1269.7" x2="1043.6" y2="1269.7" stroke="#e4493a" stroke-width="3.2"/>
<line x1="1017.6" y1="1285.2" x2="1017.6" y2="1254.2" stroke="#e4493a" stroke-width="3.2"/>
<line x1="1004.6" y1="1254.2" x2="1030.6" y2="1254.2" stroke="#e4493a" stroke-width="3.2"/>
<line x1="1004.6" y1="1285.2" x2="1030.6" y2="1285.2" stroke="#e4493a" stroke-width="3.2"/>
<circle cx="1017.6" cy="1253.6" r="6" fill="none" stroke="#e4493a" stroke-width="3.6"/>
<circle cx="1017.6" cy="1269.7" r="6" fill="none" stroke="#e4493a" stroke-width="3.6"/>
<circle cx="1017.6" cy="1285.2" r="6" fill="none" stroke="#e4493a" stroke-width="3.6"/>
<line x1="792" y1="1074.2" x2="866" y2="1074.2" stroke="#000" stroke-width="2.2"/>
<text transform="matrix(1 0 0 1.05 827.4 1069.2)" font-size="29" text-anchor="middle">ns</text>
<line x1="872.2" y1="1113.2" x2="946.3" y2="1113.2" stroke="#000" stroke-width="2.2"/>
<text x="839.8" y="1104.3" font-size="29"><tspan font-style="italic">p</tspan> = 0.0002</text>
<line x1="944.9" y1="1194.2" x2="1018.7" y2="1194.2" stroke="#000" stroke-width="2.2"/>
<text x="916.7" y="1187.3" font-size="29"><tspan font-style="italic">p</tspan> = 0.0167</text>
<text transform="translate(695 1207) rotate(-90) scale(1 1.05)" font-size="32.5" text-anchor="middle">log<tspan dy="8" font-size="23">10</tspan><tspan dy="-8"> CFU per implant</tspan></text>
<line x1="1190" y1="1350.9" x2="1190" y2="1063.4" stroke="#000" stroke-width="2.2"/>
<line x1="1172.5" y1="1349.9" x2="1490" y2="1349.9" stroke="#000" stroke-width="2.2"/>
<line x1="1172.5" y1="1349.9" x2="1190" y2="1349.9" stroke="#000" stroke-width="2.2"/>
<text transform="matrix(1 0 0 1.05 1170.5 1361.8)" font-size="33" text-anchor="end">4</text>
<line x1="1172.5" y1="1254.4" x2="1190" y2="1254.4" stroke="#000" stroke-width="2.2"/>
<text transform="matrix(1 0 0 1.05 1170.5 1266.3)" font-size="33" text-anchor="end">5</text>
<line x1="1172.5" y1="1158.9" x2="1190" y2="1158.9" stroke="#000" stroke-width="2.2"/>
<text transform="matrix(1 0 0 1.05 1170.5 1170.8)" font-size="33" text-anchor="end">6</text>
<line x1="1172.5" y1="1063.4" x2="1190" y2="1063.4" stroke="#000" stroke-width="2.2"/>
<text transform="matrix(1 0 0 1.05 1170.5 1075.3)" font-size="33" text-anchor="end">7</text>
<line x1="1226.8" y1="1349.9" x2="1226.8" y2="1367.9" stroke="#000" stroke-width="2.2"/>
<line x1="1302" y1="1349.9" x2="1302" y2="1367.9" stroke="#000" stroke-width="2.2"/>
<line x1="1377.8" y1="1349.9" x2="1377.8" y2="1367.9" stroke="#000" stroke-width="2.2"/>
<line x1="1453.3" y1="1349.9" x2="1453.3" y2="1367.9" stroke="#000" stroke-width="2.2"/>
<line x1="1200.8" y1="1099.7" x2="1252.8" y2="1099.7" stroke="#8c8c8c" stroke-width="3.2"/>
<line x1="1226.8" y1="1112.1" x2="1226.8" y2="1087.3" stroke="#8c8c8c" stroke-width="3.2"/>
<line x1="1213.8" y1="1087.3" x2="1239.8" y2="1087.3" stroke="#8c8c8c" stroke-width="3.2"/>
<line x1="1213.8" y1="1112.1" x2="1239.8" y2="1112.1" stroke="#8c8c8c" stroke-width="3.2"/>
<circle cx="1208.8" cy="1087.3" r="6" fill="none" stroke="#8c8c8c" stroke-width="3.6"/>
<circle cx="1208.8" cy="1112.1" r="6" fill="none" stroke="#8c8c8c" stroke-width="3.6"/>
<circle cx="1245.3" cy="1100.6" r="6" fill="none" stroke="#8c8c8c" stroke-width="3.6"/>
<line x1="1276" y1="1124.5" x2="1328" y2="1124.5" stroke="#6bcbb5" stroke-width="3.2"/>
<line x1="1302" y1="1136.9" x2="1302" y2="1112.1" stroke="#6bcbb5" stroke-width="3.2"/>
<line x1="1289" y1="1112.1" x2="1315" y2="1112.1" stroke="#6bcbb5" stroke-width="3.2"/>
<line x1="1289" y1="1136.9" x2="1315" y2="1136.9" stroke="#6bcbb5" stroke-width="3.2"/>
<circle cx="1302" cy="1111.2" r="6" fill="none" stroke="#6bcbb5" stroke-width="3.6"/>
<circle cx="1284" cy="1136" r="6" fill="none" stroke="#6bcbb5" stroke-width="3.6"/>
<circle cx="1320" cy="1127.4" r="6" fill="none" stroke="#6bcbb5" stroke-width="3.6"/>
<line x1="1351.8" y1="1227.7" x2="1403.8" y2="1227.7" stroke="#3a9ade" stroke-width="3.2"/>
<line x1="1377.8" y1="1232.4" x2="1377.8" y2="1222.9" stroke="#3a9ade" stroke-width="3.2"/>
<line x1="1364.8" y1="1222.9" x2="1390.8" y2="1222.9" stroke="#3a9ade" stroke-width="3.2"/>
<line x1="1364.8" y1="1232.4" x2="1390.8" y2="1232.4" stroke="#3a9ade" stroke-width="3.2"/>
<circle cx="1359.8" cy="1233.4" r="6" fill="none" stroke="#3a9ade" stroke-width="3.6"/>
<circle cx="1377.8" cy="1223.8" r="6" fill="none" stroke="#3a9ade" stroke-width="3.6"/>
<circle cx="1395.8" cy="1226.7" r="6" fill="none" stroke="#3a9ade" stroke-width="3.6"/>
<line x1="1427.3" y1="1300.2" x2="1479.3" y2="1300.2" stroke="#e4493a" stroke-width="3.2"/>
<line x1="1453.3" y1="1316.5" x2="1453.3" y2="1284" stroke="#e4493a" stroke-width="3.2"/>
<line x1="1440.3" y1="1284" x2="1466.3" y2="1284" stroke="#e4493a" stroke-width="3.2"/>
<line x1="1440.3" y1="1316.5" x2="1466.3" y2="1316.5" stroke="#e4493a" stroke-width="3.2"/>
<circle cx="1453.3" cy="1281.1" r="6" fill="none" stroke="#e4493a" stroke-width="3.6"/>
<circle cx="1434.8" cy="1313.6" r="6" fill="none" stroke="#e4493a" stroke-width="3.6"/>
<circle cx="1471.3" cy="1306" r="6" fill="none" stroke="#e4493a" stroke-width="3.6"/>
<line x1="1226" y1="1060.1" x2="1300.4" y2="1060.1" stroke="#000" stroke-width="2.2"/>
<text transform="matrix(1 0 0 1.05 1264.7 1054.6)" font-size="29" text-anchor="middle">ns</text>
<line x1="1303.4" y1="1097.4" x2="1377.8" y2="1097.4" stroke="#000" stroke-width="2.2"/>
<text x="1277.7" y="1090.5" font-size="29"><tspan font-style="italic">p</tspan> = 0.0001</text>
<line x1="1380.5" y1="1201.9" x2="1454.6" y2="1201.9" stroke="#000" stroke-width="2.2"/>
<text x="1344.6" y="1191.4" font-size="29"><tspan font-style="italic">p</tspan> = 0.0016</text>
<text transform="translate(1131 1207) rotate(-90) scale(1 1.05)" font-size="32.5" text-anchor="middle">log<tspan dy="8" font-size="23">10</tspan><tspan dy="-8"> CFU/g of tissue</tspan></text>
<line x1="1202.2" y1="2051.7" x2="1202.2" y2="1764.7" stroke="#000" stroke-width="2.2"/>
<line x1="1184.7" y1="2050.7" x2="1502.5" y2="2050.7" stroke="#000" stroke-width="2.2"/>
<line x1="1184.7" y1="2050.7" x2="1202.2" y2="2050.7" stroke="#000" stroke-width="2.2"/>
<text transform="matrix(1 0 0 1.05 1182.7 2062.6)" font-size="33" text-anchor="end">0</text>
<line x1="1184.7" y1="1993.5" x2="1202.2" y2="1993.5" stroke="#000" stroke-width="2.2"/>
<text transform="matrix(1 0 0 1.05 1182.7 2005.4)" font-size="33" text-anchor="end">1</text>
<line x1="1184.7" y1="1936.3" x2="1202.2" y2="1936.3" stroke="#000" stroke-width="2.2"/>
<text transform="matrix(1 0 0 1.05 1182.7 1948.2)" font-size="33" text-anchor="end">2</text>
<line x1="1184.7" y1="1879.1" x2="1202.2" y2="1879.1" stroke="#000" stroke-width="2.2"/>
<text transform="matrix(1 0 0 1.05 1182.7 1891)" font-size="33" text-anchor="end">3</text>
<line x1="1184.7" y1="1821.9" x2="1202.2" y2="1821.9" stroke="#000" stroke-width="2.2"/>
<text transform="matrix(1 0 0 1.05 1182.7 1833.8)" font-size="33" text-anchor="end">4</text>
<line x1="1184.7" y1="1764.7" x2="1202.2" y2="1764.7" stroke="#000" stroke-width="2.2"/>
<text transform="matrix(1 0 0 1.05 1182.7 1776.6)" font-size="33" text-anchor="end">5</text>
<line x1="1248.1" y1="2050.7" x2="1248.1" y2="2068.7" stroke="#000" stroke-width="2.2"/>
<line x1="1317.6" y1="2050.7" x2="1317.6" y2="2068.7" stroke="#000" stroke-width="2.2"/>
<line x1="1386.5" y1="2050.7" x2="1386.5" y2="2068.7" stroke="#000" stroke-width="2.2"/>
<line x1="1456" y1="2050.7" x2="1456" y2="2068.7" stroke="#000" stroke-width="2.2"/>
<line x1="1222.1" y1="1996.4" x2="1274.1" y2="1996.4" stroke="#8c8c8c" stroke-width="3.2"/>
<line x1="1248.1" y1="1998.6" x2="1248.1" y2="1994.1" stroke="#8c8c8c" stroke-width="3.2"/>
<line x1="1235.1" y1="1994.1" x2="1261.1" y2="1994.1" stroke="#8c8c8c" stroke-width="3.2"/>
<line x1="1235.1" y1="1998.6" x2="1261.1" y2="1998.6" stroke="#8c8c8c" stroke-width="3.2"/>
<circle cx="1230.1" cy="1998.1" r="6" fill="none" stroke="#8c8c8c" stroke-width="3.6"/>
<circle cx="1248.1" cy="1994.1" r="6" fill="none" stroke="#8c8c8c" stroke-width="3.6"/>
<circle cx="1266.1" cy="1996.4" r="6" fill="none" stroke="#8c8c8c" stroke-width="3.6"/>
<line x1="1291.6" y1="1991.8" x2="1343.6" y2="1991.8" stroke="#6bcbb5" stroke-width="3.2"/>
<line x1="1317.6" y1="1994.6" x2="1317.6" y2="1988.9" stroke="#6bcbb5" stroke-width="3.2"/>
<line x1="1304.6" y1="1988.9" x2="1330.6" y2="1988.9" stroke="#6bcbb5" stroke-width="3.2"/>
<line x1="1304.6" y1="1994.6" x2="1330.6" y2="1994.6" stroke="#6bcbb5" stroke-width="3.2"/>
<circle cx="1299.6" cy="1994.6" r="6" fill="none" stroke="#6bcbb5" stroke-width="3.6"/>
<circle cx="1317.6" cy="1988.9" r="6" fill="none" stroke="#6bcbb5" stroke-width="3.6"/>
<circle cx="1335.6" cy="1992.4" r="6" fill="none" stroke="#6bcbb5" stroke-width="3.6"/>
<line x1="1360.5" y1="1967.8" x2="1412.5" y2="1967.8" stroke="#3a9ade" stroke-width="3.2"/>
<line x1="1386.5" y1="1972.3" x2="1386.5" y2="1963.2" stroke="#3a9ade" stroke-width="3.2"/>
<line x1="1373.5" y1="1963.2" x2="1399.5" y2="1963.2" stroke="#3a9ade" stroke-width="3.2"/>
<line x1="1373.5" y1="1972.3" x2="1399.5" y2="1972.3" stroke="#3a9ade" stroke-width="3.2"/>
<circle cx="1368.5" cy="1970.6" r="6" fill="none" stroke="#3a9ade" stroke-width="3.6"/>
<circle cx="1386.5" cy="1961.5" r="6" fill="none" stroke="#3a9ade" stroke-width="3.6"/>
<circle cx="1404.5" cy="1970.6" r="6" fill="none" stroke="#3a9ade" stroke-width="3.6"/>
<line x1="1430" y1="1824.8" x2="1482" y2="1824.8" stroke="#e4493a" stroke-width="3.2"/>
<line x1="1456" y1="1833.9" x2="1456" y2="1815.6" stroke="#e4493a" stroke-width="3.2"/>
<line x1="1443" y1="1815.6" x2="1469" y2="1815.6" stroke="#e4493a" stroke-width="3.2"/>
<line x1="1443" y1="1833.9" x2="1469" y2="1833.9" stroke="#e4493a" stroke-width="3.2"/>
<circle cx="1438" cy="1813.3" r="6" fill="none" stroke="#e4493a" stroke-width="3.6"/>
<circle cx="1456" cy="1834.5" r="6" fill="none" stroke="#e4493a" stroke-width="3.6"/>
<circle cx="1474" cy="1823" r="6" fill="none" stroke="#e4493a" stroke-width="3.6"/>
<line x1="1244" y1="1965.1" x2="1315.9" y2="1965.1" stroke="#000" stroke-width="2.2"/>
<text transform="matrix(1 0 0 1.05 1280.3 1960)" font-size="29" text-anchor="middle">ns</text>
<line x1="1314.7" y1="1892.8" x2="1385.9" y2="1892.8" stroke="#000" stroke-width="2.2"/>
<text x="1280.3" y="1883.6" font-size="29"><tspan font-style="italic">p</tspan> = 0.0085</text>
<line x1="1384.8" y1="1798" x2="1456.6" y2="1798" stroke="#000" stroke-width="2.2"/>
<text x="1351.5" y="1790.5" font-size="29"><tspan font-style="italic">p</tspan> &lt; 0.0001</text>
<line x1="1202.2" y1="2412.4" x2="1202.2" y2="2124.8" stroke="#000" stroke-width="2.2"/>
<line x1="1184.7" y1="2411.4" x2="1502.5" y2="2411.4" stroke="#000" stroke-width="2.2"/>
<line x1="1184.7" y1="2411.4" x2="1202.2" y2="2411.4" stroke="#000" stroke-width="2.2"/>
<text transform="matrix(1 0 0 1.05 1182.7 2423.3)" font-size="33" text-anchor="end">0</text>
<line x1="1184.7" y1="2354.1" x2="1202.2" y2="2354.1" stroke="#000" stroke-width="2.2"/>
<text transform="matrix(1 0 0 1.05 1182.7 2366)" font-size="33" text-anchor="end">20</text>
<line x1="1184.7" y1="2296.8" x2="1202.2" y2="2296.8" stroke="#000" stroke-width="2.2"/>
<text transform="matrix(1 0 0 1.05 1182.7 2308.6)" font-size="33" text-anchor="end">40</text>
<line x1="1184.7" y1="2239.4" x2="1202.2" y2="2239.4" stroke="#000" stroke-width="2.2"/>
<text transform="matrix(1 0 0 1.05 1182.7 2251.3)" font-size="33" text-anchor="end">60</text>
<line x1="1184.7" y1="2182.1" x2="1202.2" y2="2182.1" stroke="#000" stroke-width="2.2"/>
<text transform="matrix(1 0 0 1.05 1182.7 2194)" font-size="33" text-anchor="end">80</text>
<line x1="1184.7" y1="2124.8" x2="1202.2" y2="2124.8" stroke="#000" stroke-width="2.2"/>
<text transform="matrix(1 0 0 1.05 1182.7 2136.7)" font-size="33" text-anchor="end">100</text>
<line x1="1248.1" y1="2411.4" x2="1248.1" y2="2429.4" stroke="#000" stroke-width="2.2"/>
<line x1="1317.6" y1="2411.4" x2="1317.6" y2="2429.4" stroke="#000" stroke-width="2.2"/>
<line x1="1386.5" y1="2411.4" x2="1386.5" y2="2429.4" stroke="#000" stroke-width="2.2"/>
<line x1="1456" y1="2411.4" x2="1456" y2="2429.4" stroke="#000" stroke-width="2.2"/>
<line x1="1222.1" y1="2355.5" x2="1274.1" y2="2355.5" stroke="#8c8c8c" stroke-width="3.2"/>
<line x1="1248.1" y1="2369.8" x2="1248.1" y2="2341.2" stroke="#8c8c8c" stroke-width="3.2"/>
<line x1="1235.1" y1="2341.2" x2="1261.1" y2="2341.2" stroke="#8c8c8c" stroke-width="3.2"/>
<line x1="1235.1" y1="2369.8" x2="1261.1" y2="2369.8" stroke="#8c8c8c" stroke-width="3.2"/>
<circle cx="1230.1" cy="2362.7" r="6" fill="none" stroke="#8c8c8c" stroke-width="3.6"/>
<circle cx="1248.1" cy="2338.3" r="6" fill="none" stroke="#8c8c8c" stroke-width="3.6"/>
<circle cx="1266.1" cy="2362.7" r="6" fill="none" stroke="#8c8c8c" stroke-width="3.6"/>
<line x1="1291.6" y1="2369.8" x2="1343.6" y2="2369.8" stroke="#6bcbb5" stroke-width="3.2"/>
<line x1="1317.6" y1="2378.4" x2="1317.6" y2="2361.2" stroke="#6bcbb5" stroke-width="3.2"/>
<line x1="1304.6" y1="2361.2" x2="1330.6" y2="2361.2" stroke="#6bcbb5" stroke-width="3.2"/>
<line x1="1304.6" y1="2378.4" x2="1330.6" y2="2378.4" stroke="#6bcbb5" stroke-width="3.2"/>
<circle cx="1299.6" cy="2374.1" r="6" fill="none" stroke="#6bcbb5" stroke-width="3.6"/>
<circle cx="1317.6" cy="2361.2" r="6" fill="none" stroke="#6bcbb5" stroke-width="3.6"/>
<circle cx="1335.6" cy="2374.1" r="6" fill="none" stroke="#6bcbb5" stroke-width="3.6"/>
<line x1="1360.5" y1="2285.3" x2="1412.5" y2="2285.3" stroke="#3a9ade" stroke-width="3.2"/>
<line x1="1386.5" y1="2291" x2="1386.5" y2="2279.6" stroke="#3a9ade" stroke-width="3.2"/>
<line x1="1373.5" y1="2279.6" x2="1399.5" y2="2279.6" stroke="#3a9ade" stroke-width="3.2"/>
<line x1="1373.5" y1="2291" x2="1399.5" y2="2291" stroke="#3a9ade" stroke-width="3.2"/>
<circle cx="1368.5" cy="2291" r="6" fill="none" stroke="#3a9ade" stroke-width="3.6"/>
<circle cx="1386.5" cy="2279.6" r="6" fill="none" stroke="#3a9ade" stroke-width="3.6"/>
<circle cx="1404.5" cy="2285.3" r="6" fill="none" stroke="#3a9ade" stroke-width="3.6"/>
<line x1="1430" y1="2187" x2="1482" y2="2187" stroke="#e4493a" stroke-width="3.2"/>
<line x1="1456" y1="2191.3" x2="1456" y2="2182.7" stroke="#e4493a" stroke-width="3.2"/>
<line x1="1443" y1="2182.7" x2="1469" y2="2182.7" stroke="#e4493a" stroke-width="3.2"/>
<line x1="1443" y1="2191.3" x2="1469" y2="2191.3" stroke="#e4493a" stroke-width="3.2"/>
<circle cx="1438" cy="2190.7" r="6" fill="none" stroke="#e4493a" stroke-width="3.6"/>
<circle cx="1456" cy="2182.1" r="6" fill="none" stroke="#e4493a" stroke-width="3.6"/>
<circle cx="1474" cy="2187.9" r="6" fill="none" stroke="#e4493a" stroke-width="3.6"/>
<line x1="1244" y1="2314.3" x2="1316" y2="2314.3" stroke="#000" stroke-width="2.2"/>
<text transform="matrix(1 0 0 1.05 1279.7 2305.1)" font-size="29" text-anchor="middle">ns</text>
<line x1="1314.7" y1="2250" x2="1385.9" y2="2250" stroke="#000" stroke-width="2.2"/>
<text x="1281.4" y="2240.8" font-size="29"><tspan font-style="italic">p</tspan> = 0.0002</text>
<line x1="1384.8" y1="2157.5" x2="1456.6" y2="2157.5" stroke="#000" stroke-width="2.2"/>
<text x="1351.5" y="2148.9" font-size="29"><tspan font-style="italic">p</tspan> &lt; 0.0001</text>
<rect x="1718.2" y="2032.7" width="43" height="18" fill="#fff" stroke="#000" stroke-width="2.2"/>
<line x1="1739.7" y1="2039.8" x2="1739.7" y2="2025.5" stroke="#000" stroke-width="2.2"/>
<line x1="1730.7" y1="2025.5" x2="1748.7" y2="2025.5" stroke="#000" stroke-width="2.2"/>
<line x1="1730.7" y1="2039.8" x2="1748.7" y2="2039.8" stroke="#000" stroke-width="2.2"/>
<circle cx="1724.7" cy="2037.5" r="8" fill="#8a8a8a" stroke="#222" stroke-width="1.4"/>
<circle cx="1740.7" cy="2023.8" r="8" fill="#8a8a8a" stroke="#222" stroke-width="1.4"/>
<circle cx="1755.2" cy="2036.4" r="8" fill="#8a8a8a" stroke="#222" stroke-width="1.4"/>
<rect x="1787.7" y="1989.8" width="43" height="60.9" fill="#fff" stroke="#000" stroke-width="2.2"/>
<line x1="1809.2" y1="2002.7" x2="1809.2" y2="1976.9" stroke="#000" stroke-width="2.2"/>
<line x1="1800.2" y1="1976.9" x2="1818.2" y2="1976.9" stroke="#000" stroke-width="2.2"/>
<line x1="1800.2" y1="2002.7" x2="1818.2" y2="2002.7" stroke="#000" stroke-width="2.2"/>
<circle cx="1794.2" cy="2002.1" r="8" fill="#72d0bb" stroke="#222" stroke-width="1.4"/>
<circle cx="1810.2" cy="1977.8" r="8" fill="#72d0bb" stroke="#222" stroke-width="1.4"/>
<circle cx="1825.2" cy="1989.2" r="8" fill="#72d0bb" stroke="#222" stroke-width="1.4"/>
<rect x="1856.6" y="1907.7" width="43" height="143" fill="#fff" stroke="#000" stroke-width="2.2"/>
<line x1="1878.1" y1="1926.3" x2="1878.1" y2="1889.1" stroke="#000" stroke-width="2.2"/>
<line x1="1869.1" y1="1889.1" x2="1887.1" y2="1889.1" stroke="#000" stroke-width="2.2"/>
<line x1="1869.1" y1="1926.3" x2="1887.1" y2="1926.3" stroke="#000" stroke-width="2.2"/>
<circle cx="1863.1" cy="1922" r="8" fill="#3f9fe3" stroke="#222" stroke-width="1.4"/>
<circle cx="1879.1" cy="1887.7" r="8" fill="#3f9fe3" stroke="#222" stroke-width="1.4"/>
<circle cx="1894.1" cy="1912" r="8" fill="#3f9fe3" stroke="#222" stroke-width="1.4"/>
<rect x="1926.1" y="1821.9" width="43" height="228.8" fill="#fff" stroke="#000" stroke-width="2.2"/>
<line x1="1947.6" y1="1840.5" x2="1947.6" y2="1803.3" stroke="#000" stroke-width="2.2"/>
<line x1="1938.6" y1="1803.3" x2="1956.6" y2="1803.3" stroke="#000" stroke-width="2.2"/>
<line x1="1938.6" y1="1840.5" x2="1956.6" y2="1840.5" stroke="#000" stroke-width="2.2"/>
<circle cx="1932.6" cy="1831.9" r="8" fill="#e8483a" stroke="#222" stroke-width="1.4"/>
<circle cx="1948.6" cy="1801.9" r="8" fill="#e8483a" stroke="#222" stroke-width="1.4"/>
<circle cx="1963.6" cy="1827.6" r="8" fill="#e8483a" stroke="#222" stroke-width="1.4"/>
<line x1="1693.8" y1="2051.7" x2="1693.8" y2="1764.7" stroke="#000" stroke-width="2.2"/>
<line x1="1677.3" y1="2050.7" x2="1997" y2="2050.7" stroke="#000" stroke-width="2.2"/>
<line x1="1677.3" y1="2050.7" x2="1693.8" y2="2050.7" stroke="#000" stroke-width="2.2"/>
<text transform="matrix(1 0 0 1.05 1675.3 2062.6)" font-size="33" text-anchor="end">0</text>
<line x1="1677.3" y1="1993.5" x2="1693.8" y2="1993.5" stroke="#000" stroke-width="2.2"/>
<text transform="matrix(1 0 0 1.05 1675.3 2005.4)" font-size="33" text-anchor="end">20</text>
<line x1="1677.3" y1="1936.3" x2="1693.8" y2="1936.3" stroke="#000" stroke-width="2.2"/>
<text transform="matrix(1 0 0 1.05 1675.3 1948.2)" font-size="33" text-anchor="end">40</text>
<line x1="1677.3" y1="1879.1" x2="1693.8" y2="1879.1" stroke="#000" stroke-width="2.2"/>
<text transform="matrix(1 0 0 1.05 1675.3 1891)" font-size="33" text-anchor="end">60</text>
<line x1="1677.3" y1="1821.9" x2="1693.8" y2="1821.9" stroke="#000" stroke-width="2.2"/>
<text transform="matrix(1 0 0 1.05 1675.3 1833.8)" font-size="33" text-anchor="end">80</text>
<line x1="1677.3" y1="1764.7" x2="1693.8" y2="1764.7" stroke="#000" stroke-width="2.2"/>
<text transform="matrix(1 0 0 1.05 1675.3 1776.6)" font-size="33" text-anchor="end">100</text>
<line x1="1739.7" y1="2050.7" x2="1739.7" y2="2068.7" stroke="#000" stroke-width="2.2"/>
<line x1="1809.2" y1="2050.7" x2="1809.2" y2="2068.7" stroke="#000" stroke-width="2.2"/>
<line x1="1878.1" y1="2050.7" x2="1878.1" y2="2068.7" stroke="#000" stroke-width="2.2"/>
<line x1="1947.6" y1="2050.7" x2="1947.6" y2="2068.7" stroke="#000" stroke-width="2.2"/>
<line x1="1740.9" y1="1957.1" x2="1809.8" y2="1957.1" stroke="#000" stroke-width="2.2"/>
<text x="1705" y="1949.6" font-size="29"><tspan font-style="italic">p</tspan> = 0.0072</text>
<line x1="1809.8" y1="1868.6" x2="1878" y2="1868.6" stroke="#000" stroke-width="2.2"/>
<text x="1774.5" y="1857.7" font-size="29"><tspan font-style="italic">p</tspan> = 0.0029</text>
<line x1="1878" y1="1786" x2="1947" y2="1786" stroke="#000" stroke-width="2.2"/>
<text x="1843.5" y="1779" font-size="29"><tspan font-style="italic">p</tspan> = 0.0046</text>
<rect x="1718.2" y="2356.9" width="43" height="54.5" fill="#fff" stroke="#000" stroke-width="2.2"/>
<line x1="1739.7" y1="2364.4" x2="1739.7" y2="2349.5" stroke="#000" stroke-width="2.2"/>
<line x1="1730.7" y1="2349.5" x2="1748.7" y2="2349.5" stroke="#000" stroke-width="2.2"/>
<line x1="1730.7" y1="2364.4" x2="1748.7" y2="2364.4" stroke="#000" stroke-width="2.2"/>
<circle cx="1724.7" cy="2364.4" r="8" fill="#8a8a8a" stroke="#222" stroke-width="1.4"/>
<circle cx="1740.7" cy="2350.6" r="8" fill="#8a8a8a" stroke="#222" stroke-width="1.4"/>
<circle cx="1755.7" cy="2354.7" r="8" fill="#8a8a8a" stroke="#222" stroke-width="1.4"/>
<rect x="1787.7" y="2331.2" width="43" height="80.2" fill="#fff" stroke="#000" stroke-width="2.2"/>
<line x1="1809.2" y1="2338" x2="1809.2" y2="2324.3" stroke="#000" stroke-width="2.2"/>
<line x1="1800.2" y1="2324.3" x2="1818.2" y2="2324.3" stroke="#000" stroke-width="2.2"/>
<line x1="1800.2" y1="2338" x2="1818.2" y2="2338" stroke="#000" stroke-width="2.2"/>
<circle cx="1794.2" cy="2335.7" r="8" fill="#72d0bb" stroke="#222" stroke-width="1.4"/>
<circle cx="1810.2" cy="2323.1" r="8" fill="#72d0bb" stroke="#222" stroke-width="1.4"/>
<circle cx="1825.2" cy="2335.2" r="8" fill="#72d0bb" stroke="#222" stroke-width="1.4"/>
<rect x="1856.6" y="2255.5" width="43" height="155.9" fill="#fff" stroke="#000" stroke-width="2.2"/>
<line x1="1878.1" y1="2264.1" x2="1878.1" y2="2246.9" stroke="#000" stroke-width="2.2"/>
<line x1="1869.1" y1="2246.9" x2="1887.1" y2="2246.9" stroke="#000" stroke-width="2.2"/>
<line x1="1869.1" y1="2264.1" x2="1887.1" y2="2264.1" stroke="#000" stroke-width="2.2"/>
<circle cx="1863.1" cy="2261.2" r="8" fill="#3f9fe3" stroke="#222" stroke-width="1.4"/>
<circle cx="1879.1" cy="2245.7" r="8" fill="#3f9fe3" stroke="#222" stroke-width="1.4"/>
<circle cx="1894.1" cy="2259.5" r="8" fill="#3f9fe3" stroke="#222" stroke-width="1.4"/>
<rect x="1926.1" y="2178.7" width="43" height="232.7" fill="#fff" stroke="#000" stroke-width="2.2"/>
<line x1="1947.6" y1="2191.9" x2="1947.6" y2="2165.5" stroke="#000" stroke-width="2.2"/>
<line x1="1938.6" y1="2165.5" x2="1956.6" y2="2165.5" stroke="#000" stroke-width="2.2"/>
<line x1="1938.6" y1="2191.9" x2="1956.6" y2="2191.9" stroke="#000" stroke-width="2.2"/>
<circle cx="1932.6" cy="2190.7" r="8" fill="#e8483a" stroke="#222" stroke-width="1.4"/>
<circle cx="1948.6" cy="2163.2" r="8" fill="#e8483a" stroke="#222" stroke-width="1.4"/>
<circle cx="1963.6" cy="2182.1" r="8" fill="#e8483a" stroke="#222" stroke-width="1.4"/>
<line x1="1693.8" y1="2412.4" x2="1693.8" y2="2124.8" stroke="#000" stroke-width="2.2"/>
<line x1="1677.3" y1="2411.4" x2="1997" y2="2411.4" stroke="#000" stroke-width="2.2"/>
<line x1="1677.3" y1="2411.4" x2="1693.8" y2="2411.4" stroke="#000" stroke-width="2.2"/>
<text transform="matrix(1 0 0 1.05 1675.3 2423.3)" font-size="33" text-anchor="end">0</text>
<line x1="1677.3" y1="2354.1" x2="1693.8" y2="2354.1" stroke="#000" stroke-width="2.2"/>
<text transform="matrix(1 0 0 1.05 1675.3 2366)" font-size="33" text-anchor="end">1000</text>
<line x1="1677.3" y1="2296.8" x2="1693.8" y2="2296.8" stroke="#000" stroke-width="2.2"/>
<text transform="matrix(1 0 0 1.05 1675.3 2308.6)" font-size="33" text-anchor="end">2000</text>
<line x1="1677.3" y1="2239.4" x2="1693.8" y2="2239.4" stroke="#000" stroke-width="2.2"/>
<text transform="matrix(1 0 0 1.05 1675.3 2251.3)" font-size="33" text-anchor="end">3000</text>
<line x1="1677.3" y1="2182.1" x2="1693.8" y2="2182.1" stroke="#000" stroke-width="2.2"/>
<text transform="matrix(1 0 0 1.05 1675.3 2194)" font-size="33" text-anchor="end">4000</text>
<line x1="1677.3" y1="2124.8" x2="1693.8" y2="2124.8" stroke="#000" stroke-width="2.2"/>
<text transform="matrix(1 0 0 1.05 1675.3 2136.7)" font-size="33" text-anchor="end">5000</text>
<line x1="1739.7" y1="2411.4" x2="1739.7" y2="2429.4" stroke="#000" stroke-width="2.2"/>
<line x1="1809.2" y1="2411.4" x2="1809.2" y2="2429.4" stroke="#000" stroke-width="2.2"/>
<line x1="1878.1" y1="2411.4" x2="1878.1" y2="2429.4" stroke="#000" stroke-width="2.2"/>
<line x1="1947.6" y1="2411.4" x2="1947.6" y2="2429.4" stroke="#000" stroke-width="2.2"/>
<line x1="1740.9" y1="2299.4" x2="1809.8" y2="2299.4" stroke="#000" stroke-width="2.2"/>
<text x="1705" y="2292.5" font-size="29"><tspan font-style="italic">p</tspan> = 0.0081</text>
<line x1="1809.8" y1="2223.6" x2="1878" y2="2223.6" stroke="#000" stroke-width="2.2"/>
<text x="1774.5" y="2215" font-size="29"><tspan font-style="italic">p</tspan> = 0.0003</text>
<line x1="1878" y1="2146" x2="1947" y2="2146" stroke="#000" stroke-width="2.2"/>
<text x="1843.5" y="2137.4" font-size="29"><tspan font-style="italic">p</tspan> = 0.0012</text>
<text transform="translate(1101.4 1907.5) rotate(-90)" font-size="33.5" text-anchor="middle">IgG<tspan dy="-12" font-size="22">+</tspan><tspan dy="12">IgD<tspan dy="-12" font-size="22">-</tspan><tspan dy="12"> cells</tspan></tspan></text>
<text transform="translate(1141.2 1907.5) rotate(-90)" font-size="33.5" text-anchor="middle">in B220<tspan dy="-12" font-size="22">+</tspan><tspan dy="12"> cells (%)</tspan></text>
<text transform="translate(1075.6 2268) rotate(-90)" font-size="33.5" text-anchor="middle">CD80<tspan dy="-12" font-size="22">+</tspan><tspan dy="12"> cells in</tspan></text>
<text transform="translate(1115.4 2268) rotate(-90)" font-size="33.5" text-anchor="middle">IgG<tspan dy="-12" font-size="22">+</tspan><tspan dy="12">IgD<tspan dy="-12" font-size="22">-</tspan><tspan dy="12"> cells (%)</tspan></tspan></text>
<text transform="translate(1601.7 1907.3) rotate(-90)" font-size="33.5" text-anchor="middle">IL1β (pg mL<tspan dy="-12" font-size="22">-1</tspan><tspan dy="12">)</tspan></text>
<text transform="translate(1582.2 2269) rotate(-90)" font-size="33.5" text-anchor="middle">IgG（μg mL<tspan dy="-12" font-size="22">-1</tspan><tspan dy="12">)</tspan></text>
<text transform="matrix(1 0 0 1.05 2.4 53.8)" font-size="41">a</text>
<text transform="matrix(1 0 0 1.05 0.1 667.7)" font-size="41">b</text>
<text transform="matrix(1 0 0 1.05 0.8 1072)" font-size="41">c</text>
<text transform="matrix(1 0 0 1.05 639.2 1064.2)" font-size="41">d</text>
<text transform="matrix(1 0 0 1.05 1076.4 1064)" font-size="41">e</text>
<text transform="matrix(1 0 0 1.05 1760.3 678.9)" font-size="41">f</text>
<text transform="matrix(1 0 0 1.05 -0.3 1459.4)" font-size="41">g</text>
<text transform="matrix(1 0 0 1.05 1001.3 1465.3)" font-size="41">h</text>
<text transform="matrix(1 0 0 1.05 5.5 1789.3)" font-size="41">i</text>
<text transform="matrix(1 0 0 1.05 1056.4 1789.3)" font-size="41">j</text>
<text transform="matrix(1 0 0 1.05 1546.7 1792.2)" font-size="41">m</text>
<text transform="matrix(1 0 0 1.05 2.3 2126.3)" font-size="41">k</text>
<text transform="matrix(1 0 0 1.05 1056 2127.3)" font-size="41">l</text>
<text transform="matrix(1 0 0 1.05 1556 2126.5)" font-size="41">n</text>
<text transform="matrix(1 0 0 1.05 132.6 1465.3)" font-size="40.2" text-anchor="middle">Control</text>
<text transform="matrix(1 0 0 1.05 372.2 1464.2)" font-size="40.2" text-anchor="middle">Van</text>
<text transform="matrix(1 0 0 1.05 629.4 1464.2)" font-size="40.2" text-anchor="middle">MPS1</text>
<text transform="matrix(1 0 0 1.05 864.7 1462.6)" font-size="40.2" text-anchor="middle">MPS2</text>
<text transform="matrix(1 0 0 1.05 1133.2 1465.3)" font-size="40.2" text-anchor="middle">Control</text>
<text transform="matrix(1 0 0 1.05 1372.2 1464.8)" font-size="40.2" text-anchor="middle">Van</text>
<text transform="matrix(1 0 0 1.05 1630.3 1463)" font-size="40.2" text-anchor="middle">MPS1</text>
<text transform="matrix(1 0 0 1.05 1865.3 1463)" font-size="40.2" text-anchor="middle">MPS2</text>
<text transform="matrix(1 0 0 1.05 153.7 1793.7)" font-size="40.2" text-anchor="middle">Control</text>
<text transform="matrix(1 0 0 1.05 392.5 1793.7)" font-size="40.2" text-anchor="middle">Van</text>
<text transform="matrix(1 0 0 1.05 625.4 1793.7)" font-size="40.2" text-anchor="middle">MPS1</text>
<text transform="matrix(1 0 0 1.05 855.7 1793.7)" font-size="40.2" text-anchor="middle">MPS2</text>
</svg>
</body></html>
